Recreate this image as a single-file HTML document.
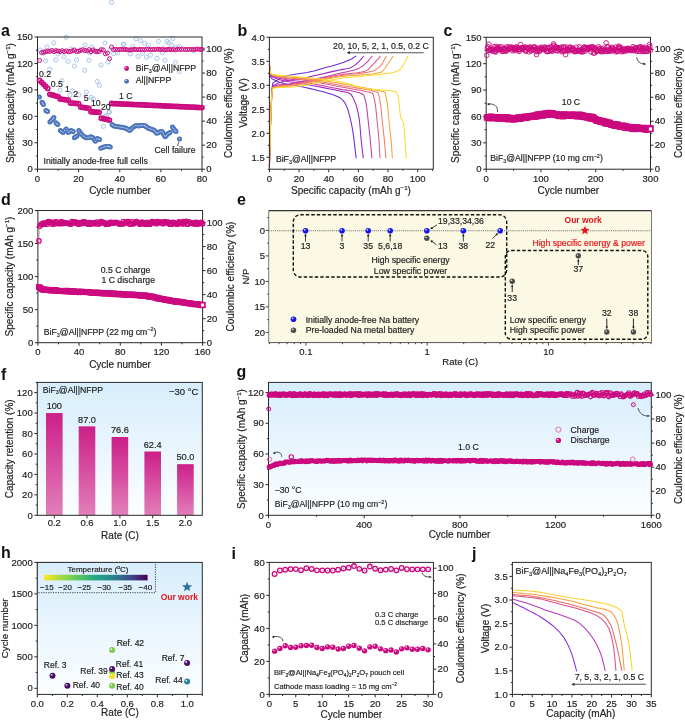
<!DOCTYPE html>
<html><head><meta charset="utf-8"><style>
html,body{margin:0;padding:0;background:#fff;}
svg{display:block;font-family:"Liberation Sans",sans-serif;will-change:transform;}
</style></head><body>
<svg width="685" height="720" viewBox="0 0 685 720">
<rect width="685" height="720" fill="#fff"/>
<defs><linearGradient id="gblue" x1="0" y1="0" x2="0" y2="1"><stop offset="0" stop-color="#d7edfc"/><stop offset="1" stop-color="#fcfeff"/></linearGradient><linearGradient id="gbar" x1="0" y1="0" x2="0" y2="1"><stop offset="0" stop-color="#cc1f88"/><stop offset="1" stop-color="#e27fba"/></linearGradient><linearGradient id="gvir" x1="0" y1="0" x2="1" y2="0"><stop offset="0" stop-color="#fde725"/><stop offset="0.25" stop-color="#7ad151"/><stop offset="0.5" stop-color="#22a884"/><stop offset="0.7" stop-color="#2a788e"/><stop offset="0.85" stop-color="#414487"/><stop offset="1" stop-color="#440154"/></linearGradient></defs>
<text x="1" y="36.4" font-size="16" text-anchor="start" fill="#111" font-weight="bold" >a</text>
<circle cx="111.6" cy="2.4" r="2.1" fill="none" stroke="#8fb0e0" stroke-width="0.7"/>
<circle cx="111.6" cy="2.4" r="0.45" fill="#8fb0e0"/>
<circle cx="66.1" cy="37.2" r="2.1" fill="none" stroke="#8fb0e0" stroke-width="0.7"/>
<circle cx="66.1" cy="37.2" r="0.45" fill="#8fb0e0"/>
<circle cx="53.8" cy="42.7" r="2.1" fill="none" stroke="#8fb0e0" stroke-width="0.7"/>
<circle cx="53.8" cy="42.7" r="0.45" fill="#8fb0e0"/>
<circle cx="58" cy="53.9" r="2.1" fill="none" stroke="#8fb0e0" stroke-width="0.7"/>
<circle cx="58" cy="53.9" r="0.45" fill="#8fb0e0"/>
<circle cx="63.9" cy="56.8" r="2.1" fill="none" stroke="#8fb0e0" stroke-width="0.7"/>
<circle cx="63.9" cy="56.8" r="0.45" fill="#8fb0e0"/>
<circle cx="43.5" cy="53.2" r="2.1" fill="none" stroke="#8fb0e0" stroke-width="0.7"/>
<circle cx="43.5" cy="53.2" r="0.45" fill="#8fb0e0"/>
<circle cx="45.5" cy="60.7" r="2.1" fill="none" stroke="#8fb0e0" stroke-width="0.7"/>
<circle cx="45.5" cy="60.7" r="0.45" fill="#8fb0e0"/>
<circle cx="55.8" cy="59.8" r="2.1" fill="none" stroke="#8fb0e0" stroke-width="0.7"/>
<circle cx="55.8" cy="59.8" r="0.45" fill="#8fb0e0"/>
<circle cx="68.2" cy="61.4" r="2.1" fill="none" stroke="#8fb0e0" stroke-width="0.7"/>
<circle cx="68.2" cy="61.4" r="0.45" fill="#8fb0e0"/>
<circle cx="76.5" cy="59.8" r="2.1" fill="none" stroke="#8fb0e0" stroke-width="0.7"/>
<circle cx="76.5" cy="59.8" r="0.45" fill="#8fb0e0"/>
<circle cx="74.4" cy="66.1" r="2.1" fill="none" stroke="#8fb0e0" stroke-width="0.7"/>
<circle cx="74.4" cy="66.1" r="0.45" fill="#8fb0e0"/>
<circle cx="88.9" cy="60.4" r="2.1" fill="none" stroke="#8fb0e0" stroke-width="0.7"/>
<circle cx="88.9" cy="60.4" r="0.45" fill="#8fb0e0"/>
<circle cx="84.7" cy="70.3" r="2.1" fill="none" stroke="#8fb0e0" stroke-width="0.7"/>
<circle cx="84.7" cy="70.3" r="0.45" fill="#8fb0e0"/>
<circle cx="49.7" cy="69.2" r="2.1" fill="none" stroke="#8fb0e0" stroke-width="0.7"/>
<circle cx="49.7" cy="69.2" r="0.45" fill="#8fb0e0"/>
<circle cx="113.6" cy="53.6" r="2.1" fill="none" stroke="#8fb0e0" stroke-width="0.7"/>
<circle cx="113.6" cy="53.6" r="0.45" fill="#8fb0e0"/>
<circle cx="123.3" cy="44.4" r="2.1" fill="none" stroke="#8fb0e0" stroke-width="0.7"/>
<circle cx="123.3" cy="44.4" r="0.45" fill="#8fb0e0"/>
<circle cx="61.9" cy="80.8" r="2.1" fill="none" stroke="#8fb0e0" stroke-width="0.7"/>
<circle cx="61.9" cy="80.8" r="0.45" fill="#8fb0e0"/>
<circle cx="97.1" cy="81.5" r="2.1" fill="none" stroke="#8fb0e0" stroke-width="0.7"/>
<circle cx="97.1" cy="81.5" r="0.45" fill="#8fb0e0"/>
<circle cx="99.4" cy="85.4" r="2.1" fill="none" stroke="#8fb0e0" stroke-width="0.7"/>
<circle cx="99.4" cy="85.4" r="0.45" fill="#8fb0e0"/>
<circle cx="136" cy="38.8" r="2.1" fill="none" stroke="#8fb0e0" stroke-width="0.7"/>
<circle cx="136" cy="38.8" r="0.45" fill="#8fb0e0"/>
<circle cx="140.6" cy="40.7" r="2.1" fill="none" stroke="#8fb0e0" stroke-width="0.7"/>
<circle cx="140.6" cy="40.7" r="0.45" fill="#8fb0e0"/>
<circle cx="144.6" cy="43.4" r="2.1" fill="none" stroke="#8fb0e0" stroke-width="0.7"/>
<circle cx="144.6" cy="43.4" r="0.45" fill="#8fb0e0"/>
<circle cx="123.9" cy="44.4" r="2.1" fill="none" stroke="#8fb0e0" stroke-width="0.7"/>
<circle cx="123.9" cy="44.4" r="0.45" fill="#8fb0e0"/>
<circle cx="132.7" cy="46.6" r="2.1" fill="none" stroke="#8fb0e0" stroke-width="0.7"/>
<circle cx="132.7" cy="46.6" r="0.45" fill="#8fb0e0"/>
<circle cx="148.5" cy="45.3" r="2.1" fill="none" stroke="#8fb0e0" stroke-width="0.7"/>
<circle cx="148.5" cy="45.3" r="0.45" fill="#8fb0e0"/>
<circle cx="158.4" cy="41.4" r="2.1" fill="none" stroke="#8fb0e0" stroke-width="0.7"/>
<circle cx="158.4" cy="41.4" r="0.45" fill="#8fb0e0"/>
<circle cx="166.9" cy="41.4" r="2.1" fill="none" stroke="#8fb0e0" stroke-width="0.7"/>
<circle cx="166.9" cy="41.4" r="0.45" fill="#8fb0e0"/>
<circle cx="168.9" cy="42.7" r="2.1" fill="none" stroke="#8fb0e0" stroke-width="0.7"/>
<circle cx="168.9" cy="42.7" r="0.45" fill="#8fb0e0"/>
<circle cx="172.8" cy="38.4" r="2.1" fill="none" stroke="#8fb0e0" stroke-width="0.7"/>
<circle cx="172.8" cy="38.4" r="0.45" fill="#8fb0e0"/>
<circle cx="171.5" cy="45.3" r="2.1" fill="none" stroke="#8fb0e0" stroke-width="0.7"/>
<circle cx="171.5" cy="45.3" r="0.45" fill="#8fb0e0"/>
<circle cx="176.1" cy="47.3" r="2.1" fill="none" stroke="#8fb0e0" stroke-width="0.7"/>
<circle cx="176.1" cy="47.3" r="0.45" fill="#8fb0e0"/>
<circle cx="179.4" cy="46.6" r="2.1" fill="none" stroke="#8fb0e0" stroke-width="0.7"/>
<circle cx="179.4" cy="46.6" r="0.45" fill="#8fb0e0"/>
<circle cx="117.6" cy="52.6" r="2.1" fill="none" stroke="#8fb0e0" stroke-width="0.7"/>
<circle cx="117.6" cy="52.6" r="0.45" fill="#8fb0e0"/>
<circle cx="130.1" cy="53.9" r="2.1" fill="none" stroke="#8fb0e0" stroke-width="0.7"/>
<circle cx="130.1" cy="53.9" r="0.45" fill="#8fb0e0"/>
<circle cx="138" cy="56.5" r="2.1" fill="none" stroke="#8fb0e0" stroke-width="0.7"/>
<circle cx="138" cy="56.5" r="0.45" fill="#8fb0e0"/>
<circle cx="146.5" cy="57.2" r="2.1" fill="none" stroke="#8fb0e0" stroke-width="0.7"/>
<circle cx="146.5" cy="57.2" r="0.45" fill="#8fb0e0"/>
<circle cx="150.5" cy="55.2" r="2.1" fill="none" stroke="#8fb0e0" stroke-width="0.7"/>
<circle cx="150.5" cy="55.2" r="0.45" fill="#8fb0e0"/>
<circle cx="142.6" cy="53.2" r="2.1" fill="none" stroke="#8fb0e0" stroke-width="0.7"/>
<circle cx="142.6" cy="53.2" r="0.45" fill="#8fb0e0"/>
<circle cx="157" cy="58.5" r="2.1" fill="none" stroke="#8fb0e0" stroke-width="0.7"/>
<circle cx="157" cy="58.5" r="0.45" fill="#8fb0e0"/>
<circle cx="164.9" cy="60.4" r="2.1" fill="none" stroke="#8fb0e0" stroke-width="0.7"/>
<circle cx="164.9" cy="60.4" r="0.45" fill="#8fb0e0"/>
<circle cx="162.3" cy="52.6" r="2.1" fill="none" stroke="#8fb0e0" stroke-width="0.7"/>
<circle cx="162.3" cy="52.6" r="0.45" fill="#8fb0e0"/>
<circle cx="175.4" cy="62.4" r="2.1" fill="none" stroke="#8fb0e0" stroke-width="0.7"/>
<circle cx="175.4" cy="62.4" r="0.45" fill="#8fb0e0"/>
<circle cx="179.4" cy="71.6" r="2.1" fill="none" stroke="#8fb0e0" stroke-width="0.7"/>
<circle cx="179.4" cy="71.6" r="0.45" fill="#8fb0e0"/>
<circle cx="193.8" cy="50.6" r="2.1" fill="none" stroke="#8fb0e0" stroke-width="0.7"/>
<circle cx="193.8" cy="50.6" r="0.45" fill="#8fb0e0"/>
<circle cx="40" cy="50" r="2.1" fill="none" stroke="#8fb0e0" stroke-width="0.7"/>
<circle cx="40" cy="50" r="0.45" fill="#8fb0e0"/>
<circle cx="47" cy="47" r="2.1" fill="none" stroke="#8fb0e0" stroke-width="0.7"/>
<circle cx="47" cy="47" r="0.45" fill="#8fb0e0"/>
<circle cx="71" cy="49" r="2.1" fill="none" stroke="#8fb0e0" stroke-width="0.7"/>
<circle cx="71" cy="49" r="0.45" fill="#8fb0e0"/>
<circle cx="80" cy="50" r="2.1" fill="none" stroke="#8fb0e0" stroke-width="0.7"/>
<circle cx="80" cy="50" r="0.45" fill="#8fb0e0"/>
<circle cx="92" cy="47" r="2.1" fill="none" stroke="#8fb0e0" stroke-width="0.7"/>
<circle cx="92" cy="47" r="0.45" fill="#8fb0e0"/>
<circle cx="96" cy="52" r="2.1" fill="none" stroke="#8fb0e0" stroke-width="0.7"/>
<circle cx="96" cy="52" r="0.45" fill="#8fb0e0"/>
<circle cx="105" cy="43" r="2.1" fill="none" stroke="#8fb0e0" stroke-width="0.7"/>
<circle cx="105" cy="43" r="0.45" fill="#8fb0e0"/>
<circle cx="108" cy="62" r="2.1" fill="none" stroke="#8fb0e0" stroke-width="0.7"/>
<circle cx="108" cy="62" r="0.45" fill="#8fb0e0"/>
<circle cx="101" cy="65" r="2.1" fill="none" stroke="#8fb0e0" stroke-width="0.7"/>
<circle cx="101" cy="65" r="0.45" fill="#8fb0e0"/>
<circle cx="110" cy="50" r="2.1" fill="none" stroke="#8fb0e0" stroke-width="0.7"/>
<circle cx="110" cy="50" r="0.45" fill="#8fb0e0"/>
<circle cx="90" cy="53" r="2.1" fill="none" stroke="#8fb0e0" stroke-width="0.7"/>
<circle cx="90" cy="53" r="0.45" fill="#8fb0e0"/>
<circle cx="85" cy="45" r="2.1" fill="none" stroke="#8fb0e0" stroke-width="0.7"/>
<circle cx="85" cy="45" r="0.45" fill="#8fb0e0"/>
<circle cx="60.1" cy="90.2" r="2.1" fill="none" stroke="#8fb0e0" stroke-width="0.7"/>
<circle cx="60.1" cy="90.2" r="0.45" fill="#8fb0e0"/>
<circle cx="72.4" cy="90.8" r="2.1" fill="none" stroke="#8fb0e0" stroke-width="0.7"/>
<circle cx="72.4" cy="90.8" r="0.45" fill="#8fb0e0"/>
<circle cx="70" cy="94.9" r="2.1" fill="none" stroke="#8fb0e0" stroke-width="0.7"/>
<circle cx="70" cy="94.9" r="0.45" fill="#8fb0e0"/>
<circle cx="78.8" cy="94.9" r="2.1" fill="none" stroke="#8fb0e0" stroke-width="0.7"/>
<circle cx="78.8" cy="94.9" r="0.45" fill="#8fb0e0"/>
<circle cx="86.4" cy="91.9" r="2.1" fill="none" stroke="#8fb0e0" stroke-width="0.7"/>
<circle cx="86.4" cy="91.9" r="0.45" fill="#8fb0e0"/>
<circle cx="91.1" cy="97.2" r="2.1" fill="none" stroke="#8fb0e0" stroke-width="0.7"/>
<circle cx="91.1" cy="97.2" r="0.45" fill="#8fb0e0"/>
<circle cx="93.4" cy="99" r="2.1" fill="none" stroke="#8fb0e0" stroke-width="0.7"/>
<circle cx="93.4" cy="99" r="0.45" fill="#8fb0e0"/>
<circle cx="109.2" cy="111.8" r="2.1" fill="none" stroke="#8fb0e0" stroke-width="0.7"/>
<circle cx="109.2" cy="111.8" r="0.45" fill="#8fb0e0"/>
<circle cx="105.1" cy="115.9" r="2.1" fill="none" stroke="#8fb0e0" stroke-width="0.7"/>
<circle cx="105.1" cy="115.9" r="0.45" fill="#8fb0e0"/>
<circle cx="103.3" cy="126.4" r="2.1" fill="none" stroke="#8fb0e0" stroke-width="0.7"/>
<circle cx="103.3" cy="126.4" r="0.45" fill="#8fb0e0"/>
<circle cx="106.6" cy="115.9" r="2.1" fill="none" stroke="#8fb0e0" stroke-width="0.7"/>
<circle cx="106.6" cy="115.9" r="0.45" fill="#8fb0e0"/>
<circle cx="109.2" cy="112" r="2.1" fill="none" stroke="#8fb0e0" stroke-width="0.7"/>
<circle cx="109.2" cy="112" r="0.45" fill="#8fb0e0"/>
<rect x="37.5" y="37" width="164.5" height="132.2" fill="none" stroke="#2a2a2a" stroke-width="1"/>
<line x1="37.5" y1="169.2" x2="37.5" y2="172.2" stroke="#2a2a2a" stroke-width="1" />
<text x="37.5" y="181.5" font-size="9.5" text-anchor="middle" fill="#222" stroke="#222" stroke-width="0.18" >0</text>
<line x1="78.62" y1="169.2" x2="78.62" y2="172.2" stroke="#2a2a2a" stroke-width="1" />
<text x="78.62" y="181.5" font-size="9.5" text-anchor="middle" fill="#222" stroke="#222" stroke-width="0.18" >20</text>
<line x1="119.75" y1="169.2" x2="119.75" y2="172.2" stroke="#2a2a2a" stroke-width="1" />
<text x="119.75" y="181.5" font-size="9.5" text-anchor="middle" fill="#222" stroke="#222" stroke-width="0.18" >40</text>
<line x1="160.88" y1="169.2" x2="160.88" y2="172.2" stroke="#2a2a2a" stroke-width="1" />
<text x="160.88" y="181.5" font-size="9.5" text-anchor="middle" fill="#222" stroke="#222" stroke-width="0.18" >60</text>
<line x1="202" y1="169.2" x2="202" y2="172.2" stroke="#2a2a2a" stroke-width="1" />
<text x="202" y="181.5" font-size="9.5" text-anchor="middle" fill="#222" stroke="#222" stroke-width="0.18" >80</text>
<line x1="58.06" y1="169.2" x2="58.06" y2="170.8" stroke="#2a2a2a" stroke-width="1" />
<line x1="99.19" y1="169.2" x2="99.19" y2="170.8" stroke="#2a2a2a" stroke-width="1" />
<line x1="140.31" y1="169.2" x2="140.31" y2="170.8" stroke="#2a2a2a" stroke-width="1" />
<line x1="181.44" y1="169.2" x2="181.44" y2="170.8" stroke="#2a2a2a" stroke-width="1" />
<line x1="34.5" y1="169.2" x2="37.5" y2="169.2" stroke="#2a2a2a" stroke-width="1" />
<text x="32.9" y="172.4" font-size="9.5" text-anchor="end" fill="#222" stroke="#222" stroke-width="0.18" >0</text>
<line x1="34.5" y1="142.76" x2="37.5" y2="142.76" stroke="#2a2a2a" stroke-width="1" />
<text x="32.9" y="145.96" font-size="9.5" text-anchor="end" fill="#222" stroke="#222" stroke-width="0.18" >30</text>
<line x1="34.5" y1="116.32" x2="37.5" y2="116.32" stroke="#2a2a2a" stroke-width="1" />
<text x="32.9" y="119.52" font-size="9.5" text-anchor="end" fill="#222" stroke="#222" stroke-width="0.18" >60</text>
<line x1="34.5" y1="89.88" x2="37.5" y2="89.88" stroke="#2a2a2a" stroke-width="1" />
<text x="32.9" y="93.08" font-size="9.5" text-anchor="end" fill="#222" stroke="#222" stroke-width="0.18" >90</text>
<line x1="34.5" y1="63.44" x2="37.5" y2="63.44" stroke="#2a2a2a" stroke-width="1" />
<text x="32.9" y="66.64" font-size="9.5" text-anchor="end" fill="#222" stroke="#222" stroke-width="0.18" >120</text>
<line x1="34.5" y1="37" x2="37.5" y2="37" stroke="#2a2a2a" stroke-width="1" />
<text x="32.9" y="40.2" font-size="9.5" text-anchor="end" fill="#222" stroke="#222" stroke-width="0.18" >150</text>
<line x1="35.9" y1="155.98" x2="37.5" y2="155.98" stroke="#2a2a2a" stroke-width="1" />
<line x1="35.9" y1="129.54" x2="37.5" y2="129.54" stroke="#2a2a2a" stroke-width="1" />
<line x1="35.9" y1="103.1" x2="37.5" y2="103.1" stroke="#2a2a2a" stroke-width="1" />
<line x1="35.9" y1="76.66" x2="37.5" y2="76.66" stroke="#2a2a2a" stroke-width="1" />
<line x1="35.9" y1="50.22" x2="37.5" y2="50.22" stroke="#2a2a2a" stroke-width="1" />
<line x1="202" y1="169.2" x2="205" y2="169.2" stroke="#2a2a2a" stroke-width="1" />
<text x="206.2" y="172.4" font-size="9.5" text-anchor="start" fill="#222" stroke="#222" stroke-width="0.18" >0</text>
<line x1="202" y1="145.16" x2="205" y2="145.16" stroke="#2a2a2a" stroke-width="1" />
<text x="206.2" y="148.36" font-size="9.5" text-anchor="start" fill="#222" stroke="#222" stroke-width="0.18" >20</text>
<line x1="202" y1="121.13" x2="205" y2="121.13" stroke="#2a2a2a" stroke-width="1" />
<text x="206.2" y="124.33" font-size="9.5" text-anchor="start" fill="#222" stroke="#222" stroke-width="0.18" >40</text>
<line x1="202" y1="97.09" x2="205" y2="97.09" stroke="#2a2a2a" stroke-width="1" />
<text x="206.2" y="100.29" font-size="9.5" text-anchor="start" fill="#222" stroke="#222" stroke-width="0.18" >60</text>
<line x1="202" y1="73.05" x2="205" y2="73.05" stroke="#2a2a2a" stroke-width="1" />
<text x="206.2" y="76.25" font-size="9.5" text-anchor="start" fill="#222" stroke="#222" stroke-width="0.18" >80</text>
<line x1="202" y1="49.02" x2="205" y2="49.02" stroke="#2a2a2a" stroke-width="1" />
<text x="206.2" y="52.22" font-size="9.5" text-anchor="start" fill="#222" stroke="#222" stroke-width="0.18" >100</text>
<line x1="202" y1="157.18" x2="203.6" y2="157.18" stroke="#2a2a2a" stroke-width="1" />
<line x1="202" y1="133.15" x2="203.6" y2="133.15" stroke="#2a2a2a" stroke-width="1" />
<line x1="202" y1="109.11" x2="203.6" y2="109.11" stroke="#2a2a2a" stroke-width="1" />
<line x1="202" y1="85.07" x2="203.6" y2="85.07" stroke="#2a2a2a" stroke-width="1" />
<line x1="202" y1="61.04" x2="203.6" y2="61.04" stroke="#2a2a2a" stroke-width="1" />
<text x="14" y="103" font-size="10" text-anchor="middle" fill="#222" stroke="#222" stroke-width="0.18" transform="rotate(-90 14 103)" >Specific capacity (mAh g<tspan font-size="6.20" dy="-3.80">−1</tspan><tspan dy="3.80">)</tspan></text>
<text x="232" y="103" font-size="10" text-anchor="middle" fill="#222" stroke="#222" stroke-width="0.18" transform="rotate(-90 232 103)" >Coulombic efficiency (%)</text>
<text x="120" y="193.5" font-size="10" text-anchor="middle" fill="#222" stroke="#222" stroke-width="0.18" >Cycle number</text>
<circle cx="39.56" cy="60.44" r="2.0" fill="none" stroke="#cc0a7f" stroke-width="1.0"/>
<circle cx="39.56" cy="60.44" r="0.45" fill="#cc0a7f"/>
<circle cx="41.61" cy="52.62" r="2.0" fill="none" stroke="#cc0a7f" stroke-width="1.0"/>
<circle cx="41.61" cy="52.62" r="0.45" fill="#cc0a7f"/>
<circle cx="43.67" cy="52.02" r="2.0" fill="none" stroke="#cc0a7f" stroke-width="1.0"/>
<circle cx="43.67" cy="52.02" r="0.45" fill="#cc0a7f"/>
<circle cx="45.73" cy="51.66" r="2.0" fill="none" stroke="#cc0a7f" stroke-width="1.0"/>
<circle cx="45.73" cy="51.66" r="0.45" fill="#cc0a7f"/>
<circle cx="47.78" cy="51.08" r="2.0" fill="none" stroke="#cc0a7f" stroke-width="1.0"/>
<circle cx="47.78" cy="51.08" r="0.45" fill="#cc0a7f"/>
<circle cx="49.84" cy="51.46" r="2.0" fill="none" stroke="#cc0a7f" stroke-width="1.0"/>
<circle cx="49.84" cy="51.46" r="0.45" fill="#cc0a7f"/>
<circle cx="51.89" cy="50.37" r="2.0" fill="none" stroke="#cc0a7f" stroke-width="1.0"/>
<circle cx="51.89" cy="50.37" r="0.45" fill="#cc0a7f"/>
<circle cx="53.95" cy="51.63" r="2.0" fill="none" stroke="#cc0a7f" stroke-width="1.0"/>
<circle cx="53.95" cy="51.63" r="0.45" fill="#cc0a7f"/>
<circle cx="56.01" cy="50.62" r="2.0" fill="none" stroke="#cc0a7f" stroke-width="1.0"/>
<circle cx="56.01" cy="50.62" r="0.45" fill="#cc0a7f"/>
<circle cx="58.06" cy="50.99" r="2.0" fill="none" stroke="#cc0a7f" stroke-width="1.0"/>
<circle cx="58.06" cy="50.99" r="0.45" fill="#cc0a7f"/>
<circle cx="60.12" cy="51.66" r="2.0" fill="none" stroke="#cc0a7f" stroke-width="1.0"/>
<circle cx="60.12" cy="51.66" r="0.45" fill="#cc0a7f"/>
<circle cx="62.17" cy="50.68" r="2.0" fill="none" stroke="#cc0a7f" stroke-width="1.0"/>
<circle cx="62.17" cy="50.68" r="0.45" fill="#cc0a7f"/>
<circle cx="64.23" cy="51.7" r="2.0" fill="none" stroke="#cc0a7f" stroke-width="1.0"/>
<circle cx="64.23" cy="51.7" r="0.45" fill="#cc0a7f"/>
<circle cx="66.29" cy="50.84" r="2.0" fill="none" stroke="#cc0a7f" stroke-width="1.0"/>
<circle cx="66.29" cy="50.84" r="0.45" fill="#cc0a7f"/>
<circle cx="68.34" cy="51.63" r="2.0" fill="none" stroke="#cc0a7f" stroke-width="1.0"/>
<circle cx="68.34" cy="51.63" r="0.45" fill="#cc0a7f"/>
<circle cx="70.4" cy="51.59" r="2.0" fill="none" stroke="#cc0a7f" stroke-width="1.0"/>
<circle cx="70.4" cy="51.59" r="0.45" fill="#cc0a7f"/>
<circle cx="72.46" cy="50.86" r="2.0" fill="none" stroke="#cc0a7f" stroke-width="1.0"/>
<circle cx="72.46" cy="50.86" r="0.45" fill="#cc0a7f"/>
<circle cx="74.51" cy="49.99" r="2.0" fill="none" stroke="#cc0a7f" stroke-width="1.0"/>
<circle cx="74.51" cy="49.99" r="0.45" fill="#cc0a7f"/>
<circle cx="76.57" cy="51.51" r="2.0" fill="none" stroke="#cc0a7f" stroke-width="1.0"/>
<circle cx="76.57" cy="51.51" r="0.45" fill="#cc0a7f"/>
<circle cx="78.62" cy="51.3" r="2.0" fill="none" stroke="#cc0a7f" stroke-width="1.0"/>
<circle cx="78.62" cy="51.3" r="0.45" fill="#cc0a7f"/>
<circle cx="80.68" cy="50.43" r="2.0" fill="none" stroke="#cc0a7f" stroke-width="1.0"/>
<circle cx="80.68" cy="50.43" r="0.45" fill="#cc0a7f"/>
<circle cx="82.74" cy="49.73" r="2.0" fill="none" stroke="#cc0a7f" stroke-width="1.0"/>
<circle cx="82.74" cy="49.73" r="0.45" fill="#cc0a7f"/>
<circle cx="84.79" cy="50.53" r="2.0" fill="none" stroke="#cc0a7f" stroke-width="1.0"/>
<circle cx="84.79" cy="50.53" r="0.45" fill="#cc0a7f"/>
<circle cx="86.85" cy="50.92" r="2.0" fill="none" stroke="#cc0a7f" stroke-width="1.0"/>
<circle cx="86.85" cy="50.92" r="0.45" fill="#cc0a7f"/>
<circle cx="88.91" cy="49.67" r="2.0" fill="none" stroke="#cc0a7f" stroke-width="1.0"/>
<circle cx="88.91" cy="49.67" r="0.45" fill="#cc0a7f"/>
<circle cx="90.96" cy="51.68" r="2.0" fill="none" stroke="#cc0a7f" stroke-width="1.0"/>
<circle cx="90.96" cy="51.68" r="0.45" fill="#cc0a7f"/>
<circle cx="93.02" cy="49.93" r="2.0" fill="none" stroke="#cc0a7f" stroke-width="1.0"/>
<circle cx="93.02" cy="49.93" r="0.45" fill="#cc0a7f"/>
<circle cx="95.07" cy="51.16" r="2.0" fill="none" stroke="#cc0a7f" stroke-width="1.0"/>
<circle cx="95.07" cy="51.16" r="0.45" fill="#cc0a7f"/>
<circle cx="97.13" cy="51.47" r="2.0" fill="none" stroke="#cc0a7f" stroke-width="1.0"/>
<circle cx="97.13" cy="51.47" r="0.45" fill="#cc0a7f"/>
<circle cx="99.19" cy="51.53" r="2.0" fill="none" stroke="#cc0a7f" stroke-width="1.0"/>
<circle cx="99.19" cy="51.53" r="0.45" fill="#cc0a7f"/>
<circle cx="101.24" cy="49.62" r="2.0" fill="none" stroke="#cc0a7f" stroke-width="1.0"/>
<circle cx="101.24" cy="49.62" r="0.45" fill="#cc0a7f"/>
<circle cx="103.3" cy="49.86" r="2.0" fill="none" stroke="#cc0a7f" stroke-width="1.0"/>
<circle cx="103.3" cy="49.86" r="0.45" fill="#cc0a7f"/>
<circle cx="105.36" cy="53.83" r="2.0" fill="none" stroke="#cc0a7f" stroke-width="1.0"/>
<circle cx="105.36" cy="53.83" r="0.45" fill="#cc0a7f"/>
<circle cx="107.41" cy="53.1" r="2.0" fill="none" stroke="#cc0a7f" stroke-width="1.0"/>
<circle cx="107.41" cy="53.1" r="0.45" fill="#cc0a7f"/>
<circle cx="109.47" cy="58.63" r="2.0" fill="none" stroke="#cc0a7f" stroke-width="1.0"/>
<circle cx="109.47" cy="58.63" r="0.45" fill="#cc0a7f"/>
<circle cx="111.53" cy="47.1" r="2.0" fill="none" stroke="#cc0a7f" stroke-width="1.0"/>
<circle cx="111.53" cy="47.1" r="0.45" fill="#cc0a7f"/>
<circle cx="113.58" cy="49.68" r="2.0" fill="none" stroke="#cc0a7f" stroke-width="1.0"/>
<circle cx="113.58" cy="49.68" r="0.45" fill="#cc0a7f"/>
<circle cx="115.64" cy="49.19" r="2.0" fill="none" stroke="#cc0a7f" stroke-width="1.0"/>
<circle cx="115.64" cy="49.19" r="0.45" fill="#cc0a7f"/>
<circle cx="117.69" cy="49.81" r="2.0" fill="none" stroke="#cc0a7f" stroke-width="1.0"/>
<circle cx="117.69" cy="49.81" r="0.45" fill="#cc0a7f"/>
<circle cx="119.75" cy="49.42" r="2.0" fill="none" stroke="#cc0a7f" stroke-width="1.0"/>
<circle cx="119.75" cy="49.42" r="0.45" fill="#cc0a7f"/>
<circle cx="121.81" cy="49.37" r="2.0" fill="none" stroke="#cc0a7f" stroke-width="1.0"/>
<circle cx="121.81" cy="49.37" r="0.45" fill="#cc0a7f"/>
<circle cx="123.86" cy="49.62" r="2.0" fill="none" stroke="#cc0a7f" stroke-width="1.0"/>
<circle cx="123.86" cy="49.62" r="0.45" fill="#cc0a7f"/>
<circle cx="125.92" cy="49.45" r="2.0" fill="none" stroke="#cc0a7f" stroke-width="1.0"/>
<circle cx="125.92" cy="49.45" r="0.45" fill="#cc0a7f"/>
<circle cx="127.98" cy="49.92" r="2.0" fill="none" stroke="#cc0a7f" stroke-width="1.0"/>
<circle cx="127.98" cy="49.92" r="0.45" fill="#cc0a7f"/>
<circle cx="130.03" cy="49.92" r="2.0" fill="none" stroke="#cc0a7f" stroke-width="1.0"/>
<circle cx="130.03" cy="49.92" r="0.45" fill="#cc0a7f"/>
<circle cx="132.09" cy="49.78" r="2.0" fill="none" stroke="#cc0a7f" stroke-width="1.0"/>
<circle cx="132.09" cy="49.78" r="0.45" fill="#cc0a7f"/>
<circle cx="134.14" cy="49.33" r="2.0" fill="none" stroke="#cc0a7f" stroke-width="1.0"/>
<circle cx="134.14" cy="49.33" r="0.45" fill="#cc0a7f"/>
<circle cx="136.2" cy="49.57" r="2.0" fill="none" stroke="#cc0a7f" stroke-width="1.0"/>
<circle cx="136.2" cy="49.57" r="0.45" fill="#cc0a7f"/>
<circle cx="138.26" cy="49.68" r="2.0" fill="none" stroke="#cc0a7f" stroke-width="1.0"/>
<circle cx="138.26" cy="49.68" r="0.45" fill="#cc0a7f"/>
<circle cx="140.31" cy="49.42" r="2.0" fill="none" stroke="#cc0a7f" stroke-width="1.0"/>
<circle cx="140.31" cy="49.42" r="0.45" fill="#cc0a7f"/>
<circle cx="142.37" cy="49.54" r="2.0" fill="none" stroke="#cc0a7f" stroke-width="1.0"/>
<circle cx="142.37" cy="49.54" r="0.45" fill="#cc0a7f"/>
<circle cx="144.43" cy="49.69" r="2.0" fill="none" stroke="#cc0a7f" stroke-width="1.0"/>
<circle cx="144.43" cy="49.69" r="0.45" fill="#cc0a7f"/>
<circle cx="146.48" cy="49.22" r="2.0" fill="none" stroke="#cc0a7f" stroke-width="1.0"/>
<circle cx="146.48" cy="49.22" r="0.45" fill="#cc0a7f"/>
<circle cx="148.54" cy="49.31" r="2.0" fill="none" stroke="#cc0a7f" stroke-width="1.0"/>
<circle cx="148.54" cy="49.31" r="0.45" fill="#cc0a7f"/>
<circle cx="150.59" cy="49.74" r="2.0" fill="none" stroke="#cc0a7f" stroke-width="1.0"/>
<circle cx="150.59" cy="49.74" r="0.45" fill="#cc0a7f"/>
<circle cx="152.65" cy="49.43" r="2.0" fill="none" stroke="#cc0a7f" stroke-width="1.0"/>
<circle cx="152.65" cy="49.43" r="0.45" fill="#cc0a7f"/>
<circle cx="154.71" cy="49.47" r="2.0" fill="none" stroke="#cc0a7f" stroke-width="1.0"/>
<circle cx="154.71" cy="49.47" r="0.45" fill="#cc0a7f"/>
<circle cx="156.76" cy="49.14" r="2.0" fill="none" stroke="#cc0a7f" stroke-width="1.0"/>
<circle cx="156.76" cy="49.14" r="0.45" fill="#cc0a7f"/>
<circle cx="158.82" cy="49.28" r="2.0" fill="none" stroke="#cc0a7f" stroke-width="1.0"/>
<circle cx="158.82" cy="49.28" r="0.45" fill="#cc0a7f"/>
<circle cx="160.88" cy="49.7" r="2.0" fill="none" stroke="#cc0a7f" stroke-width="1.0"/>
<circle cx="160.88" cy="49.7" r="0.45" fill="#cc0a7f"/>
<circle cx="162.93" cy="49.04" r="2.0" fill="none" stroke="#cc0a7f" stroke-width="1.0"/>
<circle cx="162.93" cy="49.04" r="0.45" fill="#cc0a7f"/>
<circle cx="164.99" cy="49.87" r="2.0" fill="none" stroke="#cc0a7f" stroke-width="1.0"/>
<circle cx="164.99" cy="49.87" r="0.45" fill="#cc0a7f"/>
<circle cx="167.04" cy="49.58" r="2.0" fill="none" stroke="#cc0a7f" stroke-width="1.0"/>
<circle cx="167.04" cy="49.58" r="0.45" fill="#cc0a7f"/>
<circle cx="169.1" cy="49.25" r="2.0" fill="none" stroke="#cc0a7f" stroke-width="1.0"/>
<circle cx="169.1" cy="49.25" r="0.45" fill="#cc0a7f"/>
<circle cx="171.16" cy="49.83" r="2.0" fill="none" stroke="#cc0a7f" stroke-width="1.0"/>
<circle cx="171.16" cy="49.83" r="0.45" fill="#cc0a7f"/>
<circle cx="173.21" cy="49.51" r="2.0" fill="none" stroke="#cc0a7f" stroke-width="1.0"/>
<circle cx="173.21" cy="49.51" r="0.45" fill="#cc0a7f"/>
<circle cx="175.27" cy="49.94" r="2.0" fill="none" stroke="#cc0a7f" stroke-width="1.0"/>
<circle cx="175.27" cy="49.94" r="0.45" fill="#cc0a7f"/>
<circle cx="177.32" cy="49.34" r="2.0" fill="none" stroke="#cc0a7f" stroke-width="1.0"/>
<circle cx="177.32" cy="49.34" r="0.45" fill="#cc0a7f"/>
<circle cx="179.38" cy="49.24" r="2.0" fill="none" stroke="#cc0a7f" stroke-width="1.0"/>
<circle cx="179.38" cy="49.24" r="0.45" fill="#cc0a7f"/>
<circle cx="181.44" cy="49.43" r="2.0" fill="none" stroke="#cc0a7f" stroke-width="1.0"/>
<circle cx="181.44" cy="49.43" r="0.45" fill="#cc0a7f"/>
<circle cx="183.49" cy="49.14" r="2.0" fill="none" stroke="#cc0a7f" stroke-width="1.0"/>
<circle cx="183.49" cy="49.14" r="0.45" fill="#cc0a7f"/>
<circle cx="185.55" cy="49.68" r="2.0" fill="none" stroke="#cc0a7f" stroke-width="1.0"/>
<circle cx="185.55" cy="49.68" r="0.45" fill="#cc0a7f"/>
<circle cx="187.61" cy="49.31" r="2.0" fill="none" stroke="#cc0a7f" stroke-width="1.0"/>
<circle cx="187.61" cy="49.31" r="0.45" fill="#cc0a7f"/>
<circle cx="189.66" cy="49.41" r="2.0" fill="none" stroke="#cc0a7f" stroke-width="1.0"/>
<circle cx="189.66" cy="49.41" r="0.45" fill="#cc0a7f"/>
<circle cx="191.72" cy="49.42" r="2.0" fill="none" stroke="#cc0a7f" stroke-width="1.0"/>
<circle cx="191.72" cy="49.42" r="0.45" fill="#cc0a7f"/>
<circle cx="193.78" cy="49.54" r="2.0" fill="none" stroke="#cc0a7f" stroke-width="1.0"/>
<circle cx="193.78" cy="49.54" r="0.45" fill="#cc0a7f"/>
<circle cx="195.83" cy="49.17" r="2.0" fill="none" stroke="#cc0a7f" stroke-width="1.0"/>
<circle cx="195.83" cy="49.17" r="0.45" fill="#cc0a7f"/>
<circle cx="197.89" cy="49.07" r="2.0" fill="none" stroke="#cc0a7f" stroke-width="1.0"/>
<circle cx="197.89" cy="49.07" r="0.45" fill="#cc0a7f"/>
<circle cx="199.94" cy="49.52" r="2.0" fill="none" stroke="#cc0a7f" stroke-width="1.0"/>
<circle cx="199.94" cy="49.52" r="0.45" fill="#cc0a7f"/>
<circle cx="202" cy="49.34" r="2.0" fill="none" stroke="#cc0a7f" stroke-width="1.0"/>
<circle cx="202" cy="49.34" r="0.45" fill="#cc0a7f"/>
<circle cx="39.56" cy="80.36" r="2.0" fill="none" stroke="#cc0a7f" stroke-width="1.7"/>
<circle cx="41.61" cy="82.37" r="2.0" fill="none" stroke="#cc0a7f" stroke-width="1.7"/>
<circle cx="43.67" cy="84.37" r="2.0" fill="none" stroke="#cc0a7f" stroke-width="1.7"/>
<circle cx="45.73" cy="86.38" r="2.0" fill="none" stroke="#cc0a7f" stroke-width="1.7"/>
<circle cx="47.78" cy="88.38" r="2.0" fill="none" stroke="#cc0a7f" stroke-width="1.7"/>
<circle cx="49.84" cy="94.29" r="2.0" fill="none" stroke="#cc0a7f" stroke-width="1.7"/>
<circle cx="51.89" cy="94.86" r="2.0" fill="none" stroke="#cc0a7f" stroke-width="1.7"/>
<circle cx="53.95" cy="95.43" r="2.0" fill="none" stroke="#cc0a7f" stroke-width="1.7"/>
<circle cx="56.01" cy="96.01" r="2.0" fill="none" stroke="#cc0a7f" stroke-width="1.7"/>
<circle cx="58.06" cy="96.58" r="2.0" fill="none" stroke="#cc0a7f" stroke-width="1.7"/>
<circle cx="60.12" cy="98.96" r="2.0" fill="none" stroke="#cc0a7f" stroke-width="1.7"/>
<circle cx="62.17" cy="99.24" r="2.0" fill="none" stroke="#cc0a7f" stroke-width="1.7"/>
<circle cx="64.23" cy="99.53" r="2.0" fill="none" stroke="#cc0a7f" stroke-width="1.7"/>
<circle cx="66.29" cy="99.82" r="2.0" fill="none" stroke="#cc0a7f" stroke-width="1.7"/>
<circle cx="68.34" cy="100.1" r="2.0" fill="none" stroke="#cc0a7f" stroke-width="1.7"/>
<circle cx="70.4" cy="103.01" r="2.0" fill="none" stroke="#cc0a7f" stroke-width="1.7"/>
<circle cx="72.46" cy="103.17" r="2.0" fill="none" stroke="#cc0a7f" stroke-width="1.7"/>
<circle cx="74.51" cy="103.32" r="2.0" fill="none" stroke="#cc0a7f" stroke-width="1.7"/>
<circle cx="76.57" cy="103.47" r="2.0" fill="none" stroke="#cc0a7f" stroke-width="1.7"/>
<circle cx="78.62" cy="103.63" r="2.0" fill="none" stroke="#cc0a7f" stroke-width="1.7"/>
<circle cx="80.68" cy="107.07" r="2.0" fill="none" stroke="#cc0a7f" stroke-width="1.7"/>
<circle cx="82.74" cy="107.37" r="2.0" fill="none" stroke="#cc0a7f" stroke-width="1.7"/>
<circle cx="84.79" cy="107.68" r="2.0" fill="none" stroke="#cc0a7f" stroke-width="1.7"/>
<circle cx="86.85" cy="107.99" r="2.0" fill="none" stroke="#cc0a7f" stroke-width="1.7"/>
<circle cx="88.91" cy="108.3" r="2.0" fill="none" stroke="#cc0a7f" stroke-width="1.7"/>
<circle cx="90.96" cy="111.74" r="2.0" fill="none" stroke="#cc0a7f" stroke-width="1.7"/>
<circle cx="93.02" cy="111.89" r="2.0" fill="none" stroke="#cc0a7f" stroke-width="1.7"/>
<circle cx="95.07" cy="112.05" r="2.0" fill="none" stroke="#cc0a7f" stroke-width="1.7"/>
<circle cx="97.13" cy="112.2" r="2.0" fill="none" stroke="#cc0a7f" stroke-width="1.7"/>
<circle cx="99.19" cy="112.35" r="2.0" fill="none" stroke="#cc0a7f" stroke-width="1.7"/>
<circle cx="101.24" cy="118.17" r="2.0" fill="none" stroke="#cc0a7f" stroke-width="1.7"/>
<circle cx="103.3" cy="118.63" r="2.0" fill="none" stroke="#cc0a7f" stroke-width="1.7"/>
<circle cx="105.36" cy="119.1" r="2.0" fill="none" stroke="#cc0a7f" stroke-width="1.7"/>
<circle cx="107.41" cy="119.56" r="2.0" fill="none" stroke="#cc0a7f" stroke-width="1.7"/>
<circle cx="109.47" cy="120.02" r="2.0" fill="none" stroke="#cc0a7f" stroke-width="1.7"/>
<circle cx="111.53" cy="103.45" r="2.0" fill="none" stroke="#cc0a7f" stroke-width="1.7"/>
<circle cx="113.58" cy="103.55" r="2.0" fill="none" stroke="#cc0a7f" stroke-width="1.7"/>
<circle cx="115.64" cy="103.64" r="2.0" fill="none" stroke="#cc0a7f" stroke-width="1.7"/>
<circle cx="117.69" cy="103.73" r="2.0" fill="none" stroke="#cc0a7f" stroke-width="1.7"/>
<circle cx="119.75" cy="103.83" r="2.0" fill="none" stroke="#cc0a7f" stroke-width="1.7"/>
<circle cx="121.81" cy="103.92" r="2.0" fill="none" stroke="#cc0a7f" stroke-width="1.7"/>
<circle cx="123.86" cy="104.02" r="2.0" fill="none" stroke="#cc0a7f" stroke-width="1.7"/>
<circle cx="125.92" cy="104.11" r="2.0" fill="none" stroke="#cc0a7f" stroke-width="1.7"/>
<circle cx="127.98" cy="104.21" r="2.0" fill="none" stroke="#cc0a7f" stroke-width="1.7"/>
<circle cx="130.03" cy="104.3" r="2.0" fill="none" stroke="#cc0a7f" stroke-width="1.7"/>
<circle cx="132.09" cy="104.39" r="2.0" fill="none" stroke="#cc0a7f" stroke-width="1.7"/>
<circle cx="134.14" cy="104.49" r="2.0" fill="none" stroke="#cc0a7f" stroke-width="1.7"/>
<circle cx="136.2" cy="104.58" r="2.0" fill="none" stroke="#cc0a7f" stroke-width="1.7"/>
<circle cx="138.26" cy="104.68" r="2.0" fill="none" stroke="#cc0a7f" stroke-width="1.7"/>
<circle cx="140.31" cy="104.77" r="2.0" fill="none" stroke="#cc0a7f" stroke-width="1.7"/>
<circle cx="142.37" cy="104.86" r="2.0" fill="none" stroke="#cc0a7f" stroke-width="1.7"/>
<circle cx="144.43" cy="104.96" r="2.0" fill="none" stroke="#cc0a7f" stroke-width="1.7"/>
<circle cx="146.48" cy="105.05" r="2.0" fill="none" stroke="#cc0a7f" stroke-width="1.7"/>
<circle cx="148.54" cy="105.15" r="2.0" fill="none" stroke="#cc0a7f" stroke-width="1.7"/>
<circle cx="150.59" cy="105.24" r="2.0" fill="none" stroke="#cc0a7f" stroke-width="1.7"/>
<circle cx="152.65" cy="105.34" r="2.0" fill="none" stroke="#cc0a7f" stroke-width="1.7"/>
<circle cx="154.71" cy="105.43" r="2.0" fill="none" stroke="#cc0a7f" stroke-width="1.7"/>
<circle cx="156.76" cy="105.52" r="2.0" fill="none" stroke="#cc0a7f" stroke-width="1.7"/>
<circle cx="158.82" cy="105.62" r="2.0" fill="none" stroke="#cc0a7f" stroke-width="1.7"/>
<circle cx="160.88" cy="105.71" r="2.0" fill="none" stroke="#cc0a7f" stroke-width="1.7"/>
<circle cx="162.93" cy="105.81" r="2.0" fill="none" stroke="#cc0a7f" stroke-width="1.7"/>
<circle cx="164.99" cy="105.9" r="2.0" fill="none" stroke="#cc0a7f" stroke-width="1.7"/>
<circle cx="167.04" cy="105.99" r="2.0" fill="none" stroke="#cc0a7f" stroke-width="1.7"/>
<circle cx="169.1" cy="106.09" r="2.0" fill="none" stroke="#cc0a7f" stroke-width="1.7"/>
<circle cx="171.16" cy="106.18" r="2.0" fill="none" stroke="#cc0a7f" stroke-width="1.7"/>
<circle cx="173.21" cy="106.28" r="2.0" fill="none" stroke="#cc0a7f" stroke-width="1.7"/>
<circle cx="175.27" cy="106.37" r="2.0" fill="none" stroke="#cc0a7f" stroke-width="1.7"/>
<circle cx="177.32" cy="106.47" r="2.0" fill="none" stroke="#cc0a7f" stroke-width="1.7"/>
<circle cx="179.38" cy="106.56" r="2.0" fill="none" stroke="#cc0a7f" stroke-width="1.7"/>
<circle cx="181.44" cy="106.65" r="2.0" fill="none" stroke="#cc0a7f" stroke-width="1.7"/>
<circle cx="183.49" cy="106.75" r="2.0" fill="none" stroke="#cc0a7f" stroke-width="1.7"/>
<circle cx="185.55" cy="106.84" r="2.0" fill="none" stroke="#cc0a7f" stroke-width="1.7"/>
<circle cx="187.61" cy="106.94" r="2.0" fill="none" stroke="#cc0a7f" stroke-width="1.7"/>
<circle cx="189.66" cy="107.03" r="2.0" fill="none" stroke="#cc0a7f" stroke-width="1.7"/>
<circle cx="191.72" cy="107.12" r="2.0" fill="none" stroke="#cc0a7f" stroke-width="1.7"/>
<circle cx="193.78" cy="107.22" r="2.0" fill="none" stroke="#cc0a7f" stroke-width="1.7"/>
<circle cx="195.83" cy="107.31" r="2.0" fill="none" stroke="#cc0a7f" stroke-width="1.7"/>
<circle cx="197.89" cy="107.41" r="2.0" fill="none" stroke="#cc0a7f" stroke-width="1.7"/>
<circle cx="199.94" cy="107.5" r="2.0" fill="none" stroke="#cc0a7f" stroke-width="1.7"/>
<circle cx="202" cy="107.59" r="2.0" fill="none" stroke="#cc0a7f" stroke-width="1.7"/>
<circle cx="39.4" cy="97" r="2.5" fill="#4a74bb"/>
<circle cx="42" cy="102.3" r="2.5" fill="#4a74bb"/>
<circle cx="42.7" cy="103.35" r="2.5" fill="#4a74bb"/>
<circle cx="43.4" cy="104.4" r="2.5" fill="#4a74bb"/>
<circle cx="45.9" cy="110.5" r="2.5" fill="#4a74bb"/>
<circle cx="46.75" cy="110.95" r="2.5" fill="#4a74bb"/>
<circle cx="47.6" cy="111.4" r="2.5" fill="#4a74bb"/>
<circle cx="49.9" cy="121.9" r="2.5" fill="#4a74bb"/>
<circle cx="51.2" cy="120.6" r="2.5" fill="#4a74bb"/>
<circle cx="52.5" cy="119.3" r="2.5" fill="#4a74bb"/>
<circle cx="53.2" cy="118.4" r="2.5" fill="#4a74bb"/>
<circle cx="53.9" cy="117.5" r="2.5" fill="#4a74bb"/>
<circle cx="56" cy="122.8" r="2.5" fill="#4a74bb"/>
<circle cx="56.9" cy="123.65" r="2.5" fill="#4a74bb"/>
<circle cx="57.8" cy="124.5" r="2.5" fill="#4a74bb"/>
<circle cx="60.4" cy="130.6" r="2.5" fill="#4a74bb"/>
<circle cx="61.7" cy="131.5" r="2.5" fill="#4a74bb"/>
<circle cx="63" cy="132.4" r="2.5" fill="#4a74bb"/>
<circle cx="64.6" cy="130.65" r="2.5" fill="#4a74bb"/>
<circle cx="66.2" cy="128.9" r="2.5" fill="#4a74bb"/>
<circle cx="67.25" cy="130.65" r="2.5" fill="#4a74bb"/>
<circle cx="68.3" cy="132.4" r="2.5" fill="#4a74bb"/>
<circle cx="69.6" cy="131.5" r="2.5" fill="#4a74bb"/>
<circle cx="70.9" cy="130.6" r="2.5" fill="#4a74bb"/>
<circle cx="72.05" cy="131.05" r="2.5" fill="#4a74bb"/>
<circle cx="73.2" cy="131.5" r="2.5" fill="#4a74bb"/>
<circle cx="74.4" cy="137.7" r="2.5" fill="#4a74bb"/>
<circle cx="75.7" cy="136.8" r="2.5" fill="#4a74bb"/>
<circle cx="77" cy="135.9" r="2.5" fill="#4a74bb"/>
<circle cx="78.8" cy="130.6" r="2.5" fill="#4a74bb"/>
<circle cx="79.7" cy="131.95" r="2.5" fill="#4a74bb"/>
<circle cx="80.6" cy="133.3" r="2.5" fill="#4a74bb"/>
<circle cx="81.9" cy="134.6" r="2.5" fill="#4a74bb"/>
<circle cx="83.2" cy="135.9" r="2.5" fill="#4a74bb"/>
<circle cx="84.5" cy="136.8" r="2.5" fill="#4a74bb"/>
<circle cx="85.8" cy="137.7" r="2.5" fill="#4a74bb"/>
<circle cx="87.1" cy="137.7" r="2.5" fill="#4a74bb"/>
<circle cx="88.4" cy="137.7" r="2.5" fill="#4a74bb"/>
<circle cx="89.7" cy="137.25" r="2.5" fill="#4a74bb"/>
<circle cx="91" cy="136.8" r="2.5" fill="#4a74bb"/>
<circle cx="91.9" cy="137.25" r="2.5" fill="#4a74bb"/>
<circle cx="92.8" cy="137.7" r="2.5" fill="#4a74bb"/>
<circle cx="94.1" cy="139.45" r="2.5" fill="#4a74bb"/>
<circle cx="95.4" cy="141.2" r="2.5" fill="#4a74bb"/>
<circle cx="96.3" cy="139.85" r="2.5" fill="#4a74bb"/>
<circle cx="97.2" cy="138.5" r="2.5" fill="#4a74bb"/>
<circle cx="98.35" cy="138.95" r="2.5" fill="#4a74bb"/>
<circle cx="99.5" cy="139.4" r="2.5" fill="#4a74bb"/>
<circle cx="100.7" cy="148.2" r="2.5" fill="#4a74bb"/>
<circle cx="102" cy="147.75" r="2.5" fill="#4a74bb"/>
<circle cx="103.3" cy="147.3" r="2.5" fill="#4a74bb"/>
<circle cx="104.65" cy="146.85" r="2.5" fill="#4a74bb"/>
<circle cx="106" cy="146.4" r="2.5" fill="#4a74bb"/>
<circle cx="107.3" cy="146.4" r="2.5" fill="#4a74bb"/>
<circle cx="108.6" cy="146.4" r="2.5" fill="#4a74bb"/>
<circle cx="109.45" cy="146.7" r="2.5" fill="#4a74bb"/>
<circle cx="110.3" cy="147" r="2.5" fill="#4a74bb"/>
<circle cx="112" cy="124.4" r="2.5" fill="#4a74bb"/>
<circle cx="113" cy="125.2" r="2.5" fill="#4a74bb"/>
<circle cx="114" cy="126" r="2.5" fill="#4a74bb"/>
<circle cx="115.25" cy="126.25" r="2.5" fill="#4a74bb"/>
<circle cx="116.5" cy="126.5" r="2.5" fill="#4a74bb"/>
<circle cx="118.25" cy="126.8" r="2.5" fill="#4a74bb"/>
<circle cx="120" cy="127.1" r="2.5" fill="#4a74bb"/>
<circle cx="121.25" cy="127.3" r="2.5" fill="#4a74bb"/>
<circle cx="122.5" cy="127.5" r="2.5" fill="#4a74bb"/>
<circle cx="123.9" cy="127.75" r="2.5" fill="#4a74bb"/>
<circle cx="125.3" cy="128" r="2.5" fill="#4a74bb"/>
<circle cx="126.4" cy="128.5" r="2.5" fill="#4a74bb"/>
<circle cx="127.5" cy="129" r="2.5" fill="#4a74bb"/>
<circle cx="128.55" cy="129.8" r="2.5" fill="#4a74bb"/>
<circle cx="129.6" cy="130.6" r="2.5" fill="#4a74bb"/>
<circle cx="130.8" cy="129.3" r="2.5" fill="#4a74bb"/>
<circle cx="132" cy="128" r="2.5" fill="#4a74bb"/>
<circle cx="133.9" cy="126.7" r="2.5" fill="#4a74bb"/>
<circle cx="135.8" cy="125.4" r="2.5" fill="#4a74bb"/>
<circle cx="137.15" cy="125.7" r="2.5" fill="#4a74bb"/>
<circle cx="138.5" cy="126" r="2.5" fill="#4a74bb"/>
<circle cx="139.75" cy="125.7" r="2.5" fill="#4a74bb"/>
<circle cx="141" cy="125.4" r="2.5" fill="#4a74bb"/>
<circle cx="142.75" cy="125.4" r="2.5" fill="#4a74bb"/>
<circle cx="144.5" cy="125.4" r="2.5" fill="#4a74bb"/>
<circle cx="145.25" cy="125.95" r="2.5" fill="#4a74bb"/>
<circle cx="146" cy="126.5" r="2.5" fill="#4a74bb"/>
<circle cx="147" cy="127.25" r="2.5" fill="#4a74bb"/>
<circle cx="148" cy="128" r="2.5" fill="#4a74bb"/>
<circle cx="149.25" cy="128.5" r="2.5" fill="#4a74bb"/>
<circle cx="150.5" cy="129" r="2.5" fill="#4a74bb"/>
<circle cx="151.9" cy="129.4" r="2.5" fill="#4a74bb"/>
<circle cx="153.3" cy="129.8" r="2.5" fill="#4a74bb"/>
<circle cx="154.15" cy="130.4" r="2.5" fill="#4a74bb"/>
<circle cx="155" cy="131" r="2.5" fill="#4a74bb"/>
<circle cx="155.9" cy="132.15" r="2.5" fill="#4a74bb"/>
<circle cx="156.8" cy="133.3" r="2.5" fill="#4a74bb"/>
<circle cx="157.9" cy="132.65" r="2.5" fill="#4a74bb"/>
<circle cx="159" cy="132" r="2.5" fill="#4a74bb"/>
<circle cx="160.5" cy="131.75" r="2.5" fill="#4a74bb"/>
<circle cx="162" cy="131.5" r="2.5" fill="#4a74bb"/>
<circle cx="162.75" cy="132.75" r="2.5" fill="#4a74bb"/>
<circle cx="163.5" cy="134" r="2.5" fill="#4a74bb"/>
<circle cx="164.35" cy="135.4" r="2.5" fill="#4a74bb"/>
<circle cx="165.2" cy="136.8" r="2.5" fill="#4a74bb"/>
<circle cx="166.35" cy="135.4" r="2.5" fill="#4a74bb"/>
<circle cx="167.5" cy="134" r="2.5" fill="#4a74bb"/>
<circle cx="168.75" cy="133.2" r="2.5" fill="#4a74bb"/>
<circle cx="170" cy="132.4" r="2.5" fill="#4a74bb"/>
<circle cx="172.5" cy="127.1" r="2.5" fill="#4a74bb"/>
<circle cx="173.5" cy="128.55" r="2.5" fill="#4a74bb"/>
<circle cx="174.5" cy="130" r="2.5" fill="#4a74bb"/>
<circle cx="175.25" cy="130.75" r="2.5" fill="#4a74bb"/>
<circle cx="176" cy="131.5" r="2.5" fill="#4a74bb"/>
<circle cx="179.5" cy="138.9" r="2.5" fill="#4a74bb"/>
<circle cx="39.4" cy="97" r="0.55" fill="#fff" fill-opacity="0.75"/>
<circle cx="42" cy="102.3" r="0.55" fill="#fff" fill-opacity="0.75"/>
<circle cx="42.7" cy="103.35" r="0.55" fill="#fff" fill-opacity="0.75"/>
<circle cx="43.4" cy="104.4" r="0.55" fill="#fff" fill-opacity="0.75"/>
<circle cx="45.9" cy="110.5" r="0.55" fill="#fff" fill-opacity="0.75"/>
<circle cx="46.75" cy="110.95" r="0.55" fill="#fff" fill-opacity="0.75"/>
<circle cx="47.6" cy="111.4" r="0.55" fill="#fff" fill-opacity="0.75"/>
<circle cx="49.9" cy="121.9" r="0.55" fill="#fff" fill-opacity="0.75"/>
<circle cx="51.2" cy="120.6" r="0.55" fill="#fff" fill-opacity="0.75"/>
<circle cx="52.5" cy="119.3" r="0.55" fill="#fff" fill-opacity="0.75"/>
<circle cx="53.2" cy="118.4" r="0.55" fill="#fff" fill-opacity="0.75"/>
<circle cx="53.9" cy="117.5" r="0.55" fill="#fff" fill-opacity="0.75"/>
<circle cx="56" cy="122.8" r="0.55" fill="#fff" fill-opacity="0.75"/>
<circle cx="56.9" cy="123.65" r="0.55" fill="#fff" fill-opacity="0.75"/>
<circle cx="57.8" cy="124.5" r="0.55" fill="#fff" fill-opacity="0.75"/>
<circle cx="60.4" cy="130.6" r="0.55" fill="#fff" fill-opacity="0.75"/>
<circle cx="61.7" cy="131.5" r="0.55" fill="#fff" fill-opacity="0.75"/>
<circle cx="63" cy="132.4" r="0.55" fill="#fff" fill-opacity="0.75"/>
<circle cx="64.6" cy="130.65" r="0.55" fill="#fff" fill-opacity="0.75"/>
<circle cx="66.2" cy="128.9" r="0.55" fill="#fff" fill-opacity="0.75"/>
<circle cx="67.25" cy="130.65" r="0.55" fill="#fff" fill-opacity="0.75"/>
<circle cx="68.3" cy="132.4" r="0.55" fill="#fff" fill-opacity="0.75"/>
<circle cx="69.6" cy="131.5" r="0.55" fill="#fff" fill-opacity="0.75"/>
<circle cx="70.9" cy="130.6" r="0.55" fill="#fff" fill-opacity="0.75"/>
<circle cx="72.05" cy="131.05" r="0.55" fill="#fff" fill-opacity="0.75"/>
<circle cx="73.2" cy="131.5" r="0.55" fill="#fff" fill-opacity="0.75"/>
<circle cx="74.4" cy="137.7" r="0.55" fill="#fff" fill-opacity="0.75"/>
<circle cx="75.7" cy="136.8" r="0.55" fill="#fff" fill-opacity="0.75"/>
<circle cx="77" cy="135.9" r="0.55" fill="#fff" fill-opacity="0.75"/>
<circle cx="78.8" cy="130.6" r="0.55" fill="#fff" fill-opacity="0.75"/>
<circle cx="79.7" cy="131.95" r="0.55" fill="#fff" fill-opacity="0.75"/>
<circle cx="80.6" cy="133.3" r="0.55" fill="#fff" fill-opacity="0.75"/>
<circle cx="81.9" cy="134.6" r="0.55" fill="#fff" fill-opacity="0.75"/>
<circle cx="83.2" cy="135.9" r="0.55" fill="#fff" fill-opacity="0.75"/>
<circle cx="84.5" cy="136.8" r="0.55" fill="#fff" fill-opacity="0.75"/>
<circle cx="85.8" cy="137.7" r="0.55" fill="#fff" fill-opacity="0.75"/>
<circle cx="87.1" cy="137.7" r="0.55" fill="#fff" fill-opacity="0.75"/>
<circle cx="88.4" cy="137.7" r="0.55" fill="#fff" fill-opacity="0.75"/>
<circle cx="89.7" cy="137.25" r="0.55" fill="#fff" fill-opacity="0.75"/>
<circle cx="91" cy="136.8" r="0.55" fill="#fff" fill-opacity="0.75"/>
<circle cx="91.9" cy="137.25" r="0.55" fill="#fff" fill-opacity="0.75"/>
<circle cx="92.8" cy="137.7" r="0.55" fill="#fff" fill-opacity="0.75"/>
<circle cx="94.1" cy="139.45" r="0.55" fill="#fff" fill-opacity="0.75"/>
<circle cx="95.4" cy="141.2" r="0.55" fill="#fff" fill-opacity="0.75"/>
<circle cx="96.3" cy="139.85" r="0.55" fill="#fff" fill-opacity="0.75"/>
<circle cx="97.2" cy="138.5" r="0.55" fill="#fff" fill-opacity="0.75"/>
<circle cx="98.35" cy="138.95" r="0.55" fill="#fff" fill-opacity="0.75"/>
<circle cx="99.5" cy="139.4" r="0.55" fill="#fff" fill-opacity="0.75"/>
<circle cx="100.7" cy="148.2" r="0.55" fill="#fff" fill-opacity="0.75"/>
<circle cx="102" cy="147.75" r="0.55" fill="#fff" fill-opacity="0.75"/>
<circle cx="103.3" cy="147.3" r="0.55" fill="#fff" fill-opacity="0.75"/>
<circle cx="104.65" cy="146.85" r="0.55" fill="#fff" fill-opacity="0.75"/>
<circle cx="106" cy="146.4" r="0.55" fill="#fff" fill-opacity="0.75"/>
<circle cx="107.3" cy="146.4" r="0.55" fill="#fff" fill-opacity="0.75"/>
<circle cx="108.6" cy="146.4" r="0.55" fill="#fff" fill-opacity="0.75"/>
<circle cx="109.45" cy="146.7" r="0.55" fill="#fff" fill-opacity="0.75"/>
<circle cx="110.3" cy="147" r="0.55" fill="#fff" fill-opacity="0.75"/>
<circle cx="112" cy="124.4" r="0.55" fill="#fff" fill-opacity="0.75"/>
<circle cx="113" cy="125.2" r="0.55" fill="#fff" fill-opacity="0.75"/>
<circle cx="114" cy="126" r="0.55" fill="#fff" fill-opacity="0.75"/>
<circle cx="115.25" cy="126.25" r="0.55" fill="#fff" fill-opacity="0.75"/>
<circle cx="116.5" cy="126.5" r="0.55" fill="#fff" fill-opacity="0.75"/>
<circle cx="118.25" cy="126.8" r="0.55" fill="#fff" fill-opacity="0.75"/>
<circle cx="120" cy="127.1" r="0.55" fill="#fff" fill-opacity="0.75"/>
<circle cx="121.25" cy="127.3" r="0.55" fill="#fff" fill-opacity="0.75"/>
<circle cx="122.5" cy="127.5" r="0.55" fill="#fff" fill-opacity="0.75"/>
<circle cx="123.9" cy="127.75" r="0.55" fill="#fff" fill-opacity="0.75"/>
<circle cx="125.3" cy="128" r="0.55" fill="#fff" fill-opacity="0.75"/>
<circle cx="126.4" cy="128.5" r="0.55" fill="#fff" fill-opacity="0.75"/>
<circle cx="127.5" cy="129" r="0.55" fill="#fff" fill-opacity="0.75"/>
<circle cx="128.55" cy="129.8" r="0.55" fill="#fff" fill-opacity="0.75"/>
<circle cx="129.6" cy="130.6" r="0.55" fill="#fff" fill-opacity="0.75"/>
<circle cx="130.8" cy="129.3" r="0.55" fill="#fff" fill-opacity="0.75"/>
<circle cx="132" cy="128" r="0.55" fill="#fff" fill-opacity="0.75"/>
<circle cx="133.9" cy="126.7" r="0.55" fill="#fff" fill-opacity="0.75"/>
<circle cx="135.8" cy="125.4" r="0.55" fill="#fff" fill-opacity="0.75"/>
<circle cx="137.15" cy="125.7" r="0.55" fill="#fff" fill-opacity="0.75"/>
<circle cx="138.5" cy="126" r="0.55" fill="#fff" fill-opacity="0.75"/>
<circle cx="139.75" cy="125.7" r="0.55" fill="#fff" fill-opacity="0.75"/>
<circle cx="141" cy="125.4" r="0.55" fill="#fff" fill-opacity="0.75"/>
<circle cx="142.75" cy="125.4" r="0.55" fill="#fff" fill-opacity="0.75"/>
<circle cx="144.5" cy="125.4" r="0.55" fill="#fff" fill-opacity="0.75"/>
<circle cx="145.25" cy="125.95" r="0.55" fill="#fff" fill-opacity="0.75"/>
<circle cx="146" cy="126.5" r="0.55" fill="#fff" fill-opacity="0.75"/>
<circle cx="147" cy="127.25" r="0.55" fill="#fff" fill-opacity="0.75"/>
<circle cx="148" cy="128" r="0.55" fill="#fff" fill-opacity="0.75"/>
<circle cx="149.25" cy="128.5" r="0.55" fill="#fff" fill-opacity="0.75"/>
<circle cx="150.5" cy="129" r="0.55" fill="#fff" fill-opacity="0.75"/>
<circle cx="151.9" cy="129.4" r="0.55" fill="#fff" fill-opacity="0.75"/>
<circle cx="153.3" cy="129.8" r="0.55" fill="#fff" fill-opacity="0.75"/>
<circle cx="154.15" cy="130.4" r="0.55" fill="#fff" fill-opacity="0.75"/>
<circle cx="155" cy="131" r="0.55" fill="#fff" fill-opacity="0.75"/>
<circle cx="155.9" cy="132.15" r="0.55" fill="#fff" fill-opacity="0.75"/>
<circle cx="156.8" cy="133.3" r="0.55" fill="#fff" fill-opacity="0.75"/>
<circle cx="157.9" cy="132.65" r="0.55" fill="#fff" fill-opacity="0.75"/>
<circle cx="159" cy="132" r="0.55" fill="#fff" fill-opacity="0.75"/>
<circle cx="160.5" cy="131.75" r="0.55" fill="#fff" fill-opacity="0.75"/>
<circle cx="162" cy="131.5" r="0.55" fill="#fff" fill-opacity="0.75"/>
<circle cx="162.75" cy="132.75" r="0.55" fill="#fff" fill-opacity="0.75"/>
<circle cx="163.5" cy="134" r="0.55" fill="#fff" fill-opacity="0.75"/>
<circle cx="164.35" cy="135.4" r="0.55" fill="#fff" fill-opacity="0.75"/>
<circle cx="165.2" cy="136.8" r="0.55" fill="#fff" fill-opacity="0.75"/>
<circle cx="166.35" cy="135.4" r="0.55" fill="#fff" fill-opacity="0.75"/>
<circle cx="167.5" cy="134" r="0.55" fill="#fff" fill-opacity="0.75"/>
<circle cx="168.75" cy="133.2" r="0.55" fill="#fff" fill-opacity="0.75"/>
<circle cx="170" cy="132.4" r="0.55" fill="#fff" fill-opacity="0.75"/>
<circle cx="172.5" cy="127.1" r="0.55" fill="#fff" fill-opacity="0.75"/>
<circle cx="173.5" cy="128.55" r="0.55" fill="#fff" fill-opacity="0.75"/>
<circle cx="174.5" cy="130" r="0.55" fill="#fff" fill-opacity="0.75"/>
<circle cx="175.25" cy="130.75" r="0.55" fill="#fff" fill-opacity="0.75"/>
<circle cx="176" cy="131.5" r="0.55" fill="#fff" fill-opacity="0.75"/>
<circle cx="179.5" cy="138.9" r="0.55" fill="#fff" fill-opacity="0.75"/>
<text x="38.9" y="77" font-size="8.7" text-anchor="start" fill="#222" stroke="#222" stroke-width="0.18" >0.2</text>
<text x="50.8" y="87" font-size="8.7" text-anchor="start" fill="#222" stroke="#222" stroke-width="0.18" >0.5</text>
<text x="65.1" y="91.8" font-size="8.7" text-anchor="start" fill="#222" stroke="#222" stroke-width="0.18" >1</text>
<text x="73.2" y="97" font-size="8.7" text-anchor="start" fill="#222" stroke="#222" stroke-width="0.18" >2</text>
<text x="83.7" y="100.6" font-size="8.7" text-anchor="start" fill="#222" stroke="#222" stroke-width="0.18" >5</text>
<text x="91" y="105.8" font-size="8.7" text-anchor="start" fill="#222" stroke="#222" stroke-width="0.18" >10</text>
<text x="101" y="109.7" font-size="8.7" text-anchor="start" fill="#222" stroke="#222" stroke-width="0.18" >20</text>
<text x="119" y="98.5" font-size="8.7" text-anchor="start" fill="#222" stroke="#222" stroke-width="0.18" >1 C</text>
<circle cx="126.6" cy="68.5" r="2.4" fill="#cc0a7f"/>
<circle cx="125.88" cy="67.78" r="0.77" fill="#fff" fill-opacity="0.75"/>
<text x="135.8" y="71.1" font-size="8.7" text-anchor="start" fill="#222" stroke="#222" stroke-width="0.18" >BiF<tspan font-size="5.39" dy="1.91">3</tspan><tspan dy="-1.91">@Al||NFPP</tspan></text>
<circle cx="126.6" cy="81.3" r="2.4" fill="#4a74bb"/>
<circle cx="125.88" cy="80.58" r="0.77" fill="#fff" fill-opacity="0.75"/>
<text x="135.8" y="83.4" font-size="8.7" text-anchor="start" fill="#222" stroke="#222" stroke-width="0.18" >Al||NFPP</text>
<text x="43.5" y="163.8" font-size="8.7" text-anchor="start" fill="#222" stroke="#222" stroke-width="0.18" >Initially anode-free full cells</text>
<text x="154.5" y="153.4" font-size="8.7" text-anchor="start" fill="#222" stroke="#222" stroke-width="0.18" >Cell failure</text>
<line x1="179" y1="141.5" x2="177.5" y2="146" stroke="#333" stroke-width="0.8" />
<text x="237.5" y="35.9" font-size="16" text-anchor="start" fill="#111" font-weight="bold" >b</text>
<path d="M269.4,166.9 L269.65,157.73 L269.89,148.12 L270.14,138.51 L270.39,129.34 L270.64,121.05 L270.88,114.1 L271.13,107.98 L271.38,102.08 L271.62,96.65 L271.87,91.96 L272.12,88.25 L272.37,85.78 L272.47,85.09 L272.56,84.44 L272.66,83.87 L272.76,83.4 L272.86,83.07 L272.96,82.9 L279.78,78.62 L286.61,76 L293.43,74.47 L300.25,73.48 L307.07,72.48 L313.9,70.9 L319.88,69.2 L325.86,67.61 L331.85,66.01 L337.83,64.26 L343.81,62.26 L349.79,59.86 L350.86,59.34 L351.92,58.73 L352.98,58.07 L354.04,57.38 L355.11,56.68 L356.17,56.02" fill="none" stroke="#6a2ad8" stroke-width="1.05" />
<path d="M269.4,63.7 L269.55,65.91 L269.7,68.38 L269.84,70.84 L269.99,73.05 L270.14,74.76 L270.29,75.7 L270.64,76.7 L270.98,77.48 L271.33,78.07 L271.67,78.51 L272.02,78.83 L272.37,79.06 L278.05,81.7 L283.74,83.47 L289.42,84.67 L295.11,85.57 L300.8,86.49 L306.48,87.7 L310.19,88.62 L313.9,89.51 L317.61,90.41 L321.31,91.34 L325.02,92.35 L328.73,93.46 L330.58,94.04 L332.44,94.62 L334.29,95.25 L336.15,95.96 L338,96.79 L339.85,97.78 L340.47,98.17 L341.09,98.64 L341.71,99.17 L342.33,99.76 L342.94,100.42 L343.56,101.14 L344.11,101.84 L344.65,102.64 L345.19,103.55 L345.74,104.55 L346.28,105.67 L346.83,106.9 L347.79,109.46 L348.75,112.56 L349.72,116.18 L350.68,120.3 L351.65,124.9 L352.61,129.94 L353.2,133.63 L353.8,138.06 L354.39,142.98 L354.98,148.16 L355.58,153.33 L356.17,158.26" fill="none" stroke="#6a2ad8" stroke-width="1.05" />
<path d="M269.4,166.9 L269.65,157.69 L269.89,147.99 L270.14,138.3 L270.39,129.09 L270.64,120.86 L270.88,114.1 L271.13,108.24 L271.38,102.59 L271.62,97.42 L271.87,93.03 L272.12,89.69 L272.37,87.7 L272.47,87.22 L272.56,86.79 L272.66,86.42 L272.76,86.11 L272.86,85.9 L272.96,85.78 L278.55,82.93 L284.13,81.14 L289.72,80.07 L295.31,79.35 L300.89,78.66 L306.48,77.62 L312.04,76.3 L317.61,74.97 L323.17,73.65 L328.73,72.37 L334.29,71.12 L339.85,69.94 L341.51,69.63 L343.17,69.36 L344.82,69.1 L346.48,68.81 L348.14,68.47 L349.79,68.02 L351.03,67.54 L352.26,66.89 L353.5,66.1 L354.74,65.2 L355.97,64.23 L357.21,63.22 L358.3,62.23 L359.38,61.09 L360.47,59.85 L361.56,58.56 L362.65,57.26 L363.74,56.02" fill="none" stroke="#9a22c2" stroke-width="1.05" />
<path d="M269.4,63.7 L269.55,65.75 L269.7,68.04 L269.84,70.33 L269.99,72.38 L270.14,73.93 L270.29,74.74 L270.64,75.47 L270.98,76.02 L271.33,76.44 L271.67,76.74 L272.02,76.97 L272.37,77.14 L278.05,79.28 L283.74,80.75 L289.42,81.77 L295.11,82.56 L300.8,83.35 L306.48,84.34 L312.04,85.46 L317.61,86.55 L323.17,87.63 L328.73,88.72 L334.29,89.86 L339.85,91.06 L341.51,91.39 L343.17,91.67 L344.82,91.97 L346.48,92.33 L348.14,92.81 L349.79,93.46 L350.66,94.09 L351.52,95.14 L352.39,96.53 L353.25,98.21 L354.12,100.09 L354.98,102.1 L355.68,103.87 L356.37,105.94 L357.06,108.37 L357.75,111.22 L358.44,114.55 L359.14,118.42 L359.51,121.22 L359.88,124.95 L360.25,129.24 L360.62,133.74 L360.99,138.09 L361.36,141.94 L361.68,144.86 L362,147.64 L362.33,150.32 L362.65,152.95 L362.97,155.58 L363.29,158.26" fill="none" stroke="#9a22c2" stroke-width="1.05" />
<path d="M269.4,166.9 L269.65,157.67 L269.89,147.93 L270.14,138.19 L270.39,128.96 L270.64,120.76 L270.88,114.1 L271.13,108.41 L271.38,102.96 L271.62,98.01 L271.87,93.8 L272.12,90.6 L272.37,88.66 L272.47,88.18 L272.56,87.74 L272.66,87.36 L272.76,87.06 L272.86,86.84 L272.96,86.74 L276.25,85.55 L279.54,84.82 L282.82,84.41 L286.11,84.14 L289.4,83.85 L292.69,83.38 L300.55,81.87 L308.41,80.29 L316.27,78.64 L324.13,76.92 L331.99,75.14 L339.85,73.3 L342.94,72.61 L346.03,71.96 L349.13,71.29 L352.22,70.53 L355.31,69.63 L358.4,68.5 L359.63,67.91 L360.87,67.16 L362.1,66.29 L363.34,65.32 L364.58,64.29 L365.81,63.22 L366.9,62.2 L367.99,61.05 L369.07,59.81 L370.16,58.53 L371.25,57.25 L372.34,56.02" fill="none" stroke="#c23aa6" stroke-width="1.05" />
<path d="M269.4,63.7 L269.55,65.56 L269.7,67.65 L269.84,69.74 L269.99,71.6 L270.14,73.02 L270.29,73.78 L270.64,74.5 L270.98,75.06 L271.33,75.49 L271.67,75.79 L272.02,76.02 L272.37,76.18 L278.05,78.08 L283.74,79.34 L289.42,80.2 L295.11,80.85 L300.8,81.52 L306.48,82.42 L312.04,83.51 L317.61,84.64 L323.17,85.79 L328.73,86.93 L334.29,88.06 L339.85,89.14 L342.94,89.67 L346.03,90.14 L349.13,90.59 L352.22,91.1 L355.31,91.71 L358.4,92.5 L359.24,92.74 L360.08,93 L360.92,93.31 L361.76,93.71 L362.6,94.23 L363.44,94.9 L363.88,95.52 L364.33,96.56 L364.77,97.94 L365.22,99.61 L365.66,101.49 L366.11,103.54 L366.5,105.84 L366.9,108.87 L367.3,112.39 L367.69,116.19 L368.09,120.03 L368.48,123.7 L368.83,126.75 L369.17,129.81 L369.52,132.92 L369.87,136.1 L370.21,139.42 L370.56,142.9 L370.78,145.28 L371,147.78 L371.23,150.38 L371.45,153.02 L371.67,155.66 L371.89,158.26" fill="none" stroke="#c23aa6" stroke-width="1.05" />
<path d="M269.4,166.9 L269.65,157.66 L269.89,147.9 L270.14,138.13 L270.39,128.9 L270.64,120.71 L270.88,114.1 L271.13,108.5 L271.38,103.15 L271.62,98.3 L271.87,94.19 L272.12,91.05 L272.37,89.14 L272.47,88.66 L272.56,88.22 L272.66,87.84 L272.76,87.53 L272.86,87.32 L272.96,87.22 L276.25,86.19 L279.54,85.57 L282.82,85.22 L286.11,85 L289.4,84.75 L292.69,84.34 L300.55,82.9 L308.41,81.28 L316.27,79.55 L324.13,77.83 L331.99,76.19 L339.85,74.74 L344.18,74.12 L348.51,73.66 L352.83,73.22 L357.16,72.7 L361.49,71.96 L365.81,70.9 L367.05,70.32 L368.28,69.38 L369.52,68.19 L370.76,66.85 L371.99,65.48 L373.23,64.18 L374.46,62.91 L375.7,61.58 L376.94,60.2 L378.17,58.8 L379.41,57.4 L380.64,56.02" fill="none" stroke="#e05b88" stroke-width="1.05" />
<path d="M269.4,63.7 L269.55,65.47 L269.7,67.46 L269.84,69.44 L269.99,71.21 L270.14,72.57 L270.29,73.3 L270.64,74.02 L270.98,74.59 L271.33,75.02 L271.67,75.34 L272.02,75.56 L272.37,75.7 L278.05,77.22 L283.74,78.19 L289.42,78.8 L295.11,79.27 L300.8,79.77 L306.48,80.5 L312.04,81.44 L317.61,82.45 L323.17,83.51 L328.73,84.6 L334.29,85.68 L339.85,86.74 L344.18,87.51 L348.51,88.25 L352.83,88.98 L357.16,89.75 L361.49,90.59 L365.81,91.54 L366.92,91.77 L368.04,91.97 L369.15,92.19 L370.26,92.47 L371.37,92.88 L372.49,93.46 L372.93,94.06 L373.38,95.25 L373.82,96.9 L374.27,98.91 L374.71,101.16 L375.16,103.54 L375.53,105.91 L375.9,108.92 L376.27,112.37 L376.64,116.1 L377.01,119.94 L377.38,123.7 L377.68,126.59 L377.97,129.48 L378.27,132.46 L378.57,135.63 L378.86,139.07 L379.16,142.9 L379.31,145.08 L379.46,147.54 L379.61,150.17 L379.75,152.9 L379.9,155.62 L380.05,158.26" fill="none" stroke="#e05b88" stroke-width="1.05" />
<path d="M269.4,166.9 L269.65,157.65 L269.89,147.86 L270.14,138.08 L270.39,128.83 L270.64,120.66 L270.88,114.1 L271.13,108.58 L271.38,103.34 L271.62,98.59 L271.87,94.57 L272.12,91.5 L272.37,89.62 L272.47,89.14 L272.56,88.7 L272.66,88.32 L272.76,88.01 L272.86,87.8 L272.96,87.7 L276.25,86.83 L279.54,86.32 L282.82,86.05 L286.11,85.87 L289.4,85.66 L292.69,85.3 L300.55,83.97 L308.41,82.36 L316.27,80.61 L324.13,78.84 L331.99,77.16 L339.85,75.7 L345.42,74.91 L350.98,74.32 L356.54,73.76 L362.1,73.11 L367.67,72.2 L373.23,70.9 L374.46,70.44 L375.7,69.78 L376.94,68.94 L378.17,67.95 L379.41,66.83 L380.64,65.62 L381.61,64.45 L382.57,62.97 L383.54,61.29 L384.5,59.5 L385.46,57.71 L386.43,56.02" fill="none" stroke="#f07d68" stroke-width="1.05" />
<path d="M269.4,63.7 L269.55,65.38 L269.7,67.26 L269.84,69.14 L269.99,70.82 L270.14,72.12 L270.29,72.82 L270.64,73.54 L270.98,74.11 L271.33,74.54 L271.67,74.86 L272.02,75.08 L272.37,75.22 L278.05,76.6 L283.74,77.48 L289.42,78.03 L295.11,78.44 L300.8,78.88 L306.48,79.54 L312.04,80.4 L317.61,81.33 L323.17,82.31 L328.73,83.31 L334.29,84.32 L339.85,85.3 L345.42,86.2 L350.98,87.04 L356.54,87.88 L362.1,88.79 L367.67,89.82 L373.23,91.06 L373.97,91.22 L374.71,91.38 L375.45,91.56 L376.19,91.78 L376.94,92.09 L377.68,92.5 L378.12,93.13 L378.57,94.38 L379.01,96.12 L379.46,98.23 L379.9,100.58 L380.35,103.06 L380.72,105.56 L381.09,108.73 L381.46,112.36 L381.83,116.22 L382.2,120.07 L382.57,123.7 L382.92,126.82 L383.26,129.84 L383.61,132.86 L383.96,135.97 L384.3,139.29 L384.65,142.9 L384.85,145.18 L385.04,147.67 L385.24,150.28 L385.44,152.96 L385.64,155.64 L385.84,158.26" fill="none" stroke="#f07d68" stroke-width="1.05" />
<path d="M269.4,166.9 L269.65,157.64 L269.89,147.83 L270.14,138.02 L270.39,128.76 L270.64,120.61 L270.88,114.1 L271.13,108.69 L271.38,103.59 L271.62,98.98 L271.87,95.07 L272.12,92.05 L272.37,90.1 L272.47,89.57 L272.56,89.07 L272.66,88.64 L272.76,88.29 L272.86,88.04 L272.96,87.94 L276.25,87.15 L279.54,86.69 L282.82,86.45 L286.11,86.29 L289.4,86.11 L292.69,85.78 L300.55,84.52 L308.41,82.95 L316.27,81.23 L324.13,79.5 L331.99,77.93 L339.85,76.66 L346.65,75.92 L353.45,75.44 L360.25,75.03 L367.05,74.5 L373.85,73.67 L380.64,72.34 L381.88,71.72 L383.12,70.56 L384.35,69.01 L385.59,67.25 L386.82,65.42 L388.06,63.7 L388.93,62.52 L389.79,61.27 L390.66,59.97 L391.52,58.64 L392.39,57.32 L393.25,56.02" fill="none" stroke="#f8a23c" stroke-width="1.05" />
<path d="M269.4,63.7 L269.55,65.29 L269.7,67.07 L269.84,68.84 L269.99,70.43 L270.14,71.66 L270.29,72.34 L270.64,73.06 L270.98,73.63 L271.33,74.07 L271.67,74.39 L272.02,74.61 L272.37,74.74 L278.05,75.99 L283.74,76.78 L289.42,77.28 L295.11,77.63 L300.8,78.01 L306.48,78.58 L312.04,79.3 L317.61,80.05 L323.17,80.83 L328.73,81.64 L334.29,82.49 L339.85,83.38 L346.65,84.5 L353.45,85.68 L360.25,86.91 L367.05,88.21 L373.85,89.59 L380.64,91.06 L381.29,91.18 L381.93,91.29 L382.57,91.41 L383.22,91.55 L383.86,91.75 L384.5,92.02 L384.95,92.62 L385.39,93.9 L385.84,95.72 L386.28,97.94 L386.73,100.43 L387.17,103.06 L387.52,105.55 L387.86,108.76 L388.21,112.43 L388.56,116.31 L388.9,120.15 L389.25,123.7 L389.59,126.86 L389.94,129.83 L390.29,132.75 L390.63,135.8 L390.98,139.13 L391.32,142.9 L391.5,145.08 L391.67,147.54 L391.84,150.17 L392.02,152.9 L392.19,155.62 L392.36,158.26" fill="none" stroke="#f8a23c" stroke-width="1.05" />
<path d="M269.4,166.9 L269.65,157.64 L269.89,147.83 L270.14,138.02 L270.39,128.76 L270.64,120.61 L270.88,114.1 L271.13,108.67 L271.38,103.53 L271.62,98.89 L271.87,94.96 L272.12,91.96 L272.37,90.1 L272.47,89.62 L272.56,89.18 L272.66,88.79 L272.76,88.47 L272.86,88.26 L272.96,88.18 L276.25,87.74 L279.54,87.49 L282.82,87.37 L286.11,87.29 L289.4,87.18 L292.69,86.98 L300.55,86.04 L308.41,84.68 L316.27,83.08 L324.13,81.41 L331.99,79.85 L339.85,78.58 L347.89,77.6 L355.92,76.78 L363.96,76.03 L371.99,75.26 L380.03,74.38 L388.06,73.3 L389.3,73.11 L390.53,72.92 L391.77,72.72 L393,72.48 L394.24,72.19 L395.48,71.86 L396.22,71.61 L396.96,71.3 L397.7,70.93 L398.44,70.5 L399.19,70.01 L399.93,69.46 L400.42,69.01 L400.92,68.45 L401.41,67.8 L401.9,67.1 L402.4,66.36 L402.89,65.62 L403.76,64.23 L404.62,62.69 L405.49,61.05 L406.35,59.35 L407.22,57.66 L408.08,56.02" fill="none" stroke="#f6dc2c" stroke-width="1.05" />
<path d="M269.4,63.7 L269.55,65.2 L269.7,66.87 L269.84,68.54 L269.99,70.05 L270.14,71.21 L270.29,71.86 L270.64,72.58 L270.98,73.15 L271.33,73.59 L271.67,73.92 L272.02,74.14 L272.37,74.26 L275.75,74.89 L279.14,75.28 L282.53,75.53 L285.91,75.71 L289.3,75.9 L292.69,76.18 L300.55,76.97 L308.41,77.75 L316.27,78.57 L324.13,79.47 L331.99,80.5 L339.85,81.7 L344.68,82.71 L349.5,84.05 L354.32,85.53 L359.14,86.98 L363.96,88.25 L368.78,89.14 L373.08,89.59 L377.38,89.86 L381.68,90.07 L385.98,90.34 L390.29,90.79 L394.59,91.54 L395.13,91.72 L395.67,92.04 L396.22,92.5 L396.76,93.12 L397.31,93.92 L397.85,94.9 L398.15,96.05 L398.44,98.12 L398.74,100.79 L399.04,103.75 L399.33,106.69 L399.63,109.3 L399.83,111 L400.03,112.86 L400.22,114.71 L400.42,116.38 L400.62,117.67 L400.82,118.42 L401.01,118.77 L401.21,119.03 L401.41,119.23 L401.61,119.41 L401.81,119.61 L402,119.86 L402.25,120.21 L402.5,120.56 L402.74,120.95 L402.99,121.41 L403.24,122 L403.49,122.74 L403.71,124.01 L403.93,126.15 L404.15,128.9 L404.38,131.99 L404.6,135.14 L404.82,138.1 L405.07,141.26 L405.32,144.56 L405.56,147.96 L405.81,151.41 L406.06,154.86 L406.3,158.26" fill="none" stroke="#f6dc2c" stroke-width="1.05" />
<rect x="269.4" y="37.3" width="163.9" height="131.9" fill="none" stroke="#2a2a2a" stroke-width="1"/>
<line x1="269.4" y1="169.2" x2="269.4" y2="172.2" stroke="#2a2a2a" stroke-width="1" />
<text x="269.4" y="181.5" font-size="9.5" text-anchor="middle" fill="#222" stroke="#222" stroke-width="0.18" >0</text>
<line x1="299.07" y1="169.2" x2="299.07" y2="172.2" stroke="#2a2a2a" stroke-width="1" />
<text x="299.07" y="181.5" font-size="9.5" text-anchor="middle" fill="#222" stroke="#222" stroke-width="0.18" >20</text>
<line x1="328.73" y1="169.2" x2="328.73" y2="172.2" stroke="#2a2a2a" stroke-width="1" />
<text x="328.73" y="181.5" font-size="9.5" text-anchor="middle" fill="#222" stroke="#222" stroke-width="0.18" >40</text>
<line x1="358.4" y1="169.2" x2="358.4" y2="172.2" stroke="#2a2a2a" stroke-width="1" />
<text x="358.4" y="181.5" font-size="9.5" text-anchor="middle" fill="#222" stroke="#222" stroke-width="0.18" >60</text>
<line x1="388.06" y1="169.2" x2="388.06" y2="172.2" stroke="#2a2a2a" stroke-width="1" />
<text x="388.06" y="181.5" font-size="9.5" text-anchor="middle" fill="#222" stroke="#222" stroke-width="0.18" >80</text>
<line x1="417.73" y1="169.2" x2="417.73" y2="172.2" stroke="#2a2a2a" stroke-width="1" />
<text x="417.73" y="181.5" font-size="9.5" text-anchor="middle" fill="#222" stroke="#222" stroke-width="0.18" >100</text>
<line x1="284.23" y1="169.2" x2="284.23" y2="170.8" stroke="#2a2a2a" stroke-width="1" />
<line x1="313.9" y1="169.2" x2="313.9" y2="170.8" stroke="#2a2a2a" stroke-width="1" />
<line x1="343.56" y1="169.2" x2="343.56" y2="170.8" stroke="#2a2a2a" stroke-width="1" />
<line x1="373.23" y1="169.2" x2="373.23" y2="170.8" stroke="#2a2a2a" stroke-width="1" />
<line x1="402.89" y1="169.2" x2="402.89" y2="170.8" stroke="#2a2a2a" stroke-width="1" />
<line x1="432.56" y1="169.2" x2="432.56" y2="170.8" stroke="#2a2a2a" stroke-width="1" />
<line x1="266.4" y1="157.3" x2="269.4" y2="157.3" stroke="#2a2a2a" stroke-width="1" />
<text x="264.8" y="160.5" font-size="9.5" text-anchor="end" fill="#222" stroke="#222" stroke-width="0.18" >1.5</text>
<line x1="266.4" y1="133.3" x2="269.4" y2="133.3" stroke="#2a2a2a" stroke-width="1" />
<text x="264.8" y="136.5" font-size="9.5" text-anchor="end" fill="#222" stroke="#222" stroke-width="0.18" >2.0</text>
<line x1="266.4" y1="109.3" x2="269.4" y2="109.3" stroke="#2a2a2a" stroke-width="1" />
<text x="264.8" y="112.5" font-size="9.5" text-anchor="end" fill="#222" stroke="#222" stroke-width="0.18" >2.5</text>
<line x1="266.4" y1="85.3" x2="269.4" y2="85.3" stroke="#2a2a2a" stroke-width="1" />
<text x="264.8" y="88.5" font-size="9.5" text-anchor="end" fill="#222" stroke="#222" stroke-width="0.18" >3.0</text>
<line x1="266.4" y1="61.3" x2="269.4" y2="61.3" stroke="#2a2a2a" stroke-width="1" />
<text x="264.8" y="64.5" font-size="9.5" text-anchor="end" fill="#222" stroke="#222" stroke-width="0.18" >3.5</text>
<line x1="266.4" y1="37.3" x2="269.4" y2="37.3" stroke="#2a2a2a" stroke-width="1" />
<text x="264.8" y="40.5" font-size="9.5" text-anchor="end" fill="#222" stroke="#222" stroke-width="0.18" >4.0</text>
<line x1="267.8" y1="169.3" x2="269.4" y2="169.3" stroke="#2a2a2a" stroke-width="1" />
<line x1="267.8" y1="145.3" x2="269.4" y2="145.3" stroke="#2a2a2a" stroke-width="1" />
<line x1="267.8" y1="121.3" x2="269.4" y2="121.3" stroke="#2a2a2a" stroke-width="1" />
<line x1="267.8" y1="97.3" x2="269.4" y2="97.3" stroke="#2a2a2a" stroke-width="1" />
<line x1="267.8" y1="73.3" x2="269.4" y2="73.3" stroke="#2a2a2a" stroke-width="1" />
<line x1="267.8" y1="49.3" x2="269.4" y2="49.3" stroke="#2a2a2a" stroke-width="1" />
<text x="246.5" y="103" font-size="10" text-anchor="middle" fill="#222" stroke="#222" stroke-width="0.18" transform="rotate(-90 246.5 103)" >Voltage (V)</text>
<text x="351" y="193.5" font-size="10" text-anchor="middle" fill="#222" stroke="#222" stroke-width="0.18" >Specific capacity (mAh g<tspan font-size="6.20" dy="-3.80">−1</tspan><tspan dy="3.80">)</tspan></text>
<text x="275.9" y="162.2" font-size="8.7" text-anchor="start" fill="#222" stroke="#222" stroke-width="0.18" >BiF<tspan font-size="5.39" dy="1.91">3</tspan><tspan dy="-1.91">@Al||NFPP</tspan></text>
<text x="428.7" y="48.5" font-size="8.7" text-anchor="end" fill="#222" stroke="#222" stroke-width="0.18" >20, 10, 5, 2, 1, 0.5, 0.2 C</text>
<line x1="423.7" y1="52.7" x2="350" y2="52.7" stroke="#555" stroke-width="1.1" />
<path d="M346.5,52.7 L350,51.12 L350,54.28 Z" fill="#333"/>
<text x="443.6" y="36.1" font-size="16" text-anchor="start" fill="#111" font-weight="bold" >c</text>
<rect x="486.2" y="37.3" width="164.3" height="131.9" fill="none" stroke="#2a2a2a" stroke-width="1"/>
<line x1="486.2" y1="169.2" x2="486.2" y2="172.2" stroke="#2a2a2a" stroke-width="1" />
<text x="486.2" y="181.5" font-size="9.5" text-anchor="middle" fill="#222" stroke="#222" stroke-width="0.18" >0</text>
<line x1="540.97" y1="169.2" x2="540.97" y2="172.2" stroke="#2a2a2a" stroke-width="1" />
<text x="540.97" y="181.5" font-size="9.5" text-anchor="middle" fill="#222" stroke="#222" stroke-width="0.18" >100</text>
<line x1="595.73" y1="169.2" x2="595.73" y2="172.2" stroke="#2a2a2a" stroke-width="1" />
<text x="595.73" y="181.5" font-size="9.5" text-anchor="middle" fill="#222" stroke="#222" stroke-width="0.18" >200</text>
<line x1="650.5" y1="169.2" x2="650.5" y2="172.2" stroke="#2a2a2a" stroke-width="1" />
<text x="650.5" y="181.5" font-size="9.5" text-anchor="middle" fill="#222" stroke="#222" stroke-width="0.18" >300</text>
<line x1="513.58" y1="169.2" x2="513.58" y2="170.8" stroke="#2a2a2a" stroke-width="1" />
<line x1="568.35" y1="169.2" x2="568.35" y2="170.8" stroke="#2a2a2a" stroke-width="1" />
<line x1="623.12" y1="169.2" x2="623.12" y2="170.8" stroke="#2a2a2a" stroke-width="1" />
<line x1="483.2" y1="169.2" x2="486.2" y2="169.2" stroke="#2a2a2a" stroke-width="1" />
<text x="481.6" y="172.4" font-size="9.5" text-anchor="end" fill="#222" stroke="#222" stroke-width="0.18" >0</text>
<line x1="483.2" y1="142.82" x2="486.2" y2="142.82" stroke="#2a2a2a" stroke-width="1" />
<text x="481.6" y="146.02" font-size="9.5" text-anchor="end" fill="#222" stroke="#222" stroke-width="0.18" >30</text>
<line x1="483.2" y1="116.44" x2="486.2" y2="116.44" stroke="#2a2a2a" stroke-width="1" />
<text x="481.6" y="119.64" font-size="9.5" text-anchor="end" fill="#222" stroke="#222" stroke-width="0.18" >60</text>
<line x1="483.2" y1="90.06" x2="486.2" y2="90.06" stroke="#2a2a2a" stroke-width="1" />
<text x="481.6" y="93.26" font-size="9.5" text-anchor="end" fill="#222" stroke="#222" stroke-width="0.18" >90</text>
<line x1="483.2" y1="63.68" x2="486.2" y2="63.68" stroke="#2a2a2a" stroke-width="1" />
<text x="481.6" y="66.88" font-size="9.5" text-anchor="end" fill="#222" stroke="#222" stroke-width="0.18" >120</text>
<line x1="483.2" y1="37.3" x2="486.2" y2="37.3" stroke="#2a2a2a" stroke-width="1" />
<text x="481.6" y="40.5" font-size="9.5" text-anchor="end" fill="#222" stroke="#222" stroke-width="0.18" >150</text>
<line x1="484.6" y1="156.01" x2="486.2" y2="156.01" stroke="#2a2a2a" stroke-width="1" />
<line x1="484.6" y1="129.63" x2="486.2" y2="129.63" stroke="#2a2a2a" stroke-width="1" />
<line x1="484.6" y1="103.25" x2="486.2" y2="103.25" stroke="#2a2a2a" stroke-width="1" />
<line x1="484.6" y1="76.87" x2="486.2" y2="76.87" stroke="#2a2a2a" stroke-width="1" />
<line x1="484.6" y1="50.49" x2="486.2" y2="50.49" stroke="#2a2a2a" stroke-width="1" />
<line x1="650.5" y1="169.2" x2="653.5" y2="169.2" stroke="#2a2a2a" stroke-width="1" />
<text x="654.7" y="172.4" font-size="9.5" text-anchor="start" fill="#222" stroke="#222" stroke-width="0.18" >0</text>
<line x1="650.5" y1="145.22" x2="653.5" y2="145.22" stroke="#2a2a2a" stroke-width="1" />
<text x="654.7" y="148.42" font-size="9.5" text-anchor="start" fill="#222" stroke="#222" stroke-width="0.18" >20</text>
<line x1="650.5" y1="121.24" x2="653.5" y2="121.24" stroke="#2a2a2a" stroke-width="1" />
<text x="654.7" y="124.44" font-size="9.5" text-anchor="start" fill="#222" stroke="#222" stroke-width="0.18" >40</text>
<line x1="650.5" y1="97.25" x2="653.5" y2="97.25" stroke="#2a2a2a" stroke-width="1" />
<text x="654.7" y="100.45" font-size="9.5" text-anchor="start" fill="#222" stroke="#222" stroke-width="0.18" >60</text>
<line x1="650.5" y1="73.27" x2="653.5" y2="73.27" stroke="#2a2a2a" stroke-width="1" />
<text x="654.7" y="76.47" font-size="9.5" text-anchor="start" fill="#222" stroke="#222" stroke-width="0.18" >80</text>
<line x1="650.5" y1="49.29" x2="653.5" y2="49.29" stroke="#2a2a2a" stroke-width="1" />
<text x="654.7" y="52.49" font-size="9.5" text-anchor="start" fill="#222" stroke="#222" stroke-width="0.18" >100</text>
<line x1="650.5" y1="157.21" x2="652.1" y2="157.21" stroke="#2a2a2a" stroke-width="1" />
<line x1="650.5" y1="133.23" x2="652.1" y2="133.23" stroke="#2a2a2a" stroke-width="1" />
<line x1="650.5" y1="109.25" x2="652.1" y2="109.25" stroke="#2a2a2a" stroke-width="1" />
<line x1="650.5" y1="85.26" x2="652.1" y2="85.26" stroke="#2a2a2a" stroke-width="1" />
<line x1="650.5" y1="61.28" x2="652.1" y2="61.28" stroke="#2a2a2a" stroke-width="1" />
<text x="459.3" y="103" font-size="10" text-anchor="middle" fill="#222" stroke="#222" stroke-width="0.18" transform="rotate(-90 459.3 103)" >Specific capacity (mAh g<tspan font-size="6.20" dy="-3.80">−1</tspan><tspan dy="3.80">)</tspan></text>
<text x="682" y="103" font-size="10" text-anchor="middle" fill="#222" stroke="#222" stroke-width="0.18" transform="rotate(-90 682 103)" >Coulombic efficiency (%)</text>
<text x="568.3" y="193.5" font-size="10" text-anchor="middle" fill="#222" stroke="#222" stroke-width="0.18" >Cycle number</text>
<circle cx="486.75" cy="55.29" r="2.3" fill="none" stroke="#cc0a7f" stroke-width="0.9"/>
<circle cx="487.3" cy="48.23" r="2.3" fill="none" stroke="#cc0a7f" stroke-width="0.9"/>
<circle cx="487.84" cy="46.69" r="2.3" fill="none" stroke="#cc0a7f" stroke-width="0.9"/>
<circle cx="488.39" cy="50.43" r="2.3" fill="none" stroke="#cc0a7f" stroke-width="0.9"/>
<circle cx="488.94" cy="44.2" r="2.3" fill="none" stroke="#cc0a7f" stroke-width="0.9"/>
<circle cx="489.49" cy="50.05" r="2.3" fill="none" stroke="#cc0a7f" stroke-width="0.9"/>
<circle cx="490.03" cy="49.32" r="2.3" fill="none" stroke="#cc0a7f" stroke-width="0.9"/>
<circle cx="490.58" cy="50.41" r="2.3" fill="none" stroke="#cc0a7f" stroke-width="0.9"/>
<circle cx="491.13" cy="49.83" r="2.3" fill="none" stroke="#cc0a7f" stroke-width="0.9"/>
<circle cx="491.68" cy="49.31" r="2.3" fill="none" stroke="#cc0a7f" stroke-width="0.9"/>
<circle cx="492.22" cy="49.81" r="2.3" fill="none" stroke="#cc0a7f" stroke-width="0.9"/>
<circle cx="492.77" cy="51.21" r="2.3" fill="none" stroke="#cc0a7f" stroke-width="0.9"/>
<circle cx="493.32" cy="49.03" r="2.3" fill="none" stroke="#cc0a7f" stroke-width="0.9"/>
<circle cx="493.87" cy="46.72" r="2.3" fill="none" stroke="#cc0a7f" stroke-width="0.9"/>
<circle cx="494.41" cy="49.92" r="2.3" fill="none" stroke="#cc0a7f" stroke-width="0.9"/>
<circle cx="494.96" cy="51.49" r="2.3" fill="none" stroke="#cc0a7f" stroke-width="0.9"/>
<circle cx="495.51" cy="52.05" r="2.3" fill="none" stroke="#cc0a7f" stroke-width="0.9"/>
<circle cx="496.06" cy="46.35" r="2.3" fill="none" stroke="#cc0a7f" stroke-width="0.9"/>
<circle cx="496.61" cy="49.11" r="2.3" fill="none" stroke="#cc0a7f" stroke-width="0.9"/>
<circle cx="497.15" cy="50.25" r="2.3" fill="none" stroke="#cc0a7f" stroke-width="0.9"/>
<circle cx="497.7" cy="47.4" r="2.3" fill="none" stroke="#cc0a7f" stroke-width="0.9"/>
<circle cx="498.25" cy="48.47" r="2.3" fill="none" stroke="#cc0a7f" stroke-width="0.9"/>
<circle cx="498.8" cy="49.52" r="2.3" fill="none" stroke="#cc0a7f" stroke-width="0.9"/>
<circle cx="499.34" cy="46.91" r="2.3" fill="none" stroke="#cc0a7f" stroke-width="0.9"/>
<circle cx="499.89" cy="48.98" r="2.3" fill="none" stroke="#cc0a7f" stroke-width="0.9"/>
<circle cx="500.44" cy="49.85" r="2.3" fill="none" stroke="#cc0a7f" stroke-width="0.9"/>
<circle cx="500.99" cy="49.82" r="2.3" fill="none" stroke="#cc0a7f" stroke-width="0.9"/>
<circle cx="501.53" cy="46.73" r="2.3" fill="none" stroke="#cc0a7f" stroke-width="0.9"/>
<circle cx="502.08" cy="51.35" r="2.3" fill="none" stroke="#cc0a7f" stroke-width="0.9"/>
<circle cx="502.63" cy="51.39" r="2.3" fill="none" stroke="#cc0a7f" stroke-width="0.9"/>
<circle cx="503.18" cy="49.1" r="2.3" fill="none" stroke="#cc0a7f" stroke-width="0.9"/>
<circle cx="503.73" cy="48.69" r="2.3" fill="none" stroke="#cc0a7f" stroke-width="0.9"/>
<circle cx="504.27" cy="50.83" r="2.3" fill="none" stroke="#cc0a7f" stroke-width="0.9"/>
<circle cx="504.82" cy="48.58" r="2.3" fill="none" stroke="#cc0a7f" stroke-width="0.9"/>
<circle cx="505.37" cy="48.75" r="2.3" fill="none" stroke="#cc0a7f" stroke-width="0.9"/>
<circle cx="505.92" cy="51.32" r="2.3" fill="none" stroke="#cc0a7f" stroke-width="0.9"/>
<circle cx="506.46" cy="46.77" r="2.3" fill="none" stroke="#cc0a7f" stroke-width="0.9"/>
<circle cx="507.01" cy="50.28" r="2.3" fill="none" stroke="#cc0a7f" stroke-width="0.9"/>
<circle cx="507.56" cy="47.97" r="2.3" fill="none" stroke="#cc0a7f" stroke-width="0.9"/>
<circle cx="508.11" cy="49.4" r="2.3" fill="none" stroke="#cc0a7f" stroke-width="0.9"/>
<circle cx="508.65" cy="49.2" r="2.3" fill="none" stroke="#cc0a7f" stroke-width="0.9"/>
<circle cx="509.2" cy="46.91" r="2.3" fill="none" stroke="#cc0a7f" stroke-width="0.9"/>
<circle cx="509.75" cy="48.29" r="2.3" fill="none" stroke="#cc0a7f" stroke-width="0.9"/>
<circle cx="510.3" cy="47.93" r="2.3" fill="none" stroke="#cc0a7f" stroke-width="0.9"/>
<circle cx="510.84" cy="48.54" r="2.3" fill="none" stroke="#cc0a7f" stroke-width="0.9"/>
<circle cx="511.39" cy="47.47" r="2.3" fill="none" stroke="#cc0a7f" stroke-width="0.9"/>
<circle cx="511.94" cy="47.14" r="2.3" fill="none" stroke="#cc0a7f" stroke-width="0.9"/>
<circle cx="512.49" cy="50.75" r="2.3" fill="none" stroke="#cc0a7f" stroke-width="0.9"/>
<circle cx="513.04" cy="49.28" r="2.3" fill="none" stroke="#cc0a7f" stroke-width="0.9"/>
<circle cx="513.58" cy="48.69" r="2.3" fill="none" stroke="#cc0a7f" stroke-width="0.9"/>
<circle cx="514.13" cy="47.93" r="2.3" fill="none" stroke="#cc0a7f" stroke-width="0.9"/>
<circle cx="514.68" cy="50.67" r="2.3" fill="none" stroke="#cc0a7f" stroke-width="0.9"/>
<circle cx="515.23" cy="47.69" r="2.3" fill="none" stroke="#cc0a7f" stroke-width="0.9"/>
<circle cx="515.77" cy="49.33" r="2.3" fill="none" stroke="#cc0a7f" stroke-width="0.9"/>
<circle cx="516.32" cy="46.71" r="2.3" fill="none" stroke="#cc0a7f" stroke-width="0.9"/>
<circle cx="516.87" cy="49.44" r="2.3" fill="none" stroke="#cc0a7f" stroke-width="0.9"/>
<circle cx="517.42" cy="48.74" r="2.3" fill="none" stroke="#cc0a7f" stroke-width="0.9"/>
<circle cx="517.96" cy="47.66" r="2.3" fill="none" stroke="#cc0a7f" stroke-width="0.9"/>
<circle cx="518.51" cy="50.08" r="2.3" fill="none" stroke="#cc0a7f" stroke-width="0.9"/>
<circle cx="519.06" cy="51.5" r="2.3" fill="none" stroke="#cc0a7f" stroke-width="0.9"/>
<circle cx="519.61" cy="49.45" r="2.3" fill="none" stroke="#cc0a7f" stroke-width="0.9"/>
<circle cx="520.16" cy="49.38" r="2.3" fill="none" stroke="#cc0a7f" stroke-width="0.9"/>
<circle cx="520.7" cy="44.51" r="2.3" fill="none" stroke="#cc0a7f" stroke-width="0.9"/>
<circle cx="521.25" cy="47.71" r="2.3" fill="none" stroke="#cc0a7f" stroke-width="0.9"/>
<circle cx="521.8" cy="48.44" r="2.3" fill="none" stroke="#cc0a7f" stroke-width="0.9"/>
<circle cx="522.35" cy="47.8" r="2.3" fill="none" stroke="#cc0a7f" stroke-width="0.9"/>
<circle cx="522.89" cy="49.41" r="2.3" fill="none" stroke="#cc0a7f" stroke-width="0.9"/>
<circle cx="523.44" cy="47.77" r="2.3" fill="none" stroke="#cc0a7f" stroke-width="0.9"/>
<circle cx="523.99" cy="47.7" r="2.3" fill="none" stroke="#cc0a7f" stroke-width="0.9"/>
<circle cx="524.54" cy="49.84" r="2.3" fill="none" stroke="#cc0a7f" stroke-width="0.9"/>
<circle cx="525.08" cy="46.93" r="2.3" fill="none" stroke="#cc0a7f" stroke-width="0.9"/>
<circle cx="525.63" cy="51.03" r="2.3" fill="none" stroke="#cc0a7f" stroke-width="0.9"/>
<circle cx="526.18" cy="51.13" r="2.3" fill="none" stroke="#cc0a7f" stroke-width="0.9"/>
<circle cx="526.73" cy="47.67" r="2.3" fill="none" stroke="#cc0a7f" stroke-width="0.9"/>
<circle cx="527.27" cy="47.57" r="2.3" fill="none" stroke="#cc0a7f" stroke-width="0.9"/>
<circle cx="527.82" cy="48.46" r="2.3" fill="none" stroke="#cc0a7f" stroke-width="0.9"/>
<circle cx="528.37" cy="49.03" r="2.3" fill="none" stroke="#cc0a7f" stroke-width="0.9"/>
<circle cx="528.92" cy="51.85" r="2.3" fill="none" stroke="#cc0a7f" stroke-width="0.9"/>
<circle cx="529.47" cy="48.5" r="2.3" fill="none" stroke="#cc0a7f" stroke-width="0.9"/>
<circle cx="530.01" cy="47" r="2.3" fill="none" stroke="#cc0a7f" stroke-width="0.9"/>
<circle cx="530.56" cy="47.33" r="2.3" fill="none" stroke="#cc0a7f" stroke-width="0.9"/>
<circle cx="531.11" cy="50.82" r="2.3" fill="none" stroke="#cc0a7f" stroke-width="0.9"/>
<circle cx="531.66" cy="50.38" r="2.3" fill="none" stroke="#cc0a7f" stroke-width="0.9"/>
<circle cx="532.2" cy="48.83" r="2.3" fill="none" stroke="#cc0a7f" stroke-width="0.9"/>
<circle cx="532.75" cy="49.72" r="2.3" fill="none" stroke="#cc0a7f" stroke-width="0.9"/>
<circle cx="533.3" cy="47.13" r="2.3" fill="none" stroke="#cc0a7f" stroke-width="0.9"/>
<circle cx="533.85" cy="49.51" r="2.3" fill="none" stroke="#cc0a7f" stroke-width="0.9"/>
<circle cx="534.39" cy="47.16" r="2.3" fill="none" stroke="#cc0a7f" stroke-width="0.9"/>
<circle cx="534.94" cy="47.09" r="2.3" fill="none" stroke="#cc0a7f" stroke-width="0.9"/>
<circle cx="535.49" cy="49.12" r="2.3" fill="none" stroke="#cc0a7f" stroke-width="0.9"/>
<circle cx="536.04" cy="51.83" r="2.3" fill="none" stroke="#cc0a7f" stroke-width="0.9"/>
<circle cx="536.59" cy="54.56" r="2.3" fill="none" stroke="#cc0a7f" stroke-width="0.9"/>
<circle cx="537.13" cy="51.02" r="2.3" fill="none" stroke="#cc0a7f" stroke-width="0.9"/>
<circle cx="537.68" cy="48.1" r="2.3" fill="none" stroke="#cc0a7f" stroke-width="0.9"/>
<circle cx="538.23" cy="50.21" r="2.3" fill="none" stroke="#cc0a7f" stroke-width="0.9"/>
<circle cx="538.78" cy="49" r="2.3" fill="none" stroke="#cc0a7f" stroke-width="0.9"/>
<circle cx="539.32" cy="51.37" r="2.3" fill="none" stroke="#cc0a7f" stroke-width="0.9"/>
<circle cx="539.87" cy="50.62" r="2.3" fill="none" stroke="#cc0a7f" stroke-width="0.9"/>
<circle cx="540.42" cy="47.85" r="2.3" fill="none" stroke="#cc0a7f" stroke-width="0.9"/>
<circle cx="540.97" cy="48.97" r="2.3" fill="none" stroke="#cc0a7f" stroke-width="0.9"/>
<circle cx="541.51" cy="47.11" r="2.3" fill="none" stroke="#cc0a7f" stroke-width="0.9"/>
<circle cx="542.06" cy="48.7" r="2.3" fill="none" stroke="#cc0a7f" stroke-width="0.9"/>
<circle cx="542.61" cy="49.23" r="2.3" fill="none" stroke="#cc0a7f" stroke-width="0.9"/>
<circle cx="543.16" cy="49.54" r="2.3" fill="none" stroke="#cc0a7f" stroke-width="0.9"/>
<circle cx="543.71" cy="49.41" r="2.3" fill="none" stroke="#cc0a7f" stroke-width="0.9"/>
<circle cx="544.25" cy="48.24" r="2.3" fill="none" stroke="#cc0a7f" stroke-width="0.9"/>
<circle cx="544.8" cy="46.96" r="2.3" fill="none" stroke="#cc0a7f" stroke-width="0.9"/>
<circle cx="545.35" cy="48.98" r="2.3" fill="none" stroke="#cc0a7f" stroke-width="0.9"/>
<circle cx="545.9" cy="47.5" r="2.3" fill="none" stroke="#cc0a7f" stroke-width="0.9"/>
<circle cx="546.44" cy="51.29" r="2.3" fill="none" stroke="#cc0a7f" stroke-width="0.9"/>
<circle cx="546.99" cy="51.55" r="2.3" fill="none" stroke="#cc0a7f" stroke-width="0.9"/>
<circle cx="547.54" cy="51.54" r="2.3" fill="none" stroke="#cc0a7f" stroke-width="0.9"/>
<circle cx="548.09" cy="47.79" r="2.3" fill="none" stroke="#cc0a7f" stroke-width="0.9"/>
<circle cx="548.63" cy="51.11" r="2.3" fill="none" stroke="#cc0a7f" stroke-width="0.9"/>
<circle cx="549.18" cy="48.45" r="2.3" fill="none" stroke="#cc0a7f" stroke-width="0.9"/>
<circle cx="549.73" cy="47.27" r="2.3" fill="none" stroke="#cc0a7f" stroke-width="0.9"/>
<circle cx="550.28" cy="50.77" r="2.3" fill="none" stroke="#cc0a7f" stroke-width="0.9"/>
<circle cx="550.82" cy="49.83" r="2.3" fill="none" stroke="#cc0a7f" stroke-width="0.9"/>
<circle cx="551.37" cy="46.71" r="2.3" fill="none" stroke="#cc0a7f" stroke-width="0.9"/>
<circle cx="551.92" cy="51.08" r="2.3" fill="none" stroke="#cc0a7f" stroke-width="0.9"/>
<circle cx="552.47" cy="49.21" r="2.3" fill="none" stroke="#cc0a7f" stroke-width="0.9"/>
<circle cx="553.02" cy="50.9" r="2.3" fill="none" stroke="#cc0a7f" stroke-width="0.9"/>
<circle cx="553.56" cy="43.92" r="2.3" fill="none" stroke="#cc0a7f" stroke-width="0.9"/>
<circle cx="554.11" cy="45.41" r="2.3" fill="none" stroke="#cc0a7f" stroke-width="0.9"/>
<circle cx="554.66" cy="49.2" r="2.3" fill="none" stroke="#cc0a7f" stroke-width="0.9"/>
<circle cx="555.21" cy="46.86" r="2.3" fill="none" stroke="#cc0a7f" stroke-width="0.9"/>
<circle cx="555.75" cy="47.08" r="2.3" fill="none" stroke="#cc0a7f" stroke-width="0.9"/>
<circle cx="556.3" cy="47.31" r="2.3" fill="none" stroke="#cc0a7f" stroke-width="0.9"/>
<circle cx="556.85" cy="50.49" r="2.3" fill="none" stroke="#cc0a7f" stroke-width="0.9"/>
<circle cx="557.4" cy="50.97" r="2.3" fill="none" stroke="#cc0a7f" stroke-width="0.9"/>
<circle cx="557.94" cy="47.6" r="2.3" fill="none" stroke="#cc0a7f" stroke-width="0.9"/>
<circle cx="558.49" cy="48.36" r="2.3" fill="none" stroke="#cc0a7f" stroke-width="0.9"/>
<circle cx="559.04" cy="49.79" r="2.3" fill="none" stroke="#cc0a7f" stroke-width="0.9"/>
<circle cx="559.59" cy="49.21" r="2.3" fill="none" stroke="#cc0a7f" stroke-width="0.9"/>
<circle cx="560.13" cy="50.2" r="2.3" fill="none" stroke="#cc0a7f" stroke-width="0.9"/>
<circle cx="560.68" cy="47.71" r="2.3" fill="none" stroke="#cc0a7f" stroke-width="0.9"/>
<circle cx="561.23" cy="47.21" r="2.3" fill="none" stroke="#cc0a7f" stroke-width="0.9"/>
<circle cx="561.78" cy="51.84" r="2.3" fill="none" stroke="#cc0a7f" stroke-width="0.9"/>
<circle cx="562.33" cy="50.55" r="2.3" fill="none" stroke="#cc0a7f" stroke-width="0.9"/>
<circle cx="562.87" cy="50.76" r="2.3" fill="none" stroke="#cc0a7f" stroke-width="0.9"/>
<circle cx="563.42" cy="47.09" r="2.3" fill="none" stroke="#cc0a7f" stroke-width="0.9"/>
<circle cx="563.97" cy="47.04" r="2.3" fill="none" stroke="#cc0a7f" stroke-width="0.9"/>
<circle cx="564.52" cy="51.25" r="2.3" fill="none" stroke="#cc0a7f" stroke-width="0.9"/>
<circle cx="565.06" cy="50.67" r="2.3" fill="none" stroke="#cc0a7f" stroke-width="0.9"/>
<circle cx="565.61" cy="54.67" r="2.3" fill="none" stroke="#cc0a7f" stroke-width="0.9"/>
<circle cx="566.16" cy="47.01" r="2.3" fill="none" stroke="#cc0a7f" stroke-width="0.9"/>
<circle cx="566.71" cy="49.13" r="2.3" fill="none" stroke="#cc0a7f" stroke-width="0.9"/>
<circle cx="567.25" cy="49.58" r="2.3" fill="none" stroke="#cc0a7f" stroke-width="0.9"/>
<circle cx="567.8" cy="50.5" r="2.3" fill="none" stroke="#cc0a7f" stroke-width="0.9"/>
<circle cx="568.35" cy="50.28" r="2.3" fill="none" stroke="#cc0a7f" stroke-width="0.9"/>
<circle cx="568.9" cy="48.06" r="2.3" fill="none" stroke="#cc0a7f" stroke-width="0.9"/>
<circle cx="569.45" cy="50.93" r="2.3" fill="none" stroke="#cc0a7f" stroke-width="0.9"/>
<circle cx="569.99" cy="47" r="2.3" fill="none" stroke="#cc0a7f" stroke-width="0.9"/>
<circle cx="570.54" cy="47.61" r="2.3" fill="none" stroke="#cc0a7f" stroke-width="0.9"/>
<circle cx="571.09" cy="49.32" r="2.3" fill="none" stroke="#cc0a7f" stroke-width="0.9"/>
<circle cx="571.64" cy="49.85" r="2.3" fill="none" stroke="#cc0a7f" stroke-width="0.9"/>
<circle cx="572.18" cy="48.3" r="2.3" fill="none" stroke="#cc0a7f" stroke-width="0.9"/>
<circle cx="572.73" cy="50.12" r="2.3" fill="none" stroke="#cc0a7f" stroke-width="0.9"/>
<circle cx="573.28" cy="48.2" r="2.3" fill="none" stroke="#cc0a7f" stroke-width="0.9"/>
<circle cx="573.83" cy="49.79" r="2.3" fill="none" stroke="#cc0a7f" stroke-width="0.9"/>
<circle cx="574.37" cy="51.64" r="2.3" fill="none" stroke="#cc0a7f" stroke-width="0.9"/>
<circle cx="574.92" cy="51.56" r="2.3" fill="none" stroke="#cc0a7f" stroke-width="0.9"/>
<circle cx="575.47" cy="50.58" r="2.3" fill="none" stroke="#cc0a7f" stroke-width="0.9"/>
<circle cx="576.02" cy="51.48" r="2.3" fill="none" stroke="#cc0a7f" stroke-width="0.9"/>
<circle cx="576.57" cy="47.34" r="2.3" fill="none" stroke="#cc0a7f" stroke-width="0.9"/>
<circle cx="577.11" cy="50.44" r="2.3" fill="none" stroke="#cc0a7f" stroke-width="0.9"/>
<circle cx="577.66" cy="50.38" r="2.3" fill="none" stroke="#cc0a7f" stroke-width="0.9"/>
<circle cx="578.21" cy="51.1" r="2.3" fill="none" stroke="#cc0a7f" stroke-width="0.9"/>
<circle cx="578.76" cy="50.54" r="2.3" fill="none" stroke="#cc0a7f" stroke-width="0.9"/>
<circle cx="579.3" cy="46.8" r="2.3" fill="none" stroke="#cc0a7f" stroke-width="0.9"/>
<circle cx="579.85" cy="50.64" r="2.3" fill="none" stroke="#cc0a7f" stroke-width="0.9"/>
<circle cx="580.4" cy="50.3" r="2.3" fill="none" stroke="#cc0a7f" stroke-width="0.9"/>
<circle cx="580.95" cy="51.92" r="2.3" fill="none" stroke="#cc0a7f" stroke-width="0.9"/>
<circle cx="581.49" cy="49.42" r="2.3" fill="none" stroke="#cc0a7f" stroke-width="0.9"/>
<circle cx="582.04" cy="50.87" r="2.3" fill="none" stroke="#cc0a7f" stroke-width="0.9"/>
<circle cx="582.59" cy="51.9" r="2.3" fill="none" stroke="#cc0a7f" stroke-width="0.9"/>
<circle cx="583.14" cy="51.46" r="2.3" fill="none" stroke="#cc0a7f" stroke-width="0.9"/>
<circle cx="583.68" cy="47.51" r="2.3" fill="none" stroke="#cc0a7f" stroke-width="0.9"/>
<circle cx="584.23" cy="48.61" r="2.3" fill="none" stroke="#cc0a7f" stroke-width="0.9"/>
<circle cx="584.78" cy="46.88" r="2.3" fill="none" stroke="#cc0a7f" stroke-width="0.9"/>
<circle cx="585.33" cy="51.11" r="2.3" fill="none" stroke="#cc0a7f" stroke-width="0.9"/>
<circle cx="585.88" cy="47.79" r="2.3" fill="none" stroke="#cc0a7f" stroke-width="0.9"/>
<circle cx="586.42" cy="47.9" r="2.3" fill="none" stroke="#cc0a7f" stroke-width="0.9"/>
<circle cx="586.97" cy="49.32" r="2.3" fill="none" stroke="#cc0a7f" stroke-width="0.9"/>
<circle cx="587.52" cy="48.66" r="2.3" fill="none" stroke="#cc0a7f" stroke-width="0.9"/>
<circle cx="588.07" cy="47.58" r="2.3" fill="none" stroke="#cc0a7f" stroke-width="0.9"/>
<circle cx="588.61" cy="49.22" r="2.3" fill="none" stroke="#cc0a7f" stroke-width="0.9"/>
<circle cx="589.16" cy="48.23" r="2.3" fill="none" stroke="#cc0a7f" stroke-width="0.9"/>
<circle cx="589.71" cy="47.13" r="2.3" fill="none" stroke="#cc0a7f" stroke-width="0.9"/>
<circle cx="590.26" cy="48.93" r="2.3" fill="none" stroke="#cc0a7f" stroke-width="0.9"/>
<circle cx="590.8" cy="51.84" r="2.3" fill="none" stroke="#cc0a7f" stroke-width="0.9"/>
<circle cx="591.35" cy="47.72" r="2.3" fill="none" stroke="#cc0a7f" stroke-width="0.9"/>
<circle cx="591.9" cy="46.88" r="2.3" fill="none" stroke="#cc0a7f" stroke-width="0.9"/>
<circle cx="592.45" cy="47.28" r="2.3" fill="none" stroke="#cc0a7f" stroke-width="0.9"/>
<circle cx="593" cy="46.87" r="2.3" fill="none" stroke="#cc0a7f" stroke-width="0.9"/>
<circle cx="593.54" cy="53.14" r="2.3" fill="none" stroke="#cc0a7f" stroke-width="0.9"/>
<circle cx="594.09" cy="48.62" r="2.3" fill="none" stroke="#cc0a7f" stroke-width="0.9"/>
<circle cx="594.64" cy="52.94" r="2.3" fill="none" stroke="#cc0a7f" stroke-width="0.9"/>
<circle cx="595.19" cy="47.98" r="2.3" fill="none" stroke="#cc0a7f" stroke-width="0.9"/>
<circle cx="595.73" cy="49.11" r="2.3" fill="none" stroke="#cc0a7f" stroke-width="0.9"/>
<circle cx="596.28" cy="51.58" r="2.3" fill="none" stroke="#cc0a7f" stroke-width="0.9"/>
<circle cx="596.83" cy="50.6" r="2.3" fill="none" stroke="#cc0a7f" stroke-width="0.9"/>
<circle cx="597.38" cy="50.53" r="2.3" fill="none" stroke="#cc0a7f" stroke-width="0.9"/>
<circle cx="597.92" cy="50.85" r="2.3" fill="none" stroke="#cc0a7f" stroke-width="0.9"/>
<circle cx="598.47" cy="46.78" r="2.3" fill="none" stroke="#cc0a7f" stroke-width="0.9"/>
<circle cx="599.02" cy="49.91" r="2.3" fill="none" stroke="#cc0a7f" stroke-width="0.9"/>
<circle cx="599.57" cy="48.32" r="2.3" fill="none" stroke="#cc0a7f" stroke-width="0.9"/>
<circle cx="600.11" cy="48.67" r="2.3" fill="none" stroke="#cc0a7f" stroke-width="0.9"/>
<circle cx="600.66" cy="51.52" r="2.3" fill="none" stroke="#cc0a7f" stroke-width="0.9"/>
<circle cx="601.21" cy="50.59" r="2.3" fill="none" stroke="#cc0a7f" stroke-width="0.9"/>
<circle cx="601.76" cy="50.32" r="2.3" fill="none" stroke="#cc0a7f" stroke-width="0.9"/>
<circle cx="602.31" cy="51.86" r="2.3" fill="none" stroke="#cc0a7f" stroke-width="0.9"/>
<circle cx="602.85" cy="50.51" r="2.3" fill="none" stroke="#cc0a7f" stroke-width="0.9"/>
<circle cx="603.4" cy="48.28" r="2.3" fill="none" stroke="#cc0a7f" stroke-width="0.9"/>
<circle cx="603.95" cy="50.39" r="2.3" fill="none" stroke="#cc0a7f" stroke-width="0.9"/>
<circle cx="604.5" cy="49.48" r="2.3" fill="none" stroke="#cc0a7f" stroke-width="0.9"/>
<circle cx="605.04" cy="51.3" r="2.3" fill="none" stroke="#cc0a7f" stroke-width="0.9"/>
<circle cx="605.59" cy="50.88" r="2.3" fill="none" stroke="#cc0a7f" stroke-width="0.9"/>
<circle cx="606.14" cy="42.79" r="2.3" fill="none" stroke="#cc0a7f" stroke-width="0.9"/>
<circle cx="606.69" cy="51.53" r="2.3" fill="none" stroke="#cc0a7f" stroke-width="0.9"/>
<circle cx="607.23" cy="46.68" r="2.3" fill="none" stroke="#cc0a7f" stroke-width="0.9"/>
<circle cx="607.78" cy="49.89" r="2.3" fill="none" stroke="#cc0a7f" stroke-width="0.9"/>
<circle cx="608.33" cy="47.02" r="2.3" fill="none" stroke="#cc0a7f" stroke-width="0.9"/>
<circle cx="608.88" cy="51.45" r="2.3" fill="none" stroke="#cc0a7f" stroke-width="0.9"/>
<circle cx="609.42" cy="50.55" r="2.3" fill="none" stroke="#cc0a7f" stroke-width="0.9"/>
<circle cx="609.97" cy="48.75" r="2.3" fill="none" stroke="#cc0a7f" stroke-width="0.9"/>
<circle cx="610.52" cy="50.45" r="2.3" fill="none" stroke="#cc0a7f" stroke-width="0.9"/>
<circle cx="611.07" cy="50" r="2.3" fill="none" stroke="#cc0a7f" stroke-width="0.9"/>
<circle cx="611.62" cy="47.31" r="2.3" fill="none" stroke="#cc0a7f" stroke-width="0.9"/>
<circle cx="612.16" cy="51.09" r="2.3" fill="none" stroke="#cc0a7f" stroke-width="0.9"/>
<circle cx="612.71" cy="48.33" r="2.3" fill="none" stroke="#cc0a7f" stroke-width="0.9"/>
<circle cx="613.26" cy="48.09" r="2.3" fill="none" stroke="#cc0a7f" stroke-width="0.9"/>
<circle cx="613.81" cy="49.94" r="2.3" fill="none" stroke="#cc0a7f" stroke-width="0.9"/>
<circle cx="614.35" cy="50.18" r="2.3" fill="none" stroke="#cc0a7f" stroke-width="0.9"/>
<circle cx="614.9" cy="50.14" r="2.3" fill="none" stroke="#cc0a7f" stroke-width="0.9"/>
<circle cx="615.45" cy="46.97" r="2.3" fill="none" stroke="#cc0a7f" stroke-width="0.9"/>
<circle cx="616" cy="51.87" r="2.3" fill="none" stroke="#cc0a7f" stroke-width="0.9"/>
<circle cx="616.54" cy="50.59" r="2.3" fill="none" stroke="#cc0a7f" stroke-width="0.9"/>
<circle cx="617.09" cy="49.87" r="2.3" fill="none" stroke="#cc0a7f" stroke-width="0.9"/>
<circle cx="617.64" cy="51.53" r="2.3" fill="none" stroke="#cc0a7f" stroke-width="0.9"/>
<circle cx="618.19" cy="47.94" r="2.3" fill="none" stroke="#cc0a7f" stroke-width="0.9"/>
<circle cx="618.74" cy="46.25" r="2.3" fill="none" stroke="#cc0a7f" stroke-width="0.9"/>
<circle cx="619.28" cy="48.58" r="2.3" fill="none" stroke="#cc0a7f" stroke-width="0.9"/>
<circle cx="619.83" cy="46.81" r="2.3" fill="none" stroke="#cc0a7f" stroke-width="0.9"/>
<circle cx="620.38" cy="50.26" r="2.3" fill="none" stroke="#cc0a7f" stroke-width="0.9"/>
<circle cx="620.93" cy="47.79" r="2.3" fill="none" stroke="#cc0a7f" stroke-width="0.9"/>
<circle cx="621.47" cy="51.78" r="2.3" fill="none" stroke="#cc0a7f" stroke-width="0.9"/>
<circle cx="622.02" cy="49.82" r="2.3" fill="none" stroke="#cc0a7f" stroke-width="0.9"/>
<circle cx="622.57" cy="49.01" r="2.3" fill="none" stroke="#cc0a7f" stroke-width="0.9"/>
<circle cx="623.12" cy="51.5" r="2.3" fill="none" stroke="#cc0a7f" stroke-width="0.9"/>
<circle cx="623.66" cy="49.76" r="2.3" fill="none" stroke="#cc0a7f" stroke-width="0.9"/>
<circle cx="624.21" cy="51.2" r="2.3" fill="none" stroke="#cc0a7f" stroke-width="0.9"/>
<circle cx="624.76" cy="49.37" r="2.3" fill="none" stroke="#cc0a7f" stroke-width="0.9"/>
<circle cx="625.31" cy="49.03" r="2.3" fill="none" stroke="#cc0a7f" stroke-width="0.9"/>
<circle cx="625.86" cy="49.74" r="2.3" fill="none" stroke="#cc0a7f" stroke-width="0.9"/>
<circle cx="626.4" cy="50.58" r="2.3" fill="none" stroke="#cc0a7f" stroke-width="0.9"/>
<circle cx="626.95" cy="48.48" r="2.3" fill="none" stroke="#cc0a7f" stroke-width="0.9"/>
<circle cx="627.5" cy="50.67" r="2.3" fill="none" stroke="#cc0a7f" stroke-width="0.9"/>
<circle cx="628.05" cy="48.4" r="2.3" fill="none" stroke="#cc0a7f" stroke-width="0.9"/>
<circle cx="628.59" cy="48.54" r="2.3" fill="none" stroke="#cc0a7f" stroke-width="0.9"/>
<circle cx="629.14" cy="49.29" r="2.3" fill="none" stroke="#cc0a7f" stroke-width="0.9"/>
<circle cx="629.69" cy="49.03" r="2.3" fill="none" stroke="#cc0a7f" stroke-width="0.9"/>
<circle cx="630.24" cy="50.17" r="2.3" fill="none" stroke="#cc0a7f" stroke-width="0.9"/>
<circle cx="630.78" cy="49.67" r="2.3" fill="none" stroke="#cc0a7f" stroke-width="0.9"/>
<circle cx="631.33" cy="50.64" r="2.3" fill="none" stroke="#cc0a7f" stroke-width="0.9"/>
<circle cx="631.88" cy="49" r="2.3" fill="none" stroke="#cc0a7f" stroke-width="0.9"/>
<circle cx="632.43" cy="49.99" r="2.3" fill="none" stroke="#cc0a7f" stroke-width="0.9"/>
<circle cx="632.97" cy="46.67" r="2.3" fill="none" stroke="#cc0a7f" stroke-width="0.9"/>
<circle cx="633.52" cy="49.91" r="2.3" fill="none" stroke="#cc0a7f" stroke-width="0.9"/>
<circle cx="634.07" cy="50.82" r="2.3" fill="none" stroke="#cc0a7f" stroke-width="0.9"/>
<circle cx="634.62" cy="47.96" r="2.3" fill="none" stroke="#cc0a7f" stroke-width="0.9"/>
<circle cx="635.17" cy="48.9" r="2.3" fill="none" stroke="#cc0a7f" stroke-width="0.9"/>
<circle cx="635.71" cy="48.31" r="2.3" fill="none" stroke="#cc0a7f" stroke-width="0.9"/>
<circle cx="636.26" cy="47.76" r="2.3" fill="none" stroke="#cc0a7f" stroke-width="0.9"/>
<circle cx="636.81" cy="51.44" r="2.3" fill="none" stroke="#cc0a7f" stroke-width="0.9"/>
<circle cx="637.36" cy="49.9" r="2.3" fill="none" stroke="#cc0a7f" stroke-width="0.9"/>
<circle cx="637.9" cy="49.65" r="2.3" fill="none" stroke="#cc0a7f" stroke-width="0.9"/>
<circle cx="638.45" cy="47.63" r="2.3" fill="none" stroke="#cc0a7f" stroke-width="0.9"/>
<circle cx="639" cy="51.26" r="2.3" fill="none" stroke="#cc0a7f" stroke-width="0.9"/>
<circle cx="639.55" cy="47.9" r="2.3" fill="none" stroke="#cc0a7f" stroke-width="0.9"/>
<circle cx="640.09" cy="46.82" r="2.3" fill="none" stroke="#cc0a7f" stroke-width="0.9"/>
<circle cx="640.64" cy="51.54" r="2.3" fill="none" stroke="#cc0a7f" stroke-width="0.9"/>
<circle cx="641.19" cy="47.03" r="2.3" fill="none" stroke="#cc0a7f" stroke-width="0.9"/>
<circle cx="641.74" cy="49.46" r="2.3" fill="none" stroke="#cc0a7f" stroke-width="0.9"/>
<circle cx="642.28" cy="47.8" r="2.3" fill="none" stroke="#cc0a7f" stroke-width="0.9"/>
<circle cx="642.83" cy="51.13" r="2.3" fill="none" stroke="#cc0a7f" stroke-width="0.9"/>
<circle cx="643.38" cy="51.35" r="2.3" fill="none" stroke="#cc0a7f" stroke-width="0.9"/>
<circle cx="643.93" cy="48.23" r="2.3" fill="none" stroke="#cc0a7f" stroke-width="0.9"/>
<circle cx="644.48" cy="47.21" r="2.3" fill="none" stroke="#cc0a7f" stroke-width="0.9"/>
<circle cx="645.02" cy="51.43" r="2.3" fill="none" stroke="#cc0a7f" stroke-width="0.9"/>
<circle cx="645.57" cy="50.7" r="2.3" fill="none" stroke="#cc0a7f" stroke-width="0.9"/>
<circle cx="646.12" cy="48.52" r="2.3" fill="none" stroke="#cc0a7f" stroke-width="0.9"/>
<circle cx="646.67" cy="51.25" r="2.3" fill="none" stroke="#cc0a7f" stroke-width="0.9"/>
<circle cx="647.21" cy="48.57" r="2.3" fill="none" stroke="#cc0a7f" stroke-width="0.9"/>
<circle cx="647.76" cy="51.34" r="2.3" fill="none" stroke="#cc0a7f" stroke-width="0.9"/>
<circle cx="648.31" cy="49.16" r="2.3" fill="none" stroke="#cc0a7f" stroke-width="0.9"/>
<circle cx="648.86" cy="49.88" r="2.3" fill="none" stroke="#cc0a7f" stroke-width="0.9"/>
<circle cx="649.4" cy="44.56" r="2.3" fill="none" stroke="#cc0a7f" stroke-width="0.9"/>
<circle cx="649.95" cy="46.67" r="2.3" fill="none" stroke="#cc0a7f" stroke-width="0.9"/>
<circle cx="650.5" cy="50.26" r="2.3" fill="none" stroke="#cc0a7f" stroke-width="0.9"/>
<rect x="484.35" y="115.23" width="4.8" height="4.8" fill="none" stroke="#cc0a7f" stroke-width="1.3"/>
<rect x="484.9" y="114.66" width="4.8" height="4.8" fill="none" stroke="#cc0a7f" stroke-width="1.3"/>
<rect x="485.44" y="114.64" width="4.8" height="4.8" fill="none" stroke="#cc0a7f" stroke-width="1.3"/>
<rect x="485.99" y="115.76" width="4.8" height="4.8" fill="none" stroke="#cc0a7f" stroke-width="1.3"/>
<rect x="486.54" y="114.99" width="4.8" height="4.8" fill="none" stroke="#cc0a7f" stroke-width="1.3"/>
<rect x="487.09" y="114.51" width="4.8" height="4.8" fill="none" stroke="#cc0a7f" stroke-width="1.3"/>
<rect x="487.63" y="115.8" width="4.8" height="4.8" fill="none" stroke="#cc0a7f" stroke-width="1.3"/>
<rect x="488.18" y="115.53" width="4.8" height="4.8" fill="none" stroke="#cc0a7f" stroke-width="1.3"/>
<rect x="488.73" y="114.1" width="4.8" height="4.8" fill="none" stroke="#cc0a7f" stroke-width="1.3"/>
<rect x="489.28" y="114.63" width="4.8" height="4.8" fill="none" stroke="#cc0a7f" stroke-width="1.3"/>
<rect x="489.82" y="115.86" width="4.8" height="4.8" fill="none" stroke="#cc0a7f" stroke-width="1.3"/>
<rect x="490.37" y="115.58" width="4.8" height="4.8" fill="none" stroke="#cc0a7f" stroke-width="1.3"/>
<rect x="490.92" y="115.19" width="4.8" height="4.8" fill="none" stroke="#cc0a7f" stroke-width="1.3"/>
<rect x="491.47" y="115.33" width="4.8" height="4.8" fill="none" stroke="#cc0a7f" stroke-width="1.3"/>
<rect x="492.01" y="115.1" width="4.8" height="4.8" fill="none" stroke="#cc0a7f" stroke-width="1.3"/>
<rect x="492.56" y="114.7" width="4.8" height="4.8" fill="none" stroke="#cc0a7f" stroke-width="1.3"/>
<rect x="493.11" y="114.68" width="4.8" height="4.8" fill="none" stroke="#cc0a7f" stroke-width="1.3"/>
<rect x="493.66" y="115.46" width="4.8" height="4.8" fill="none" stroke="#cc0a7f" stroke-width="1.3"/>
<rect x="494.21" y="115.42" width="4.8" height="4.8" fill="none" stroke="#cc0a7f" stroke-width="1.3"/>
<rect x="494.75" y="116.27" width="4.8" height="4.8" fill="none" stroke="#cc0a7f" stroke-width="1.3"/>
<rect x="495.3" y="115.7" width="4.8" height="4.8" fill="none" stroke="#cc0a7f" stroke-width="1.3"/>
<rect x="495.85" y="114.56" width="4.8" height="4.8" fill="none" stroke="#cc0a7f" stroke-width="1.3"/>
<rect x="496.4" y="116.23" width="4.8" height="4.8" fill="none" stroke="#cc0a7f" stroke-width="1.3"/>
<rect x="496.94" y="115.36" width="4.8" height="4.8" fill="none" stroke="#cc0a7f" stroke-width="1.3"/>
<rect x="497.49" y="116.01" width="4.8" height="4.8" fill="none" stroke="#cc0a7f" stroke-width="1.3"/>
<rect x="498.04" y="114.84" width="4.8" height="4.8" fill="none" stroke="#cc0a7f" stroke-width="1.3"/>
<rect x="498.59" y="116.08" width="4.8" height="4.8" fill="none" stroke="#cc0a7f" stroke-width="1.3"/>
<rect x="499.13" y="115.53" width="4.8" height="4.8" fill="none" stroke="#cc0a7f" stroke-width="1.3"/>
<rect x="499.68" y="115.99" width="4.8" height="4.8" fill="none" stroke="#cc0a7f" stroke-width="1.3"/>
<rect x="500.23" y="114.7" width="4.8" height="4.8" fill="none" stroke="#cc0a7f" stroke-width="1.3"/>
<rect x="500.78" y="116.37" width="4.8" height="4.8" fill="none" stroke="#cc0a7f" stroke-width="1.3"/>
<rect x="501.33" y="115.32" width="4.8" height="4.8" fill="none" stroke="#cc0a7f" stroke-width="1.3"/>
<rect x="501.87" y="115.37" width="4.8" height="4.8" fill="none" stroke="#cc0a7f" stroke-width="1.3"/>
<rect x="502.42" y="114.8" width="4.8" height="4.8" fill="none" stroke="#cc0a7f" stroke-width="1.3"/>
<rect x="502.97" y="115.69" width="4.8" height="4.8" fill="none" stroke="#cc0a7f" stroke-width="1.3"/>
<rect x="503.52" y="114.83" width="4.8" height="4.8" fill="none" stroke="#cc0a7f" stroke-width="1.3"/>
<rect x="504.06" y="116.66" width="4.8" height="4.8" fill="none" stroke="#cc0a7f" stroke-width="1.3"/>
<rect x="504.61" y="115.55" width="4.8" height="4.8" fill="none" stroke="#cc0a7f" stroke-width="1.3"/>
<rect x="505.16" y="114.89" width="4.8" height="4.8" fill="none" stroke="#cc0a7f" stroke-width="1.3"/>
<rect x="505.71" y="116.75" width="4.8" height="4.8" fill="none" stroke="#cc0a7f" stroke-width="1.3"/>
<rect x="506.25" y="116.84" width="4.8" height="4.8" fill="none" stroke="#cc0a7f" stroke-width="1.3"/>
<rect x="506.8" y="115.66" width="4.8" height="4.8" fill="none" stroke="#cc0a7f" stroke-width="1.3"/>
<rect x="507.35" y="116.07" width="4.8" height="4.8" fill="none" stroke="#cc0a7f" stroke-width="1.3"/>
<rect x="507.9" y="115.48" width="4.8" height="4.8" fill="none" stroke="#cc0a7f" stroke-width="1.3"/>
<rect x="508.44" y="116.62" width="4.8" height="4.8" fill="none" stroke="#cc0a7f" stroke-width="1.3"/>
<rect x="508.99" y="116.09" width="4.8" height="4.8" fill="none" stroke="#cc0a7f" stroke-width="1.3"/>
<rect x="509.54" y="115.56" width="4.8" height="4.8" fill="none" stroke="#cc0a7f" stroke-width="1.3"/>
<rect x="510.09" y="116.43" width="4.8" height="4.8" fill="none" stroke="#cc0a7f" stroke-width="1.3"/>
<rect x="510.64" y="116.88" width="4.8" height="4.8" fill="none" stroke="#cc0a7f" stroke-width="1.3"/>
<rect x="511.18" y="116.98" width="4.8" height="4.8" fill="none" stroke="#cc0a7f" stroke-width="1.3"/>
<rect x="511.73" y="116.83" width="4.8" height="4.8" fill="none" stroke="#cc0a7f" stroke-width="1.3"/>
<rect x="512.28" y="116.8" width="4.8" height="4.8" fill="none" stroke="#cc0a7f" stroke-width="1.3"/>
<rect x="512.83" y="115.86" width="4.8" height="4.8" fill="none" stroke="#cc0a7f" stroke-width="1.3"/>
<rect x="513.37" y="116.16" width="4.8" height="4.8" fill="none" stroke="#cc0a7f" stroke-width="1.3"/>
<rect x="513.92" y="116.31" width="4.8" height="4.8" fill="none" stroke="#cc0a7f" stroke-width="1.3"/>
<rect x="514.47" y="116.55" width="4.8" height="4.8" fill="none" stroke="#cc0a7f" stroke-width="1.3"/>
<rect x="515.02" y="115.6" width="4.8" height="4.8" fill="none" stroke="#cc0a7f" stroke-width="1.3"/>
<rect x="515.56" y="115.28" width="4.8" height="4.8" fill="none" stroke="#cc0a7f" stroke-width="1.3"/>
<rect x="516.11" y="114.89" width="4.8" height="4.8" fill="none" stroke="#cc0a7f" stroke-width="1.3"/>
<rect x="516.66" y="115.95" width="4.8" height="4.8" fill="none" stroke="#cc0a7f" stroke-width="1.3"/>
<rect x="517.21" y="116.57" width="4.8" height="4.8" fill="none" stroke="#cc0a7f" stroke-width="1.3"/>
<rect x="517.76" y="116.55" width="4.8" height="4.8" fill="none" stroke="#cc0a7f" stroke-width="1.3"/>
<rect x="518.3" y="116.47" width="4.8" height="4.8" fill="none" stroke="#cc0a7f" stroke-width="1.3"/>
<rect x="518.85" y="115.67" width="4.8" height="4.8" fill="none" stroke="#cc0a7f" stroke-width="1.3"/>
<rect x="519.4" y="114.6" width="4.8" height="4.8" fill="none" stroke="#cc0a7f" stroke-width="1.3"/>
<rect x="519.95" y="115.2" width="4.8" height="4.8" fill="none" stroke="#cc0a7f" stroke-width="1.3"/>
<rect x="520.49" y="114.71" width="4.8" height="4.8" fill="none" stroke="#cc0a7f" stroke-width="1.3"/>
<rect x="521.04" y="115.42" width="4.8" height="4.8" fill="none" stroke="#cc0a7f" stroke-width="1.3"/>
<rect x="521.59" y="114.52" width="4.8" height="4.8" fill="none" stroke="#cc0a7f" stroke-width="1.3"/>
<rect x="522.14" y="115.41" width="4.8" height="4.8" fill="none" stroke="#cc0a7f" stroke-width="1.3"/>
<rect x="522.68" y="114.28" width="4.8" height="4.8" fill="none" stroke="#cc0a7f" stroke-width="1.3"/>
<rect x="523.23" y="115.71" width="4.8" height="4.8" fill="none" stroke="#cc0a7f" stroke-width="1.3"/>
<rect x="523.78" y="114.32" width="4.8" height="4.8" fill="none" stroke="#cc0a7f" stroke-width="1.3"/>
<rect x="524.33" y="115.32" width="4.8" height="4.8" fill="none" stroke="#cc0a7f" stroke-width="1.3"/>
<rect x="524.88" y="114.51" width="4.8" height="4.8" fill="none" stroke="#cc0a7f" stroke-width="1.3"/>
<rect x="525.42" y="114.62" width="4.8" height="4.8" fill="none" stroke="#cc0a7f" stroke-width="1.3"/>
<rect x="525.97" y="114.8" width="4.8" height="4.8" fill="none" stroke="#cc0a7f" stroke-width="1.3"/>
<rect x="526.52" y="113.85" width="4.8" height="4.8" fill="none" stroke="#cc0a7f" stroke-width="1.3"/>
<rect x="527.07" y="114.32" width="4.8" height="4.8" fill="none" stroke="#cc0a7f" stroke-width="1.3"/>
<rect x="527.61" y="113.9" width="4.8" height="4.8" fill="none" stroke="#cc0a7f" stroke-width="1.3"/>
<rect x="528.16" y="114.63" width="4.8" height="4.8" fill="none" stroke="#cc0a7f" stroke-width="1.3"/>
<rect x="528.71" y="113.75" width="4.8" height="4.8" fill="none" stroke="#cc0a7f" stroke-width="1.3"/>
<rect x="529.26" y="114.14" width="4.8" height="4.8" fill="none" stroke="#cc0a7f" stroke-width="1.3"/>
<rect x="529.8" y="114.12" width="4.8" height="4.8" fill="none" stroke="#cc0a7f" stroke-width="1.3"/>
<rect x="530.35" y="113.85" width="4.8" height="4.8" fill="none" stroke="#cc0a7f" stroke-width="1.3"/>
<rect x="530.9" y="113.05" width="4.8" height="4.8" fill="none" stroke="#cc0a7f" stroke-width="1.3"/>
<rect x="531.45" y="114.53" width="4.8" height="4.8" fill="none" stroke="#cc0a7f" stroke-width="1.3"/>
<rect x="531.99" y="114.17" width="4.8" height="4.8" fill="none" stroke="#cc0a7f" stroke-width="1.3"/>
<rect x="532.54" y="114.36" width="4.8" height="4.8" fill="none" stroke="#cc0a7f" stroke-width="1.3"/>
<rect x="533.09" y="113.14" width="4.8" height="4.8" fill="none" stroke="#cc0a7f" stroke-width="1.3"/>
<rect x="533.64" y="113.57" width="4.8" height="4.8" fill="none" stroke="#cc0a7f" stroke-width="1.3"/>
<rect x="534.19" y="113.54" width="4.8" height="4.8" fill="none" stroke="#cc0a7f" stroke-width="1.3"/>
<rect x="534.73" y="112.15" width="4.8" height="4.8" fill="none" stroke="#cc0a7f" stroke-width="1.3"/>
<rect x="535.28" y="113.99" width="4.8" height="4.8" fill="none" stroke="#cc0a7f" stroke-width="1.3"/>
<rect x="535.83" y="112.43" width="4.8" height="4.8" fill="none" stroke="#cc0a7f" stroke-width="1.3"/>
<rect x="536.38" y="112.47" width="4.8" height="4.8" fill="none" stroke="#cc0a7f" stroke-width="1.3"/>
<rect x="536.92" y="111.89" width="4.8" height="4.8" fill="none" stroke="#cc0a7f" stroke-width="1.3"/>
<rect x="537.47" y="113.13" width="4.8" height="4.8" fill="none" stroke="#cc0a7f" stroke-width="1.3"/>
<rect x="538.02" y="112.15" width="4.8" height="4.8" fill="none" stroke="#cc0a7f" stroke-width="1.3"/>
<rect x="538.57" y="112.33" width="4.8" height="4.8" fill="none" stroke="#cc0a7f" stroke-width="1.3"/>
<rect x="539.11" y="111.81" width="4.8" height="4.8" fill="none" stroke="#cc0a7f" stroke-width="1.3"/>
<rect x="539.66" y="111.43" width="4.8" height="4.8" fill="none" stroke="#cc0a7f" stroke-width="1.3"/>
<rect x="540.21" y="113.21" width="4.8" height="4.8" fill="none" stroke="#cc0a7f" stroke-width="1.3"/>
<rect x="540.76" y="111.52" width="4.8" height="4.8" fill="none" stroke="#cc0a7f" stroke-width="1.3"/>
<rect x="541.31" y="112.95" width="4.8" height="4.8" fill="none" stroke="#cc0a7f" stroke-width="1.3"/>
<rect x="541.85" y="111.59" width="4.8" height="4.8" fill="none" stroke="#cc0a7f" stroke-width="1.3"/>
<rect x="542.4" y="112.03" width="4.8" height="4.8" fill="none" stroke="#cc0a7f" stroke-width="1.3"/>
<rect x="542.95" y="111.3" width="4.8" height="4.8" fill="none" stroke="#cc0a7f" stroke-width="1.3"/>
<rect x="543.5" y="111.18" width="4.8" height="4.8" fill="none" stroke="#cc0a7f" stroke-width="1.3"/>
<rect x="544.04" y="110.84" width="4.8" height="4.8" fill="none" stroke="#cc0a7f" stroke-width="1.3"/>
<rect x="544.59" y="110.97" width="4.8" height="4.8" fill="none" stroke="#cc0a7f" stroke-width="1.3"/>
<rect x="545.14" y="112.32" width="4.8" height="4.8" fill="none" stroke="#cc0a7f" stroke-width="1.3"/>
<rect x="545.69" y="111.47" width="4.8" height="4.8" fill="none" stroke="#cc0a7f" stroke-width="1.3"/>
<rect x="546.23" y="112.42" width="4.8" height="4.8" fill="none" stroke="#cc0a7f" stroke-width="1.3"/>
<rect x="546.78" y="110.39" width="4.8" height="4.8" fill="none" stroke="#cc0a7f" stroke-width="1.3"/>
<rect x="547.33" y="111.64" width="4.8" height="4.8" fill="none" stroke="#cc0a7f" stroke-width="1.3"/>
<rect x="547.88" y="110.73" width="4.8" height="4.8" fill="none" stroke="#cc0a7f" stroke-width="1.3"/>
<rect x="548.42" y="111.97" width="4.8" height="4.8" fill="none" stroke="#cc0a7f" stroke-width="1.3"/>
<rect x="548.97" y="111.89" width="4.8" height="4.8" fill="none" stroke="#cc0a7f" stroke-width="1.3"/>
<rect x="549.52" y="110.66" width="4.8" height="4.8" fill="none" stroke="#cc0a7f" stroke-width="1.3"/>
<rect x="550.07" y="111.61" width="4.8" height="4.8" fill="none" stroke="#cc0a7f" stroke-width="1.3"/>
<rect x="550.62" y="111.02" width="4.8" height="4.8" fill="none" stroke="#cc0a7f" stroke-width="1.3"/>
<rect x="551.16" y="111.51" width="4.8" height="4.8" fill="none" stroke="#cc0a7f" stroke-width="1.3"/>
<rect x="551.71" y="111.79" width="4.8" height="4.8" fill="none" stroke="#cc0a7f" stroke-width="1.3"/>
<rect x="552.26" y="112.14" width="4.8" height="4.8" fill="none" stroke="#cc0a7f" stroke-width="1.3"/>
<rect x="552.81" y="112.72" width="4.8" height="4.8" fill="none" stroke="#cc0a7f" stroke-width="1.3"/>
<rect x="553.35" y="112.3" width="4.8" height="4.8" fill="none" stroke="#cc0a7f" stroke-width="1.3"/>
<rect x="553.9" y="111.88" width="4.8" height="4.8" fill="none" stroke="#cc0a7f" stroke-width="1.3"/>
<rect x="554.45" y="112.33" width="4.8" height="4.8" fill="none" stroke="#cc0a7f" stroke-width="1.3"/>
<rect x="555" y="112.3" width="4.8" height="4.8" fill="none" stroke="#cc0a7f" stroke-width="1.3"/>
<rect x="555.54" y="113.2" width="4.8" height="4.8" fill="none" stroke="#cc0a7f" stroke-width="1.3"/>
<rect x="556.09" y="112.74" width="4.8" height="4.8" fill="none" stroke="#cc0a7f" stroke-width="1.3"/>
<rect x="556.64" y="113.51" width="4.8" height="4.8" fill="none" stroke="#cc0a7f" stroke-width="1.3"/>
<rect x="557.19" y="113.68" width="4.8" height="4.8" fill="none" stroke="#cc0a7f" stroke-width="1.3"/>
<rect x="557.74" y="112.61" width="4.8" height="4.8" fill="none" stroke="#cc0a7f" stroke-width="1.3"/>
<rect x="558.28" y="113.58" width="4.8" height="4.8" fill="none" stroke="#cc0a7f" stroke-width="1.3"/>
<rect x="558.83" y="113.23" width="4.8" height="4.8" fill="none" stroke="#cc0a7f" stroke-width="1.3"/>
<rect x="559.38" y="112.13" width="4.8" height="4.8" fill="none" stroke="#cc0a7f" stroke-width="1.3"/>
<rect x="559.93" y="112.13" width="4.8" height="4.8" fill="none" stroke="#cc0a7f" stroke-width="1.3"/>
<rect x="560.47" y="113.78" width="4.8" height="4.8" fill="none" stroke="#cc0a7f" stroke-width="1.3"/>
<rect x="561.02" y="113.83" width="4.8" height="4.8" fill="none" stroke="#cc0a7f" stroke-width="1.3"/>
<rect x="561.57" y="113.1" width="4.8" height="4.8" fill="none" stroke="#cc0a7f" stroke-width="1.3"/>
<rect x="562.12" y="112.16" width="4.8" height="4.8" fill="none" stroke="#cc0a7f" stroke-width="1.3"/>
<rect x="562.66" y="113.51" width="4.8" height="4.8" fill="none" stroke="#cc0a7f" stroke-width="1.3"/>
<rect x="563.21" y="112.83" width="4.8" height="4.8" fill="none" stroke="#cc0a7f" stroke-width="1.3"/>
<rect x="563.76" y="112.3" width="4.8" height="4.8" fill="none" stroke="#cc0a7f" stroke-width="1.3"/>
<rect x="564.31" y="112.3" width="4.8" height="4.8" fill="none" stroke="#cc0a7f" stroke-width="1.3"/>
<rect x="564.85" y="112.22" width="4.8" height="4.8" fill="none" stroke="#cc0a7f" stroke-width="1.3"/>
<rect x="565.4" y="113.21" width="4.8" height="4.8" fill="none" stroke="#cc0a7f" stroke-width="1.3"/>
<rect x="565.95" y="113.2" width="4.8" height="4.8" fill="none" stroke="#cc0a7f" stroke-width="1.3"/>
<rect x="566.5" y="113.19" width="4.8" height="4.8" fill="none" stroke="#cc0a7f" stroke-width="1.3"/>
<rect x="567.05" y="113.19" width="4.8" height="4.8" fill="none" stroke="#cc0a7f" stroke-width="1.3"/>
<rect x="567.59" y="113.14" width="4.8" height="4.8" fill="none" stroke="#cc0a7f" stroke-width="1.3"/>
<rect x="568.14" y="112.78" width="4.8" height="4.8" fill="none" stroke="#cc0a7f" stroke-width="1.3"/>
<rect x="568.69" y="113.34" width="4.8" height="4.8" fill="none" stroke="#cc0a7f" stroke-width="1.3"/>
<rect x="569.24" y="113.25" width="4.8" height="4.8" fill="none" stroke="#cc0a7f" stroke-width="1.3"/>
<rect x="569.78" y="113.17" width="4.8" height="4.8" fill="none" stroke="#cc0a7f" stroke-width="1.3"/>
<rect x="570.33" y="111.87" width="4.8" height="4.8" fill="none" stroke="#cc0a7f" stroke-width="1.3"/>
<rect x="570.88" y="113.41" width="4.8" height="4.8" fill="none" stroke="#cc0a7f" stroke-width="1.3"/>
<rect x="571.43" y="113.69" width="4.8" height="4.8" fill="none" stroke="#cc0a7f" stroke-width="1.3"/>
<rect x="571.97" y="113.31" width="4.8" height="4.8" fill="none" stroke="#cc0a7f" stroke-width="1.3"/>
<rect x="572.52" y="113.35" width="4.8" height="4.8" fill="none" stroke="#cc0a7f" stroke-width="1.3"/>
<rect x="573.07" y="112.77" width="4.8" height="4.8" fill="none" stroke="#cc0a7f" stroke-width="1.3"/>
<rect x="573.62" y="112.53" width="4.8" height="4.8" fill="none" stroke="#cc0a7f" stroke-width="1.3"/>
<rect x="574.17" y="113.71" width="4.8" height="4.8" fill="none" stroke="#cc0a7f" stroke-width="1.3"/>
<rect x="574.71" y="112.96" width="4.8" height="4.8" fill="none" stroke="#cc0a7f" stroke-width="1.3"/>
<rect x="575.26" y="113.88" width="4.8" height="4.8" fill="none" stroke="#cc0a7f" stroke-width="1.3"/>
<rect x="575.81" y="113.97" width="4.8" height="4.8" fill="none" stroke="#cc0a7f" stroke-width="1.3"/>
<rect x="576.36" y="112.14" width="4.8" height="4.8" fill="none" stroke="#cc0a7f" stroke-width="1.3"/>
<rect x="576.9" y="113.53" width="4.8" height="4.8" fill="none" stroke="#cc0a7f" stroke-width="1.3"/>
<rect x="577.45" y="113.09" width="4.8" height="4.8" fill="none" stroke="#cc0a7f" stroke-width="1.3"/>
<rect x="578" y="113.36" width="4.8" height="4.8" fill="none" stroke="#cc0a7f" stroke-width="1.3"/>
<rect x="578.55" y="112.4" width="4.8" height="4.8" fill="none" stroke="#cc0a7f" stroke-width="1.3"/>
<rect x="579.09" y="113.86" width="4.8" height="4.8" fill="none" stroke="#cc0a7f" stroke-width="1.3"/>
<rect x="579.64" y="114.35" width="4.8" height="4.8" fill="none" stroke="#cc0a7f" stroke-width="1.3"/>
<rect x="580.19" y="113.3" width="4.8" height="4.8" fill="none" stroke="#cc0a7f" stroke-width="1.3"/>
<rect x="580.74" y="112.92" width="4.8" height="4.8" fill="none" stroke="#cc0a7f" stroke-width="1.3"/>
<rect x="581.28" y="114.36" width="4.8" height="4.8" fill="none" stroke="#cc0a7f" stroke-width="1.3"/>
<rect x="581.83" y="114.72" width="4.8" height="4.8" fill="none" stroke="#cc0a7f" stroke-width="1.3"/>
<rect x="582.38" y="113.9" width="4.8" height="4.8" fill="none" stroke="#cc0a7f" stroke-width="1.3"/>
<rect x="582.93" y="114.71" width="4.8" height="4.8" fill="none" stroke="#cc0a7f" stroke-width="1.3"/>
<rect x="583.48" y="113.92" width="4.8" height="4.8" fill="none" stroke="#cc0a7f" stroke-width="1.3"/>
<rect x="584.02" y="113.66" width="4.8" height="4.8" fill="none" stroke="#cc0a7f" stroke-width="1.3"/>
<rect x="584.57" y="114" width="4.8" height="4.8" fill="none" stroke="#cc0a7f" stroke-width="1.3"/>
<rect x="585.12" y="115.49" width="4.8" height="4.8" fill="none" stroke="#cc0a7f" stroke-width="1.3"/>
<rect x="585.67" y="114.26" width="4.8" height="4.8" fill="none" stroke="#cc0a7f" stroke-width="1.3"/>
<rect x="586.21" y="114.22" width="4.8" height="4.8" fill="none" stroke="#cc0a7f" stroke-width="1.3"/>
<rect x="586.76" y="115.08" width="4.8" height="4.8" fill="none" stroke="#cc0a7f" stroke-width="1.3"/>
<rect x="587.31" y="115.85" width="4.8" height="4.8" fill="none" stroke="#cc0a7f" stroke-width="1.3"/>
<rect x="587.86" y="115.31" width="4.8" height="4.8" fill="none" stroke="#cc0a7f" stroke-width="1.3"/>
<rect x="588.4" y="116.04" width="4.8" height="4.8" fill="none" stroke="#cc0a7f" stroke-width="1.3"/>
<rect x="588.95" y="114.13" width="4.8" height="4.8" fill="none" stroke="#cc0a7f" stroke-width="1.3"/>
<rect x="589.5" y="116.38" width="4.8" height="4.8" fill="none" stroke="#cc0a7f" stroke-width="1.3"/>
<rect x="590.05" y="115.13" width="4.8" height="4.8" fill="none" stroke="#cc0a7f" stroke-width="1.3"/>
<rect x="590.6" y="114.97" width="4.8" height="4.8" fill="none" stroke="#cc0a7f" stroke-width="1.3"/>
<rect x="591.14" y="115.4" width="4.8" height="4.8" fill="none" stroke="#cc0a7f" stroke-width="1.3"/>
<rect x="591.69" y="115.61" width="4.8" height="4.8" fill="none" stroke="#cc0a7f" stroke-width="1.3"/>
<rect x="592.24" y="116.69" width="4.8" height="4.8" fill="none" stroke="#cc0a7f" stroke-width="1.3"/>
<rect x="592.79" y="116.99" width="4.8" height="4.8" fill="none" stroke="#cc0a7f" stroke-width="1.3"/>
<rect x="593.33" y="116.69" width="4.8" height="4.8" fill="none" stroke="#cc0a7f" stroke-width="1.3"/>
<rect x="593.88" y="118.05" width="4.8" height="4.8" fill="none" stroke="#cc0a7f" stroke-width="1.3"/>
<rect x="594.43" y="118.37" width="4.8" height="4.8" fill="none" stroke="#cc0a7f" stroke-width="1.3"/>
<rect x="594.98" y="117.61" width="4.8" height="4.8" fill="none" stroke="#cc0a7f" stroke-width="1.3"/>
<rect x="595.52" y="117.86" width="4.8" height="4.8" fill="none" stroke="#cc0a7f" stroke-width="1.3"/>
<rect x="596.07" y="118.23" width="4.8" height="4.8" fill="none" stroke="#cc0a7f" stroke-width="1.3"/>
<rect x="596.62" y="117.64" width="4.8" height="4.8" fill="none" stroke="#cc0a7f" stroke-width="1.3"/>
<rect x="597.17" y="118.13" width="4.8" height="4.8" fill="none" stroke="#cc0a7f" stroke-width="1.3"/>
<rect x="597.71" y="119.43" width="4.8" height="4.8" fill="none" stroke="#cc0a7f" stroke-width="1.3"/>
<rect x="598.26" y="118.77" width="4.8" height="4.8" fill="none" stroke="#cc0a7f" stroke-width="1.3"/>
<rect x="598.81" y="118.66" width="4.8" height="4.8" fill="none" stroke="#cc0a7f" stroke-width="1.3"/>
<rect x="599.36" y="119.34" width="4.8" height="4.8" fill="none" stroke="#cc0a7f" stroke-width="1.3"/>
<rect x="599.91" y="119.75" width="4.8" height="4.8" fill="none" stroke="#cc0a7f" stroke-width="1.3"/>
<rect x="600.45" y="118.37" width="4.8" height="4.8" fill="none" stroke="#cc0a7f" stroke-width="1.3"/>
<rect x="601" y="119.19" width="4.8" height="4.8" fill="none" stroke="#cc0a7f" stroke-width="1.3"/>
<rect x="601.55" y="119.86" width="4.8" height="4.8" fill="none" stroke="#cc0a7f" stroke-width="1.3"/>
<rect x="602.1" y="120.77" width="4.8" height="4.8" fill="none" stroke="#cc0a7f" stroke-width="1.3"/>
<rect x="602.64" y="119.45" width="4.8" height="4.8" fill="none" stroke="#cc0a7f" stroke-width="1.3"/>
<rect x="603.19" y="119.3" width="4.8" height="4.8" fill="none" stroke="#cc0a7f" stroke-width="1.3"/>
<rect x="603.74" y="120.43" width="4.8" height="4.8" fill="none" stroke="#cc0a7f" stroke-width="1.3"/>
<rect x="604.29" y="121.41" width="4.8" height="4.8" fill="none" stroke="#cc0a7f" stroke-width="1.3"/>
<rect x="604.83" y="119.97" width="4.8" height="4.8" fill="none" stroke="#cc0a7f" stroke-width="1.3"/>
<rect x="605.38" y="120.03" width="4.8" height="4.8" fill="none" stroke="#cc0a7f" stroke-width="1.3"/>
<rect x="605.93" y="120.51" width="4.8" height="4.8" fill="none" stroke="#cc0a7f" stroke-width="1.3"/>
<rect x="606.48" y="121.18" width="4.8" height="4.8" fill="none" stroke="#cc0a7f" stroke-width="1.3"/>
<rect x="607.02" y="121.29" width="4.8" height="4.8" fill="none" stroke="#cc0a7f" stroke-width="1.3"/>
<rect x="607.57" y="120.3" width="4.8" height="4.8" fill="none" stroke="#cc0a7f" stroke-width="1.3"/>
<rect x="608.12" y="121.51" width="4.8" height="4.8" fill="none" stroke="#cc0a7f" stroke-width="1.3"/>
<rect x="608.67" y="122.24" width="4.8" height="4.8" fill="none" stroke="#cc0a7f" stroke-width="1.3"/>
<rect x="609.22" y="122.47" width="4.8" height="4.8" fill="none" stroke="#cc0a7f" stroke-width="1.3"/>
<rect x="609.76" y="122.66" width="4.8" height="4.8" fill="none" stroke="#cc0a7f" stroke-width="1.3"/>
<rect x="610.31" y="121.77" width="4.8" height="4.8" fill="none" stroke="#cc0a7f" stroke-width="1.3"/>
<rect x="610.86" y="122.36" width="4.8" height="4.8" fill="none" stroke="#cc0a7f" stroke-width="1.3"/>
<rect x="611.41" y="121.64" width="4.8" height="4.8" fill="none" stroke="#cc0a7f" stroke-width="1.3"/>
<rect x="611.95" y="123.11" width="4.8" height="4.8" fill="none" stroke="#cc0a7f" stroke-width="1.3"/>
<rect x="612.5" y="123.38" width="4.8" height="4.8" fill="none" stroke="#cc0a7f" stroke-width="1.3"/>
<rect x="613.05" y="123.29" width="4.8" height="4.8" fill="none" stroke="#cc0a7f" stroke-width="1.3"/>
<rect x="613.6" y="122" width="4.8" height="4.8" fill="none" stroke="#cc0a7f" stroke-width="1.3"/>
<rect x="614.14" y="122.97" width="4.8" height="4.8" fill="none" stroke="#cc0a7f" stroke-width="1.3"/>
<rect x="614.69" y="122.71" width="4.8" height="4.8" fill="none" stroke="#cc0a7f" stroke-width="1.3"/>
<rect x="615.24" y="122.07" width="4.8" height="4.8" fill="none" stroke="#cc0a7f" stroke-width="1.3"/>
<rect x="615.79" y="122.57" width="4.8" height="4.8" fill="none" stroke="#cc0a7f" stroke-width="1.3"/>
<rect x="616.34" y="123.88" width="4.8" height="4.8" fill="none" stroke="#cc0a7f" stroke-width="1.3"/>
<rect x="616.88" y="123.61" width="4.8" height="4.8" fill="none" stroke="#cc0a7f" stroke-width="1.3"/>
<rect x="617.43" y="124.11" width="4.8" height="4.8" fill="none" stroke="#cc0a7f" stroke-width="1.3"/>
<rect x="617.98" y="124.2" width="4.8" height="4.8" fill="none" stroke="#cc0a7f" stroke-width="1.3"/>
<rect x="618.53" y="124.52" width="4.8" height="4.8" fill="none" stroke="#cc0a7f" stroke-width="1.3"/>
<rect x="619.07" y="123.96" width="4.8" height="4.8" fill="none" stroke="#cc0a7f" stroke-width="1.3"/>
<rect x="619.62" y="123.29" width="4.8" height="4.8" fill="none" stroke="#cc0a7f" stroke-width="1.3"/>
<rect x="620.17" y="123.32" width="4.8" height="4.8" fill="none" stroke="#cc0a7f" stroke-width="1.3"/>
<rect x="620.72" y="123.4" width="4.8" height="4.8" fill="none" stroke="#cc0a7f" stroke-width="1.3"/>
<rect x="621.26" y="124.57" width="4.8" height="4.8" fill="none" stroke="#cc0a7f" stroke-width="1.3"/>
<rect x="621.81" y="123.54" width="4.8" height="4.8" fill="none" stroke="#cc0a7f" stroke-width="1.3"/>
<rect x="622.36" y="125.32" width="4.8" height="4.8" fill="none" stroke="#cc0a7f" stroke-width="1.3"/>
<rect x="622.91" y="123.6" width="4.8" height="4.8" fill="none" stroke="#cc0a7f" stroke-width="1.3"/>
<rect x="623.46" y="124.97" width="4.8" height="4.8" fill="none" stroke="#cc0a7f" stroke-width="1.3"/>
<rect x="624" y="124.46" width="4.8" height="4.8" fill="none" stroke="#cc0a7f" stroke-width="1.3"/>
<rect x="624.55" y="124.5" width="4.8" height="4.8" fill="none" stroke="#cc0a7f" stroke-width="1.3"/>
<rect x="625.1" y="125.77" width="4.8" height="4.8" fill="none" stroke="#cc0a7f" stroke-width="1.3"/>
<rect x="625.65" y="124.56" width="4.8" height="4.8" fill="none" stroke="#cc0a7f" stroke-width="1.3"/>
<rect x="626.19" y="124.71" width="4.8" height="4.8" fill="none" stroke="#cc0a7f" stroke-width="1.3"/>
<rect x="626.74" y="124.39" width="4.8" height="4.8" fill="none" stroke="#cc0a7f" stroke-width="1.3"/>
<rect x="627.29" y="125.03" width="4.8" height="4.8" fill="none" stroke="#cc0a7f" stroke-width="1.3"/>
<rect x="627.84" y="124.68" width="4.8" height="4.8" fill="none" stroke="#cc0a7f" stroke-width="1.3"/>
<rect x="628.38" y="125.28" width="4.8" height="4.8" fill="none" stroke="#cc0a7f" stroke-width="1.3"/>
<rect x="628.93" y="125.41" width="4.8" height="4.8" fill="none" stroke="#cc0a7f" stroke-width="1.3"/>
<rect x="629.48" y="126.32" width="4.8" height="4.8" fill="none" stroke="#cc0a7f" stroke-width="1.3"/>
<rect x="630.03" y="125.76" width="4.8" height="4.8" fill="none" stroke="#cc0a7f" stroke-width="1.3"/>
<rect x="630.57" y="125.59" width="4.8" height="4.8" fill="none" stroke="#cc0a7f" stroke-width="1.3"/>
<rect x="631.12" y="126.72" width="4.8" height="4.8" fill="none" stroke="#cc0a7f" stroke-width="1.3"/>
<rect x="631.67" y="124.86" width="4.8" height="4.8" fill="none" stroke="#cc0a7f" stroke-width="1.3"/>
<rect x="632.22" y="126.54" width="4.8" height="4.8" fill="none" stroke="#cc0a7f" stroke-width="1.3"/>
<rect x="632.77" y="126.14" width="4.8" height="4.8" fill="none" stroke="#cc0a7f" stroke-width="1.3"/>
<rect x="633.31" y="126.61" width="4.8" height="4.8" fill="none" stroke="#cc0a7f" stroke-width="1.3"/>
<rect x="633.86" y="124.9" width="4.8" height="4.8" fill="none" stroke="#cc0a7f" stroke-width="1.3"/>
<rect x="634.41" y="125.26" width="4.8" height="4.8" fill="none" stroke="#cc0a7f" stroke-width="1.3"/>
<rect x="634.96" y="126.6" width="4.8" height="4.8" fill="none" stroke="#cc0a7f" stroke-width="1.3"/>
<rect x="635.5" y="125.17" width="4.8" height="4.8" fill="none" stroke="#cc0a7f" stroke-width="1.3"/>
<rect x="636.05" y="125.28" width="4.8" height="4.8" fill="none" stroke="#cc0a7f" stroke-width="1.3"/>
<rect x="636.6" y="125.67" width="4.8" height="4.8" fill="none" stroke="#cc0a7f" stroke-width="1.3"/>
<rect x="637.15" y="125.71" width="4.8" height="4.8" fill="none" stroke="#cc0a7f" stroke-width="1.3"/>
<rect x="637.69" y="126.46" width="4.8" height="4.8" fill="none" stroke="#cc0a7f" stroke-width="1.3"/>
<rect x="638.24" y="126.35" width="4.8" height="4.8" fill="none" stroke="#cc0a7f" stroke-width="1.3"/>
<rect x="638.79" y="126.24" width="4.8" height="4.8" fill="none" stroke="#cc0a7f" stroke-width="1.3"/>
<rect x="639.34" y="125.44" width="4.8" height="4.8" fill="none" stroke="#cc0a7f" stroke-width="1.3"/>
<rect x="639.88" y="125.61" width="4.8" height="4.8" fill="none" stroke="#cc0a7f" stroke-width="1.3"/>
<rect x="640.43" y="125.91" width="4.8" height="4.8" fill="none" stroke="#cc0a7f" stroke-width="1.3"/>
<rect x="640.98" y="126.66" width="4.8" height="4.8" fill="none" stroke="#cc0a7f" stroke-width="1.3"/>
<rect x="641.53" y="126.81" width="4.8" height="4.8" fill="none" stroke="#cc0a7f" stroke-width="1.3"/>
<rect x="642.08" y="126.54" width="4.8" height="4.8" fill="none" stroke="#cc0a7f" stroke-width="1.3"/>
<rect x="642.62" y="126.62" width="4.8" height="4.8" fill="none" stroke="#cc0a7f" stroke-width="1.3"/>
<rect x="643.17" y="126.36" width="4.8" height="4.8" fill="none" stroke="#cc0a7f" stroke-width="1.3"/>
<rect x="643.72" y="127.07" width="4.8" height="4.8" fill="none" stroke="#cc0a7f" stroke-width="1.3"/>
<rect x="644.27" y="127.47" width="4.8" height="4.8" fill="none" stroke="#cc0a7f" stroke-width="1.3"/>
<rect x="644.81" y="125.42" width="4.8" height="4.8" fill="none" stroke="#cc0a7f" stroke-width="1.3"/>
<rect x="645.36" y="126.55" width="4.8" height="4.8" fill="none" stroke="#cc0a7f" stroke-width="1.3"/>
<rect x="645.91" y="126.62" width="4.8" height="4.8" fill="none" stroke="#cc0a7f" stroke-width="1.3"/>
<rect x="646.46" y="126.28" width="4.8" height="4.8" fill="none" stroke="#cc0a7f" stroke-width="1.3"/>
<rect x="647" y="125.89" width="4.8" height="4.8" fill="none" stroke="#cc0a7f" stroke-width="1.3"/>
<rect x="647.55" y="125.88" width="4.8" height="4.8" fill="none" stroke="#cc0a7f" stroke-width="1.3"/>
<rect x="648.1" y="125.96" width="4.8" height="4.8" fill="none" stroke="#cc0a7f" stroke-width="1.3"/>
<rect x="647.9" y="126.41" width="5.2" height="5.2" fill="none" stroke="#cc0a7f" stroke-width="1.0"/>
<rect x="648.9" y="127.41" width="3.2" height="3.2" fill="#fff"/>
<text x="561.8" y="105.3" font-size="8.7" text-anchor="start" fill="#222" stroke="#222" stroke-width="0.18" >10 C</text>
<text x="490.2" y="161" font-size="8.7" text-anchor="start" fill="#222" stroke="#222" stroke-width="0.18" >BiF<tspan font-size="5.39" dy="1.91">3</tspan><tspan dy="-1.91">@Al||NFPP (10 mg cm<tspan font-size="5.39" dy="-3.31">−2</tspan><tspan dy="3.31">)</tspan></tspan></text>
<path d="M497.5,112 C498,106 494,103.5 488.5,104" fill="none" stroke="#222" stroke-width="0.8" />
<path d="M486.8,104.1 L489.64,102.94 L489.55,105.46 Z" fill="#222"/>
<path d="M636.6,57.3 C637.5,61.5 640,63.8 644,63.9" fill="none" stroke="#222" stroke-width="0.8" />
<path d="M646.2,64.2 L643.25,65.06 L643.6,62.56 Z" fill="#222"/>
<text x="1" y="204.9" font-size="16" text-anchor="start" fill="#111" font-weight="bold" >d</text>
<rect x="37.9" y="210.5" width="164.7" height="132.2" fill="none" stroke="#2a2a2a" stroke-width="1"/>
<line x1="37.9" y1="342.7" x2="37.9" y2="345.7" stroke="#2a2a2a" stroke-width="1" />
<text x="37.9" y="355" font-size="9.5" text-anchor="middle" fill="#222" stroke="#222" stroke-width="0.18" >0</text>
<line x1="79.07" y1="342.7" x2="79.07" y2="345.7" stroke="#2a2a2a" stroke-width="1" />
<text x="79.07" y="355" font-size="9.5" text-anchor="middle" fill="#222" stroke="#222" stroke-width="0.18" >40</text>
<line x1="120.25" y1="342.7" x2="120.25" y2="345.7" stroke="#2a2a2a" stroke-width="1" />
<text x="120.25" y="355" font-size="9.5" text-anchor="middle" fill="#222" stroke="#222" stroke-width="0.18" >80</text>
<line x1="161.42" y1="342.7" x2="161.42" y2="345.7" stroke="#2a2a2a" stroke-width="1" />
<text x="161.42" y="355" font-size="9.5" text-anchor="middle" fill="#222" stroke="#222" stroke-width="0.18" >120</text>
<line x1="202.6" y1="342.7" x2="202.6" y2="345.7" stroke="#2a2a2a" stroke-width="1" />
<text x="202.6" y="355" font-size="9.5" text-anchor="middle" fill="#222" stroke="#222" stroke-width="0.18" >160</text>
<line x1="58.49" y1="342.7" x2="58.49" y2="344.3" stroke="#2a2a2a" stroke-width="1" />
<line x1="99.66" y1="342.7" x2="99.66" y2="344.3" stroke="#2a2a2a" stroke-width="1" />
<line x1="140.84" y1="342.7" x2="140.84" y2="344.3" stroke="#2a2a2a" stroke-width="1" />
<line x1="182.01" y1="342.7" x2="182.01" y2="344.3" stroke="#2a2a2a" stroke-width="1" />
<line x1="34.9" y1="342.7" x2="37.9" y2="342.7" stroke="#2a2a2a" stroke-width="1" />
<text x="33.3" y="345.9" font-size="9.5" text-anchor="end" fill="#222" stroke="#222" stroke-width="0.18" >0</text>
<line x1="34.9" y1="309.65" x2="37.9" y2="309.65" stroke="#2a2a2a" stroke-width="1" />
<text x="33.3" y="312.85" font-size="9.5" text-anchor="end" fill="#222" stroke="#222" stroke-width="0.18" >50</text>
<line x1="34.9" y1="276.6" x2="37.9" y2="276.6" stroke="#2a2a2a" stroke-width="1" />
<text x="33.3" y="279.8" font-size="9.5" text-anchor="end" fill="#222" stroke="#222" stroke-width="0.18" >100</text>
<line x1="34.9" y1="243.55" x2="37.9" y2="243.55" stroke="#2a2a2a" stroke-width="1" />
<text x="33.3" y="246.75" font-size="9.5" text-anchor="end" fill="#222" stroke="#222" stroke-width="0.18" >150</text>
<line x1="34.9" y1="210.5" x2="37.9" y2="210.5" stroke="#2a2a2a" stroke-width="1" />
<text x="33.3" y="213.7" font-size="9.5" text-anchor="end" fill="#222" stroke="#222" stroke-width="0.18" >200</text>
<line x1="36.3" y1="326.18" x2="37.9" y2="326.18" stroke="#2a2a2a" stroke-width="1" />
<line x1="36.3" y1="293.12" x2="37.9" y2="293.12" stroke="#2a2a2a" stroke-width="1" />
<line x1="36.3" y1="260.07" x2="37.9" y2="260.07" stroke="#2a2a2a" stroke-width="1" />
<line x1="36.3" y1="227.03" x2="37.9" y2="227.03" stroke="#2a2a2a" stroke-width="1" />
<line x1="202.6" y1="342.7" x2="205.6" y2="342.7" stroke="#2a2a2a" stroke-width="1" />
<text x="206.8" y="345.9" font-size="9.5" text-anchor="start" fill="#222" stroke="#222" stroke-width="0.18" >0</text>
<line x1="202.6" y1="318.66" x2="205.6" y2="318.66" stroke="#2a2a2a" stroke-width="1" />
<text x="206.8" y="321.86" font-size="9.5" text-anchor="start" fill="#222" stroke="#222" stroke-width="0.18" >20</text>
<line x1="202.6" y1="294.63" x2="205.6" y2="294.63" stroke="#2a2a2a" stroke-width="1" />
<text x="206.8" y="297.83" font-size="9.5" text-anchor="start" fill="#222" stroke="#222" stroke-width="0.18" >40</text>
<line x1="202.6" y1="270.59" x2="205.6" y2="270.59" stroke="#2a2a2a" stroke-width="1" />
<text x="206.8" y="273.79" font-size="9.5" text-anchor="start" fill="#222" stroke="#222" stroke-width="0.18" >60</text>
<line x1="202.6" y1="246.55" x2="205.6" y2="246.55" stroke="#2a2a2a" stroke-width="1" />
<text x="206.8" y="249.75" font-size="9.5" text-anchor="start" fill="#222" stroke="#222" stroke-width="0.18" >80</text>
<line x1="202.6" y1="222.52" x2="205.6" y2="222.52" stroke="#2a2a2a" stroke-width="1" />
<text x="206.8" y="225.72" font-size="9.5" text-anchor="start" fill="#222" stroke="#222" stroke-width="0.18" >100</text>
<line x1="202.6" y1="330.68" x2="204.2" y2="330.68" stroke="#2a2a2a" stroke-width="1" />
<line x1="202.6" y1="306.65" x2="204.2" y2="306.65" stroke="#2a2a2a" stroke-width="1" />
<line x1="202.6" y1="282.61" x2="204.2" y2="282.61" stroke="#2a2a2a" stroke-width="1" />
<line x1="202.6" y1="258.57" x2="204.2" y2="258.57" stroke="#2a2a2a" stroke-width="1" />
<line x1="202.6" y1="234.54" x2="204.2" y2="234.54" stroke="#2a2a2a" stroke-width="1" />
<text x="13.2" y="276.5" font-size="10" text-anchor="middle" fill="#222" stroke="#222" stroke-width="0.18" transform="rotate(-90 13.2 276.5)" >Specific capacity (mAh g<tspan font-size="6.20" dy="-3.80">−1</tspan><tspan dy="3.80">)</tspan></text>
<text x="233.5" y="276.5" font-size="10" text-anchor="middle" fill="#222" stroke="#222" stroke-width="0.18" transform="rotate(-90 233.5 276.5)" >Coulombic efficiency (%)</text>
<text x="120" y="368.4" font-size="10" text-anchor="middle" fill="#222" stroke="#222" stroke-width="0.18" >Cycle number</text>
<line x1="38.93" y1="240.91" x2="39.96" y2="226.12" stroke="#f3a0b8" stroke-width="0.8"/>
<circle cx="38.93" cy="240.91" r="2.2" fill="none" stroke="#cc0a7f" stroke-width="1.3"/>
<circle cx="38.93" cy="240.91" r="0.45" fill="#cc0a7f"/>
<circle cx="39.96" cy="226.12" r="2.2" fill="none" stroke="#cc0a7f" stroke-width="1.3"/>
<circle cx="39.96" cy="226.12" r="0.45" fill="#cc0a7f"/>
<circle cx="40.99" cy="224.32" r="2.2" fill="none" stroke="#cc0a7f" stroke-width="1.3"/>
<circle cx="40.99" cy="224.32" r="0.45" fill="#cc0a7f"/>
<circle cx="42.02" cy="224.32" r="2.2" fill="none" stroke="#cc0a7f" stroke-width="1.3"/>
<circle cx="42.02" cy="224.32" r="0.45" fill="#cc0a7f"/>
<circle cx="43.05" cy="223.17" r="2.2" fill="none" stroke="#cc0a7f" stroke-width="1.3"/>
<circle cx="43.05" cy="223.17" r="0.45" fill="#cc0a7f"/>
<circle cx="44.08" cy="224.13" r="2.2" fill="none" stroke="#cc0a7f" stroke-width="1.3"/>
<circle cx="45.11" cy="223.27" r="2.2" fill="none" stroke="#cc0a7f" stroke-width="1.3"/>
<circle cx="46.13" cy="222.87" r="2.2" fill="none" stroke="#cc0a7f" stroke-width="1.3"/>
<circle cx="47.16" cy="224.2" r="2.2" fill="none" stroke="#cc0a7f" stroke-width="1.3"/>
<circle cx="47.16" cy="224.2" r="0.45" fill="#cc0a7f"/>
<circle cx="48.19" cy="221.66" r="2.2" fill="none" stroke="#cc0a7f" stroke-width="1.3"/>
<circle cx="49.22" cy="222.24" r="2.2" fill="none" stroke="#cc0a7f" stroke-width="1.3"/>
<circle cx="49.22" cy="222.24" r="0.45" fill="#cc0a7f"/>
<circle cx="50.25" cy="222.15" r="2.2" fill="none" stroke="#cc0a7f" stroke-width="1.3"/>
<circle cx="51.28" cy="222.44" r="2.2" fill="none" stroke="#cc0a7f" stroke-width="1.3"/>
<circle cx="52.31" cy="224.25" r="2.2" fill="none" stroke="#cc0a7f" stroke-width="1.3"/>
<circle cx="52.31" cy="224.25" r="0.45" fill="#cc0a7f"/>
<circle cx="53.34" cy="222.55" r="2.2" fill="none" stroke="#cc0a7f" stroke-width="1.3"/>
<circle cx="54.37" cy="224" r="2.2" fill="none" stroke="#cc0a7f" stroke-width="1.3"/>
<circle cx="54.37" cy="224" r="0.45" fill="#cc0a7f"/>
<circle cx="55.4" cy="221.77" r="2.2" fill="none" stroke="#cc0a7f" stroke-width="1.3"/>
<circle cx="55.4" cy="221.77" r="0.45" fill="#cc0a7f"/>
<circle cx="56.43" cy="221.98" r="2.2" fill="none" stroke="#cc0a7f" stroke-width="1.3"/>
<circle cx="57.46" cy="222.34" r="2.2" fill="none" stroke="#cc0a7f" stroke-width="1.3"/>
<circle cx="58.49" cy="223.68" r="2.2" fill="none" stroke="#cc0a7f" stroke-width="1.3"/>
<circle cx="59.52" cy="222.56" r="2.2" fill="none" stroke="#cc0a7f" stroke-width="1.3"/>
<circle cx="59.52" cy="222.56" r="0.45" fill="#cc0a7f"/>
<circle cx="60.55" cy="223.39" r="2.2" fill="none" stroke="#cc0a7f" stroke-width="1.3"/>
<circle cx="61.58" cy="221.71" r="2.2" fill="none" stroke="#cc0a7f" stroke-width="1.3"/>
<circle cx="62.6" cy="223.59" r="2.2" fill="none" stroke="#cc0a7f" stroke-width="1.3"/>
<circle cx="63.63" cy="222.94" r="2.2" fill="none" stroke="#cc0a7f" stroke-width="1.3"/>
<circle cx="64.66" cy="222.54" r="2.2" fill="none" stroke="#cc0a7f" stroke-width="1.3"/>
<circle cx="64.66" cy="222.54" r="0.45" fill="#cc0a7f"/>
<circle cx="65.69" cy="223.25" r="2.2" fill="none" stroke="#cc0a7f" stroke-width="1.3"/>
<circle cx="65.69" cy="223.25" r="0.45" fill="#cc0a7f"/>
<circle cx="66.72" cy="223.16" r="2.2" fill="none" stroke="#cc0a7f" stroke-width="1.3"/>
<circle cx="67.75" cy="223.52" r="2.2" fill="none" stroke="#cc0a7f" stroke-width="1.3"/>
<circle cx="68.78" cy="223.23" r="2.2" fill="none" stroke="#cc0a7f" stroke-width="1.3"/>
<circle cx="69.81" cy="223.56" r="2.2" fill="none" stroke="#cc0a7f" stroke-width="1.3"/>
<circle cx="70.84" cy="224.18" r="2.2" fill="none" stroke="#cc0a7f" stroke-width="1.3"/>
<circle cx="71.87" cy="221.53" r="2.2" fill="none" stroke="#cc0a7f" stroke-width="1.3"/>
<circle cx="72.9" cy="222.82" r="2.2" fill="none" stroke="#cc0a7f" stroke-width="1.3"/>
<circle cx="73.93" cy="221.74" r="2.2" fill="none" stroke="#cc0a7f" stroke-width="1.3"/>
<circle cx="73.93" cy="221.74" r="0.45" fill="#cc0a7f"/>
<circle cx="74.96" cy="222.78" r="2.2" fill="none" stroke="#cc0a7f" stroke-width="1.3"/>
<circle cx="75.99" cy="222.19" r="2.2" fill="none" stroke="#cc0a7f" stroke-width="1.3"/>
<circle cx="77.02" cy="223.24" r="2.2" fill="none" stroke="#cc0a7f" stroke-width="1.3"/>
<circle cx="78.05" cy="223.9" r="2.2" fill="none" stroke="#cc0a7f" stroke-width="1.3"/>
<circle cx="79.07" cy="224.09" r="2.2" fill="none" stroke="#cc0a7f" stroke-width="1.3"/>
<circle cx="79.07" cy="224.09" r="0.45" fill="#cc0a7f"/>
<circle cx="80.1" cy="222.55" r="2.2" fill="none" stroke="#cc0a7f" stroke-width="1.3"/>
<circle cx="81.13" cy="223.47" r="2.2" fill="none" stroke="#cc0a7f" stroke-width="1.3"/>
<circle cx="82.16" cy="223.43" r="2.2" fill="none" stroke="#cc0a7f" stroke-width="1.3"/>
<circle cx="83.19" cy="221.81" r="2.2" fill="none" stroke="#cc0a7f" stroke-width="1.3"/>
<circle cx="84.22" cy="221.74" r="2.2" fill="none" stroke="#cc0a7f" stroke-width="1.3"/>
<circle cx="85.25" cy="222.17" r="2.2" fill="none" stroke="#cc0a7f" stroke-width="1.3"/>
<circle cx="85.25" cy="222.17" r="0.45" fill="#cc0a7f"/>
<circle cx="86.28" cy="223.48" r="2.2" fill="none" stroke="#cc0a7f" stroke-width="1.3"/>
<circle cx="87.31" cy="223.12" r="2.2" fill="none" stroke="#cc0a7f" stroke-width="1.3"/>
<circle cx="88.34" cy="224.18" r="2.2" fill="none" stroke="#cc0a7f" stroke-width="1.3"/>
<circle cx="89.37" cy="222.55" r="2.2" fill="none" stroke="#cc0a7f" stroke-width="1.3"/>
<circle cx="89.37" cy="222.55" r="0.45" fill="#cc0a7f"/>
<circle cx="90.4" cy="224.16" r="2.2" fill="none" stroke="#cc0a7f" stroke-width="1.3"/>
<circle cx="91.43" cy="223.44" r="2.2" fill="none" stroke="#cc0a7f" stroke-width="1.3"/>
<circle cx="92.46" cy="222.78" r="2.2" fill="none" stroke="#cc0a7f" stroke-width="1.3"/>
<circle cx="93.49" cy="223.45" r="2.2" fill="none" stroke="#cc0a7f" stroke-width="1.3"/>
<circle cx="93.49" cy="223.45" r="0.45" fill="#cc0a7f"/>
<circle cx="94.52" cy="223.26" r="2.2" fill="none" stroke="#cc0a7f" stroke-width="1.3"/>
<circle cx="95.54" cy="223.86" r="2.2" fill="none" stroke="#cc0a7f" stroke-width="1.3"/>
<circle cx="95.54" cy="223.86" r="0.45" fill="#cc0a7f"/>
<circle cx="96.57" cy="222.01" r="2.2" fill="none" stroke="#cc0a7f" stroke-width="1.3"/>
<circle cx="97.6" cy="223.02" r="2.2" fill="none" stroke="#cc0a7f" stroke-width="1.3"/>
<circle cx="97.6" cy="223.02" r="0.45" fill="#cc0a7f"/>
<circle cx="98.63" cy="223.9" r="2.2" fill="none" stroke="#cc0a7f" stroke-width="1.3"/>
<circle cx="99.66" cy="223.54" r="2.2" fill="none" stroke="#cc0a7f" stroke-width="1.3"/>
<circle cx="100.69" cy="221.53" r="2.2" fill="none" stroke="#cc0a7f" stroke-width="1.3"/>
<circle cx="100.69" cy="221.53" r="0.45" fill="#cc0a7f"/>
<circle cx="101.72" cy="221.95" r="2.2" fill="none" stroke="#cc0a7f" stroke-width="1.3"/>
<circle cx="102.75" cy="222.61" r="2.2" fill="none" stroke="#cc0a7f" stroke-width="1.3"/>
<circle cx="103.78" cy="222.58" r="2.2" fill="none" stroke="#cc0a7f" stroke-width="1.3"/>
<circle cx="104.81" cy="222.9" r="2.2" fill="none" stroke="#cc0a7f" stroke-width="1.3"/>
<circle cx="104.81" cy="222.9" r="0.45" fill="#cc0a7f"/>
<circle cx="105.84" cy="224.32" r="2.2" fill="none" stroke="#cc0a7f" stroke-width="1.3"/>
<circle cx="105.84" cy="224.32" r="0.45" fill="#cc0a7f"/>
<circle cx="106.87" cy="224.25" r="2.2" fill="none" stroke="#cc0a7f" stroke-width="1.3"/>
<circle cx="106.87" cy="224.25" r="0.45" fill="#cc0a7f"/>
<circle cx="107.9" cy="223.86" r="2.2" fill="none" stroke="#cc0a7f" stroke-width="1.3"/>
<circle cx="108.93" cy="224.02" r="2.2" fill="none" stroke="#cc0a7f" stroke-width="1.3"/>
<circle cx="109.96" cy="222.43" r="2.2" fill="none" stroke="#cc0a7f" stroke-width="1.3"/>
<circle cx="109.96" cy="222.43" r="0.45" fill="#cc0a7f"/>
<circle cx="110.99" cy="223.13" r="2.2" fill="none" stroke="#cc0a7f" stroke-width="1.3"/>
<circle cx="112.01" cy="222.47" r="2.2" fill="none" stroke="#cc0a7f" stroke-width="1.3"/>
<circle cx="113.04" cy="223.12" r="2.2" fill="none" stroke="#cc0a7f" stroke-width="1.3"/>
<circle cx="114.07" cy="222.85" r="2.2" fill="none" stroke="#cc0a7f" stroke-width="1.3"/>
<circle cx="114.07" cy="222.85" r="0.45" fill="#cc0a7f"/>
<circle cx="115.1" cy="222.52" r="2.2" fill="none" stroke="#cc0a7f" stroke-width="1.3"/>
<circle cx="116.13" cy="222.23" r="2.2" fill="none" stroke="#cc0a7f" stroke-width="1.3"/>
<circle cx="117.16" cy="222.77" r="2.2" fill="none" stroke="#cc0a7f" stroke-width="1.3"/>
<circle cx="118.19" cy="223.06" r="2.2" fill="none" stroke="#cc0a7f" stroke-width="1.3"/>
<circle cx="119.22" cy="224.09" r="2.2" fill="none" stroke="#cc0a7f" stroke-width="1.3"/>
<circle cx="120.25" cy="223.82" r="2.2" fill="none" stroke="#cc0a7f" stroke-width="1.3"/>
<circle cx="121.28" cy="223.57" r="2.2" fill="none" stroke="#cc0a7f" stroke-width="1.3"/>
<circle cx="122.31" cy="223.97" r="2.2" fill="none" stroke="#cc0a7f" stroke-width="1.3"/>
<circle cx="123.34" cy="221.65" r="2.2" fill="none" stroke="#cc0a7f" stroke-width="1.3"/>
<circle cx="124.37" cy="223.56" r="2.2" fill="none" stroke="#cc0a7f" stroke-width="1.3"/>
<circle cx="124.37" cy="223.56" r="0.45" fill="#cc0a7f"/>
<circle cx="125.4" cy="222.49" r="2.2" fill="none" stroke="#cc0a7f" stroke-width="1.3"/>
<circle cx="126.43" cy="222.34" r="2.2" fill="none" stroke="#cc0a7f" stroke-width="1.3"/>
<circle cx="127.46" cy="221.52" r="2.2" fill="none" stroke="#cc0a7f" stroke-width="1.3"/>
<circle cx="127.46" cy="221.52" r="0.45" fill="#cc0a7f"/>
<circle cx="128.49" cy="221.64" r="2.2" fill="none" stroke="#cc0a7f" stroke-width="1.3"/>
<circle cx="129.51" cy="224.07" r="2.2" fill="none" stroke="#cc0a7f" stroke-width="1.3"/>
<circle cx="130.54" cy="223.83" r="2.2" fill="none" stroke="#cc0a7f" stroke-width="1.3"/>
<circle cx="131.57" cy="221.89" r="2.2" fill="none" stroke="#cc0a7f" stroke-width="1.3"/>
<circle cx="131.57" cy="221.89" r="0.45" fill="#cc0a7f"/>
<circle cx="132.6" cy="223.86" r="2.2" fill="none" stroke="#cc0a7f" stroke-width="1.3"/>
<circle cx="133.63" cy="223.77" r="2.2" fill="none" stroke="#cc0a7f" stroke-width="1.3"/>
<circle cx="134.66" cy="222.59" r="2.2" fill="none" stroke="#cc0a7f" stroke-width="1.3"/>
<circle cx="135.69" cy="221.86" r="2.2" fill="none" stroke="#cc0a7f" stroke-width="1.3"/>
<circle cx="136.72" cy="221.49" r="2.2" fill="none" stroke="#cc0a7f" stroke-width="1.3"/>
<circle cx="137.75" cy="222.77" r="2.2" fill="none" stroke="#cc0a7f" stroke-width="1.3"/>
<circle cx="138.78" cy="222.79" r="2.2" fill="none" stroke="#cc0a7f" stroke-width="1.3"/>
<circle cx="138.78" cy="222.79" r="0.45" fill="#cc0a7f"/>
<circle cx="139.81" cy="224.24" r="2.2" fill="none" stroke="#cc0a7f" stroke-width="1.3"/>
<circle cx="140.84" cy="223.65" r="2.2" fill="none" stroke="#cc0a7f" stroke-width="1.3"/>
<circle cx="141.87" cy="222.04" r="2.2" fill="none" stroke="#cc0a7f" stroke-width="1.3"/>
<circle cx="142.9" cy="222.63" r="2.2" fill="none" stroke="#cc0a7f" stroke-width="1.3"/>
<circle cx="143.93" cy="223.83" r="2.2" fill="none" stroke="#cc0a7f" stroke-width="1.3"/>
<circle cx="143.93" cy="223.83" r="0.45" fill="#cc0a7f"/>
<circle cx="144.95" cy="224" r="2.2" fill="none" stroke="#cc0a7f" stroke-width="1.3"/>
<circle cx="145.98" cy="223.85" r="2.2" fill="none" stroke="#cc0a7f" stroke-width="1.3"/>
<circle cx="147.01" cy="222.3" r="2.2" fill="none" stroke="#cc0a7f" stroke-width="1.3"/>
<circle cx="147.01" cy="222.3" r="0.45" fill="#cc0a7f"/>
<circle cx="148.04" cy="223.92" r="2.2" fill="none" stroke="#cc0a7f" stroke-width="1.3"/>
<circle cx="149.07" cy="224.2" r="2.2" fill="none" stroke="#cc0a7f" stroke-width="1.3"/>
<circle cx="149.07" cy="224.2" r="0.45" fill="#cc0a7f"/>
<circle cx="150.1" cy="224.19" r="2.2" fill="none" stroke="#cc0a7f" stroke-width="1.3"/>
<circle cx="151.13" cy="222.12" r="2.2" fill="none" stroke="#cc0a7f" stroke-width="1.3"/>
<circle cx="151.13" cy="222.12" r="0.45" fill="#cc0a7f"/>
<circle cx="152.16" cy="221.57" r="2.2" fill="none" stroke="#cc0a7f" stroke-width="1.3"/>
<circle cx="153.19" cy="222.41" r="2.2" fill="none" stroke="#cc0a7f" stroke-width="1.3"/>
<circle cx="154.22" cy="222.14" r="2.2" fill="none" stroke="#cc0a7f" stroke-width="1.3"/>
<circle cx="155.25" cy="223.21" r="2.2" fill="none" stroke="#cc0a7f" stroke-width="1.3"/>
<circle cx="155.25" cy="223.21" r="0.45" fill="#cc0a7f"/>
<circle cx="156.28" cy="223.73" r="2.2" fill="none" stroke="#cc0a7f" stroke-width="1.3"/>
<circle cx="156.28" cy="223.73" r="0.45" fill="#cc0a7f"/>
<circle cx="157.31" cy="221.58" r="2.2" fill="none" stroke="#cc0a7f" stroke-width="1.3"/>
<circle cx="158.34" cy="222.15" r="2.2" fill="none" stroke="#cc0a7f" stroke-width="1.3"/>
<circle cx="158.34" cy="222.15" r="0.45" fill="#cc0a7f"/>
<circle cx="159.37" cy="222.15" r="2.2" fill="none" stroke="#cc0a7f" stroke-width="1.3"/>
<circle cx="160.4" cy="222.94" r="2.2" fill="none" stroke="#cc0a7f" stroke-width="1.3"/>
<circle cx="160.4" cy="222.94" r="0.45" fill="#cc0a7f"/>
<circle cx="161.42" cy="222.04" r="2.2" fill="none" stroke="#cc0a7f" stroke-width="1.3"/>
<circle cx="162.45" cy="223.47" r="2.2" fill="none" stroke="#cc0a7f" stroke-width="1.3"/>
<circle cx="163.48" cy="223.57" r="2.2" fill="none" stroke="#cc0a7f" stroke-width="1.3"/>
<circle cx="164.51" cy="221.64" r="2.2" fill="none" stroke="#cc0a7f" stroke-width="1.3"/>
<circle cx="164.51" cy="221.64" r="0.45" fill="#cc0a7f"/>
<circle cx="165.54" cy="222.13" r="2.2" fill="none" stroke="#cc0a7f" stroke-width="1.3"/>
<circle cx="166.57" cy="222.1" r="2.2" fill="none" stroke="#cc0a7f" stroke-width="1.3"/>
<circle cx="167.6" cy="222.95" r="2.2" fill="none" stroke="#cc0a7f" stroke-width="1.3"/>
<circle cx="167.6" cy="222.95" r="0.45" fill="#cc0a7f"/>
<circle cx="168.63" cy="222.17" r="2.2" fill="none" stroke="#cc0a7f" stroke-width="1.3"/>
<circle cx="169.66" cy="224.23" r="2.2" fill="none" stroke="#cc0a7f" stroke-width="1.3"/>
<circle cx="170.69" cy="224.04" r="2.2" fill="none" stroke="#cc0a7f" stroke-width="1.3"/>
<circle cx="171.72" cy="224.18" r="2.2" fill="none" stroke="#cc0a7f" stroke-width="1.3"/>
<circle cx="172.75" cy="222.26" r="2.2" fill="none" stroke="#cc0a7f" stroke-width="1.3"/>
<circle cx="173.78" cy="222.66" r="2.2" fill="none" stroke="#cc0a7f" stroke-width="1.3"/>
<circle cx="173.78" cy="222.66" r="0.45" fill="#cc0a7f"/>
<circle cx="174.81" cy="223.06" r="2.2" fill="none" stroke="#cc0a7f" stroke-width="1.3"/>
<circle cx="175.84" cy="223.49" r="2.2" fill="none" stroke="#cc0a7f" stroke-width="1.3"/>
<circle cx="176.87" cy="224.17" r="2.2" fill="none" stroke="#cc0a7f" stroke-width="1.3"/>
<circle cx="177.89" cy="224.04" r="2.2" fill="none" stroke="#cc0a7f" stroke-width="1.3"/>
<circle cx="178.92" cy="221.94" r="2.2" fill="none" stroke="#cc0a7f" stroke-width="1.3"/>
<circle cx="179.95" cy="222.61" r="2.2" fill="none" stroke="#cc0a7f" stroke-width="1.3"/>
<circle cx="180.98" cy="222.84" r="2.2" fill="none" stroke="#cc0a7f" stroke-width="1.3"/>
<circle cx="182.01" cy="223.86" r="2.2" fill="none" stroke="#cc0a7f" stroke-width="1.3"/>
<circle cx="183.04" cy="221.61" r="2.2" fill="none" stroke="#cc0a7f" stroke-width="1.3"/>
<circle cx="183.04" cy="221.61" r="0.45" fill="#cc0a7f"/>
<circle cx="184.07" cy="223.84" r="2.2" fill="none" stroke="#cc0a7f" stroke-width="1.3"/>
<circle cx="185.1" cy="222.11" r="2.2" fill="none" stroke="#cc0a7f" stroke-width="1.3"/>
<circle cx="186.13" cy="221.46" r="2.2" fill="none" stroke="#cc0a7f" stroke-width="1.3"/>
<circle cx="187.16" cy="224.02" r="2.2" fill="none" stroke="#cc0a7f" stroke-width="1.3"/>
<circle cx="188.19" cy="224.05" r="2.2" fill="none" stroke="#cc0a7f" stroke-width="1.3"/>
<circle cx="189.22" cy="221.75" r="2.2" fill="none" stroke="#cc0a7f" stroke-width="1.3"/>
<circle cx="190.25" cy="223.1" r="2.2" fill="none" stroke="#cc0a7f" stroke-width="1.3"/>
<circle cx="191.28" cy="223.25" r="2.2" fill="none" stroke="#cc0a7f" stroke-width="1.3"/>
<circle cx="192.31" cy="223.09" r="2.2" fill="none" stroke="#cc0a7f" stroke-width="1.3"/>
<circle cx="193.34" cy="223.83" r="2.2" fill="none" stroke="#cc0a7f" stroke-width="1.3"/>
<circle cx="194.36" cy="222.5" r="2.2" fill="none" stroke="#cc0a7f" stroke-width="1.3"/>
<circle cx="195.39" cy="223.95" r="2.2" fill="none" stroke="#cc0a7f" stroke-width="1.3"/>
<circle cx="196.42" cy="222.33" r="2.2" fill="none" stroke="#cc0a7f" stroke-width="1.3"/>
<circle cx="197.45" cy="224.22" r="2.2" fill="none" stroke="#cc0a7f" stroke-width="1.3"/>
<circle cx="198.48" cy="222.82" r="2.2" fill="none" stroke="#cc0a7f" stroke-width="1.3"/>
<circle cx="199.51" cy="223.02" r="2.2" fill="none" stroke="#cc0a7f" stroke-width="1.3"/>
<circle cx="200.54" cy="223.39" r="2.2" fill="none" stroke="#cc0a7f" stroke-width="1.3"/>
<circle cx="201.57" cy="222.33" r="2.2" fill="none" stroke="#cc0a7f" stroke-width="1.3"/>
<circle cx="201.57" cy="222.33" r="0.45" fill="#cc0a7f"/>
<circle cx="202.6" cy="223.65" r="2.2" fill="none" stroke="#cc0a7f" stroke-width="1.3"/>
<rect x="36.63" y="284.76" width="4.6" height="4.6" fill="none" stroke="#cc0a7f" stroke-width="1.3"/>
<rect x="37.66" y="285.38" width="4.6" height="4.6" fill="none" stroke="#cc0a7f" stroke-width="1.3"/>
<rect x="38.69" y="286.19" width="4.6" height="4.6" fill="none" stroke="#cc0a7f" stroke-width="1.3"/>
<rect x="39.72" y="287.04" width="4.6" height="4.6" fill="none" stroke="#cc0a7f" stroke-width="1.3"/>
<rect x="40.75" y="287.32" width="4.6" height="4.6" fill="none" stroke="#cc0a7f" stroke-width="1.3"/>
<rect x="41.78" y="287.32" width="4.6" height="4.6" fill="none" stroke="#cc0a7f" stroke-width="1.3"/>
<rect x="42.81" y="287.54" width="4.6" height="4.6" fill="none" stroke="#cc0a7f" stroke-width="1.3"/>
<rect x="43.84" y="287.51" width="4.6" height="4.6" fill="none" stroke="#cc0a7f" stroke-width="1.3"/>
<rect x="44.86" y="287.37" width="4.6" height="4.6" fill="none" stroke="#cc0a7f" stroke-width="1.3"/>
<rect x="45.89" y="287.63" width="4.6" height="4.6" fill="none" stroke="#cc0a7f" stroke-width="1.3"/>
<rect x="46.92" y="287.78" width="4.6" height="4.6" fill="none" stroke="#cc0a7f" stroke-width="1.3"/>
<rect x="47.95" y="288.04" width="4.6" height="4.6" fill="none" stroke="#cc0a7f" stroke-width="1.3"/>
<rect x="48.98" y="288.18" width="4.6" height="4.6" fill="none" stroke="#cc0a7f" stroke-width="1.3"/>
<rect x="50.01" y="287.67" width="4.6" height="4.6" fill="none" stroke="#cc0a7f" stroke-width="1.3"/>
<rect x="51.04" y="288.28" width="4.6" height="4.6" fill="none" stroke="#cc0a7f" stroke-width="1.3"/>
<rect x="52.07" y="287.78" width="4.6" height="4.6" fill="none" stroke="#cc0a7f" stroke-width="1.3"/>
<rect x="53.1" y="287.81" width="4.6" height="4.6" fill="none" stroke="#cc0a7f" stroke-width="1.3"/>
<rect x="54.13" y="288.52" width="4.6" height="4.6" fill="none" stroke="#cc0a7f" stroke-width="1.3"/>
<rect x="55.16" y="288.19" width="4.6" height="4.6" fill="none" stroke="#cc0a7f" stroke-width="1.3"/>
<rect x="56.19" y="288.61" width="4.6" height="4.6" fill="none" stroke="#cc0a7f" stroke-width="1.3"/>
<rect x="57.22" y="288.7" width="4.6" height="4.6" fill="none" stroke="#cc0a7f" stroke-width="1.3"/>
<rect x="58.25" y="288.76" width="4.6" height="4.6" fill="none" stroke="#cc0a7f" stroke-width="1.3"/>
<rect x="59.28" y="288.7" width="4.6" height="4.6" fill="none" stroke="#cc0a7f" stroke-width="1.3"/>
<rect x="60.3" y="288.76" width="4.6" height="4.6" fill="none" stroke="#cc0a7f" stroke-width="1.3"/>
<rect x="61.33" y="288.83" width="4.6" height="4.6" fill="none" stroke="#cc0a7f" stroke-width="1.3"/>
<rect x="62.36" y="289.02" width="4.6" height="4.6" fill="none" stroke="#cc0a7f" stroke-width="1.3"/>
<rect x="63.39" y="288.44" width="4.6" height="4.6" fill="none" stroke="#cc0a7f" stroke-width="1.3"/>
<rect x="64.42" y="289" width="4.6" height="4.6" fill="none" stroke="#cc0a7f" stroke-width="1.3"/>
<rect x="65.45" y="288.57" width="4.6" height="4.6" fill="none" stroke="#cc0a7f" stroke-width="1.3"/>
<rect x="66.48" y="288.97" width="4.6" height="4.6" fill="none" stroke="#cc0a7f" stroke-width="1.3"/>
<rect x="67.51" y="289.38" width="4.6" height="4.6" fill="none" stroke="#cc0a7f" stroke-width="1.3"/>
<rect x="68.54" y="288.77" width="4.6" height="4.6" fill="none" stroke="#cc0a7f" stroke-width="1.3"/>
<rect x="69.57" y="289.16" width="4.6" height="4.6" fill="none" stroke="#cc0a7f" stroke-width="1.3"/>
<rect x="70.6" y="289.38" width="4.6" height="4.6" fill="none" stroke="#cc0a7f" stroke-width="1.3"/>
<rect x="71.63" y="288.84" width="4.6" height="4.6" fill="none" stroke="#cc0a7f" stroke-width="1.3"/>
<rect x="72.66" y="289.44" width="4.6" height="4.6" fill="none" stroke="#cc0a7f" stroke-width="1.3"/>
<rect x="73.69" y="289.71" width="4.6" height="4.6" fill="none" stroke="#cc0a7f" stroke-width="1.3"/>
<rect x="74.72" y="289.58" width="4.6" height="4.6" fill="none" stroke="#cc0a7f" stroke-width="1.3"/>
<rect x="75.75" y="289.26" width="4.6" height="4.6" fill="none" stroke="#cc0a7f" stroke-width="1.3"/>
<rect x="76.77" y="289.9" width="4.6" height="4.6" fill="none" stroke="#cc0a7f" stroke-width="1.3"/>
<rect x="77.8" y="289.77" width="4.6" height="4.6" fill="none" stroke="#cc0a7f" stroke-width="1.3"/>
<rect x="78.83" y="289.34" width="4.6" height="4.6" fill="none" stroke="#cc0a7f" stroke-width="1.3"/>
<rect x="79.86" y="289.52" width="4.6" height="4.6" fill="none" stroke="#cc0a7f" stroke-width="1.3"/>
<rect x="80.89" y="289.67" width="4.6" height="4.6" fill="none" stroke="#cc0a7f" stroke-width="1.3"/>
<rect x="81.92" y="289.68" width="4.6" height="4.6" fill="none" stroke="#cc0a7f" stroke-width="1.3"/>
<rect x="82.95" y="289.58" width="4.6" height="4.6" fill="none" stroke="#cc0a7f" stroke-width="1.3"/>
<rect x="83.98" y="289.78" width="4.6" height="4.6" fill="none" stroke="#cc0a7f" stroke-width="1.3"/>
<rect x="85.01" y="289.85" width="4.6" height="4.6" fill="none" stroke="#cc0a7f" stroke-width="1.3"/>
<rect x="86.04" y="289.73" width="4.6" height="4.6" fill="none" stroke="#cc0a7f" stroke-width="1.3"/>
<rect x="87.07" y="289.98" width="4.6" height="4.6" fill="none" stroke="#cc0a7f" stroke-width="1.3"/>
<rect x="88.1" y="290.08" width="4.6" height="4.6" fill="none" stroke="#cc0a7f" stroke-width="1.3"/>
<rect x="89.13" y="290.42" width="4.6" height="4.6" fill="none" stroke="#cc0a7f" stroke-width="1.3"/>
<rect x="90.16" y="290.52" width="4.6" height="4.6" fill="none" stroke="#cc0a7f" stroke-width="1.3"/>
<rect x="91.19" y="290.62" width="4.6" height="4.6" fill="none" stroke="#cc0a7f" stroke-width="1.3"/>
<rect x="92.22" y="290.44" width="4.6" height="4.6" fill="none" stroke="#cc0a7f" stroke-width="1.3"/>
<rect x="93.24" y="290.63" width="4.6" height="4.6" fill="none" stroke="#cc0a7f" stroke-width="1.3"/>
<rect x="94.27" y="290.34" width="4.6" height="4.6" fill="none" stroke="#cc0a7f" stroke-width="1.3"/>
<rect x="95.3" y="290.25" width="4.6" height="4.6" fill="none" stroke="#cc0a7f" stroke-width="1.3"/>
<rect x="96.33" y="290.82" width="4.6" height="4.6" fill="none" stroke="#cc0a7f" stroke-width="1.3"/>
<rect x="97.36" y="290.76" width="4.6" height="4.6" fill="none" stroke="#cc0a7f" stroke-width="1.3"/>
<rect x="98.39" y="290.57" width="4.6" height="4.6" fill="none" stroke="#cc0a7f" stroke-width="1.3"/>
<rect x="99.42" y="291.07" width="4.6" height="4.6" fill="none" stroke="#cc0a7f" stroke-width="1.3"/>
<rect x="100.45" y="290.58" width="4.6" height="4.6" fill="none" stroke="#cc0a7f" stroke-width="1.3"/>
<rect x="101.48" y="290.93" width="4.6" height="4.6" fill="none" stroke="#cc0a7f" stroke-width="1.3"/>
<rect x="102.51" y="291.35" width="4.6" height="4.6" fill="none" stroke="#cc0a7f" stroke-width="1.3"/>
<rect x="103.54" y="290.75" width="4.6" height="4.6" fill="none" stroke="#cc0a7f" stroke-width="1.3"/>
<rect x="104.57" y="291.07" width="4.6" height="4.6" fill="none" stroke="#cc0a7f" stroke-width="1.3"/>
<rect x="105.6" y="291.02" width="4.6" height="4.6" fill="none" stroke="#cc0a7f" stroke-width="1.3"/>
<rect x="106.63" y="290.91" width="4.6" height="4.6" fill="none" stroke="#cc0a7f" stroke-width="1.3"/>
<rect x="107.66" y="290.95" width="4.6" height="4.6" fill="none" stroke="#cc0a7f" stroke-width="1.3"/>
<rect x="108.69" y="291.46" width="4.6" height="4.6" fill="none" stroke="#cc0a7f" stroke-width="1.3"/>
<rect x="109.71" y="291.77" width="4.6" height="4.6" fill="none" stroke="#cc0a7f" stroke-width="1.3"/>
<rect x="110.74" y="291.18" width="4.6" height="4.6" fill="none" stroke="#cc0a7f" stroke-width="1.3"/>
<rect x="111.77" y="291.18" width="4.6" height="4.6" fill="none" stroke="#cc0a7f" stroke-width="1.3"/>
<rect x="112.8" y="291.87" width="4.6" height="4.6" fill="none" stroke="#cc0a7f" stroke-width="1.3"/>
<rect x="113.83" y="291.82" width="4.6" height="4.6" fill="none" stroke="#cc0a7f" stroke-width="1.3"/>
<rect x="114.86" y="291.9" width="4.6" height="4.6" fill="none" stroke="#cc0a7f" stroke-width="1.3"/>
<rect x="115.89" y="291.56" width="4.6" height="4.6" fill="none" stroke="#cc0a7f" stroke-width="1.3"/>
<rect x="116.92" y="291.44" width="4.6" height="4.6" fill="none" stroke="#cc0a7f" stroke-width="1.3"/>
<rect x="117.95" y="292.09" width="4.6" height="4.6" fill="none" stroke="#cc0a7f" stroke-width="1.3"/>
<rect x="118.98" y="292.03" width="4.6" height="4.6" fill="none" stroke="#cc0a7f" stroke-width="1.3"/>
<rect x="120.01" y="291.7" width="4.6" height="4.6" fill="none" stroke="#cc0a7f" stroke-width="1.3"/>
<rect x="121.04" y="292.06" width="4.6" height="4.6" fill="none" stroke="#cc0a7f" stroke-width="1.3"/>
<rect x="122.07" y="292.32" width="4.6" height="4.6" fill="none" stroke="#cc0a7f" stroke-width="1.3"/>
<rect x="123.1" y="292.17" width="4.6" height="4.6" fill="none" stroke="#cc0a7f" stroke-width="1.3"/>
<rect x="124.13" y="292.6" width="4.6" height="4.6" fill="none" stroke="#cc0a7f" stroke-width="1.3"/>
<rect x="125.16" y="292.05" width="4.6" height="4.6" fill="none" stroke="#cc0a7f" stroke-width="1.3"/>
<rect x="126.19" y="292.45" width="4.6" height="4.6" fill="none" stroke="#cc0a7f" stroke-width="1.3"/>
<rect x="127.21" y="292.54" width="4.6" height="4.6" fill="none" stroke="#cc0a7f" stroke-width="1.3"/>
<rect x="128.24" y="292.29" width="4.6" height="4.6" fill="none" stroke="#cc0a7f" stroke-width="1.3"/>
<rect x="129.27" y="292.58" width="4.6" height="4.6" fill="none" stroke="#cc0a7f" stroke-width="1.3"/>
<rect x="130.3" y="292.22" width="4.6" height="4.6" fill="none" stroke="#cc0a7f" stroke-width="1.3"/>
<rect x="131.33" y="292.93" width="4.6" height="4.6" fill="none" stroke="#cc0a7f" stroke-width="1.3"/>
<rect x="132.36" y="292.73" width="4.6" height="4.6" fill="none" stroke="#cc0a7f" stroke-width="1.3"/>
<rect x="133.39" y="292.46" width="4.6" height="4.6" fill="none" stroke="#cc0a7f" stroke-width="1.3"/>
<rect x="134.42" y="292.69" width="4.6" height="4.6" fill="none" stroke="#cc0a7f" stroke-width="1.3"/>
<rect x="135.45" y="292.85" width="4.6" height="4.6" fill="none" stroke="#cc0a7f" stroke-width="1.3"/>
<rect x="136.48" y="292.9" width="4.6" height="4.6" fill="none" stroke="#cc0a7f" stroke-width="1.3"/>
<rect x="137.51" y="293.27" width="4.6" height="4.6" fill="none" stroke="#cc0a7f" stroke-width="1.3"/>
<rect x="138.54" y="293.23" width="4.6" height="4.6" fill="none" stroke="#cc0a7f" stroke-width="1.3"/>
<rect x="139.57" y="293.55" width="4.6" height="4.6" fill="none" stroke="#cc0a7f" stroke-width="1.3"/>
<rect x="140.6" y="293.61" width="4.6" height="4.6" fill="none" stroke="#cc0a7f" stroke-width="1.3"/>
<rect x="141.63" y="293.01" width="4.6" height="4.6" fill="none" stroke="#cc0a7f" stroke-width="1.3"/>
<rect x="142.65" y="293.3" width="4.6" height="4.6" fill="none" stroke="#cc0a7f" stroke-width="1.3"/>
<rect x="143.68" y="293.33" width="4.6" height="4.6" fill="none" stroke="#cc0a7f" stroke-width="1.3"/>
<rect x="144.71" y="293.62" width="4.6" height="4.6" fill="none" stroke="#cc0a7f" stroke-width="1.3"/>
<rect x="145.74" y="294.2" width="4.6" height="4.6" fill="none" stroke="#cc0a7f" stroke-width="1.3"/>
<rect x="146.77" y="294.26" width="4.6" height="4.6" fill="none" stroke="#cc0a7f" stroke-width="1.3"/>
<rect x="147.8" y="294.39" width="4.6" height="4.6" fill="none" stroke="#cc0a7f" stroke-width="1.3"/>
<rect x="148.83" y="294.17" width="4.6" height="4.6" fill="none" stroke="#cc0a7f" stroke-width="1.3"/>
<rect x="149.86" y="294.36" width="4.6" height="4.6" fill="none" stroke="#cc0a7f" stroke-width="1.3"/>
<rect x="150.89" y="294.56" width="4.6" height="4.6" fill="none" stroke="#cc0a7f" stroke-width="1.3"/>
<rect x="151.92" y="294.8" width="4.6" height="4.6" fill="none" stroke="#cc0a7f" stroke-width="1.3"/>
<rect x="152.95" y="295.4" width="4.6" height="4.6" fill="none" stroke="#cc0a7f" stroke-width="1.3"/>
<rect x="153.98" y="295.85" width="4.6" height="4.6" fill="none" stroke="#cc0a7f" stroke-width="1.3"/>
<rect x="155.01" y="295.46" width="4.6" height="4.6" fill="none" stroke="#cc0a7f" stroke-width="1.3"/>
<rect x="156.04" y="296.35" width="4.6" height="4.6" fill="none" stroke="#cc0a7f" stroke-width="1.3"/>
<rect x="157.07" y="295.98" width="4.6" height="4.6" fill="none" stroke="#cc0a7f" stroke-width="1.3"/>
<rect x="158.1" y="296.67" width="4.6" height="4.6" fill="none" stroke="#cc0a7f" stroke-width="1.3"/>
<rect x="159.12" y="296.53" width="4.6" height="4.6" fill="none" stroke="#cc0a7f" stroke-width="1.3"/>
<rect x="160.15" y="296.68" width="4.6" height="4.6" fill="none" stroke="#cc0a7f" stroke-width="1.3"/>
<rect x="161.18" y="296.82" width="4.6" height="4.6" fill="none" stroke="#cc0a7f" stroke-width="1.3"/>
<rect x="162.21" y="297.56" width="4.6" height="4.6" fill="none" stroke="#cc0a7f" stroke-width="1.3"/>
<rect x="163.24" y="297.36" width="4.6" height="4.6" fill="none" stroke="#cc0a7f" stroke-width="1.3"/>
<rect x="164.27" y="297.44" width="4.6" height="4.6" fill="none" stroke="#cc0a7f" stroke-width="1.3"/>
<rect x="165.3" y="297.68" width="4.6" height="4.6" fill="none" stroke="#cc0a7f" stroke-width="1.3"/>
<rect x="166.33" y="298.19" width="4.6" height="4.6" fill="none" stroke="#cc0a7f" stroke-width="1.3"/>
<rect x="167.36" y="297.94" width="4.6" height="4.6" fill="none" stroke="#cc0a7f" stroke-width="1.3"/>
<rect x="168.39" y="298.34" width="4.6" height="4.6" fill="none" stroke="#cc0a7f" stroke-width="1.3"/>
<rect x="169.42" y="298.64" width="4.6" height="4.6" fill="none" stroke="#cc0a7f" stroke-width="1.3"/>
<rect x="170.45" y="298.67" width="4.6" height="4.6" fill="none" stroke="#cc0a7f" stroke-width="1.3"/>
<rect x="171.48" y="299.05" width="4.6" height="4.6" fill="none" stroke="#cc0a7f" stroke-width="1.3"/>
<rect x="172.51" y="298.93" width="4.6" height="4.6" fill="none" stroke="#cc0a7f" stroke-width="1.3"/>
<rect x="173.54" y="299.5" width="4.6" height="4.6" fill="none" stroke="#cc0a7f" stroke-width="1.3"/>
<rect x="174.57" y="299.26" width="4.6" height="4.6" fill="none" stroke="#cc0a7f" stroke-width="1.3"/>
<rect x="175.59" y="299.4" width="4.6" height="4.6" fill="none" stroke="#cc0a7f" stroke-width="1.3"/>
<rect x="176.62" y="299.3" width="4.6" height="4.6" fill="none" stroke="#cc0a7f" stroke-width="1.3"/>
<rect x="177.65" y="299.67" width="4.6" height="4.6" fill="none" stroke="#cc0a7f" stroke-width="1.3"/>
<rect x="178.68" y="299.96" width="4.6" height="4.6" fill="none" stroke="#cc0a7f" stroke-width="1.3"/>
<rect x="179.71" y="299.84" width="4.6" height="4.6" fill="none" stroke="#cc0a7f" stroke-width="1.3"/>
<rect x="180.74" y="299.97" width="4.6" height="4.6" fill="none" stroke="#cc0a7f" stroke-width="1.3"/>
<rect x="181.77" y="300.46" width="4.6" height="4.6" fill="none" stroke="#cc0a7f" stroke-width="1.3"/>
<rect x="182.8" y="300.35" width="4.6" height="4.6" fill="none" stroke="#cc0a7f" stroke-width="1.3"/>
<rect x="183.83" y="300.75" width="4.6" height="4.6" fill="none" stroke="#cc0a7f" stroke-width="1.3"/>
<rect x="184.86" y="300.75" width="4.6" height="4.6" fill="none" stroke="#cc0a7f" stroke-width="1.3"/>
<rect x="185.89" y="300.77" width="4.6" height="4.6" fill="none" stroke="#cc0a7f" stroke-width="1.3"/>
<rect x="186.92" y="301.33" width="4.6" height="4.6" fill="none" stroke="#cc0a7f" stroke-width="1.3"/>
<rect x="187.95" y="300.82" width="4.6" height="4.6" fill="none" stroke="#cc0a7f" stroke-width="1.3"/>
<rect x="188.98" y="301.54" width="4.6" height="4.6" fill="none" stroke="#cc0a7f" stroke-width="1.3"/>
<rect x="190.01" y="301.56" width="4.6" height="4.6" fill="none" stroke="#cc0a7f" stroke-width="1.3"/>
<rect x="191.04" y="301.62" width="4.6" height="4.6" fill="none" stroke="#cc0a7f" stroke-width="1.3"/>
<rect x="192.06" y="301.99" width="4.6" height="4.6" fill="none" stroke="#cc0a7f" stroke-width="1.3"/>
<rect x="193.09" y="301.75" width="4.6" height="4.6" fill="none" stroke="#cc0a7f" stroke-width="1.3"/>
<rect x="194.12" y="302.07" width="4.6" height="4.6" fill="none" stroke="#cc0a7f" stroke-width="1.3"/>
<rect x="195.15" y="301.71" width="4.6" height="4.6" fill="none" stroke="#cc0a7f" stroke-width="1.3"/>
<rect x="196.18" y="302.17" width="4.6" height="4.6" fill="none" stroke="#cc0a7f" stroke-width="1.3"/>
<rect x="197.21" y="302.45" width="4.6" height="4.6" fill="none" stroke="#cc0a7f" stroke-width="1.3"/>
<rect x="198.24" y="302.39" width="4.6" height="4.6" fill="none" stroke="#cc0a7f" stroke-width="1.3"/>
<rect x="199.27" y="302.47" width="4.6" height="4.6" fill="none" stroke="#cc0a7f" stroke-width="1.3"/>
<rect x="200.3" y="302.95" width="4.6" height="4.6" fill="none" stroke="#cc0a7f" stroke-width="1.3"/>
<rect x="200.1" y="302.52" width="5" height="5" fill="none" stroke="#cc0a7f" stroke-width="1.0"/>
<rect x="201.1" y="303.52" width="3" height="3" fill="#fff"/>
<text x="100.7" y="272.7" font-size="8.7" text-anchor="start" fill="#222" stroke="#222" stroke-width="0.18" >0.5 C charge</text>
<text x="101.4" y="283.2" font-size="8.7" text-anchor="start" fill="#222" stroke="#222" stroke-width="0.18" >1 C discharge</text>
<text x="43.8" y="334.7" font-size="8.7" text-anchor="start" fill="#222" stroke="#222" stroke-width="0.18" >BiF<tspan font-size="5.39" dy="1.91">3</tspan><tspan dy="-1.91">@Al||NFPP (22 mg cm<tspan font-size="5.39" dy="-3.31">−2</tspan><tspan dy="3.31">)</tspan></tspan></text>
<text x="237" y="205.4" font-size="16" text-anchor="start" fill="#111" font-weight="bold" >e</text>
<rect x="268.7" y="210.6" width="382.8" height="132" fill="#fbf8e3"/>
<line x1="268.7" y1="230.7" x2="651.5" y2="230.7" stroke="#707070" stroke-width="1.1" stroke-dasharray="1.1 1"/>
<line x1="268.7" y1="210.6" x2="651.5" y2="210.6" stroke="#333" stroke-width="1.1" />
<line x1="268.7" y1="210.6" x2="268.7" y2="342.6" stroke="#7a7a7a" stroke-width="1" />
<line x1="651.5" y1="210.6" x2="651.5" y2="342.6" stroke="#7a7a7a" stroke-width="1" />
<line x1="268.7" y1="342.6" x2="651.5" y2="342.6" stroke="#555" stroke-width="1" />
<line x1="265.7" y1="230.4" x2="268.7" y2="230.4" stroke="#444" stroke-width="1" />
<text x="265.1" y="233.7" font-size="9.5" text-anchor="end" fill="#222" stroke="#222" stroke-width="0.18" >0</text>
<line x1="265.7" y1="255.9" x2="268.7" y2="255.9" stroke="#444" stroke-width="1" />
<text x="265.1" y="259.2" font-size="9.5" text-anchor="end" fill="#222" stroke="#222" stroke-width="0.18" >5</text>
<line x1="265.7" y1="281.4" x2="268.7" y2="281.4" stroke="#444" stroke-width="1" />
<text x="265.1" y="284.7" font-size="9.5" text-anchor="end" fill="#222" stroke="#222" stroke-width="0.18" >10</text>
<line x1="265.7" y1="306.9" x2="268.7" y2="306.9" stroke="#444" stroke-width="1" />
<text x="265.1" y="310.2" font-size="9.5" text-anchor="end" fill="#222" stroke="#222" stroke-width="0.18" >15</text>
<line x1="265.7" y1="332.4" x2="268.7" y2="332.4" stroke="#444" stroke-width="1" />
<text x="265.1" y="335.7" font-size="9.5" text-anchor="end" fill="#222" stroke="#222" stroke-width="0.18" >20</text>
<line x1="267.1" y1="243.15" x2="268.7" y2="243.15" stroke="#444" stroke-width="1" />
<line x1="267.1" y1="268.65" x2="268.7" y2="268.65" stroke="#444" stroke-width="1" />
<line x1="267.1" y1="294.15" x2="268.7" y2="294.15" stroke="#444" stroke-width="1" />
<line x1="267.1" y1="319.65" x2="268.7" y2="319.65" stroke="#444" stroke-width="1" />
<line x1="267.1" y1="217.65" x2="268.7" y2="217.65" stroke="#444" stroke-width="1" />
<line x1="305.94" y1="342.6" x2="305.94" y2="345.6" stroke="#444" stroke-width="1" />
<text x="305.94" y="354.5" font-size="9.5" text-anchor="middle" fill="#222" stroke="#222" stroke-width="0.18" >0.1</text>
<line x1="427.19" y1="342.6" x2="427.19" y2="345.6" stroke="#444" stroke-width="1" />
<text x="427.19" y="354.5" font-size="9.5" text-anchor="middle" fill="#222" stroke="#222" stroke-width="0.18" >1</text>
<line x1="548.44" y1="342.6" x2="548.44" y2="345.6" stroke="#444" stroke-width="1" />
<text x="548.44" y="354.5" font-size="9.5" text-anchor="middle" fill="#222" stroke="#222" stroke-width="0.18" >10</text>
<line x1="269.44" y1="342.6" x2="269.44" y2="344.2" stroke="#444" stroke-width="1" />
<line x1="279.04" y1="342.6" x2="279.04" y2="344.2" stroke="#444" stroke-width="1" />
<line x1="287.16" y1="342.6" x2="287.16" y2="344.2" stroke="#444" stroke-width="1" />
<line x1="294.19" y1="342.6" x2="294.19" y2="344.2" stroke="#444" stroke-width="1" />
<line x1="300.39" y1="342.6" x2="300.39" y2="344.2" stroke="#444" stroke-width="1" />
<line x1="342.44" y1="342.6" x2="342.44" y2="344.2" stroke="#444" stroke-width="1" />
<line x1="363.79" y1="342.6" x2="363.79" y2="344.2" stroke="#444" stroke-width="1" />
<line x1="378.94" y1="342.6" x2="378.94" y2="344.2" stroke="#444" stroke-width="1" />
<line x1="390.69" y1="342.6" x2="390.69" y2="344.2" stroke="#444" stroke-width="1" />
<line x1="400.29" y1="342.6" x2="400.29" y2="344.2" stroke="#444" stroke-width="1" />
<line x1="408.41" y1="342.6" x2="408.41" y2="344.2" stroke="#444" stroke-width="1" />
<line x1="415.44" y1="342.6" x2="415.44" y2="344.2" stroke="#444" stroke-width="1" />
<line x1="421.64" y1="342.6" x2="421.64" y2="344.2" stroke="#444" stroke-width="1" />
<line x1="463.69" y1="342.6" x2="463.69" y2="344.2" stroke="#444" stroke-width="1" />
<line x1="485.04" y1="342.6" x2="485.04" y2="344.2" stroke="#444" stroke-width="1" />
<line x1="500.19" y1="342.6" x2="500.19" y2="344.2" stroke="#444" stroke-width="1" />
<line x1="511.94" y1="342.6" x2="511.94" y2="344.2" stroke="#444" stroke-width="1" />
<line x1="521.54" y1="342.6" x2="521.54" y2="344.2" stroke="#444" stroke-width="1" />
<line x1="529.65" y1="342.6" x2="529.65" y2="344.2" stroke="#444" stroke-width="1" />
<line x1="536.69" y1="342.6" x2="536.69" y2="344.2" stroke="#444" stroke-width="1" />
<line x1="542.89" y1="342.6" x2="542.89" y2="344.2" stroke="#444" stroke-width="1" />
<line x1="584.93" y1="342.6" x2="584.93" y2="344.2" stroke="#444" stroke-width="1" />
<line x1="606.29" y1="342.6" x2="606.29" y2="344.2" stroke="#444" stroke-width="1" />
<line x1="621.43" y1="342.6" x2="621.43" y2="344.2" stroke="#444" stroke-width="1" />
<line x1="633.18" y1="342.6" x2="633.18" y2="344.2" stroke="#444" stroke-width="1" />
<line x1="642.78" y1="342.6" x2="642.78" y2="344.2" stroke="#444" stroke-width="1" />
<line x1="650.9" y1="342.6" x2="650.9" y2="344.2" stroke="#444" stroke-width="1" />
<text x="249" y="276.6" font-size="9.5" text-anchor="middle" fill="#222" stroke="#222" stroke-width="0.18" transform="rotate(-90 249 276.6)" >N/P</text>
<text x="460.3" y="365" font-size="9.5" text-anchor="middle" fill="#222" stroke="#222" stroke-width="0.18" >Rate (C)</text>
<rect x="293.3" y="214.8" width="213.4" height="62.2" rx="7" ry="7" fill="none" stroke="#111" stroke-width="1.4" stroke-dasharray="3.4 2.1"/>
<rect x="505.3" y="250.5" width="142.5" height="88.7" rx="6" ry="6" fill="none" stroke="#111" stroke-width="1.4" stroke-dasharray="3.4 2.1"/>
<line x1="305.5" y1="241.5" x2="305.5" y2="235.5" stroke="#111" stroke-width="0.8" />
<path d="M305.5,233.6 L306.67,236.2 L304.33,236.2 Z" fill="#111"/>
<text x="305.5" y="249.2" font-size="8.7" text-anchor="middle" fill="#222" stroke="#222" stroke-width="0.18" >13</text>
<line x1="342" y1="241.5" x2="342" y2="235.5" stroke="#111" stroke-width="0.8" />
<path d="M342,233.6 L343.17,236.2 L340.83,236.2 Z" fill="#111"/>
<text x="342" y="249.2" font-size="8.7" text-anchor="middle" fill="#222" stroke="#222" stroke-width="0.18" >3</text>
<line x1="368.2" y1="241.5" x2="368.2" y2="235.5" stroke="#111" stroke-width="0.8" />
<path d="M368.2,233.6 L369.37,236.2 L367.03,236.2 Z" fill="#111"/>
<text x="368.2" y="249.2" font-size="8.7" text-anchor="middle" fill="#222" stroke="#222" stroke-width="0.18" >35</text>
<line x1="390.2" y1="241.5" x2="390.2" y2="235.5" stroke="#111" stroke-width="0.8" />
<path d="M390.2,233.6 L391.37,236.2 L389.03,236.2 Z" fill="#111"/>
<text x="390.2" y="249.2" font-size="8.7" text-anchor="middle" fill="#222" stroke="#222" stroke-width="0.18" >5,6,18</text>
<line x1="463.3" y1="241.5" x2="463.3" y2="235.5" stroke="#111" stroke-width="0.8" />
<path d="M463.3,233.6 L464.47,236.2 L462.13,236.2 Z" fill="#111"/>
<text x="463.3" y="249.2" font-size="8.7" text-anchor="middle" fill="#222" stroke="#222" stroke-width="0.18" >38</text>
<circle cx="305.5" cy="230.7" r="2.8" fill="#1414f0"/>
<circle cx="304.72" cy="229.86" r="0.84" fill="#fff" fill-opacity="0.85"/>
<circle cx="342" cy="230.7" r="2.8" fill="#1414f0"/>
<circle cx="341.22" cy="229.86" r="0.84" fill="#fff" fill-opacity="0.85"/>
<circle cx="368.2" cy="230.7" r="2.8" fill="#1414f0"/>
<circle cx="367.42" cy="229.86" r="0.84" fill="#fff" fill-opacity="0.85"/>
<circle cx="390.2" cy="230.7" r="2.8" fill="#1414f0"/>
<circle cx="389.42" cy="229.86" r="0.84" fill="#fff" fill-opacity="0.85"/>
<circle cx="426.8" cy="230.7" r="2.8" fill="#1414f0"/>
<circle cx="426.02" cy="229.86" r="0.84" fill="#fff" fill-opacity="0.85"/>
<circle cx="463.3" cy="230.7" r="2.8" fill="#1414f0"/>
<circle cx="462.52" cy="229.86" r="0.84" fill="#fff" fill-opacity="0.85"/>
<circle cx="500.2" cy="230.7" r="2.8" fill="#1414f0"/>
<circle cx="499.42" cy="229.86" r="0.84" fill="#fff" fill-opacity="0.85"/>
<text x="438" y="223.8" font-size="8.7" text-anchor="start" fill="#222" stroke="#222" stroke-width="0.18" >19,33,34,36</text>
<line x1="437" y1="224.8" x2="431.73" y2="228.21" stroke="#111" stroke-width="0.8" />
<path d="M430.2,229.2 L431.75,226.81 L433.02,228.77 Z" fill="#111"/>
<circle cx="426.8" cy="238.3" r="2.7" fill="#4a4a4a"/>
<circle cx="426.04" cy="237.49" r="0.81" fill="#fff" fill-opacity="0.85"/>
<text x="438" y="249.2" font-size="8.7" text-anchor="start" fill="#222" stroke="#222" stroke-width="0.18" >13</text>
<line x1="436.5" y1="244.8" x2="431.76" y2="241.28" stroke="#111" stroke-width="0.8" />
<path d="M430.3,240.2 L433.09,240.81 L431.69,242.69 Z" fill="#111"/>
<text x="490.3" y="248" font-size="8.7" text-anchor="middle" fill="#222" stroke="#222" stroke-width="0.18" >22</text>
<line x1="492.5" y1="238.5" x2="496.89" y2="234.26" stroke="#111" stroke-width="0.8" />
<path d="M498.2,233 L497.14,235.65 L495.52,233.96 Z" fill="#111"/>
<circle cx="578.3" cy="255.8" r="2.7" fill="#4a4a4a"/>
<circle cx="577.54" cy="254.99" r="0.81" fill="#fff" fill-opacity="0.85"/>
<line x1="578.3" y1="265" x2="578.3" y2="261" stroke="#2a2a2a" stroke-width="1" />
<path d="M578.3,258.8 L579.47,261.4 L577.13,261.4 Z" fill="#111"/>
<text x="578.3" y="272.2" font-size="8.7" text-anchor="middle" fill="#222" stroke="#222" stroke-width="0.18" >37</text>
<circle cx="512.2" cy="281.2" r="2.7" fill="#4a4a4a"/>
<circle cx="511.44" cy="280.39" r="0.81" fill="#fff" fill-opacity="0.85"/>
<line x1="512.2" y1="292" x2="512.2" y2="286.2" stroke="#2a2a2a" stroke-width="1" />
<path d="M512.2,284.2 L513.37,286.8 L511.03,286.8 Z" fill="#111"/>
<text x="512.2" y="301.3" font-size="8.7" text-anchor="middle" fill="#222" stroke="#222" stroke-width="0.18" >33</text>
<circle cx="606.8" cy="332" r="2.7" fill="#4a4a4a"/>
<circle cx="606.04" cy="331.19" r="0.81" fill="#fff" fill-opacity="0.85"/>
<line x1="606.8" y1="318.5" x2="606.8" y2="327" stroke="#2a2a2a" stroke-width="1" />
<path d="M606.8,329.2 L605.63,326.6 L607.97,326.6 Z" fill="#111"/>
<text x="606.8" y="315.9" font-size="8.7" text-anchor="middle" fill="#222" stroke="#222" stroke-width="0.18" >32</text>
<circle cx="633.4" cy="332" r="2.7" fill="#4a4a4a"/>
<circle cx="632.64" cy="331.19" r="0.81" fill="#fff" fill-opacity="0.85"/>
<line x1="633.4" y1="318.5" x2="633.4" y2="327" stroke="#2a2a2a" stroke-width="1" />
<path d="M633.4,329.2 L632.23,326.6 L634.57,326.6 Z" fill="#111"/>
<text x="633.4" y="315.9" font-size="8.7" text-anchor="middle" fill="#222" stroke="#222" stroke-width="0.18" >38</text>
<polygon points="585,225.7 586.18,228.87 589.57,229.02 586.92,231.12 587.82,234.38 585,232.52 582.18,234.38 583.08,231.12 580.43,229.02 583.82,228.87" fill="#e8141c"/>
<text x="583.2" y="223" font-size="8.5" text-anchor="middle" fill="#e8141c" font-weight="bold" >Our work</text>
<text x="532.4" y="245.8" font-size="8.7" text-anchor="start" fill="#e8141c" stroke="#e8141c" stroke-width="0.18" >High specific energy &amp; power</text>
<text x="410.57" y="263.2" font-size="8.7" text-anchor="middle" fill="#222" stroke="#222" stroke-width="0.18" >High specific energy</text>
<text x="410.57" y="273.9" font-size="8.7" text-anchor="middle" fill="#222" stroke="#222" stroke-width="0.18" >Low specific power</text>
<text x="509.7" y="322.6" font-size="8.7" text-anchor="start" fill="#222" stroke="#222" stroke-width="0.18" >Low specific energy</text>
<text x="509.7" y="333.2" font-size="8.7" text-anchor="start" fill="#222" stroke="#222" stroke-width="0.18" >High specific power</text>
<circle cx="293.5" cy="319.2" r="2.8" fill="#1414f0"/>
<circle cx="292.72" cy="318.36" r="0.84" fill="#fff" fill-opacity="0.85"/>
<text x="305.7" y="322.6" font-size="8.7" text-anchor="start" fill="#222" stroke="#222" stroke-width="0.18" >Initially anode-free Na battery</text>
<circle cx="293.5" cy="330.2" r="2.7" fill="#4a4a4a"/>
<circle cx="292.74" cy="329.39" r="0.81" fill="#fff" fill-opacity="0.85"/>
<text x="305.7" y="333.3" font-size="8.7" text-anchor="start" fill="#222" stroke="#222" stroke-width="0.18" >Pre-loaded Na metal battery</text>
<text x="1" y="379.6" font-size="16" text-anchor="start" fill="#111" font-weight="bold" >f</text>
<rect x="37.3" y="382.4" width="165" height="132.9" fill="url(#gblue)"/>
<rect x="46" y="413.07" width="16.6" height="102.23" fill="url(#gbar)"/>
<text x="54.3" y="409.37" font-size="9.2" text-anchor="middle" fill="#222" stroke="#222" stroke-width="0.18" >100</text>
<rect x="78.7" y="426.36" width="16.6" height="88.94" fill="url(#gbar)"/>
<text x="87" y="422.66" font-size="9.2" text-anchor="middle" fill="#222" stroke="#222" stroke-width="0.18" >87.0</text>
<rect x="111.6" y="436.99" width="16.6" height="78.31" fill="url(#gbar)"/>
<text x="119.9" y="433.29" font-size="9.2" text-anchor="middle" fill="#222" stroke="#222" stroke-width="0.18" >76.6</text>
<rect x="144.4" y="451.51" width="16.6" height="63.79" fill="url(#gbar)"/>
<text x="152.7" y="447.81" font-size="9.2" text-anchor="middle" fill="#222" stroke="#222" stroke-width="0.18" >62.4</text>
<rect x="177.1" y="464.18" width="16.6" height="51.12" fill="url(#gbar)"/>
<text x="185.4" y="460.48" font-size="9.2" text-anchor="middle" fill="#222" stroke="#222" stroke-width="0.18" >50.0</text>
<rect x="37.3" y="382.4" width="165" height="132.9" fill="none" stroke="#2a2a2a" stroke-width="1"/>
<line x1="54.3" y1="515.3" x2="54.3" y2="518.3" stroke="#2a2a2a" stroke-width="1" />
<text x="54.3" y="526.3" font-size="9.5" text-anchor="middle" fill="#222" stroke="#222" stroke-width="0.18" >0.2</text>
<line x1="87" y1="515.3" x2="87" y2="518.3" stroke="#2a2a2a" stroke-width="1" />
<text x="87" y="526.3" font-size="9.5" text-anchor="middle" fill="#222" stroke="#222" stroke-width="0.18" >0.6</text>
<line x1="119.9" y1="515.3" x2="119.9" y2="518.3" stroke="#2a2a2a" stroke-width="1" />
<text x="119.9" y="526.3" font-size="9.5" text-anchor="middle" fill="#222" stroke="#222" stroke-width="0.18" >1.0</text>
<line x1="152.7" y1="515.3" x2="152.7" y2="518.3" stroke="#2a2a2a" stroke-width="1" />
<text x="152.7" y="526.3" font-size="9.5" text-anchor="middle" fill="#222" stroke="#222" stroke-width="0.18" >1.5</text>
<line x1="185.4" y1="515.3" x2="185.4" y2="518.3" stroke="#2a2a2a" stroke-width="1" />
<text x="185.4" y="526.3" font-size="9.5" text-anchor="middle" fill="#222" stroke="#222" stroke-width="0.18" >2.0</text>
<line x1="34.3" y1="515.3" x2="37.3" y2="515.3" stroke="#2a2a2a" stroke-width="1" />
<text x="32.7" y="518.5" font-size="9.5" text-anchor="end" fill="#222" stroke="#222" stroke-width="0.18" >0</text>
<line x1="34.3" y1="494.85" x2="37.3" y2="494.85" stroke="#2a2a2a" stroke-width="1" />
<text x="32.7" y="498.05" font-size="9.5" text-anchor="end" fill="#222" stroke="#222" stroke-width="0.18" >20</text>
<line x1="34.3" y1="474.41" x2="37.3" y2="474.41" stroke="#2a2a2a" stroke-width="1" />
<text x="32.7" y="477.61" font-size="9.5" text-anchor="end" fill="#222" stroke="#222" stroke-width="0.18" >40</text>
<line x1="34.3" y1="453.96" x2="37.3" y2="453.96" stroke="#2a2a2a" stroke-width="1" />
<text x="32.7" y="457.16" font-size="9.5" text-anchor="end" fill="#222" stroke="#222" stroke-width="0.18" >60</text>
<line x1="34.3" y1="433.52" x2="37.3" y2="433.52" stroke="#2a2a2a" stroke-width="1" />
<text x="32.7" y="436.72" font-size="9.5" text-anchor="end" fill="#222" stroke="#222" stroke-width="0.18" >80</text>
<line x1="34.3" y1="413.07" x2="37.3" y2="413.07" stroke="#2a2a2a" stroke-width="1" />
<text x="32.7" y="416.27" font-size="9.5" text-anchor="end" fill="#222" stroke="#222" stroke-width="0.18" >100</text>
<line x1="34.3" y1="392.62" x2="37.3" y2="392.62" stroke="#2a2a2a" stroke-width="1" />
<text x="32.7" y="395.82" font-size="9.5" text-anchor="end" fill="#222" stroke="#222" stroke-width="0.18" >120</text>
<line x1="35.7" y1="505.08" x2="37.3" y2="505.08" stroke="#2a2a2a" stroke-width="1" />
<line x1="35.7" y1="484.63" x2="37.3" y2="484.63" stroke="#2a2a2a" stroke-width="1" />
<line x1="35.7" y1="464.18" x2="37.3" y2="464.18" stroke="#2a2a2a" stroke-width="1" />
<line x1="35.7" y1="443.74" x2="37.3" y2="443.74" stroke="#2a2a2a" stroke-width="1" />
<line x1="35.7" y1="423.29" x2="37.3" y2="423.29" stroke="#2a2a2a" stroke-width="1" />
<line x1="35.7" y1="402.85" x2="37.3" y2="402.85" stroke="#2a2a2a" stroke-width="1" />
<line x1="35.7" y1="382.4" x2="37.3" y2="382.4" stroke="#2a2a2a" stroke-width="1" />
<text x="13.2" y="448.8" font-size="10" text-anchor="middle" fill="#222" stroke="#222" stroke-width="0.18" transform="rotate(-90 13.2 448.8)" >Capacity retention (%)</text>
<text x="120" y="538.5" font-size="10" text-anchor="middle" fill="#222" stroke="#222" stroke-width="0.18" >Rate (C)</text>
<text x="42.8" y="392.5" font-size="8.7" text-anchor="start" fill="#222" stroke="#222" stroke-width="0.18" >BiF<tspan font-size="5.39" dy="1.91">3</tspan><tspan dy="-1.91">@Al||NFPP</tspan></text>
<text x="198.4" y="394.7" font-size="9.5" text-anchor="end" fill="#222" stroke="#222" stroke-width="0.18" >−30 °C</text>
<text x="236.6" y="377.3" font-size="16" text-anchor="start" fill="#111" font-weight="bold" >g</text>
<rect x="268.5" y="382.4" width="382.8" height="132.9" fill="url(#gblue)"/>
<rect x="268.5" y="382.4" width="382.8" height="132.9" fill="none" stroke="#2a2a2a" stroke-width="1"/>
<line x1="268.5" y1="515.3" x2="268.5" y2="518.3" stroke="#2a2a2a" stroke-width="1" />
<text x="268.5" y="527.6" font-size="9.5" text-anchor="middle" fill="#222" stroke="#222" stroke-width="0.18" >0</text>
<line x1="364.2" y1="515.3" x2="364.2" y2="518.3" stroke="#2a2a2a" stroke-width="1" />
<text x="364.2" y="527.6" font-size="9.5" text-anchor="middle" fill="#222" stroke="#222" stroke-width="0.18" >400</text>
<line x1="459.9" y1="515.3" x2="459.9" y2="518.3" stroke="#2a2a2a" stroke-width="1" />
<text x="459.9" y="527.6" font-size="9.5" text-anchor="middle" fill="#222" stroke="#222" stroke-width="0.18" >800</text>
<line x1="555.6" y1="515.3" x2="555.6" y2="518.3" stroke="#2a2a2a" stroke-width="1" />
<text x="555.6" y="527.6" font-size="9.5" text-anchor="middle" fill="#222" stroke="#222" stroke-width="0.18" >1200</text>
<line x1="651.3" y1="515.3" x2="651.3" y2="518.3" stroke="#2a2a2a" stroke-width="1" />
<text x="651.3" y="527.6" font-size="9.5" text-anchor="middle" fill="#222" stroke="#222" stroke-width="0.18" >1600</text>
<line x1="316.35" y1="515.3" x2="316.35" y2="516.9" stroke="#2a2a2a" stroke-width="1" />
<line x1="412.05" y1="515.3" x2="412.05" y2="516.9" stroke="#2a2a2a" stroke-width="1" />
<line x1="507.75" y1="515.3" x2="507.75" y2="516.9" stroke="#2a2a2a" stroke-width="1" />
<line x1="603.45" y1="515.3" x2="603.45" y2="516.9" stroke="#2a2a2a" stroke-width="1" />
<line x1="265.5" y1="515.3" x2="268.5" y2="515.3" stroke="#2a2a2a" stroke-width="1" />
<text x="263.9" y="518.5" font-size="9.5" text-anchor="end" fill="#222" stroke="#222" stroke-width="0.18" >0</text>
<line x1="265.5" y1="484.63" x2="268.5" y2="484.63" stroke="#2a2a2a" stroke-width="1" />
<text x="263.9" y="487.83" font-size="9.5" text-anchor="end" fill="#222" stroke="#222" stroke-width="0.18" >30</text>
<line x1="265.5" y1="453.96" x2="268.5" y2="453.96" stroke="#2a2a2a" stroke-width="1" />
<text x="263.9" y="457.16" font-size="9.5" text-anchor="end" fill="#222" stroke="#222" stroke-width="0.18" >60</text>
<line x1="265.5" y1="423.29" x2="268.5" y2="423.29" stroke="#2a2a2a" stroke-width="1" />
<text x="263.9" y="426.49" font-size="9.5" text-anchor="end" fill="#222" stroke="#222" stroke-width="0.18" >90</text>
<line x1="265.5" y1="392.62" x2="268.5" y2="392.62" stroke="#2a2a2a" stroke-width="1" />
<text x="263.9" y="395.82" font-size="9.5" text-anchor="end" fill="#222" stroke="#222" stroke-width="0.18" >120</text>
<line x1="266.9" y1="499.97" x2="268.5" y2="499.97" stroke="#2a2a2a" stroke-width="1" />
<line x1="266.9" y1="469.3" x2="268.5" y2="469.3" stroke="#2a2a2a" stroke-width="1" />
<line x1="266.9" y1="438.63" x2="268.5" y2="438.63" stroke="#2a2a2a" stroke-width="1" />
<line x1="266.9" y1="407.96" x2="268.5" y2="407.96" stroke="#2a2a2a" stroke-width="1" />
<line x1="651.3" y1="515.3" x2="654.3" y2="515.3" stroke="#2a2a2a" stroke-width="1" />
<text x="655.5" y="518.5" font-size="9.5" text-anchor="start" fill="#222" stroke="#222" stroke-width="0.18" >0</text>
<line x1="651.3" y1="491.25" x2="654.3" y2="491.25" stroke="#2a2a2a" stroke-width="1" />
<text x="655.5" y="494.45" font-size="9.5" text-anchor="start" fill="#222" stroke="#222" stroke-width="0.18" >20</text>
<line x1="651.3" y1="467.19" x2="654.3" y2="467.19" stroke="#2a2a2a" stroke-width="1" />
<text x="655.5" y="470.39" font-size="9.5" text-anchor="start" fill="#222" stroke="#222" stroke-width="0.18" >40</text>
<line x1="651.3" y1="443.14" x2="654.3" y2="443.14" stroke="#2a2a2a" stroke-width="1" />
<text x="655.5" y="446.34" font-size="9.5" text-anchor="start" fill="#222" stroke="#222" stroke-width="0.18" >60</text>
<line x1="651.3" y1="419.08" x2="654.3" y2="419.08" stroke="#2a2a2a" stroke-width="1" />
<text x="655.5" y="422.28" font-size="9.5" text-anchor="start" fill="#222" stroke="#222" stroke-width="0.18" >80</text>
<line x1="651.3" y1="395.03" x2="654.3" y2="395.03" stroke="#2a2a2a" stroke-width="1" />
<text x="655.5" y="398.23" font-size="9.5" text-anchor="start" fill="#222" stroke="#222" stroke-width="0.18" >100</text>
<line x1="651.3" y1="503.27" x2="652.9" y2="503.27" stroke="#2a2a2a" stroke-width="1" />
<line x1="651.3" y1="479.22" x2="652.9" y2="479.22" stroke="#2a2a2a" stroke-width="1" />
<line x1="651.3" y1="455.16" x2="652.9" y2="455.16" stroke="#2a2a2a" stroke-width="1" />
<line x1="651.3" y1="431.11" x2="652.9" y2="431.11" stroke="#2a2a2a" stroke-width="1" />
<line x1="651.3" y1="407.06" x2="652.9" y2="407.06" stroke="#2a2a2a" stroke-width="1" />
<text x="245" y="449" font-size="10" text-anchor="middle" fill="#222" stroke="#222" stroke-width="0.18" transform="rotate(-90 245 449)" >Specific capacity (mAh g<tspan font-size="6.20" dy="-3.80">−1</tspan><tspan dy="3.80">)</tspan></text>
<text x="682" y="449" font-size="10" text-anchor="middle" fill="#222" stroke="#222" stroke-width="0.18" transform="rotate(-90 682 449)" >Coulombic efficiency (%)</text>
<text x="459.5" y="538" font-size="10" text-anchor="middle" fill="#222" stroke="#222" stroke-width="0.18" >Cycle number</text>
<circle cx="268.98" cy="395.59" r="1.9" fill="none" stroke="#cc0a7f" stroke-width="1.15"/>
<circle cx="269.46" cy="395.12" r="1.9" fill="none" stroke="#cc0a7f" stroke-width="1.15"/>
<circle cx="269.94" cy="394.43" r="1.9" fill="none" stroke="#cc0a7f" stroke-width="1.15"/>
<circle cx="270.41" cy="394.5" r="1.9" fill="none" stroke="#cc0a7f" stroke-width="1.15"/>
<circle cx="270.89" cy="393.9" r="1.9" fill="none" stroke="#cc0a7f" stroke-width="1.15"/>
<circle cx="271.37" cy="395.35" r="1.9" fill="none" stroke="#cc0a7f" stroke-width="1.15"/>
<circle cx="271.85" cy="394.77" r="1.9" fill="none" stroke="#cc0a7f" stroke-width="1.15"/>
<circle cx="272.33" cy="394.05" r="1.9" fill="none" stroke="#cc0a7f" stroke-width="1.15"/>
<circle cx="272.81" cy="395.3" r="1.9" fill="none" stroke="#cc0a7f" stroke-width="1.15"/>
<circle cx="273.29" cy="394.88" r="1.9" fill="none" stroke="#cc0a7f" stroke-width="1.15"/>
<circle cx="273.76" cy="394.59" r="1.9" fill="none" stroke="#cc0a7f" stroke-width="1.15"/>
<circle cx="274.24" cy="394.43" r="1.9" fill="none" stroke="#cc0a7f" stroke-width="1.15"/>
<circle cx="274.72" cy="394.26" r="1.9" fill="none" stroke="#cc0a7f" stroke-width="1.15"/>
<circle cx="275.2" cy="393.63" r="1.9" fill="none" stroke="#cc0a7f" stroke-width="1.15"/>
<circle cx="275.68" cy="395.55" r="1.9" fill="none" stroke="#cc0a7f" stroke-width="1.15"/>
<circle cx="276.16" cy="393.8" r="1.9" fill="none" stroke="#cc0a7f" stroke-width="1.15"/>
<circle cx="276.63" cy="394.56" r="1.9" fill="none" stroke="#cc0a7f" stroke-width="1.15"/>
<circle cx="277.11" cy="394.37" r="1.9" fill="none" stroke="#cc0a7f" stroke-width="1.15"/>
<circle cx="277.59" cy="395.11" r="1.9" fill="none" stroke="#cc0a7f" stroke-width="1.15"/>
<circle cx="278.07" cy="394.68" r="1.9" fill="none" stroke="#cc0a7f" stroke-width="1.15"/>
<circle cx="278.55" cy="395.29" r="1.9" fill="none" stroke="#cc0a7f" stroke-width="1.15"/>
<circle cx="279.03" cy="395.58" r="1.9" fill="none" stroke="#cc0a7f" stroke-width="1.15"/>
<circle cx="279.51" cy="393.93" r="1.9" fill="none" stroke="#cc0a7f" stroke-width="1.15"/>
<circle cx="279.98" cy="394.3" r="1.9" fill="none" stroke="#cc0a7f" stroke-width="1.15"/>
<circle cx="280.46" cy="395.5" r="1.9" fill="none" stroke="#cc0a7f" stroke-width="1.15"/>
<circle cx="280.94" cy="395.49" r="1.9" fill="none" stroke="#cc0a7f" stroke-width="1.15"/>
<circle cx="281.42" cy="394.84" r="1.9" fill="none" stroke="#cc0a7f" stroke-width="1.15"/>
<circle cx="281.9" cy="393.96" r="1.9" fill="none" stroke="#cc0a7f" stroke-width="1.15"/>
<circle cx="282.38" cy="394.73" r="1.9" fill="none" stroke="#cc0a7f" stroke-width="1.15"/>
<circle cx="282.86" cy="394.54" r="1.9" fill="none" stroke="#cc0a7f" stroke-width="1.15"/>
<circle cx="283.33" cy="394.7" r="1.9" fill="none" stroke="#cc0a7f" stroke-width="1.15"/>
<circle cx="283.81" cy="393.79" r="1.9" fill="none" stroke="#cc0a7f" stroke-width="1.15"/>
<circle cx="284.29" cy="394.23" r="1.9" fill="none" stroke="#cc0a7f" stroke-width="1.15"/>
<circle cx="284.77" cy="395.22" r="1.9" fill="none" stroke="#cc0a7f" stroke-width="1.15"/>
<circle cx="285.25" cy="395.39" r="1.9" fill="none" stroke="#cc0a7f" stroke-width="1.15"/>
<circle cx="285.73" cy="394.45" r="1.9" fill="none" stroke="#cc0a7f" stroke-width="1.15"/>
<circle cx="286.2" cy="394.16" r="1.9" fill="none" stroke="#cc0a7f" stroke-width="1.15"/>
<circle cx="286.68" cy="395.4" r="1.9" fill="none" stroke="#cc0a7f" stroke-width="1.15"/>
<circle cx="287.16" cy="395.06" r="1.9" fill="none" stroke="#cc0a7f" stroke-width="1.15"/>
<circle cx="287.64" cy="394.24" r="1.9" fill="none" stroke="#cc0a7f" stroke-width="1.15"/>
<circle cx="288.12" cy="394.67" r="1.9" fill="none" stroke="#cc0a7f" stroke-width="1.15"/>
<circle cx="288.6" cy="395.11" r="1.9" fill="none" stroke="#cc0a7f" stroke-width="1.15"/>
<circle cx="289.08" cy="394.74" r="1.9" fill="none" stroke="#cc0a7f" stroke-width="1.15"/>
<circle cx="289.55" cy="394.83" r="1.9" fill="none" stroke="#cc0a7f" stroke-width="1.15"/>
<circle cx="290.03" cy="393.59" r="1.9" fill="none" stroke="#cc0a7f" stroke-width="1.15"/>
<circle cx="290.51" cy="394.29" r="1.9" fill="none" stroke="#cc0a7f" stroke-width="1.15"/>
<circle cx="290.99" cy="395.36" r="1.9" fill="none" stroke="#cc0a7f" stroke-width="1.15"/>
<circle cx="291.47" cy="394.97" r="1.9" fill="none" stroke="#cc0a7f" stroke-width="1.15"/>
<circle cx="291.95" cy="394.35" r="1.9" fill="none" stroke="#cc0a7f" stroke-width="1.15"/>
<circle cx="292.43" cy="395.71" r="1.9" fill="none" stroke="#cc0a7f" stroke-width="1.15"/>
<circle cx="292.9" cy="395.65" r="1.9" fill="none" stroke="#cc0a7f" stroke-width="1.15"/>
<circle cx="293.38" cy="394.16" r="1.9" fill="none" stroke="#cc0a7f" stroke-width="1.15"/>
<circle cx="293.86" cy="393.59" r="1.9" fill="none" stroke="#cc0a7f" stroke-width="1.15"/>
<circle cx="294.34" cy="394" r="1.9" fill="none" stroke="#cc0a7f" stroke-width="1.15"/>
<circle cx="294.82" cy="395.55" r="1.9" fill="none" stroke="#cc0a7f" stroke-width="1.15"/>
<circle cx="295.3" cy="394.7" r="1.9" fill="none" stroke="#cc0a7f" stroke-width="1.15"/>
<circle cx="295.77" cy="394.11" r="1.9" fill="none" stroke="#cc0a7f" stroke-width="1.15"/>
<circle cx="296.25" cy="395.44" r="1.9" fill="none" stroke="#cc0a7f" stroke-width="1.15"/>
<circle cx="296.73" cy="395.29" r="1.9" fill="none" stroke="#cc0a7f" stroke-width="1.15"/>
<circle cx="297.21" cy="394.85" r="1.9" fill="none" stroke="#cc0a7f" stroke-width="1.15"/>
<circle cx="297.69" cy="395.48" r="1.9" fill="none" stroke="#cc0a7f" stroke-width="1.15"/>
<circle cx="298.17" cy="395.55" r="1.9" fill="none" stroke="#cc0a7f" stroke-width="1.15"/>
<circle cx="298.65" cy="394.32" r="1.9" fill="none" stroke="#cc0a7f" stroke-width="1.15"/>
<circle cx="299.12" cy="395.01" r="1.9" fill="none" stroke="#cc0a7f" stroke-width="1.15"/>
<circle cx="299.6" cy="394.06" r="1.9" fill="none" stroke="#cc0a7f" stroke-width="1.15"/>
<circle cx="300.08" cy="394.55" r="1.9" fill="none" stroke="#cc0a7f" stroke-width="1.15"/>
<circle cx="300.56" cy="393.78" r="1.9" fill="none" stroke="#cc0a7f" stroke-width="1.15"/>
<circle cx="301.04" cy="395.13" r="1.9" fill="none" stroke="#cc0a7f" stroke-width="1.15"/>
<circle cx="301.52" cy="395.01" r="1.9" fill="none" stroke="#cc0a7f" stroke-width="1.15"/>
<circle cx="302" cy="395.21" r="1.9" fill="none" stroke="#cc0a7f" stroke-width="1.15"/>
<circle cx="302.47" cy="395.64" r="1.9" fill="none" stroke="#cc0a7f" stroke-width="1.15"/>
<circle cx="302.95" cy="395.12" r="1.9" fill="none" stroke="#cc0a7f" stroke-width="1.15"/>
<circle cx="303.43" cy="394.98" r="1.9" fill="none" stroke="#cc0a7f" stroke-width="1.15"/>
<circle cx="303.91" cy="394.68" r="1.9" fill="none" stroke="#cc0a7f" stroke-width="1.15"/>
<circle cx="304.39" cy="395.03" r="1.9" fill="none" stroke="#cc0a7f" stroke-width="1.15"/>
<circle cx="304.87" cy="393.62" r="1.9" fill="none" stroke="#cc0a7f" stroke-width="1.15"/>
<circle cx="305.34" cy="393.86" r="1.9" fill="none" stroke="#cc0a7f" stroke-width="1.15"/>
<circle cx="305.82" cy="395" r="1.9" fill="none" stroke="#cc0a7f" stroke-width="1.15"/>
<circle cx="306.3" cy="395.31" r="1.9" fill="none" stroke="#cc0a7f" stroke-width="1.15"/>
<circle cx="306.78" cy="394.68" r="1.9" fill="none" stroke="#cc0a7f" stroke-width="1.15"/>
<circle cx="307.26" cy="395.49" r="1.9" fill="none" stroke="#cc0a7f" stroke-width="1.15"/>
<circle cx="307.74" cy="395.33" r="1.9" fill="none" stroke="#cc0a7f" stroke-width="1.15"/>
<circle cx="308.22" cy="394.21" r="1.9" fill="none" stroke="#cc0a7f" stroke-width="1.15"/>
<circle cx="308.69" cy="395.47" r="1.9" fill="none" stroke="#cc0a7f" stroke-width="1.15"/>
<circle cx="309.17" cy="393.64" r="1.9" fill="none" stroke="#cc0a7f" stroke-width="1.15"/>
<circle cx="309.65" cy="395.56" r="1.9" fill="none" stroke="#cc0a7f" stroke-width="1.15"/>
<circle cx="310.13" cy="393.59" r="1.9" fill="none" stroke="#cc0a7f" stroke-width="1.15"/>
<circle cx="310.61" cy="394.89" r="1.9" fill="none" stroke="#cc0a7f" stroke-width="1.15"/>
<circle cx="311.09" cy="394.55" r="1.9" fill="none" stroke="#cc0a7f" stroke-width="1.15"/>
<circle cx="311.56" cy="394.87" r="1.9" fill="none" stroke="#cc0a7f" stroke-width="1.15"/>
<circle cx="312.04" cy="394.51" r="1.9" fill="none" stroke="#cc0a7f" stroke-width="1.15"/>
<circle cx="312.52" cy="394.89" r="1.9" fill="none" stroke="#cc0a7f" stroke-width="1.15"/>
<circle cx="313" cy="395.52" r="1.9" fill="none" stroke="#cc0a7f" stroke-width="1.15"/>
<circle cx="313.48" cy="395.65" r="1.9" fill="none" stroke="#cc0a7f" stroke-width="1.15"/>
<circle cx="313.96" cy="393.97" r="1.9" fill="none" stroke="#cc0a7f" stroke-width="1.15"/>
<circle cx="314.44" cy="394.72" r="1.9" fill="none" stroke="#cc0a7f" stroke-width="1.15"/>
<circle cx="314.91" cy="394.09" r="1.9" fill="none" stroke="#cc0a7f" stroke-width="1.15"/>
<circle cx="315.39" cy="395.62" r="1.9" fill="none" stroke="#cc0a7f" stroke-width="1.15"/>
<circle cx="315.87" cy="394.67" r="1.9" fill="none" stroke="#cc0a7f" stroke-width="1.15"/>
<circle cx="316.35" cy="394.57" r="1.9" fill="none" stroke="#cc0a7f" stroke-width="1.15"/>
<circle cx="316.83" cy="394.94" r="1.9" fill="none" stroke="#cc0a7f" stroke-width="1.15"/>
<circle cx="317.31" cy="395.43" r="1.9" fill="none" stroke="#cc0a7f" stroke-width="1.15"/>
<circle cx="317.79" cy="394.29" r="1.9" fill="none" stroke="#cc0a7f" stroke-width="1.15"/>
<circle cx="318.26" cy="394.26" r="1.9" fill="none" stroke="#cc0a7f" stroke-width="1.15"/>
<circle cx="318.74" cy="393.85" r="1.9" fill="none" stroke="#cc0a7f" stroke-width="1.15"/>
<circle cx="319.22" cy="395.57" r="1.9" fill="none" stroke="#cc0a7f" stroke-width="1.15"/>
<circle cx="319.7" cy="395.66" r="1.9" fill="none" stroke="#cc0a7f" stroke-width="1.15"/>
<circle cx="320.18" cy="394.38" r="1.9" fill="none" stroke="#cc0a7f" stroke-width="1.15"/>
<circle cx="320.66" cy="394.4" r="1.9" fill="none" stroke="#cc0a7f" stroke-width="1.15"/>
<circle cx="321.13" cy="395.37" r="1.9" fill="none" stroke="#cc0a7f" stroke-width="1.15"/>
<circle cx="321.61" cy="394.31" r="1.9" fill="none" stroke="#cc0a7f" stroke-width="1.15"/>
<circle cx="322.09" cy="393.87" r="1.9" fill="none" stroke="#cc0a7f" stroke-width="1.15"/>
<circle cx="322.57" cy="394.84" r="1.9" fill="none" stroke="#cc0a7f" stroke-width="1.15"/>
<circle cx="323.05" cy="395.53" r="1.9" fill="none" stroke="#cc0a7f" stroke-width="1.15"/>
<circle cx="323.53" cy="393.74" r="1.9" fill="none" stroke="#cc0a7f" stroke-width="1.15"/>
<circle cx="324.01" cy="395.72" r="1.9" fill="none" stroke="#cc0a7f" stroke-width="1.15"/>
<circle cx="324.48" cy="393.86" r="1.9" fill="none" stroke="#cc0a7f" stroke-width="1.15"/>
<circle cx="324.96" cy="395.45" r="1.9" fill="none" stroke="#cc0a7f" stroke-width="1.15"/>
<circle cx="325.44" cy="395.08" r="1.9" fill="none" stroke="#cc0a7f" stroke-width="1.15"/>
<circle cx="325.92" cy="394.21" r="1.9" fill="none" stroke="#cc0a7f" stroke-width="1.15"/>
<circle cx="326.4" cy="393.88" r="1.9" fill="none" stroke="#cc0a7f" stroke-width="1.15"/>
<circle cx="326.88" cy="395.35" r="1.9" fill="none" stroke="#cc0a7f" stroke-width="1.15"/>
<circle cx="327.36" cy="395.68" r="1.9" fill="none" stroke="#cc0a7f" stroke-width="1.15"/>
<circle cx="327.83" cy="395.71" r="1.9" fill="none" stroke="#cc0a7f" stroke-width="1.15"/>
<circle cx="328.31" cy="394.52" r="1.9" fill="none" stroke="#cc0a7f" stroke-width="1.15"/>
<circle cx="328.79" cy="394.5" r="1.9" fill="none" stroke="#cc0a7f" stroke-width="1.15"/>
<circle cx="329.27" cy="393.77" r="1.9" fill="none" stroke="#cc0a7f" stroke-width="1.15"/>
<circle cx="329.75" cy="394.67" r="1.9" fill="none" stroke="#cc0a7f" stroke-width="1.15"/>
<circle cx="330.23" cy="394.62" r="1.9" fill="none" stroke="#cc0a7f" stroke-width="1.15"/>
<circle cx="330.7" cy="393.96" r="1.9" fill="none" stroke="#cc0a7f" stroke-width="1.15"/>
<circle cx="331.18" cy="394.07" r="1.9" fill="none" stroke="#cc0a7f" stroke-width="1.15"/>
<circle cx="331.66" cy="394.84" r="1.9" fill="none" stroke="#cc0a7f" stroke-width="1.15"/>
<circle cx="332.14" cy="394.24" r="1.9" fill="none" stroke="#cc0a7f" stroke-width="1.15"/>
<circle cx="332.62" cy="394.87" r="1.9" fill="none" stroke="#cc0a7f" stroke-width="1.15"/>
<circle cx="333.1" cy="395.6" r="1.9" fill="none" stroke="#cc0a7f" stroke-width="1.15"/>
<circle cx="333.58" cy="394.28" r="1.9" fill="none" stroke="#cc0a7f" stroke-width="1.15"/>
<circle cx="334.05" cy="394.46" r="1.9" fill="none" stroke="#cc0a7f" stroke-width="1.15"/>
<circle cx="334.53" cy="393.6" r="1.9" fill="none" stroke="#cc0a7f" stroke-width="1.15"/>
<circle cx="335.01" cy="394.32" r="1.9" fill="none" stroke="#cc0a7f" stroke-width="1.15"/>
<circle cx="335.49" cy="395.41" r="1.9" fill="none" stroke="#cc0a7f" stroke-width="1.15"/>
<circle cx="335.97" cy="394.08" r="1.9" fill="none" stroke="#cc0a7f" stroke-width="1.15"/>
<circle cx="336.45" cy="394.56" r="1.9" fill="none" stroke="#cc0a7f" stroke-width="1.15"/>
<circle cx="336.93" cy="395.57" r="1.9" fill="none" stroke="#cc0a7f" stroke-width="1.15"/>
<circle cx="337.4" cy="394.73" r="1.9" fill="none" stroke="#cc0a7f" stroke-width="1.15"/>
<circle cx="337.88" cy="393.81" r="1.9" fill="none" stroke="#cc0a7f" stroke-width="1.15"/>
<circle cx="338.36" cy="394.39" r="1.9" fill="none" stroke="#cc0a7f" stroke-width="1.15"/>
<circle cx="338.84" cy="394.83" r="1.9" fill="none" stroke="#cc0a7f" stroke-width="1.15"/>
<circle cx="339.32" cy="395.73" r="1.9" fill="none" stroke="#cc0a7f" stroke-width="1.15"/>
<circle cx="339.8" cy="394.3" r="1.9" fill="none" stroke="#cc0a7f" stroke-width="1.15"/>
<circle cx="340.27" cy="393.61" r="1.9" fill="none" stroke="#cc0a7f" stroke-width="1.15"/>
<circle cx="340.75" cy="393.89" r="1.9" fill="none" stroke="#cc0a7f" stroke-width="1.15"/>
<circle cx="341.23" cy="395.28" r="1.9" fill="none" stroke="#cc0a7f" stroke-width="1.15"/>
<circle cx="341.71" cy="395.49" r="1.9" fill="none" stroke="#cc0a7f" stroke-width="1.15"/>
<circle cx="342.19" cy="394.73" r="1.9" fill="none" stroke="#cc0a7f" stroke-width="1.15"/>
<circle cx="342.67" cy="395.15" r="1.9" fill="none" stroke="#cc0a7f" stroke-width="1.15"/>
<circle cx="343.15" cy="394.52" r="1.9" fill="none" stroke="#cc0a7f" stroke-width="1.15"/>
<circle cx="343.62" cy="394.77" r="1.9" fill="none" stroke="#cc0a7f" stroke-width="1.15"/>
<circle cx="344.1" cy="394.14" r="1.9" fill="none" stroke="#cc0a7f" stroke-width="1.15"/>
<circle cx="344.58" cy="393.75" r="1.9" fill="none" stroke="#cc0a7f" stroke-width="1.15"/>
<circle cx="345.06" cy="394.96" r="1.9" fill="none" stroke="#cc0a7f" stroke-width="1.15"/>
<circle cx="345.54" cy="394.13" r="1.9" fill="none" stroke="#cc0a7f" stroke-width="1.15"/>
<circle cx="346.02" cy="394.25" r="1.9" fill="none" stroke="#cc0a7f" stroke-width="1.15"/>
<circle cx="346.5" cy="395.44" r="1.9" fill="none" stroke="#cc0a7f" stroke-width="1.15"/>
<circle cx="346.97" cy="394.11" r="1.9" fill="none" stroke="#cc0a7f" stroke-width="1.15"/>
<circle cx="347.45" cy="395.12" r="1.9" fill="none" stroke="#cc0a7f" stroke-width="1.15"/>
<circle cx="347.93" cy="394.54" r="1.9" fill="none" stroke="#cc0a7f" stroke-width="1.15"/>
<circle cx="348.41" cy="394.67" r="1.9" fill="none" stroke="#cc0a7f" stroke-width="1.15"/>
<circle cx="348.89" cy="394.3" r="1.9" fill="none" stroke="#cc0a7f" stroke-width="1.15"/>
<circle cx="349.37" cy="393.82" r="1.9" fill="none" stroke="#cc0a7f" stroke-width="1.15"/>
<circle cx="349.84" cy="393.77" r="1.9" fill="none" stroke="#cc0a7f" stroke-width="1.15"/>
<circle cx="350.32" cy="395.64" r="1.9" fill="none" stroke="#cc0a7f" stroke-width="1.15"/>
<circle cx="350.8" cy="395.68" r="1.9" fill="none" stroke="#cc0a7f" stroke-width="1.15"/>
<circle cx="351.28" cy="395.62" r="1.9" fill="none" stroke="#cc0a7f" stroke-width="1.15"/>
<circle cx="351.76" cy="393.84" r="1.9" fill="none" stroke="#cc0a7f" stroke-width="1.15"/>
<circle cx="352.24" cy="394.26" r="1.9" fill="none" stroke="#cc0a7f" stroke-width="1.15"/>
<circle cx="352.72" cy="394.41" r="1.9" fill="none" stroke="#cc0a7f" stroke-width="1.15"/>
<circle cx="353.19" cy="394.91" r="1.9" fill="none" stroke="#cc0a7f" stroke-width="1.15"/>
<circle cx="353.67" cy="395.07" r="1.9" fill="none" stroke="#cc0a7f" stroke-width="1.15"/>
<circle cx="354.15" cy="394.45" r="1.9" fill="none" stroke="#cc0a7f" stroke-width="1.15"/>
<circle cx="354.63" cy="393.68" r="1.9" fill="none" stroke="#cc0a7f" stroke-width="1.15"/>
<circle cx="355.11" cy="393.94" r="1.9" fill="none" stroke="#cc0a7f" stroke-width="1.15"/>
<circle cx="355.59" cy="394.43" r="1.9" fill="none" stroke="#cc0a7f" stroke-width="1.15"/>
<circle cx="356.07" cy="395.07" r="1.9" fill="none" stroke="#cc0a7f" stroke-width="1.15"/>
<circle cx="356.54" cy="393.7" r="1.9" fill="none" stroke="#cc0a7f" stroke-width="1.15"/>
<circle cx="357.02" cy="394.17" r="1.9" fill="none" stroke="#cc0a7f" stroke-width="1.15"/>
<circle cx="357.5" cy="394.73" r="1.9" fill="none" stroke="#cc0a7f" stroke-width="1.15"/>
<circle cx="357.98" cy="395.39" r="1.9" fill="none" stroke="#cc0a7f" stroke-width="1.15"/>
<circle cx="358.46" cy="393.66" r="1.9" fill="none" stroke="#cc0a7f" stroke-width="1.15"/>
<circle cx="358.94" cy="395.5" r="1.9" fill="none" stroke="#cc0a7f" stroke-width="1.15"/>
<circle cx="359.41" cy="393.69" r="1.9" fill="none" stroke="#cc0a7f" stroke-width="1.15"/>
<circle cx="359.89" cy="395.4" r="1.9" fill="none" stroke="#cc0a7f" stroke-width="1.15"/>
<circle cx="360.37" cy="394.01" r="1.9" fill="none" stroke="#cc0a7f" stroke-width="1.15"/>
<circle cx="360.85" cy="394.72" r="1.9" fill="none" stroke="#cc0a7f" stroke-width="1.15"/>
<circle cx="361.33" cy="394.07" r="1.9" fill="none" stroke="#cc0a7f" stroke-width="1.15"/>
<circle cx="361.81" cy="394.77" r="1.9" fill="none" stroke="#cc0a7f" stroke-width="1.15"/>
<circle cx="362.29" cy="395.16" r="1.9" fill="none" stroke="#cc0a7f" stroke-width="1.15"/>
<circle cx="362.76" cy="394.12" r="1.9" fill="none" stroke="#cc0a7f" stroke-width="1.15"/>
<circle cx="363.24" cy="395.03" r="1.9" fill="none" stroke="#cc0a7f" stroke-width="1.15"/>
<circle cx="363.72" cy="395.14" r="1.9" fill="none" stroke="#cc0a7f" stroke-width="1.15"/>
<circle cx="364.2" cy="394.4" r="1.9" fill="none" stroke="#cc0a7f" stroke-width="1.15"/>
<circle cx="364.68" cy="394.34" r="1.9" fill="none" stroke="#cc0a7f" stroke-width="1.15"/>
<circle cx="365.16" cy="394.01" r="1.9" fill="none" stroke="#cc0a7f" stroke-width="1.15"/>
<circle cx="365.64" cy="394.45" r="1.9" fill="none" stroke="#cc0a7f" stroke-width="1.15"/>
<circle cx="366.11" cy="393.87" r="1.9" fill="none" stroke="#cc0a7f" stroke-width="1.15"/>
<circle cx="366.59" cy="394.18" r="1.9" fill="none" stroke="#cc0a7f" stroke-width="1.15"/>
<circle cx="367.07" cy="395.72" r="1.9" fill="none" stroke="#cc0a7f" stroke-width="1.15"/>
<circle cx="367.55" cy="395.42" r="1.9" fill="none" stroke="#cc0a7f" stroke-width="1.15"/>
<circle cx="368.03" cy="393.95" r="1.9" fill="none" stroke="#cc0a7f" stroke-width="1.15"/>
<circle cx="368.51" cy="394.48" r="1.9" fill="none" stroke="#cc0a7f" stroke-width="1.15"/>
<circle cx="368.99" cy="393.64" r="1.9" fill="none" stroke="#cc0a7f" stroke-width="1.15"/>
<circle cx="369.46" cy="395.22" r="1.9" fill="none" stroke="#cc0a7f" stroke-width="1.15"/>
<circle cx="369.94" cy="394.91" r="1.9" fill="none" stroke="#cc0a7f" stroke-width="1.15"/>
<circle cx="370.42" cy="394.94" r="1.9" fill="none" stroke="#cc0a7f" stroke-width="1.15"/>
<circle cx="370.9" cy="394.08" r="1.9" fill="none" stroke="#cc0a7f" stroke-width="1.15"/>
<circle cx="371.38" cy="395.24" r="1.9" fill="none" stroke="#cc0a7f" stroke-width="1.15"/>
<circle cx="371.86" cy="394.77" r="1.9" fill="none" stroke="#cc0a7f" stroke-width="1.15"/>
<circle cx="372.33" cy="394.26" r="1.9" fill="none" stroke="#cc0a7f" stroke-width="1.15"/>
<circle cx="372.81" cy="395.05" r="1.9" fill="none" stroke="#cc0a7f" stroke-width="1.15"/>
<circle cx="373.29" cy="395.17" r="1.9" fill="none" stroke="#cc0a7f" stroke-width="1.15"/>
<circle cx="373.77" cy="395.41" r="1.9" fill="none" stroke="#cc0a7f" stroke-width="1.15"/>
<circle cx="374.25" cy="393.76" r="1.9" fill="none" stroke="#cc0a7f" stroke-width="1.15"/>
<circle cx="374.73" cy="394.1" r="1.9" fill="none" stroke="#cc0a7f" stroke-width="1.15"/>
<circle cx="375.21" cy="394.05" r="1.9" fill="none" stroke="#cc0a7f" stroke-width="1.15"/>
<circle cx="375.68" cy="395.13" r="1.9" fill="none" stroke="#cc0a7f" stroke-width="1.15"/>
<circle cx="376.16" cy="395.45" r="1.9" fill="none" stroke="#cc0a7f" stroke-width="1.15"/>
<circle cx="376.64" cy="393.82" r="1.9" fill="none" stroke="#cc0a7f" stroke-width="1.15"/>
<circle cx="377.12" cy="393.6" r="1.9" fill="none" stroke="#cc0a7f" stroke-width="1.15"/>
<circle cx="377.6" cy="395.43" r="1.9" fill="none" stroke="#cc0a7f" stroke-width="1.15"/>
<circle cx="378.08" cy="393.64" r="1.9" fill="none" stroke="#cc0a7f" stroke-width="1.15"/>
<circle cx="378.55" cy="394.02" r="1.9" fill="none" stroke="#cc0a7f" stroke-width="1.15"/>
<circle cx="379.03" cy="394.56" r="1.9" fill="none" stroke="#cc0a7f" stroke-width="1.15"/>
<circle cx="379.51" cy="394.07" r="1.9" fill="none" stroke="#cc0a7f" stroke-width="1.15"/>
<circle cx="379.99" cy="394.67" r="1.9" fill="none" stroke="#cc0a7f" stroke-width="1.15"/>
<circle cx="380.47" cy="394.59" r="1.9" fill="none" stroke="#cc0a7f" stroke-width="1.15"/>
<circle cx="380.95" cy="394.58" r="1.9" fill="none" stroke="#cc0a7f" stroke-width="1.15"/>
<circle cx="381.43" cy="394.7" r="1.9" fill="none" stroke="#cc0a7f" stroke-width="1.15"/>
<circle cx="381.9" cy="394.92" r="1.9" fill="none" stroke="#cc0a7f" stroke-width="1.15"/>
<circle cx="382.38" cy="394.04" r="1.9" fill="none" stroke="#cc0a7f" stroke-width="1.15"/>
<circle cx="382.86" cy="394.19" r="1.9" fill="none" stroke="#cc0a7f" stroke-width="1.15"/>
<circle cx="383.34" cy="393.62" r="1.9" fill="none" stroke="#cc0a7f" stroke-width="1.15"/>
<circle cx="383.82" cy="395.08" r="1.9" fill="none" stroke="#cc0a7f" stroke-width="1.15"/>
<circle cx="384.3" cy="395.63" r="1.9" fill="none" stroke="#cc0a7f" stroke-width="1.15"/>
<circle cx="384.78" cy="394.89" r="1.9" fill="none" stroke="#cc0a7f" stroke-width="1.15"/>
<circle cx="385.25" cy="394.22" r="1.9" fill="none" stroke="#cc0a7f" stroke-width="1.15"/>
<circle cx="385.73" cy="393.75" r="1.9" fill="none" stroke="#cc0a7f" stroke-width="1.15"/>
<circle cx="386.21" cy="394.48" r="1.9" fill="none" stroke="#cc0a7f" stroke-width="1.15"/>
<circle cx="386.69" cy="395.73" r="1.9" fill="none" stroke="#cc0a7f" stroke-width="1.15"/>
<circle cx="387.17" cy="394.92" r="1.9" fill="none" stroke="#cc0a7f" stroke-width="1.15"/>
<circle cx="387.65" cy="394.58" r="1.9" fill="none" stroke="#cc0a7f" stroke-width="1.15"/>
<circle cx="388.12" cy="394.59" r="1.9" fill="none" stroke="#cc0a7f" stroke-width="1.15"/>
<circle cx="388.6" cy="394.98" r="1.9" fill="none" stroke="#cc0a7f" stroke-width="1.15"/>
<circle cx="389.08" cy="395.61" r="1.9" fill="none" stroke="#cc0a7f" stroke-width="1.15"/>
<circle cx="389.56" cy="394.89" r="1.9" fill="none" stroke="#cc0a7f" stroke-width="1.15"/>
<circle cx="390.04" cy="394.62" r="1.9" fill="none" stroke="#cc0a7f" stroke-width="1.15"/>
<circle cx="390.52" cy="395.19" r="1.9" fill="none" stroke="#cc0a7f" stroke-width="1.15"/>
<circle cx="391" cy="393.95" r="1.9" fill="none" stroke="#cc0a7f" stroke-width="1.15"/>
<circle cx="391.47" cy="395.06" r="1.9" fill="none" stroke="#cc0a7f" stroke-width="1.15"/>
<circle cx="391.95" cy="394.65" r="1.9" fill="none" stroke="#cc0a7f" stroke-width="1.15"/>
<circle cx="392.43" cy="395.31" r="1.9" fill="none" stroke="#cc0a7f" stroke-width="1.15"/>
<circle cx="392.91" cy="395.29" r="1.9" fill="none" stroke="#cc0a7f" stroke-width="1.15"/>
<circle cx="393.39" cy="395.55" r="1.9" fill="none" stroke="#cc0a7f" stroke-width="1.15"/>
<circle cx="393.87" cy="394.01" r="1.9" fill="none" stroke="#cc0a7f" stroke-width="1.15"/>
<circle cx="394.35" cy="395.12" r="1.9" fill="none" stroke="#cc0a7f" stroke-width="1.15"/>
<circle cx="394.82" cy="394.5" r="1.9" fill="none" stroke="#cc0a7f" stroke-width="1.15"/>
<circle cx="395.3" cy="394.97" r="1.9" fill="none" stroke="#cc0a7f" stroke-width="1.15"/>
<circle cx="395.78" cy="394.06" r="1.9" fill="none" stroke="#cc0a7f" stroke-width="1.15"/>
<circle cx="396.26" cy="393.89" r="1.9" fill="none" stroke="#cc0a7f" stroke-width="1.15"/>
<circle cx="396.74" cy="395.22" r="1.9" fill="none" stroke="#cc0a7f" stroke-width="1.15"/>
<circle cx="397.22" cy="393.75" r="1.9" fill="none" stroke="#cc0a7f" stroke-width="1.15"/>
<circle cx="397.69" cy="394.68" r="1.9" fill="none" stroke="#cc0a7f" stroke-width="1.15"/>
<circle cx="398.17" cy="393.87" r="1.9" fill="none" stroke="#cc0a7f" stroke-width="1.15"/>
<circle cx="398.65" cy="394.95" r="1.9" fill="none" stroke="#cc0a7f" stroke-width="1.15"/>
<circle cx="399.13" cy="394.75" r="1.9" fill="none" stroke="#cc0a7f" stroke-width="1.15"/>
<circle cx="399.61" cy="395.57" r="1.9" fill="none" stroke="#cc0a7f" stroke-width="1.15"/>
<circle cx="400.09" cy="395.07" r="1.9" fill="none" stroke="#cc0a7f" stroke-width="1.15"/>
<circle cx="400.57" cy="395.68" r="1.9" fill="none" stroke="#cc0a7f" stroke-width="1.15"/>
<circle cx="401.04" cy="395.14" r="1.9" fill="none" stroke="#cc0a7f" stroke-width="1.15"/>
<circle cx="401.52" cy="394.44" r="1.9" fill="none" stroke="#cc0a7f" stroke-width="1.15"/>
<circle cx="402" cy="395.55" r="1.9" fill="none" stroke="#cc0a7f" stroke-width="1.15"/>
<circle cx="402.48" cy="395.31" r="1.9" fill="none" stroke="#cc0a7f" stroke-width="1.15"/>
<circle cx="402.96" cy="393.87" r="1.9" fill="none" stroke="#cc0a7f" stroke-width="1.15"/>
<circle cx="403.44" cy="394.53" r="1.9" fill="none" stroke="#cc0a7f" stroke-width="1.15"/>
<circle cx="403.92" cy="394.48" r="1.9" fill="none" stroke="#cc0a7f" stroke-width="1.15"/>
<circle cx="404.39" cy="395.29" r="1.9" fill="none" stroke="#cc0a7f" stroke-width="1.15"/>
<circle cx="404.87" cy="393.75" r="1.9" fill="none" stroke="#cc0a7f" stroke-width="1.15"/>
<circle cx="405.35" cy="395.14" r="1.9" fill="none" stroke="#cc0a7f" stroke-width="1.15"/>
<circle cx="405.83" cy="395.54" r="1.9" fill="none" stroke="#cc0a7f" stroke-width="1.15"/>
<circle cx="406.31" cy="394.78" r="1.9" fill="none" stroke="#cc0a7f" stroke-width="1.15"/>
<circle cx="406.79" cy="394.47" r="1.9" fill="none" stroke="#cc0a7f" stroke-width="1.15"/>
<circle cx="407.26" cy="394.43" r="1.9" fill="none" stroke="#cc0a7f" stroke-width="1.15"/>
<circle cx="407.74" cy="395.47" r="1.9" fill="none" stroke="#cc0a7f" stroke-width="1.15"/>
<circle cx="408.22" cy="393.92" r="1.9" fill="none" stroke="#cc0a7f" stroke-width="1.15"/>
<circle cx="408.7" cy="395.02" r="1.9" fill="none" stroke="#cc0a7f" stroke-width="1.15"/>
<circle cx="409.18" cy="393.6" r="1.9" fill="none" stroke="#cc0a7f" stroke-width="1.15"/>
<circle cx="409.66" cy="394.93" r="1.9" fill="none" stroke="#cc0a7f" stroke-width="1.15"/>
<circle cx="410.14" cy="395.69" r="1.9" fill="none" stroke="#cc0a7f" stroke-width="1.15"/>
<circle cx="410.61" cy="395.67" r="1.9" fill="none" stroke="#cc0a7f" stroke-width="1.15"/>
<circle cx="411.09" cy="394.95" r="1.9" fill="none" stroke="#cc0a7f" stroke-width="1.15"/>
<circle cx="411.57" cy="394.22" r="1.9" fill="none" stroke="#cc0a7f" stroke-width="1.15"/>
<circle cx="412.05" cy="394.7" r="1.9" fill="none" stroke="#cc0a7f" stroke-width="1.15"/>
<circle cx="412.53" cy="393.92" r="1.9" fill="none" stroke="#cc0a7f" stroke-width="1.15"/>
<circle cx="413.01" cy="393.81" r="1.9" fill="none" stroke="#cc0a7f" stroke-width="1.15"/>
<circle cx="413.49" cy="393.88" r="1.9" fill="none" stroke="#cc0a7f" stroke-width="1.15"/>
<circle cx="413.96" cy="394.36" r="1.9" fill="none" stroke="#cc0a7f" stroke-width="1.15"/>
<circle cx="414.44" cy="393.75" r="1.9" fill="none" stroke="#cc0a7f" stroke-width="1.15"/>
<circle cx="414.92" cy="394.22" r="1.9" fill="none" stroke="#cc0a7f" stroke-width="1.15"/>
<circle cx="415.4" cy="395.56" r="1.9" fill="none" stroke="#cc0a7f" stroke-width="1.15"/>
<circle cx="415.88" cy="395.06" r="1.9" fill="none" stroke="#cc0a7f" stroke-width="1.15"/>
<circle cx="416.36" cy="395.25" r="1.9" fill="none" stroke="#cc0a7f" stroke-width="1.15"/>
<circle cx="416.83" cy="395.56" r="1.9" fill="none" stroke="#cc0a7f" stroke-width="1.15"/>
<circle cx="417.31" cy="393.76" r="1.9" fill="none" stroke="#cc0a7f" stroke-width="1.15"/>
<circle cx="417.79" cy="394.65" r="1.9" fill="none" stroke="#cc0a7f" stroke-width="1.15"/>
<circle cx="418.27" cy="395.35" r="1.9" fill="none" stroke="#cc0a7f" stroke-width="1.15"/>
<circle cx="418.75" cy="393.91" r="1.9" fill="none" stroke="#cc0a7f" stroke-width="1.15"/>
<circle cx="419.23" cy="394.95" r="1.9" fill="none" stroke="#cc0a7f" stroke-width="1.15"/>
<circle cx="419.71" cy="395.24" r="1.9" fill="none" stroke="#cc0a7f" stroke-width="1.15"/>
<circle cx="420.18" cy="394.19" r="1.9" fill="none" stroke="#cc0a7f" stroke-width="1.15"/>
<circle cx="420.66" cy="395.38" r="1.9" fill="none" stroke="#cc0a7f" stroke-width="1.15"/>
<circle cx="421.14" cy="393.71" r="1.9" fill="none" stroke="#cc0a7f" stroke-width="1.15"/>
<circle cx="421.62" cy="393.71" r="1.9" fill="none" stroke="#cc0a7f" stroke-width="1.15"/>
<circle cx="422.1" cy="395.62" r="1.9" fill="none" stroke="#cc0a7f" stroke-width="1.15"/>
<circle cx="422.58" cy="394.55" r="1.9" fill="none" stroke="#cc0a7f" stroke-width="1.15"/>
<circle cx="423.06" cy="395.69" r="1.9" fill="none" stroke="#cc0a7f" stroke-width="1.15"/>
<circle cx="423.53" cy="393.76" r="1.9" fill="none" stroke="#cc0a7f" stroke-width="1.15"/>
<circle cx="424.01" cy="395.19" r="1.9" fill="none" stroke="#cc0a7f" stroke-width="1.15"/>
<circle cx="424.49" cy="394.64" r="1.9" fill="none" stroke="#cc0a7f" stroke-width="1.15"/>
<circle cx="424.97" cy="394.15" r="1.9" fill="none" stroke="#cc0a7f" stroke-width="1.15"/>
<circle cx="425.45" cy="394.1" r="1.9" fill="none" stroke="#cc0a7f" stroke-width="1.15"/>
<circle cx="425.93" cy="394.7" r="1.9" fill="none" stroke="#cc0a7f" stroke-width="1.15"/>
<circle cx="426.4" cy="395.53" r="1.9" fill="none" stroke="#cc0a7f" stroke-width="1.15"/>
<circle cx="426.88" cy="395.06" r="1.9" fill="none" stroke="#cc0a7f" stroke-width="1.15"/>
<circle cx="427.36" cy="395.74" r="1.9" fill="none" stroke="#cc0a7f" stroke-width="1.15"/>
<circle cx="427.84" cy="395.32" r="1.9" fill="none" stroke="#cc0a7f" stroke-width="1.15"/>
<circle cx="428.32" cy="394.13" r="1.9" fill="none" stroke="#cc0a7f" stroke-width="1.15"/>
<circle cx="428.8" cy="394.47" r="1.9" fill="none" stroke="#cc0a7f" stroke-width="1.15"/>
<circle cx="429.28" cy="394.79" r="1.9" fill="none" stroke="#cc0a7f" stroke-width="1.15"/>
<circle cx="429.75" cy="394.34" r="1.9" fill="none" stroke="#cc0a7f" stroke-width="1.15"/>
<circle cx="430.23" cy="394.73" r="1.9" fill="none" stroke="#cc0a7f" stroke-width="1.15"/>
<circle cx="430.71" cy="394.95" r="1.9" fill="none" stroke="#cc0a7f" stroke-width="1.15"/>
<circle cx="431.19" cy="394.91" r="1.9" fill="none" stroke="#cc0a7f" stroke-width="1.15"/>
<circle cx="431.67" cy="394.94" r="1.9" fill="none" stroke="#cc0a7f" stroke-width="1.15"/>
<circle cx="432.15" cy="394.93" r="1.9" fill="none" stroke="#cc0a7f" stroke-width="1.15"/>
<circle cx="432.63" cy="394.79" r="1.9" fill="none" stroke="#cc0a7f" stroke-width="1.15"/>
<circle cx="433.1" cy="394" r="1.9" fill="none" stroke="#cc0a7f" stroke-width="1.15"/>
<circle cx="433.58" cy="393.77" r="1.9" fill="none" stroke="#cc0a7f" stroke-width="1.15"/>
<circle cx="434.06" cy="393.82" r="1.9" fill="none" stroke="#cc0a7f" stroke-width="1.15"/>
<circle cx="434.54" cy="394.74" r="1.9" fill="none" stroke="#cc0a7f" stroke-width="1.15"/>
<circle cx="435.02" cy="393.77" r="1.9" fill="none" stroke="#cc0a7f" stroke-width="1.15"/>
<circle cx="435.5" cy="394.02" r="1.9" fill="none" stroke="#cc0a7f" stroke-width="1.15"/>
<circle cx="435.97" cy="395.41" r="1.9" fill="none" stroke="#cc0a7f" stroke-width="1.15"/>
<circle cx="436.45" cy="393.95" r="1.9" fill="none" stroke="#cc0a7f" stroke-width="1.15"/>
<circle cx="436.93" cy="395.58" r="1.9" fill="none" stroke="#cc0a7f" stroke-width="1.15"/>
<circle cx="437.41" cy="394.41" r="1.9" fill="none" stroke="#cc0a7f" stroke-width="1.15"/>
<circle cx="437.89" cy="394.94" r="1.9" fill="none" stroke="#cc0a7f" stroke-width="1.15"/>
<circle cx="438.37" cy="394.13" r="1.9" fill="none" stroke="#cc0a7f" stroke-width="1.15"/>
<circle cx="438.85" cy="394.07" r="1.9" fill="none" stroke="#cc0a7f" stroke-width="1.15"/>
<circle cx="439.32" cy="393.68" r="1.9" fill="none" stroke="#cc0a7f" stroke-width="1.15"/>
<circle cx="439.8" cy="393.75" r="1.9" fill="none" stroke="#cc0a7f" stroke-width="1.15"/>
<circle cx="440.28" cy="394.92" r="1.9" fill="none" stroke="#cc0a7f" stroke-width="1.15"/>
<circle cx="440.76" cy="395.7" r="1.9" fill="none" stroke="#cc0a7f" stroke-width="1.15"/>
<circle cx="441.24" cy="395.59" r="1.9" fill="none" stroke="#cc0a7f" stroke-width="1.15"/>
<circle cx="441.72" cy="393.65" r="1.9" fill="none" stroke="#cc0a7f" stroke-width="1.15"/>
<circle cx="442.2" cy="395.05" r="1.9" fill="none" stroke="#cc0a7f" stroke-width="1.15"/>
<circle cx="442.67" cy="395.24" r="1.9" fill="none" stroke="#cc0a7f" stroke-width="1.15"/>
<circle cx="443.15" cy="395.5" r="1.9" fill="none" stroke="#cc0a7f" stroke-width="1.15"/>
<circle cx="443.63" cy="394.96" r="1.9" fill="none" stroke="#cc0a7f" stroke-width="1.15"/>
<circle cx="444.11" cy="395.03" r="1.9" fill="none" stroke="#cc0a7f" stroke-width="1.15"/>
<circle cx="444.59" cy="394.16" r="1.9" fill="none" stroke="#cc0a7f" stroke-width="1.15"/>
<circle cx="445.07" cy="395.36" r="1.9" fill="none" stroke="#cc0a7f" stroke-width="1.15"/>
<circle cx="445.54" cy="394.77" r="1.9" fill="none" stroke="#cc0a7f" stroke-width="1.15"/>
<circle cx="446.02" cy="393.82" r="1.9" fill="none" stroke="#cc0a7f" stroke-width="1.15"/>
<circle cx="446.5" cy="394.8" r="1.9" fill="none" stroke="#cc0a7f" stroke-width="1.15"/>
<circle cx="446.98" cy="395.43" r="1.9" fill="none" stroke="#cc0a7f" stroke-width="1.15"/>
<circle cx="447.46" cy="394.84" r="1.9" fill="none" stroke="#cc0a7f" stroke-width="1.15"/>
<circle cx="447.94" cy="395.22" r="1.9" fill="none" stroke="#cc0a7f" stroke-width="1.15"/>
<circle cx="448.42" cy="395.7" r="1.9" fill="none" stroke="#cc0a7f" stroke-width="1.15"/>
<circle cx="448.89" cy="394.51" r="1.9" fill="none" stroke="#cc0a7f" stroke-width="1.15"/>
<circle cx="449.37" cy="395.11" r="1.9" fill="none" stroke="#cc0a7f" stroke-width="1.15"/>
<circle cx="449.85" cy="394.01" r="1.9" fill="none" stroke="#cc0a7f" stroke-width="1.15"/>
<circle cx="450.33" cy="395.19" r="1.9" fill="none" stroke="#cc0a7f" stroke-width="1.15"/>
<circle cx="450.81" cy="395.51" r="1.9" fill="none" stroke="#cc0a7f" stroke-width="1.15"/>
<circle cx="451.29" cy="394.76" r="1.9" fill="none" stroke="#cc0a7f" stroke-width="1.15"/>
<circle cx="451.77" cy="394.71" r="1.9" fill="none" stroke="#cc0a7f" stroke-width="1.15"/>
<circle cx="452.24" cy="395.42" r="1.9" fill="none" stroke="#cc0a7f" stroke-width="1.15"/>
<circle cx="452.72" cy="394.64" r="1.9" fill="none" stroke="#cc0a7f" stroke-width="1.15"/>
<circle cx="453.2" cy="394.38" r="1.9" fill="none" stroke="#cc0a7f" stroke-width="1.15"/>
<circle cx="453.68" cy="394.05" r="1.9" fill="none" stroke="#cc0a7f" stroke-width="1.15"/>
<circle cx="454.16" cy="393.75" r="1.9" fill="none" stroke="#cc0a7f" stroke-width="1.15"/>
<circle cx="454.64" cy="394.54" r="1.9" fill="none" stroke="#cc0a7f" stroke-width="1.15"/>
<circle cx="455.12" cy="393.94" r="1.9" fill="none" stroke="#cc0a7f" stroke-width="1.15"/>
<circle cx="455.59" cy="395.49" r="1.9" fill="none" stroke="#cc0a7f" stroke-width="1.15"/>
<circle cx="456.07" cy="394.12" r="1.9" fill="none" stroke="#cc0a7f" stroke-width="1.15"/>
<circle cx="456.55" cy="393.65" r="1.9" fill="none" stroke="#cc0a7f" stroke-width="1.15"/>
<circle cx="457.03" cy="394.81" r="1.9" fill="none" stroke="#cc0a7f" stroke-width="1.15"/>
<circle cx="457.51" cy="395.18" r="1.9" fill="none" stroke="#cc0a7f" stroke-width="1.15"/>
<circle cx="457.99" cy="395.23" r="1.9" fill="none" stroke="#cc0a7f" stroke-width="1.15"/>
<circle cx="458.46" cy="395.23" r="1.9" fill="none" stroke="#cc0a7f" stroke-width="1.15"/>
<circle cx="458.94" cy="394.91" r="1.9" fill="none" stroke="#cc0a7f" stroke-width="1.15"/>
<circle cx="459.42" cy="394.85" r="1.9" fill="none" stroke="#cc0a7f" stroke-width="1.15"/>
<circle cx="459.9" cy="395.4" r="1.9" fill="none" stroke="#cc0a7f" stroke-width="1.15"/>
<circle cx="460.38" cy="393.95" r="1.9" fill="none" stroke="#cc0a7f" stroke-width="1.15"/>
<circle cx="460.86" cy="393.63" r="1.9" fill="none" stroke="#cc0a7f" stroke-width="1.15"/>
<circle cx="461.34" cy="395.44" r="1.9" fill="none" stroke="#cc0a7f" stroke-width="1.15"/>
<circle cx="461.81" cy="394.37" r="1.9" fill="none" stroke="#cc0a7f" stroke-width="1.15"/>
<circle cx="462.29" cy="394.79" r="1.9" fill="none" stroke="#cc0a7f" stroke-width="1.15"/>
<circle cx="462.77" cy="394.65" r="1.9" fill="none" stroke="#cc0a7f" stroke-width="1.15"/>
<circle cx="463.25" cy="394.64" r="1.9" fill="none" stroke="#cc0a7f" stroke-width="1.15"/>
<circle cx="463.73" cy="394.79" r="1.9" fill="none" stroke="#cc0a7f" stroke-width="1.15"/>
<circle cx="464.21" cy="394.04" r="1.9" fill="none" stroke="#cc0a7f" stroke-width="1.15"/>
<circle cx="464.68" cy="393.71" r="1.9" fill="none" stroke="#cc0a7f" stroke-width="1.15"/>
<circle cx="465.16" cy="395.13" r="1.9" fill="none" stroke="#cc0a7f" stroke-width="1.15"/>
<circle cx="465.64" cy="394.97" r="1.9" fill="none" stroke="#cc0a7f" stroke-width="1.15"/>
<circle cx="466.12" cy="395.66" r="1.9" fill="none" stroke="#cc0a7f" stroke-width="1.15"/>
<circle cx="466.6" cy="394.86" r="1.9" fill="none" stroke="#cc0a7f" stroke-width="1.15"/>
<circle cx="467.08" cy="395.15" r="1.9" fill="none" stroke="#cc0a7f" stroke-width="1.15"/>
<circle cx="467.56" cy="395.36" r="1.9" fill="none" stroke="#cc0a7f" stroke-width="1.15"/>
<circle cx="468.03" cy="393.92" r="1.9" fill="none" stroke="#cc0a7f" stroke-width="1.15"/>
<circle cx="468.51" cy="394.62" r="1.9" fill="none" stroke="#cc0a7f" stroke-width="1.15"/>
<circle cx="468.99" cy="395.25" r="1.9" fill="none" stroke="#cc0a7f" stroke-width="1.15"/>
<circle cx="469.47" cy="395.37" r="1.9" fill="none" stroke="#cc0a7f" stroke-width="1.15"/>
<circle cx="469.95" cy="394.45" r="1.9" fill="none" stroke="#cc0a7f" stroke-width="1.15"/>
<circle cx="470.43" cy="393.96" r="1.9" fill="none" stroke="#cc0a7f" stroke-width="1.15"/>
<circle cx="470.91" cy="393.82" r="1.9" fill="none" stroke="#cc0a7f" stroke-width="1.15"/>
<circle cx="471.38" cy="394.17" r="1.9" fill="none" stroke="#cc0a7f" stroke-width="1.15"/>
<circle cx="471.86" cy="394.1" r="1.9" fill="none" stroke="#cc0a7f" stroke-width="1.15"/>
<circle cx="472.34" cy="395.37" r="1.9" fill="none" stroke="#cc0a7f" stroke-width="1.15"/>
<circle cx="472.82" cy="395.45" r="1.9" fill="none" stroke="#cc0a7f" stroke-width="1.15"/>
<circle cx="473.3" cy="394.3" r="1.9" fill="none" stroke="#cc0a7f" stroke-width="1.15"/>
<circle cx="473.78" cy="394.39" r="1.9" fill="none" stroke="#cc0a7f" stroke-width="1.15"/>
<circle cx="474.25" cy="395.33" r="1.9" fill="none" stroke="#cc0a7f" stroke-width="1.15"/>
<circle cx="474.73" cy="395.08" r="1.9" fill="none" stroke="#cc0a7f" stroke-width="1.15"/>
<circle cx="475.21" cy="395.73" r="1.9" fill="none" stroke="#cc0a7f" stroke-width="1.15"/>
<circle cx="475.69" cy="394.25" r="1.9" fill="none" stroke="#cc0a7f" stroke-width="1.15"/>
<circle cx="476.17" cy="394.63" r="1.9" fill="none" stroke="#cc0a7f" stroke-width="1.15"/>
<circle cx="476.65" cy="393.93" r="1.9" fill="none" stroke="#cc0a7f" stroke-width="1.15"/>
<circle cx="477.13" cy="393.77" r="1.9" fill="none" stroke="#cc0a7f" stroke-width="1.15"/>
<circle cx="477.6" cy="394.63" r="1.9" fill="none" stroke="#cc0a7f" stroke-width="1.15"/>
<circle cx="478.08" cy="395" r="1.9" fill="none" stroke="#cc0a7f" stroke-width="1.15"/>
<circle cx="478.56" cy="395.14" r="1.9" fill="none" stroke="#cc0a7f" stroke-width="1.15"/>
<circle cx="479.04" cy="394.37" r="1.9" fill="none" stroke="#cc0a7f" stroke-width="1.15"/>
<circle cx="479.52" cy="393.7" r="1.9" fill="none" stroke="#cc0a7f" stroke-width="1.15"/>
<circle cx="480" cy="395.55" r="1.9" fill="none" stroke="#cc0a7f" stroke-width="1.15"/>
<circle cx="480.48" cy="394.86" r="1.9" fill="none" stroke="#cc0a7f" stroke-width="1.15"/>
<circle cx="480.95" cy="394.1" r="1.9" fill="none" stroke="#cc0a7f" stroke-width="1.15"/>
<circle cx="481.43" cy="395.46" r="1.9" fill="none" stroke="#cc0a7f" stroke-width="1.15"/>
<circle cx="481.91" cy="394.31" r="1.9" fill="none" stroke="#cc0a7f" stroke-width="1.15"/>
<circle cx="482.39" cy="395.21" r="1.9" fill="none" stroke="#cc0a7f" stroke-width="1.15"/>
<circle cx="482.87" cy="394.53" r="1.9" fill="none" stroke="#cc0a7f" stroke-width="1.15"/>
<circle cx="483.35" cy="393.62" r="1.9" fill="none" stroke="#cc0a7f" stroke-width="1.15"/>
<circle cx="483.82" cy="395.67" r="1.9" fill="none" stroke="#cc0a7f" stroke-width="1.15"/>
<circle cx="484.3" cy="394.23" r="1.9" fill="none" stroke="#cc0a7f" stroke-width="1.15"/>
<circle cx="484.78" cy="394.51" r="1.9" fill="none" stroke="#cc0a7f" stroke-width="1.15"/>
<circle cx="485.26" cy="393.89" r="1.9" fill="none" stroke="#cc0a7f" stroke-width="1.15"/>
<circle cx="485.74" cy="394.98" r="1.9" fill="none" stroke="#cc0a7f" stroke-width="1.15"/>
<circle cx="486.22" cy="393.73" r="1.9" fill="none" stroke="#cc0a7f" stroke-width="1.15"/>
<circle cx="486.7" cy="393.65" r="1.9" fill="none" stroke="#cc0a7f" stroke-width="1.15"/>
<circle cx="487.17" cy="395.6" r="1.9" fill="none" stroke="#cc0a7f" stroke-width="1.15"/>
<circle cx="487.65" cy="394.98" r="1.9" fill="none" stroke="#cc0a7f" stroke-width="1.15"/>
<circle cx="488.13" cy="395.22" r="1.9" fill="none" stroke="#cc0a7f" stroke-width="1.15"/>
<circle cx="488.61" cy="393.95" r="1.9" fill="none" stroke="#cc0a7f" stroke-width="1.15"/>
<circle cx="489.09" cy="393.77" r="1.9" fill="none" stroke="#cc0a7f" stroke-width="1.15"/>
<circle cx="489.57" cy="394.06" r="1.9" fill="none" stroke="#cc0a7f" stroke-width="1.15"/>
<circle cx="490.05" cy="393.87" r="1.9" fill="none" stroke="#cc0a7f" stroke-width="1.15"/>
<circle cx="490.52" cy="394.5" r="1.9" fill="none" stroke="#cc0a7f" stroke-width="1.15"/>
<circle cx="491" cy="393.81" r="1.9" fill="none" stroke="#cc0a7f" stroke-width="1.15"/>
<circle cx="491.48" cy="395.12" r="1.9" fill="none" stroke="#cc0a7f" stroke-width="1.15"/>
<circle cx="491.96" cy="395.52" r="1.9" fill="none" stroke="#cc0a7f" stroke-width="1.15"/>
<circle cx="492.44" cy="394.17" r="1.9" fill="none" stroke="#cc0a7f" stroke-width="1.15"/>
<circle cx="492.92" cy="394.78" r="1.9" fill="none" stroke="#cc0a7f" stroke-width="1.15"/>
<circle cx="493.39" cy="395.69" r="1.9" fill="none" stroke="#cc0a7f" stroke-width="1.15"/>
<circle cx="493.87" cy="394.01" r="1.9" fill="none" stroke="#cc0a7f" stroke-width="1.15"/>
<circle cx="494.35" cy="395.46" r="1.9" fill="none" stroke="#cc0a7f" stroke-width="1.15"/>
<circle cx="494.83" cy="395.22" r="1.9" fill="none" stroke="#cc0a7f" stroke-width="1.15"/>
<circle cx="495.31" cy="395.56" r="1.9" fill="none" stroke="#cc0a7f" stroke-width="1.15"/>
<circle cx="495.79" cy="394.41" r="1.9" fill="none" stroke="#cc0a7f" stroke-width="1.15"/>
<circle cx="496.27" cy="395.39" r="1.9" fill="none" stroke="#cc0a7f" stroke-width="1.15"/>
<circle cx="496.74" cy="395.07" r="1.9" fill="none" stroke="#cc0a7f" stroke-width="1.15"/>
<circle cx="497.22" cy="394.55" r="1.9" fill="none" stroke="#cc0a7f" stroke-width="1.15"/>
<circle cx="497.7" cy="393.68" r="1.9" fill="none" stroke="#cc0a7f" stroke-width="1.15"/>
<circle cx="498.18" cy="395.71" r="1.9" fill="none" stroke="#cc0a7f" stroke-width="1.15"/>
<circle cx="498.66" cy="393.74" r="1.9" fill="none" stroke="#cc0a7f" stroke-width="1.15"/>
<circle cx="499.14" cy="394.15" r="1.9" fill="none" stroke="#cc0a7f" stroke-width="1.15"/>
<circle cx="499.62" cy="395.18" r="1.9" fill="none" stroke="#cc0a7f" stroke-width="1.15"/>
<circle cx="500.09" cy="393.94" r="1.9" fill="none" stroke="#cc0a7f" stroke-width="1.15"/>
<circle cx="500.57" cy="394.37" r="1.9" fill="none" stroke="#cc0a7f" stroke-width="1.15"/>
<circle cx="501.05" cy="394.75" r="1.9" fill="none" stroke="#cc0a7f" stroke-width="1.15"/>
<circle cx="501.53" cy="395.23" r="1.9" fill="none" stroke="#cc0a7f" stroke-width="1.15"/>
<circle cx="502.01" cy="394.79" r="1.9" fill="none" stroke="#cc0a7f" stroke-width="1.15"/>
<circle cx="502.49" cy="394.99" r="1.9" fill="none" stroke="#cc0a7f" stroke-width="1.15"/>
<circle cx="502.96" cy="395.55" r="1.9" fill="none" stroke="#cc0a7f" stroke-width="1.15"/>
<circle cx="503.44" cy="395.36" r="1.9" fill="none" stroke="#cc0a7f" stroke-width="1.15"/>
<circle cx="503.92" cy="395.16" r="1.9" fill="none" stroke="#cc0a7f" stroke-width="1.15"/>
<circle cx="504.4" cy="394.74" r="1.9" fill="none" stroke="#cc0a7f" stroke-width="1.15"/>
<circle cx="504.88" cy="394.48" r="1.9" fill="none" stroke="#cc0a7f" stroke-width="1.15"/>
<circle cx="505.36" cy="394.1" r="1.9" fill="none" stroke="#cc0a7f" stroke-width="1.15"/>
<circle cx="505.84" cy="395.51" r="1.9" fill="none" stroke="#cc0a7f" stroke-width="1.15"/>
<circle cx="506.31" cy="395.49" r="1.9" fill="none" stroke="#cc0a7f" stroke-width="1.15"/>
<circle cx="506.79" cy="393.84" r="1.9" fill="none" stroke="#cc0a7f" stroke-width="1.15"/>
<circle cx="507.27" cy="394.58" r="1.9" fill="none" stroke="#cc0a7f" stroke-width="1.15"/>
<circle cx="507.75" cy="395.26" r="1.9" fill="none" stroke="#cc0a7f" stroke-width="1.15"/>
<circle cx="508.23" cy="395.26" r="1.9" fill="none" stroke="#cc0a7f" stroke-width="1.15"/>
<circle cx="508.71" cy="394.3" r="1.9" fill="none" stroke="#cc0a7f" stroke-width="1.15"/>
<circle cx="509.19" cy="394.75" r="1.9" fill="none" stroke="#cc0a7f" stroke-width="1.15"/>
<circle cx="509.66" cy="394.89" r="1.9" fill="none" stroke="#cc0a7f" stroke-width="1.15"/>
<circle cx="510.14" cy="393.7" r="1.9" fill="none" stroke="#cc0a7f" stroke-width="1.15"/>
<circle cx="510.62" cy="395.71" r="1.9" fill="none" stroke="#cc0a7f" stroke-width="1.15"/>
<circle cx="511.1" cy="394.38" r="1.9" fill="none" stroke="#cc0a7f" stroke-width="1.15"/>
<circle cx="511.58" cy="394.25" r="1.9" fill="none" stroke="#cc0a7f" stroke-width="1.15"/>
<circle cx="512.06" cy="394.46" r="1.9" fill="none" stroke="#cc0a7f" stroke-width="1.15"/>
<circle cx="512.53" cy="394.45" r="1.9" fill="none" stroke="#cc0a7f" stroke-width="1.15"/>
<circle cx="513.01" cy="395.67" r="1.9" fill="none" stroke="#cc0a7f" stroke-width="1.15"/>
<circle cx="513.49" cy="393.65" r="1.9" fill="none" stroke="#cc0a7f" stroke-width="1.15"/>
<circle cx="513.97" cy="395.64" r="1.9" fill="none" stroke="#cc0a7f" stroke-width="1.15"/>
<circle cx="514.45" cy="394.96" r="1.9" fill="none" stroke="#cc0a7f" stroke-width="1.15"/>
<circle cx="514.93" cy="394.88" r="1.9" fill="none" stroke="#cc0a7f" stroke-width="1.15"/>
<circle cx="515.41" cy="393.93" r="1.9" fill="none" stroke="#cc0a7f" stroke-width="1.15"/>
<circle cx="515.88" cy="394.2" r="1.9" fill="none" stroke="#cc0a7f" stroke-width="1.15"/>
<circle cx="516.36" cy="393.93" r="1.9" fill="none" stroke="#cc0a7f" stroke-width="1.15"/>
<circle cx="516.84" cy="394.53" r="1.9" fill="none" stroke="#cc0a7f" stroke-width="1.15"/>
<circle cx="517.32" cy="393.62" r="1.9" fill="none" stroke="#cc0a7f" stroke-width="1.15"/>
<circle cx="517.8" cy="395.06" r="1.9" fill="none" stroke="#cc0a7f" stroke-width="1.15"/>
<circle cx="518.28" cy="394.88" r="1.9" fill="none" stroke="#cc0a7f" stroke-width="1.15"/>
<circle cx="518.76" cy="394.54" r="1.9" fill="none" stroke="#cc0a7f" stroke-width="1.15"/>
<circle cx="519.23" cy="395.05" r="1.9" fill="none" stroke="#cc0a7f" stroke-width="1.15"/>
<circle cx="519.71" cy="395.43" r="1.9" fill="none" stroke="#cc0a7f" stroke-width="1.15"/>
<circle cx="520.19" cy="394.28" r="1.9" fill="none" stroke="#cc0a7f" stroke-width="1.15"/>
<circle cx="520.67" cy="394.99" r="1.9" fill="none" stroke="#cc0a7f" stroke-width="1.15"/>
<circle cx="521.15" cy="393.87" r="1.9" fill="none" stroke="#cc0a7f" stroke-width="1.15"/>
<circle cx="521.63" cy="394.31" r="1.9" fill="none" stroke="#cc0a7f" stroke-width="1.15"/>
<circle cx="522.11" cy="395.73" r="1.9" fill="none" stroke="#cc0a7f" stroke-width="1.15"/>
<circle cx="522.58" cy="395.51" r="1.9" fill="none" stroke="#cc0a7f" stroke-width="1.15"/>
<circle cx="523.06" cy="395.34" r="1.9" fill="none" stroke="#cc0a7f" stroke-width="1.15"/>
<circle cx="523.54" cy="395.05" r="1.9" fill="none" stroke="#cc0a7f" stroke-width="1.15"/>
<circle cx="524.02" cy="395.32" r="1.9" fill="none" stroke="#cc0a7f" stroke-width="1.15"/>
<circle cx="524.5" cy="394.3" r="1.9" fill="none" stroke="#cc0a7f" stroke-width="1.15"/>
<circle cx="524.98" cy="395.26" r="1.9" fill="none" stroke="#cc0a7f" stroke-width="1.15"/>
<circle cx="525.45" cy="394.84" r="1.9" fill="none" stroke="#cc0a7f" stroke-width="1.15"/>
<circle cx="525.93" cy="394.89" r="1.9" fill="none" stroke="#cc0a7f" stroke-width="1.15"/>
<circle cx="526.41" cy="393.59" r="1.9" fill="none" stroke="#cc0a7f" stroke-width="1.15"/>
<circle cx="526.89" cy="394.77" r="1.9" fill="none" stroke="#cc0a7f" stroke-width="1.15"/>
<circle cx="527.37" cy="395.65" r="1.9" fill="none" stroke="#cc0a7f" stroke-width="1.15"/>
<circle cx="527.85" cy="393.63" r="1.9" fill="none" stroke="#cc0a7f" stroke-width="1.15"/>
<circle cx="528.33" cy="393.64" r="1.9" fill="none" stroke="#cc0a7f" stroke-width="1.15"/>
<circle cx="528.8" cy="395.66" r="1.9" fill="none" stroke="#cc0a7f" stroke-width="1.15"/>
<circle cx="529.28" cy="393.88" r="1.9" fill="none" stroke="#cc0a7f" stroke-width="1.15"/>
<circle cx="529.76" cy="394.41" r="1.9" fill="none" stroke="#cc0a7f" stroke-width="1.15"/>
<circle cx="530.24" cy="393.76" r="1.9" fill="none" stroke="#cc0a7f" stroke-width="1.15"/>
<circle cx="530.72" cy="394.4" r="1.9" fill="none" stroke="#cc0a7f" stroke-width="1.15"/>
<circle cx="531.2" cy="394.39" r="1.9" fill="none" stroke="#cc0a7f" stroke-width="1.15"/>
<circle cx="531.67" cy="394" r="1.9" fill="none" stroke="#cc0a7f" stroke-width="1.15"/>
<circle cx="532.15" cy="395.67" r="1.9" fill="none" stroke="#cc0a7f" stroke-width="1.15"/>
<circle cx="532.63" cy="395.53" r="1.9" fill="none" stroke="#cc0a7f" stroke-width="1.15"/>
<circle cx="533.11" cy="395.49" r="1.9" fill="none" stroke="#cc0a7f" stroke-width="1.15"/>
<circle cx="533.59" cy="395.72" r="1.9" fill="none" stroke="#cc0a7f" stroke-width="1.15"/>
<circle cx="534.07" cy="395.24" r="1.9" fill="none" stroke="#cc0a7f" stroke-width="1.15"/>
<circle cx="534.55" cy="395.66" r="1.9" fill="none" stroke="#cc0a7f" stroke-width="1.15"/>
<circle cx="535.02" cy="395.51" r="1.9" fill="none" stroke="#cc0a7f" stroke-width="1.15"/>
<circle cx="535.5" cy="395" r="1.9" fill="none" stroke="#cc0a7f" stroke-width="1.15"/>
<circle cx="535.98" cy="395.39" r="1.9" fill="none" stroke="#cc0a7f" stroke-width="1.15"/>
<circle cx="536.46" cy="395.62" r="1.9" fill="none" stroke="#cc0a7f" stroke-width="1.15"/>
<circle cx="536.94" cy="393.67" r="1.9" fill="none" stroke="#cc0a7f" stroke-width="1.15"/>
<circle cx="537.42" cy="393.76" r="1.9" fill="none" stroke="#cc0a7f" stroke-width="1.15"/>
<circle cx="537.9" cy="393.8" r="1.9" fill="none" stroke="#cc0a7f" stroke-width="1.15"/>
<circle cx="538.37" cy="395.57" r="1.9" fill="none" stroke="#cc0a7f" stroke-width="1.15"/>
<circle cx="538.85" cy="394.47" r="1.9" fill="none" stroke="#cc0a7f" stroke-width="1.15"/>
<circle cx="539.33" cy="393.73" r="1.9" fill="none" stroke="#cc0a7f" stroke-width="1.15"/>
<circle cx="539.81" cy="394.8" r="1.9" fill="none" stroke="#cc0a7f" stroke-width="1.15"/>
<circle cx="540.29" cy="394.64" r="1.9" fill="none" stroke="#cc0a7f" stroke-width="1.15"/>
<circle cx="540.77" cy="393.83" r="1.9" fill="none" stroke="#cc0a7f" stroke-width="1.15"/>
<circle cx="541.24" cy="393.77" r="1.9" fill="none" stroke="#cc0a7f" stroke-width="1.15"/>
<circle cx="541.72" cy="394.5" r="1.9" fill="none" stroke="#cc0a7f" stroke-width="1.15"/>
<circle cx="542.2" cy="395.16" r="1.9" fill="none" stroke="#cc0a7f" stroke-width="1.15"/>
<circle cx="542.68" cy="394.16" r="1.9" fill="none" stroke="#cc0a7f" stroke-width="1.15"/>
<circle cx="543.16" cy="394.15" r="1.9" fill="none" stroke="#cc0a7f" stroke-width="1.15"/>
<circle cx="543.64" cy="395.13" r="1.9" fill="none" stroke="#cc0a7f" stroke-width="1.15"/>
<circle cx="544.12" cy="394.77" r="1.9" fill="none" stroke="#cc0a7f" stroke-width="1.15"/>
<circle cx="544.59" cy="394.25" r="1.9" fill="none" stroke="#cc0a7f" stroke-width="1.15"/>
<circle cx="545.07" cy="395.27" r="1.9" fill="none" stroke="#cc0a7f" stroke-width="1.15"/>
<circle cx="545.55" cy="394.91" r="1.9" fill="none" stroke="#cc0a7f" stroke-width="1.15"/>
<circle cx="546.03" cy="394.56" r="1.9" fill="none" stroke="#cc0a7f" stroke-width="1.15"/>
<circle cx="546.51" cy="394.96" r="1.9" fill="none" stroke="#cc0a7f" stroke-width="1.15"/>
<circle cx="546.99" cy="393.82" r="1.9" fill="none" stroke="#cc0a7f" stroke-width="1.15"/>
<circle cx="547.47" cy="395.09" r="1.9" fill="none" stroke="#cc0a7f" stroke-width="1.15"/>
<circle cx="547.94" cy="394.72" r="1.9" fill="none" stroke="#cc0a7f" stroke-width="1.15"/>
<circle cx="548.42" cy="393.98" r="1.9" fill="none" stroke="#cc0a7f" stroke-width="1.15"/>
<circle cx="548.9" cy="395.68" r="1.9" fill="none" stroke="#cc0a7f" stroke-width="1.15"/>
<circle cx="549.38" cy="395.03" r="1.9" fill="none" stroke="#cc0a7f" stroke-width="1.15"/>
<circle cx="549.86" cy="395.34" r="1.9" fill="none" stroke="#cc0a7f" stroke-width="1.15"/>
<circle cx="550.34" cy="394.57" r="1.9" fill="none" stroke="#cc0a7f" stroke-width="1.15"/>
<circle cx="550.82" cy="393.65" r="1.9" fill="none" stroke="#cc0a7f" stroke-width="1.15"/>
<circle cx="551.29" cy="394.89" r="1.9" fill="none" stroke="#cc0a7f" stroke-width="1.15"/>
<circle cx="551.77" cy="393.75" r="1.9" fill="none" stroke="#cc0a7f" stroke-width="1.15"/>
<circle cx="552.25" cy="395.4" r="1.9" fill="none" stroke="#cc0a7f" stroke-width="1.15"/>
<circle cx="552.73" cy="393.69" r="1.9" fill="none" stroke="#cc0a7f" stroke-width="1.15"/>
<circle cx="553.21" cy="395.05" r="1.9" fill="none" stroke="#cc0a7f" stroke-width="1.15"/>
<circle cx="553.69" cy="395.05" r="1.9" fill="none" stroke="#cc0a7f" stroke-width="1.15"/>
<circle cx="554.16" cy="395.17" r="1.9" fill="none" stroke="#cc0a7f" stroke-width="1.15"/>
<circle cx="554.64" cy="393.85" r="1.9" fill="none" stroke="#cc0a7f" stroke-width="1.15"/>
<circle cx="555.12" cy="395.28" r="1.9" fill="none" stroke="#cc0a7f" stroke-width="1.15"/>
<circle cx="555.6" cy="395.63" r="1.9" fill="none" stroke="#cc0a7f" stroke-width="1.15"/>
<circle cx="556.08" cy="395.7" r="1.9" fill="none" stroke="#cc0a7f" stroke-width="1.15"/>
<circle cx="556.56" cy="394.56" r="1.9" fill="none" stroke="#cc0a7f" stroke-width="1.15"/>
<circle cx="557.04" cy="394.44" r="1.9" fill="none" stroke="#cc0a7f" stroke-width="1.15"/>
<circle cx="557.51" cy="395" r="1.9" fill="none" stroke="#cc0a7f" stroke-width="1.15"/>
<circle cx="557.99" cy="394.33" r="1.9" fill="none" stroke="#cc0a7f" stroke-width="1.15"/>
<circle cx="558.47" cy="394.63" r="1.9" fill="none" stroke="#cc0a7f" stroke-width="1.15"/>
<circle cx="558.95" cy="393.94" r="1.9" fill="none" stroke="#cc0a7f" stroke-width="1.15"/>
<circle cx="559.43" cy="394.98" r="1.9" fill="none" stroke="#cc0a7f" stroke-width="1.15"/>
<circle cx="559.91" cy="394.1" r="1.9" fill="none" stroke="#cc0a7f" stroke-width="1.15"/>
<circle cx="560.38" cy="394.62" r="1.9" fill="none" stroke="#cc0a7f" stroke-width="1.15"/>
<circle cx="560.86" cy="393.61" r="1.9" fill="none" stroke="#cc0a7f" stroke-width="1.15"/>
<circle cx="561.34" cy="394.28" r="1.9" fill="none" stroke="#cc0a7f" stroke-width="1.15"/>
<circle cx="561.82" cy="393.73" r="1.9" fill="none" stroke="#cc0a7f" stroke-width="1.15"/>
<circle cx="562.3" cy="394.85" r="1.9" fill="none" stroke="#cc0a7f" stroke-width="1.15"/>
<circle cx="562.78" cy="394.3" r="1.9" fill="none" stroke="#cc0a7f" stroke-width="1.15"/>
<circle cx="563.26" cy="395.45" r="1.9" fill="none" stroke="#cc0a7f" stroke-width="1.15"/>
<circle cx="563.73" cy="395.31" r="1.9" fill="none" stroke="#cc0a7f" stroke-width="1.15"/>
<circle cx="564.21" cy="394.43" r="1.9" fill="none" stroke="#cc0a7f" stroke-width="1.15"/>
<circle cx="564.69" cy="395.15" r="1.9" fill="none" stroke="#cc0a7f" stroke-width="1.15"/>
<circle cx="565.17" cy="393.93" r="1.9" fill="none" stroke="#cc0a7f" stroke-width="1.15"/>
<circle cx="565.65" cy="395.54" r="1.9" fill="none" stroke="#cc0a7f" stroke-width="1.15"/>
<circle cx="566.13" cy="393.9" r="1.9" fill="none" stroke="#cc0a7f" stroke-width="1.15"/>
<circle cx="566.61" cy="393.75" r="1.9" fill="none" stroke="#cc0a7f" stroke-width="1.15"/>
<circle cx="567.08" cy="393.59" r="1.9" fill="none" stroke="#cc0a7f" stroke-width="1.15"/>
<circle cx="567.56" cy="395.78" r="1.9" fill="none" stroke="#cc0a7f" stroke-width="1.15"/>
<circle cx="568.52" cy="394.04" r="1.9" fill="none" stroke="#cc0a7f" stroke-width="1.15"/>
<circle cx="569.48" cy="394.03" r="1.9" fill="none" stroke="#cc0a7f" stroke-width="1.15"/>
<circle cx="570.43" cy="393.69" r="1.9" fill="none" stroke="#cc0a7f" stroke-width="1.15"/>
<circle cx="571.39" cy="395.09" r="1.9" fill="none" stroke="#cc0a7f" stroke-width="1.15"/>
<circle cx="572.35" cy="396.58" r="1.9" fill="none" stroke="#cc0a7f" stroke-width="1.15"/>
<circle cx="573.3" cy="395.1" r="1.9" fill="none" stroke="#cc0a7f" stroke-width="1.15"/>
<circle cx="574.26" cy="394.43" r="1.9" fill="none" stroke="#cc0a7f" stroke-width="1.15"/>
<circle cx="575.22" cy="396.51" r="1.9" fill="none" stroke="#cc0a7f" stroke-width="1.15"/>
<circle cx="576.18" cy="395.16" r="1.9" fill="none" stroke="#cc0a7f" stroke-width="1.15"/>
<circle cx="577.13" cy="392.3" r="1.9" fill="none" stroke="#cc0a7f" stroke-width="1.15"/>
<circle cx="578.09" cy="396.35" r="1.9" fill="none" stroke="#cc0a7f" stroke-width="1.15"/>
<circle cx="579.05" cy="392.98" r="1.9" fill="none" stroke="#cc0a7f" stroke-width="1.15"/>
<circle cx="580" cy="395.73" r="1.9" fill="none" stroke="#cc0a7f" stroke-width="1.15"/>
<circle cx="580.96" cy="394.08" r="1.9" fill="none" stroke="#cc0a7f" stroke-width="1.15"/>
<circle cx="581.92" cy="396.54" r="1.9" fill="none" stroke="#cc0a7f" stroke-width="1.15"/>
<circle cx="582.87" cy="392.98" r="1.9" fill="none" stroke="#cc0a7f" stroke-width="1.15"/>
<circle cx="583.83" cy="393.74" r="1.9" fill="none" stroke="#cc0a7f" stroke-width="1.15"/>
<circle cx="584.79" cy="395.69" r="1.9" fill="none" stroke="#cc0a7f" stroke-width="1.15"/>
<circle cx="585.75" cy="395.38" r="1.9" fill="none" stroke="#cc0a7f" stroke-width="1.15"/>
<circle cx="586.7" cy="395.38" r="1.9" fill="none" stroke="#cc0a7f" stroke-width="1.15"/>
<circle cx="587.66" cy="394.54" r="1.9" fill="none" stroke="#cc0a7f" stroke-width="1.15"/>
<circle cx="588.62" cy="394.21" r="1.9" fill="none" stroke="#cc0a7f" stroke-width="1.15"/>
<circle cx="589.57" cy="393.95" r="1.9" fill="none" stroke="#cc0a7f" stroke-width="1.15"/>
<circle cx="590.53" cy="397.04" r="1.9" fill="none" stroke="#cc0a7f" stroke-width="1.15"/>
<circle cx="591.49" cy="393.49" r="1.9" fill="none" stroke="#cc0a7f" stroke-width="1.15"/>
<circle cx="592.44" cy="392.31" r="1.9" fill="none" stroke="#cc0a7f" stroke-width="1.15"/>
<circle cx="593.4" cy="395.24" r="1.9" fill="none" stroke="#cc0a7f" stroke-width="1.15"/>
<circle cx="594.36" cy="395.63" r="1.9" fill="none" stroke="#cc0a7f" stroke-width="1.15"/>
<circle cx="595.32" cy="394.49" r="1.9" fill="none" stroke="#cc0a7f" stroke-width="1.15"/>
<circle cx="596.27" cy="393.21" r="1.9" fill="none" stroke="#cc0a7f" stroke-width="1.15"/>
<circle cx="597.23" cy="394.98" r="1.9" fill="none" stroke="#cc0a7f" stroke-width="1.15"/>
<circle cx="598.19" cy="395.26" r="1.9" fill="none" stroke="#cc0a7f" stroke-width="1.15"/>
<circle cx="599.14" cy="395.96" r="1.9" fill="none" stroke="#cc0a7f" stroke-width="1.15"/>
<circle cx="600.1" cy="393.12" r="1.9" fill="none" stroke="#cc0a7f" stroke-width="1.15"/>
<circle cx="601.06" cy="395.49" r="1.9" fill="none" stroke="#cc0a7f" stroke-width="1.15"/>
<circle cx="602.01" cy="392.41" r="1.9" fill="none" stroke="#cc0a7f" stroke-width="1.15"/>
<circle cx="602.97" cy="394.15" r="1.9" fill="none" stroke="#cc0a7f" stroke-width="1.15"/>
<circle cx="603.93" cy="395.91" r="1.9" fill="none" stroke="#cc0a7f" stroke-width="1.15"/>
<circle cx="604.89" cy="395.51" r="1.9" fill="none" stroke="#cc0a7f" stroke-width="1.15"/>
<circle cx="605.84" cy="392.4" r="1.9" fill="none" stroke="#cc0a7f" stroke-width="1.15"/>
<circle cx="606.8" cy="392.79" r="1.9" fill="none" stroke="#cc0a7f" stroke-width="1.15"/>
<circle cx="607.76" cy="392.47" r="1.9" fill="none" stroke="#cc0a7f" stroke-width="1.15"/>
<circle cx="608.71" cy="396.95" r="1.9" fill="none" stroke="#cc0a7f" stroke-width="1.15"/>
<circle cx="609.67" cy="395.84" r="1.9" fill="none" stroke="#cc0a7f" stroke-width="1.15"/>
<circle cx="610.63" cy="392.76" r="1.9" fill="none" stroke="#cc0a7f" stroke-width="1.15"/>
<circle cx="611.58" cy="395.63" r="1.9" fill="none" stroke="#cc0a7f" stroke-width="1.15"/>
<circle cx="612.54" cy="394.49" r="1.9" fill="none" stroke="#cc0a7f" stroke-width="1.15"/>
<circle cx="613.5" cy="395.57" r="1.9" fill="none" stroke="#cc0a7f" stroke-width="1.15"/>
<circle cx="614.46" cy="394.09" r="1.9" fill="none" stroke="#cc0a7f" stroke-width="1.15"/>
<circle cx="615.41" cy="394.97" r="1.9" fill="none" stroke="#cc0a7f" stroke-width="1.15"/>
<circle cx="616.37" cy="393.1" r="1.9" fill="none" stroke="#cc0a7f" stroke-width="1.15"/>
<circle cx="617.33" cy="393.58" r="1.9" fill="none" stroke="#cc0a7f" stroke-width="1.15"/>
<circle cx="618.28" cy="395" r="1.9" fill="none" stroke="#cc0a7f" stroke-width="1.15"/>
<circle cx="619.24" cy="394.84" r="1.9" fill="none" stroke="#cc0a7f" stroke-width="1.15"/>
<circle cx="620.2" cy="396.88" r="1.9" fill="none" stroke="#cc0a7f" stroke-width="1.15"/>
<circle cx="621.15" cy="393.82" r="1.9" fill="none" stroke="#cc0a7f" stroke-width="1.15"/>
<circle cx="622.11" cy="394.89" r="1.9" fill="none" stroke="#cc0a7f" stroke-width="1.15"/>
<circle cx="623.07" cy="397.02" r="1.9" fill="none" stroke="#cc0a7f" stroke-width="1.15"/>
<circle cx="624.03" cy="396.74" r="1.9" fill="none" stroke="#cc0a7f" stroke-width="1.15"/>
<circle cx="624.98" cy="395.97" r="1.9" fill="none" stroke="#cc0a7f" stroke-width="1.15"/>
<circle cx="625.94" cy="395.1" r="1.9" fill="none" stroke="#cc0a7f" stroke-width="1.15"/>
<circle cx="626.9" cy="394.66" r="1.9" fill="none" stroke="#cc0a7f" stroke-width="1.15"/>
<circle cx="627.85" cy="393.95" r="1.9" fill="none" stroke="#cc0a7f" stroke-width="1.15"/>
<circle cx="628.81" cy="392.61" r="1.9" fill="none" stroke="#cc0a7f" stroke-width="1.15"/>
<circle cx="629.77" cy="396.33" r="1.9" fill="none" stroke="#cc0a7f" stroke-width="1.15"/>
<circle cx="630.72" cy="396.17" r="1.9" fill="none" stroke="#cc0a7f" stroke-width="1.15"/>
<circle cx="631.68" cy="395.05" r="1.9" fill="none" stroke="#cc0a7f" stroke-width="1.15"/>
<circle cx="632.64" cy="395.14" r="1.9" fill="none" stroke="#cc0a7f" stroke-width="1.15"/>
<circle cx="633.6" cy="393.38" r="1.9" fill="none" stroke="#cc0a7f" stroke-width="1.15"/>
<circle cx="634.55" cy="392.75" r="1.9" fill="none" stroke="#cc0a7f" stroke-width="1.15"/>
<circle cx="635.51" cy="394.25" r="1.9" fill="none" stroke="#cc0a7f" stroke-width="1.15"/>
<circle cx="636.47" cy="393.75" r="1.9" fill="none" stroke="#cc0a7f" stroke-width="1.15"/>
<circle cx="637.42" cy="393.48" r="1.9" fill="none" stroke="#cc0a7f" stroke-width="1.15"/>
<circle cx="638.38" cy="396.63" r="1.9" fill="none" stroke="#cc0a7f" stroke-width="1.15"/>
<circle cx="639.34" cy="395.33" r="1.9" fill="none" stroke="#cc0a7f" stroke-width="1.15"/>
<circle cx="640.29" cy="395.31" r="1.9" fill="none" stroke="#cc0a7f" stroke-width="1.15"/>
<circle cx="641.25" cy="396.71" r="1.9" fill="none" stroke="#cc0a7f" stroke-width="1.15"/>
<circle cx="642.21" cy="395.58" r="1.9" fill="none" stroke="#cc0a7f" stroke-width="1.15"/>
<circle cx="643.17" cy="396.23" r="1.9" fill="none" stroke="#cc0a7f" stroke-width="1.15"/>
<circle cx="644.12" cy="393.92" r="1.9" fill="none" stroke="#cc0a7f" stroke-width="1.15"/>
<circle cx="645.08" cy="395.65" r="1.9" fill="none" stroke="#cc0a7f" stroke-width="1.15"/>
<circle cx="646.04" cy="395.42" r="1.9" fill="none" stroke="#cc0a7f" stroke-width="1.15"/>
<circle cx="646.99" cy="392.57" r="1.9" fill="none" stroke="#cc0a7f" stroke-width="1.15"/>
<circle cx="647.95" cy="394.62" r="1.9" fill="none" stroke="#cc0a7f" stroke-width="1.15"/>
<circle cx="648.91" cy="392.4" r="1.9" fill="none" stroke="#cc0a7f" stroke-width="1.15"/>
<circle cx="649.86" cy="394.04" r="1.9" fill="none" stroke="#cc0a7f" stroke-width="1.15"/>
<circle cx="650.82" cy="394.55" r="1.9" fill="none" stroke="#cc0a7f" stroke-width="1.15"/>
<circle cx="268.74" cy="408.98" r="2.0" fill="none" stroke="#cc0a7f" stroke-width="1.0"/>
<circle cx="268.74" cy="408.98" r="0.45" fill="#cc0a7f"/>
<circle cx="633.36" cy="404.65" r="2.0" fill="none" stroke="#cc0a7f" stroke-width="1.0"/>
<circle cx="633.36" cy="404.65" r="0.45" fill="#cc0a7f"/>
<circle cx="268.74" cy="466.61" r="2.1" fill="#cc0a7f"/>
<circle cx="269.22" cy="467.64" r="2.1" fill="#cc0a7f"/>
<circle cx="269.7" cy="466.02" r="2.1" fill="#cc0a7f"/>
<circle cx="270.17" cy="466.8" r="2.1" fill="#cc0a7f"/>
<circle cx="270.65" cy="467.3" r="2.1" fill="#cc0a7f"/>
<circle cx="271.13" cy="466.06" r="2.1" fill="#cc0a7f"/>
<circle cx="271.61" cy="466.79" r="2.1" fill="#cc0a7f"/>
<circle cx="272.09" cy="465.63" r="2.1" fill="#cc0a7f"/>
<circle cx="272.57" cy="465.29" r="2.1" fill="#cc0a7f"/>
<circle cx="273.05" cy="464.89" r="2.1" fill="#cc0a7f"/>
<circle cx="273.52" cy="464.74" r="2.1" fill="#cc0a7f"/>
<circle cx="274" cy="465.93" r="2.1" fill="#cc0a7f"/>
<circle cx="274.48" cy="465.73" r="2.1" fill="#cc0a7f"/>
<circle cx="274.96" cy="464.07" r="2.1" fill="#cc0a7f"/>
<circle cx="275.44" cy="464.18" r="2.1" fill="#cc0a7f"/>
<circle cx="275.92" cy="463.29" r="2.1" fill="#cc0a7f"/>
<circle cx="276.4" cy="464.27" r="2.1" fill="#cc0a7f"/>
<circle cx="276.87" cy="464.8" r="2.1" fill="#cc0a7f"/>
<circle cx="277.35" cy="464.89" r="2.1" fill="#cc0a7f"/>
<circle cx="277.83" cy="464.78" r="2.1" fill="#cc0a7f"/>
<circle cx="278.31" cy="464.4" r="2.1" fill="#cc0a7f"/>
<circle cx="278.79" cy="463.1" r="2.1" fill="#cc0a7f"/>
<circle cx="279.27" cy="463.43" r="2.1" fill="#cc0a7f"/>
<circle cx="279.74" cy="462.73" r="2.1" fill="#cc0a7f"/>
<circle cx="280.22" cy="462.6" r="2.1" fill="#cc0a7f"/>
<circle cx="280.7" cy="463.3" r="2.1" fill="#cc0a7f"/>
<circle cx="281.18" cy="463.97" r="2.1" fill="#cc0a7f"/>
<circle cx="281.66" cy="463.78" r="2.1" fill="#cc0a7f"/>
<circle cx="282.14" cy="462.87" r="2.1" fill="#cc0a7f"/>
<circle cx="282.62" cy="463.72" r="2.1" fill="#cc0a7f"/>
<circle cx="283.09" cy="462.88" r="2.1" fill="#cc0a7f"/>
<circle cx="283.57" cy="462.82" r="2.1" fill="#cc0a7f"/>
<circle cx="284.05" cy="463.72" r="2.1" fill="#cc0a7f"/>
<circle cx="284.53" cy="463.54" r="2.1" fill="#cc0a7f"/>
<circle cx="285.01" cy="461.67" r="2.1" fill="#cc0a7f"/>
<circle cx="285.49" cy="462.53" r="2.1" fill="#cc0a7f"/>
<circle cx="285.97" cy="462.49" r="2.1" fill="#cc0a7f"/>
<circle cx="286.44" cy="462.49" r="2.1" fill="#cc0a7f"/>
<circle cx="286.92" cy="461.65" r="2.1" fill="#cc0a7f"/>
<circle cx="287.4" cy="461.87" r="2.1" fill="#cc0a7f"/>
<circle cx="287.88" cy="461.72" r="2.1" fill="#cc0a7f"/>
<circle cx="288.36" cy="461.86" r="2.1" fill="#cc0a7f"/>
<circle cx="288.84" cy="462.66" r="2.1" fill="#cc0a7f"/>
<circle cx="289.31" cy="462.39" r="2.1" fill="#cc0a7f"/>
<circle cx="289.79" cy="462.23" r="2.1" fill="#cc0a7f"/>
<circle cx="290.27" cy="462.65" r="2.1" fill="#cc0a7f"/>
<circle cx="290.75" cy="461.35" r="2.1" fill="#cc0a7f"/>
<circle cx="291.23" cy="460.79" r="2.1" fill="#cc0a7f"/>
<circle cx="291.71" cy="460.53" r="2.1" fill="#cc0a7f"/>
<circle cx="292.19" cy="462.26" r="2.1" fill="#cc0a7f"/>
<circle cx="292.66" cy="461.95" r="2.1" fill="#cc0a7f"/>
<circle cx="293.14" cy="461.06" r="2.1" fill="#cc0a7f"/>
<circle cx="293.62" cy="462.29" r="2.1" fill="#cc0a7f"/>
<circle cx="294.1" cy="461.88" r="2.1" fill="#cc0a7f"/>
<circle cx="294.58" cy="461.51" r="2.1" fill="#cc0a7f"/>
<circle cx="295.06" cy="460.75" r="2.1" fill="#cc0a7f"/>
<circle cx="295.54" cy="462.22" r="2.1" fill="#cc0a7f"/>
<circle cx="296.01" cy="462.19" r="2.1" fill="#cc0a7f"/>
<circle cx="296.49" cy="461.81" r="2.1" fill="#cc0a7f"/>
<circle cx="296.97" cy="461.84" r="2.1" fill="#cc0a7f"/>
<circle cx="297.45" cy="461.96" r="2.1" fill="#cc0a7f"/>
<circle cx="297.93" cy="461.08" r="2.1" fill="#cc0a7f"/>
<circle cx="298.41" cy="461.92" r="2.1" fill="#cc0a7f"/>
<circle cx="298.88" cy="462.26" r="2.1" fill="#cc0a7f"/>
<circle cx="299.36" cy="460.49" r="2.1" fill="#cc0a7f"/>
<circle cx="299.84" cy="461.33" r="2.1" fill="#cc0a7f"/>
<circle cx="300.32" cy="461.4" r="2.1" fill="#cc0a7f"/>
<circle cx="300.8" cy="461.73" r="2.1" fill="#cc0a7f"/>
<circle cx="301.28" cy="460.43" r="2.1" fill="#cc0a7f"/>
<circle cx="301.76" cy="460.24" r="2.1" fill="#cc0a7f"/>
<circle cx="302.23" cy="462.09" r="2.1" fill="#cc0a7f"/>
<circle cx="302.71" cy="460.84" r="2.1" fill="#cc0a7f"/>
<circle cx="303.19" cy="460.84" r="2.1" fill="#cc0a7f"/>
<circle cx="303.67" cy="461.02" r="2.1" fill="#cc0a7f"/>
<circle cx="304.15" cy="461.37" r="2.1" fill="#cc0a7f"/>
<circle cx="304.63" cy="461.39" r="2.1" fill="#cc0a7f"/>
<circle cx="305.11" cy="460.74" r="2.1" fill="#cc0a7f"/>
<circle cx="305.58" cy="462.15" r="2.1" fill="#cc0a7f"/>
<circle cx="306.06" cy="460.41" r="2.1" fill="#cc0a7f"/>
<circle cx="306.54" cy="462" r="2.1" fill="#cc0a7f"/>
<circle cx="307.02" cy="461.83" r="2.1" fill="#cc0a7f"/>
<circle cx="307.5" cy="461.4" r="2.1" fill="#cc0a7f"/>
<circle cx="307.98" cy="462.15" r="2.1" fill="#cc0a7f"/>
<circle cx="308.45" cy="460.36" r="2.1" fill="#cc0a7f"/>
<circle cx="308.93" cy="461.35" r="2.1" fill="#cc0a7f"/>
<circle cx="309.41" cy="461.41" r="2.1" fill="#cc0a7f"/>
<circle cx="309.89" cy="461.46" r="2.1" fill="#cc0a7f"/>
<circle cx="310.37" cy="460.36" r="2.1" fill="#cc0a7f"/>
<circle cx="310.85" cy="461.45" r="2.1" fill="#cc0a7f"/>
<circle cx="311.33" cy="460.8" r="2.1" fill="#cc0a7f"/>
<circle cx="311.8" cy="460.16" r="2.1" fill="#cc0a7f"/>
<circle cx="312.28" cy="461.25" r="2.1" fill="#cc0a7f"/>
<circle cx="312.76" cy="460.25" r="2.1" fill="#cc0a7f"/>
<circle cx="313.24" cy="460.97" r="2.1" fill="#cc0a7f"/>
<circle cx="313.72" cy="461.31" r="2.1" fill="#cc0a7f"/>
<circle cx="314.2" cy="461.14" r="2.1" fill="#cc0a7f"/>
<circle cx="314.68" cy="461.39" r="2.1" fill="#cc0a7f"/>
<circle cx="315.15" cy="461.19" r="2.1" fill="#cc0a7f"/>
<circle cx="315.63" cy="461.51" r="2.1" fill="#cc0a7f"/>
<circle cx="316.11" cy="462.02" r="2.1" fill="#cc0a7f"/>
<circle cx="316.59" cy="460.42" r="2.1" fill="#cc0a7f"/>
<circle cx="317.07" cy="461.57" r="2.1" fill="#cc0a7f"/>
<circle cx="317.55" cy="461.79" r="2.1" fill="#cc0a7f"/>
<circle cx="318.02" cy="461.65" r="2.1" fill="#cc0a7f"/>
<circle cx="318.5" cy="460.93" r="2.1" fill="#cc0a7f"/>
<circle cx="318.98" cy="460.43" r="2.1" fill="#cc0a7f"/>
<circle cx="319.46" cy="460.9" r="2.1" fill="#cc0a7f"/>
<circle cx="319.94" cy="461.08" r="2.1" fill="#cc0a7f"/>
<circle cx="320.42" cy="460.4" r="2.1" fill="#cc0a7f"/>
<circle cx="320.9" cy="461.53" r="2.1" fill="#cc0a7f"/>
<circle cx="321.37" cy="461.26" r="2.1" fill="#cc0a7f"/>
<circle cx="321.85" cy="461.57" r="2.1" fill="#cc0a7f"/>
<circle cx="322.33" cy="461.18" r="2.1" fill="#cc0a7f"/>
<circle cx="322.81" cy="460.71" r="2.1" fill="#cc0a7f"/>
<circle cx="323.29" cy="460.81" r="2.1" fill="#cc0a7f"/>
<circle cx="323.77" cy="461.38" r="2.1" fill="#cc0a7f"/>
<circle cx="324.25" cy="461.01" r="2.1" fill="#cc0a7f"/>
<circle cx="324.72" cy="461.56" r="2.1" fill="#cc0a7f"/>
<circle cx="325.2" cy="460.22" r="2.1" fill="#cc0a7f"/>
<circle cx="325.68" cy="460.58" r="2.1" fill="#cc0a7f"/>
<circle cx="326.16" cy="460.03" r="2.1" fill="#cc0a7f"/>
<circle cx="326.64" cy="459.91" r="2.1" fill="#cc0a7f"/>
<circle cx="327.12" cy="460.73" r="2.1" fill="#cc0a7f"/>
<circle cx="327.59" cy="461.04" r="2.1" fill="#cc0a7f"/>
<circle cx="328.07" cy="459.91" r="2.1" fill="#cc0a7f"/>
<circle cx="328.55" cy="460.84" r="2.1" fill="#cc0a7f"/>
<circle cx="329.03" cy="461.1" r="2.1" fill="#cc0a7f"/>
<circle cx="329.51" cy="460.88" r="2.1" fill="#cc0a7f"/>
<circle cx="329.99" cy="461.66" r="2.1" fill="#cc0a7f"/>
<circle cx="330.47" cy="460.38" r="2.1" fill="#cc0a7f"/>
<circle cx="330.94" cy="460.52" r="2.1" fill="#cc0a7f"/>
<circle cx="331.42" cy="461.71" r="2.1" fill="#cc0a7f"/>
<circle cx="331.9" cy="460.15" r="2.1" fill="#cc0a7f"/>
<circle cx="332.38" cy="460.38" r="2.1" fill="#cc0a7f"/>
<circle cx="332.86" cy="460.32" r="2.1" fill="#cc0a7f"/>
<circle cx="333.34" cy="461.82" r="2.1" fill="#cc0a7f"/>
<circle cx="333.82" cy="460.4" r="2.1" fill="#cc0a7f"/>
<circle cx="334.29" cy="461.57" r="2.1" fill="#cc0a7f"/>
<circle cx="334.77" cy="461.83" r="2.1" fill="#cc0a7f"/>
<circle cx="335.25" cy="460.4" r="2.1" fill="#cc0a7f"/>
<circle cx="335.73" cy="460.43" r="2.1" fill="#cc0a7f"/>
<circle cx="336.21" cy="460.26" r="2.1" fill="#cc0a7f"/>
<circle cx="336.69" cy="461.37" r="2.1" fill="#cc0a7f"/>
<circle cx="337.16" cy="461.45" r="2.1" fill="#cc0a7f"/>
<circle cx="337.64" cy="460.01" r="2.1" fill="#cc0a7f"/>
<circle cx="338.12" cy="461.68" r="2.1" fill="#cc0a7f"/>
<circle cx="338.6" cy="459.95" r="2.1" fill="#cc0a7f"/>
<circle cx="339.08" cy="460.17" r="2.1" fill="#cc0a7f"/>
<circle cx="339.56" cy="460.26" r="2.1" fill="#cc0a7f"/>
<circle cx="340.04" cy="461.41" r="2.1" fill="#cc0a7f"/>
<circle cx="340.51" cy="460.33" r="2.1" fill="#cc0a7f"/>
<circle cx="340.99" cy="461.61" r="2.1" fill="#cc0a7f"/>
<circle cx="341.47" cy="461.2" r="2.1" fill="#cc0a7f"/>
<circle cx="341.95" cy="460.11" r="2.1" fill="#cc0a7f"/>
<circle cx="342.43" cy="460.96" r="2.1" fill="#cc0a7f"/>
<circle cx="342.91" cy="461.04" r="2.1" fill="#cc0a7f"/>
<circle cx="343.39" cy="460.04" r="2.1" fill="#cc0a7f"/>
<circle cx="343.86" cy="460.81" r="2.1" fill="#cc0a7f"/>
<circle cx="344.34" cy="460.47" r="2.1" fill="#cc0a7f"/>
<circle cx="344.82" cy="460.46" r="2.1" fill="#cc0a7f"/>
<circle cx="345.3" cy="459.98" r="2.1" fill="#cc0a7f"/>
<circle cx="345.78" cy="459.82" r="2.1" fill="#cc0a7f"/>
<circle cx="346.26" cy="461.37" r="2.1" fill="#cc0a7f"/>
<circle cx="346.73" cy="460.98" r="2.1" fill="#cc0a7f"/>
<circle cx="347.21" cy="460.09" r="2.1" fill="#cc0a7f"/>
<circle cx="347.69" cy="460.3" r="2.1" fill="#cc0a7f"/>
<circle cx="348.17" cy="459.88" r="2.1" fill="#cc0a7f"/>
<circle cx="348.65" cy="461.65" r="2.1" fill="#cc0a7f"/>
<circle cx="349.13" cy="460.26" r="2.1" fill="#cc0a7f"/>
<circle cx="349.61" cy="460.75" r="2.1" fill="#cc0a7f"/>
<circle cx="350.08" cy="459.64" r="2.1" fill="#cc0a7f"/>
<circle cx="350.56" cy="460.86" r="2.1" fill="#cc0a7f"/>
<circle cx="351.04" cy="459.82" r="2.1" fill="#cc0a7f"/>
<circle cx="351.52" cy="461.47" r="2.1" fill="#cc0a7f"/>
<circle cx="352" cy="461.07" r="2.1" fill="#cc0a7f"/>
<circle cx="352.48" cy="461.11" r="2.1" fill="#cc0a7f"/>
<circle cx="352.96" cy="460.41" r="2.1" fill="#cc0a7f"/>
<circle cx="353.43" cy="461.2" r="2.1" fill="#cc0a7f"/>
<circle cx="353.91" cy="460.26" r="2.1" fill="#cc0a7f"/>
<circle cx="354.39" cy="460.81" r="2.1" fill="#cc0a7f"/>
<circle cx="354.87" cy="460.39" r="2.1" fill="#cc0a7f"/>
<circle cx="355.35" cy="460.75" r="2.1" fill="#cc0a7f"/>
<circle cx="355.83" cy="460.07" r="2.1" fill="#cc0a7f"/>
<circle cx="356.3" cy="461.3" r="2.1" fill="#cc0a7f"/>
<circle cx="356.78" cy="460.1" r="2.1" fill="#cc0a7f"/>
<circle cx="357.26" cy="460.48" r="2.1" fill="#cc0a7f"/>
<circle cx="357.74" cy="460.31" r="2.1" fill="#cc0a7f"/>
<circle cx="358.22" cy="459.67" r="2.1" fill="#cc0a7f"/>
<circle cx="358.7" cy="460.44" r="2.1" fill="#cc0a7f"/>
<circle cx="359.18" cy="461.12" r="2.1" fill="#cc0a7f"/>
<circle cx="359.65" cy="460.56" r="2.1" fill="#cc0a7f"/>
<circle cx="360.13" cy="460.51" r="2.1" fill="#cc0a7f"/>
<circle cx="360.61" cy="459.67" r="2.1" fill="#cc0a7f"/>
<circle cx="361.09" cy="460.19" r="2.1" fill="#cc0a7f"/>
<circle cx="361.57" cy="460.38" r="2.1" fill="#cc0a7f"/>
<circle cx="362.05" cy="459.64" r="2.1" fill="#cc0a7f"/>
<circle cx="362.53" cy="461.32" r="2.1" fill="#cc0a7f"/>
<circle cx="363" cy="459.98" r="2.1" fill="#cc0a7f"/>
<circle cx="363.48" cy="460.19" r="2.1" fill="#cc0a7f"/>
<circle cx="363.96" cy="459.69" r="2.1" fill="#cc0a7f"/>
<circle cx="364.44" cy="459.74" r="2.1" fill="#cc0a7f"/>
<circle cx="364.92" cy="460.33" r="2.1" fill="#cc0a7f"/>
<circle cx="365.4" cy="460.11" r="2.1" fill="#cc0a7f"/>
<circle cx="365.87" cy="459.54" r="2.1" fill="#cc0a7f"/>
<circle cx="366.35" cy="460.14" r="2.1" fill="#cc0a7f"/>
<circle cx="366.83" cy="461.46" r="2.1" fill="#cc0a7f"/>
<circle cx="367.31" cy="460.89" r="2.1" fill="#cc0a7f"/>
<circle cx="367.79" cy="459.95" r="2.1" fill="#cc0a7f"/>
<circle cx="368.27" cy="460.83" r="2.1" fill="#cc0a7f"/>
<circle cx="368.75" cy="459.67" r="2.1" fill="#cc0a7f"/>
<circle cx="369.22" cy="460.69" r="2.1" fill="#cc0a7f"/>
<circle cx="369.7" cy="460.02" r="2.1" fill="#cc0a7f"/>
<circle cx="370.18" cy="459.51" r="2.1" fill="#cc0a7f"/>
<circle cx="370.66" cy="460.29" r="2.1" fill="#cc0a7f"/>
<circle cx="371.14" cy="461.1" r="2.1" fill="#cc0a7f"/>
<circle cx="371.62" cy="460.47" r="2.1" fill="#cc0a7f"/>
<circle cx="372.1" cy="460.84" r="2.1" fill="#cc0a7f"/>
<circle cx="372.57" cy="459.61" r="2.1" fill="#cc0a7f"/>
<circle cx="373.05" cy="460.65" r="2.1" fill="#cc0a7f"/>
<circle cx="373.53" cy="460.86" r="2.1" fill="#cc0a7f"/>
<circle cx="374.01" cy="460.53" r="2.1" fill="#cc0a7f"/>
<circle cx="374.49" cy="460.15" r="2.1" fill="#cc0a7f"/>
<circle cx="374.97" cy="459.85" r="2.1" fill="#cc0a7f"/>
<circle cx="375.44" cy="460.29" r="2.1" fill="#cc0a7f"/>
<circle cx="375.92" cy="460.53" r="2.1" fill="#cc0a7f"/>
<circle cx="376.4" cy="460.18" r="2.1" fill="#cc0a7f"/>
<circle cx="376.88" cy="461.15" r="2.1" fill="#cc0a7f"/>
<circle cx="377.36" cy="460.2" r="2.1" fill="#cc0a7f"/>
<circle cx="377.84" cy="459.84" r="2.1" fill="#cc0a7f"/>
<circle cx="378.32" cy="459.98" r="2.1" fill="#cc0a7f"/>
<circle cx="378.79" cy="460.58" r="2.1" fill="#cc0a7f"/>
<circle cx="379.27" cy="461.19" r="2.1" fill="#cc0a7f"/>
<circle cx="379.75" cy="459.63" r="2.1" fill="#cc0a7f"/>
<circle cx="380.23" cy="459.89" r="2.1" fill="#cc0a7f"/>
<circle cx="380.71" cy="460.44" r="2.1" fill="#cc0a7f"/>
<circle cx="381.19" cy="461.23" r="2.1" fill="#cc0a7f"/>
<circle cx="381.67" cy="461.25" r="2.1" fill="#cc0a7f"/>
<circle cx="382.14" cy="459.99" r="2.1" fill="#cc0a7f"/>
<circle cx="382.62" cy="461.11" r="2.1" fill="#cc0a7f"/>
<circle cx="383.1" cy="461.06" r="2.1" fill="#cc0a7f"/>
<circle cx="383.58" cy="459.62" r="2.1" fill="#cc0a7f"/>
<circle cx="384.06" cy="461.25" r="2.1" fill="#cc0a7f"/>
<circle cx="384.54" cy="460.89" r="2.1" fill="#cc0a7f"/>
<circle cx="385.01" cy="461.41" r="2.1" fill="#cc0a7f"/>
<circle cx="385.49" cy="460.3" r="2.1" fill="#cc0a7f"/>
<circle cx="385.97" cy="461.32" r="2.1" fill="#cc0a7f"/>
<circle cx="386.45" cy="460.2" r="2.1" fill="#cc0a7f"/>
<circle cx="386.93" cy="460.61" r="2.1" fill="#cc0a7f"/>
<circle cx="387.41" cy="460.62" r="2.1" fill="#cc0a7f"/>
<circle cx="387.89" cy="460.16" r="2.1" fill="#cc0a7f"/>
<circle cx="388.36" cy="461.6" r="2.1" fill="#cc0a7f"/>
<circle cx="388.84" cy="460.2" r="2.1" fill="#cc0a7f"/>
<circle cx="389.32" cy="461.34" r="2.1" fill="#cc0a7f"/>
<circle cx="389.8" cy="460.3" r="2.1" fill="#cc0a7f"/>
<circle cx="390.28" cy="460.19" r="2.1" fill="#cc0a7f"/>
<circle cx="390.76" cy="461.34" r="2.1" fill="#cc0a7f"/>
<circle cx="391.24" cy="460.17" r="2.1" fill="#cc0a7f"/>
<circle cx="391.71" cy="460.42" r="2.1" fill="#cc0a7f"/>
<circle cx="392.19" cy="461.13" r="2.1" fill="#cc0a7f"/>
<circle cx="392.67" cy="460.34" r="2.1" fill="#cc0a7f"/>
<circle cx="393.15" cy="461.38" r="2.1" fill="#cc0a7f"/>
<circle cx="393.63" cy="460.76" r="2.1" fill="#cc0a7f"/>
<circle cx="394.11" cy="459.7" r="2.1" fill="#cc0a7f"/>
<circle cx="394.58" cy="460.25" r="2.1" fill="#cc0a7f"/>
<circle cx="395.06" cy="461.32" r="2.1" fill="#cc0a7f"/>
<circle cx="395.54" cy="459.63" r="2.1" fill="#cc0a7f"/>
<circle cx="396.02" cy="459.92" r="2.1" fill="#cc0a7f"/>
<circle cx="396.5" cy="460.81" r="2.1" fill="#cc0a7f"/>
<circle cx="396.98" cy="461.22" r="2.1" fill="#cc0a7f"/>
<circle cx="397.46" cy="460.23" r="2.1" fill="#cc0a7f"/>
<circle cx="397.93" cy="461.62" r="2.1" fill="#cc0a7f"/>
<circle cx="398.41" cy="460.65" r="2.1" fill="#cc0a7f"/>
<circle cx="398.89" cy="461.56" r="2.1" fill="#cc0a7f"/>
<circle cx="399.37" cy="459.82" r="2.1" fill="#cc0a7f"/>
<circle cx="399.85" cy="461.03" r="2.1" fill="#cc0a7f"/>
<circle cx="400.33" cy="461.42" r="2.1" fill="#cc0a7f"/>
<circle cx="400.81" cy="461.02" r="2.1" fill="#cc0a7f"/>
<circle cx="401.28" cy="459.68" r="2.1" fill="#cc0a7f"/>
<circle cx="401.76" cy="461.33" r="2.1" fill="#cc0a7f"/>
<circle cx="402.24" cy="460.75" r="2.1" fill="#cc0a7f"/>
<circle cx="402.72" cy="460.49" r="2.1" fill="#cc0a7f"/>
<circle cx="403.2" cy="461.07" r="2.1" fill="#cc0a7f"/>
<circle cx="403.68" cy="460.52" r="2.1" fill="#cc0a7f"/>
<circle cx="404.15" cy="461.57" r="2.1" fill="#cc0a7f"/>
<circle cx="404.63" cy="460.71" r="2.1" fill="#cc0a7f"/>
<circle cx="405.11" cy="459.66" r="2.1" fill="#cc0a7f"/>
<circle cx="405.59" cy="460.68" r="2.1" fill="#cc0a7f"/>
<circle cx="406.07" cy="460.14" r="2.1" fill="#cc0a7f"/>
<circle cx="406.55" cy="460.99" r="2.1" fill="#cc0a7f"/>
<circle cx="407.03" cy="460.16" r="2.1" fill="#cc0a7f"/>
<circle cx="407.5" cy="461.13" r="2.1" fill="#cc0a7f"/>
<circle cx="407.98" cy="460.36" r="2.1" fill="#cc0a7f"/>
<circle cx="408.46" cy="459.72" r="2.1" fill="#cc0a7f"/>
<circle cx="408.94" cy="460.68" r="2.1" fill="#cc0a7f"/>
<circle cx="409.42" cy="460.08" r="2.1" fill="#cc0a7f"/>
<circle cx="409.9" cy="461.02" r="2.1" fill="#cc0a7f"/>
<circle cx="410.38" cy="460.95" r="2.1" fill="#cc0a7f"/>
<circle cx="410.85" cy="461.5" r="2.1" fill="#cc0a7f"/>
<circle cx="411.33" cy="461.1" r="2.1" fill="#cc0a7f"/>
<circle cx="411.81" cy="460.44" r="2.1" fill="#cc0a7f"/>
<circle cx="412.29" cy="460.2" r="2.1" fill="#cc0a7f"/>
<circle cx="412.77" cy="460.26" r="2.1" fill="#cc0a7f"/>
<circle cx="413.25" cy="460.36" r="2.1" fill="#cc0a7f"/>
<circle cx="413.72" cy="461.54" r="2.1" fill="#cc0a7f"/>
<circle cx="414.2" cy="460.17" r="2.1" fill="#cc0a7f"/>
<circle cx="414.68" cy="461.65" r="2.1" fill="#cc0a7f"/>
<circle cx="415.16" cy="460.89" r="2.1" fill="#cc0a7f"/>
<circle cx="415.64" cy="461.41" r="2.1" fill="#cc0a7f"/>
<circle cx="416.12" cy="460.95" r="2.1" fill="#cc0a7f"/>
<circle cx="416.6" cy="459.74" r="2.1" fill="#cc0a7f"/>
<circle cx="417.07" cy="460.63" r="2.1" fill="#cc0a7f"/>
<circle cx="417.55" cy="459.88" r="2.1" fill="#cc0a7f"/>
<circle cx="418.03" cy="460.32" r="2.1" fill="#cc0a7f"/>
<circle cx="418.51" cy="461.5" r="2.1" fill="#cc0a7f"/>
<circle cx="418.99" cy="460.24" r="2.1" fill="#cc0a7f"/>
<circle cx="419.47" cy="461.08" r="2.1" fill="#cc0a7f"/>
<circle cx="419.95" cy="460.46" r="2.1" fill="#cc0a7f"/>
<circle cx="420.42" cy="460.94" r="2.1" fill="#cc0a7f"/>
<circle cx="420.9" cy="460.4" r="2.1" fill="#cc0a7f"/>
<circle cx="421.38" cy="460.99" r="2.1" fill="#cc0a7f"/>
<circle cx="421.86" cy="461.25" r="2.1" fill="#cc0a7f"/>
<circle cx="422.34" cy="461.45" r="2.1" fill="#cc0a7f"/>
<circle cx="422.82" cy="459.85" r="2.1" fill="#cc0a7f"/>
<circle cx="423.29" cy="460.02" r="2.1" fill="#cc0a7f"/>
<circle cx="423.77" cy="461.21" r="2.1" fill="#cc0a7f"/>
<circle cx="424.25" cy="461.61" r="2.1" fill="#cc0a7f"/>
<circle cx="424.73" cy="461.51" r="2.1" fill="#cc0a7f"/>
<circle cx="425.21" cy="460.09" r="2.1" fill="#cc0a7f"/>
<circle cx="425.69" cy="459.85" r="2.1" fill="#cc0a7f"/>
<circle cx="426.17" cy="459.69" r="2.1" fill="#cc0a7f"/>
<circle cx="426.64" cy="460.92" r="2.1" fill="#cc0a7f"/>
<circle cx="427.12" cy="461.64" r="2.1" fill="#cc0a7f"/>
<circle cx="427.6" cy="461.3" r="2.1" fill="#cc0a7f"/>
<circle cx="428.08" cy="460.88" r="2.1" fill="#cc0a7f"/>
<circle cx="428.56" cy="460.25" r="2.1" fill="#cc0a7f"/>
<circle cx="429.04" cy="459.71" r="2.1" fill="#cc0a7f"/>
<circle cx="429.52" cy="460.52" r="2.1" fill="#cc0a7f"/>
<circle cx="429.99" cy="460.47" r="2.1" fill="#cc0a7f"/>
<circle cx="430.47" cy="461.46" r="2.1" fill="#cc0a7f"/>
<circle cx="430.95" cy="461.29" r="2.1" fill="#cc0a7f"/>
<circle cx="431.43" cy="461.47" r="2.1" fill="#cc0a7f"/>
<circle cx="431.91" cy="460.46" r="2.1" fill="#cc0a7f"/>
<circle cx="432.39" cy="460.94" r="2.1" fill="#cc0a7f"/>
<circle cx="432.86" cy="459.76" r="2.1" fill="#cc0a7f"/>
<circle cx="433.34" cy="460.02" r="2.1" fill="#cc0a7f"/>
<circle cx="433.82" cy="460.78" r="2.1" fill="#cc0a7f"/>
<circle cx="434.3" cy="461.32" r="2.1" fill="#cc0a7f"/>
<circle cx="434.78" cy="461.01" r="2.1" fill="#cc0a7f"/>
<circle cx="435.26" cy="461.7" r="2.1" fill="#cc0a7f"/>
<circle cx="435.74" cy="460.52" r="2.1" fill="#cc0a7f"/>
<circle cx="436.21" cy="460.07" r="2.1" fill="#cc0a7f"/>
<circle cx="436.69" cy="460.73" r="2.1" fill="#cc0a7f"/>
<circle cx="437.17" cy="461.48" r="2.1" fill="#cc0a7f"/>
<circle cx="437.65" cy="461.63" r="2.1" fill="#cc0a7f"/>
<circle cx="438.13" cy="461.67" r="2.1" fill="#cc0a7f"/>
<circle cx="438.61" cy="460.33" r="2.1" fill="#cc0a7f"/>
<circle cx="439.09" cy="459.96" r="2.1" fill="#cc0a7f"/>
<circle cx="439.56" cy="461.66" r="2.1" fill="#cc0a7f"/>
<circle cx="440.04" cy="461.77" r="2.1" fill="#cc0a7f"/>
<circle cx="440.52" cy="459.83" r="2.1" fill="#cc0a7f"/>
<circle cx="441" cy="461.43" r="2.1" fill="#cc0a7f"/>
<circle cx="441.48" cy="460.31" r="2.1" fill="#cc0a7f"/>
<circle cx="441.96" cy="461.02" r="2.1" fill="#cc0a7f"/>
<circle cx="442.43" cy="461.79" r="2.1" fill="#cc0a7f"/>
<circle cx="442.91" cy="460.15" r="2.1" fill="#cc0a7f"/>
<circle cx="443.39" cy="460.42" r="2.1" fill="#cc0a7f"/>
<circle cx="443.87" cy="460.64" r="2.1" fill="#cc0a7f"/>
<circle cx="444.35" cy="460.84" r="2.1" fill="#cc0a7f"/>
<circle cx="444.83" cy="460.69" r="2.1" fill="#cc0a7f"/>
<circle cx="445.31" cy="460.75" r="2.1" fill="#cc0a7f"/>
<circle cx="445.78" cy="460.93" r="2.1" fill="#cc0a7f"/>
<circle cx="446.26" cy="460.71" r="2.1" fill="#cc0a7f"/>
<circle cx="446.74" cy="460.53" r="2.1" fill="#cc0a7f"/>
<circle cx="447.22" cy="461.49" r="2.1" fill="#cc0a7f"/>
<circle cx="447.7" cy="460.99" r="2.1" fill="#cc0a7f"/>
<circle cx="448.18" cy="460.57" r="2.1" fill="#cc0a7f"/>
<circle cx="448.66" cy="461.65" r="2.1" fill="#cc0a7f"/>
<circle cx="449.13" cy="460.16" r="2.1" fill="#cc0a7f"/>
<circle cx="449.61" cy="460.34" r="2.1" fill="#cc0a7f"/>
<circle cx="450.09" cy="461.14" r="2.1" fill="#cc0a7f"/>
<circle cx="450.57" cy="460.48" r="2.1" fill="#cc0a7f"/>
<circle cx="451.05" cy="460.67" r="2.1" fill="#cc0a7f"/>
<circle cx="451.53" cy="460.96" r="2.1" fill="#cc0a7f"/>
<circle cx="452" cy="461.07" r="2.1" fill="#cc0a7f"/>
<circle cx="452.48" cy="460.49" r="2.1" fill="#cc0a7f"/>
<circle cx="452.96" cy="461.55" r="2.1" fill="#cc0a7f"/>
<circle cx="453.44" cy="460.06" r="2.1" fill="#cc0a7f"/>
<circle cx="453.92" cy="460.75" r="2.1" fill="#cc0a7f"/>
<circle cx="454.4" cy="460.54" r="2.1" fill="#cc0a7f"/>
<circle cx="454.88" cy="460.1" r="2.1" fill="#cc0a7f"/>
<circle cx="455.35" cy="461.38" r="2.1" fill="#cc0a7f"/>
<circle cx="455.83" cy="460.33" r="2.1" fill="#cc0a7f"/>
<circle cx="456.31" cy="460.43" r="2.1" fill="#cc0a7f"/>
<circle cx="456.79" cy="461.54" r="2.1" fill="#cc0a7f"/>
<circle cx="457.27" cy="460.66" r="2.1" fill="#cc0a7f"/>
<circle cx="457.75" cy="460.71" r="2.1" fill="#cc0a7f"/>
<circle cx="458.23" cy="459.92" r="2.1" fill="#cc0a7f"/>
<circle cx="458.7" cy="461.11" r="2.1" fill="#cc0a7f"/>
<circle cx="459.18" cy="461.36" r="2.1" fill="#cc0a7f"/>
<circle cx="459.66" cy="460.95" r="2.1" fill="#cc0a7f"/>
<circle cx="460.14" cy="461.32" r="2.1" fill="#cc0a7f"/>
<circle cx="460.62" cy="461.39" r="2.1" fill="#cc0a7f"/>
<circle cx="461.1" cy="459.88" r="2.1" fill="#cc0a7f"/>
<circle cx="461.57" cy="461.44" r="2.1" fill="#cc0a7f"/>
<circle cx="462.05" cy="460.33" r="2.1" fill="#cc0a7f"/>
<circle cx="462.53" cy="461.41" r="2.1" fill="#cc0a7f"/>
<circle cx="463.01" cy="460.15" r="2.1" fill="#cc0a7f"/>
<circle cx="463.49" cy="460.54" r="2.1" fill="#cc0a7f"/>
<circle cx="463.97" cy="461.48" r="2.1" fill="#cc0a7f"/>
<circle cx="464.45" cy="460.5" r="2.1" fill="#cc0a7f"/>
<circle cx="464.92" cy="460.42" r="2.1" fill="#cc0a7f"/>
<circle cx="465.4" cy="461.41" r="2.1" fill="#cc0a7f"/>
<circle cx="465.88" cy="460.94" r="2.1" fill="#cc0a7f"/>
<circle cx="466.36" cy="460.77" r="2.1" fill="#cc0a7f"/>
<circle cx="466.84" cy="460.45" r="2.1" fill="#cc0a7f"/>
<circle cx="467.32" cy="460.38" r="2.1" fill="#cc0a7f"/>
<circle cx="467.8" cy="460.02" r="2.1" fill="#cc0a7f"/>
<circle cx="468.27" cy="460.72" r="2.1" fill="#cc0a7f"/>
<circle cx="468.75" cy="460.14" r="2.1" fill="#cc0a7f"/>
<circle cx="469.23" cy="460.5" r="2.1" fill="#cc0a7f"/>
<circle cx="469.71" cy="460.25" r="2.1" fill="#cc0a7f"/>
<circle cx="470.19" cy="461.61" r="2.1" fill="#cc0a7f"/>
<circle cx="470.67" cy="460.86" r="2.1" fill="#cc0a7f"/>
<circle cx="471.14" cy="460.86" r="2.1" fill="#cc0a7f"/>
<circle cx="471.62" cy="460.18" r="2.1" fill="#cc0a7f"/>
<circle cx="472.1" cy="459.96" r="2.1" fill="#cc0a7f"/>
<circle cx="472.58" cy="460.62" r="2.1" fill="#cc0a7f"/>
<circle cx="473.06" cy="459.94" r="2.1" fill="#cc0a7f"/>
<circle cx="473.54" cy="460.85" r="2.1" fill="#cc0a7f"/>
<circle cx="474.02" cy="460.96" r="2.1" fill="#cc0a7f"/>
<circle cx="474.49" cy="460.5" r="2.1" fill="#cc0a7f"/>
<circle cx="474.97" cy="460.79" r="2.1" fill="#cc0a7f"/>
<circle cx="475.45" cy="459.93" r="2.1" fill="#cc0a7f"/>
<circle cx="475.93" cy="461.52" r="2.1" fill="#cc0a7f"/>
<circle cx="476.41" cy="460.94" r="2.1" fill="#cc0a7f"/>
<circle cx="476.89" cy="461.72" r="2.1" fill="#cc0a7f"/>
<circle cx="477.37" cy="461.15" r="2.1" fill="#cc0a7f"/>
<circle cx="477.84" cy="460.65" r="2.1" fill="#cc0a7f"/>
<circle cx="478.32" cy="461.09" r="2.1" fill="#cc0a7f"/>
<circle cx="478.8" cy="461.82" r="2.1" fill="#cc0a7f"/>
<circle cx="479.28" cy="461.83" r="2.1" fill="#cc0a7f"/>
<circle cx="479.76" cy="460.49" r="2.1" fill="#cc0a7f"/>
<circle cx="480.24" cy="459.97" r="2.1" fill="#cc0a7f"/>
<circle cx="480.71" cy="460.98" r="2.1" fill="#cc0a7f"/>
<circle cx="481.19" cy="461.68" r="2.1" fill="#cc0a7f"/>
<circle cx="481.67" cy="461.65" r="2.1" fill="#cc0a7f"/>
<circle cx="482.15" cy="460.07" r="2.1" fill="#cc0a7f"/>
<circle cx="482.63" cy="461.75" r="2.1" fill="#cc0a7f"/>
<circle cx="483.11" cy="459.91" r="2.1" fill="#cc0a7f"/>
<circle cx="483.59" cy="461.52" r="2.1" fill="#cc0a7f"/>
<circle cx="484.06" cy="461.71" r="2.1" fill="#cc0a7f"/>
<circle cx="484.54" cy="460.46" r="2.1" fill="#cc0a7f"/>
<circle cx="485.02" cy="461.23" r="2.1" fill="#cc0a7f"/>
<circle cx="485.5" cy="461.21" r="2.1" fill="#cc0a7f"/>
<circle cx="485.98" cy="460.25" r="2.1" fill="#cc0a7f"/>
<circle cx="486.46" cy="460.34" r="2.1" fill="#cc0a7f"/>
<circle cx="486.94" cy="460.48" r="2.1" fill="#cc0a7f"/>
<circle cx="487.41" cy="461.97" r="2.1" fill="#cc0a7f"/>
<circle cx="487.89" cy="461.48" r="2.1" fill="#cc0a7f"/>
<circle cx="488.37" cy="461.52" r="2.1" fill="#cc0a7f"/>
<circle cx="488.85" cy="460.97" r="2.1" fill="#cc0a7f"/>
<circle cx="489.33" cy="460.96" r="2.1" fill="#cc0a7f"/>
<circle cx="489.81" cy="461.31" r="2.1" fill="#cc0a7f"/>
<circle cx="490.28" cy="461.05" r="2.1" fill="#cc0a7f"/>
<circle cx="490.76" cy="460.38" r="2.1" fill="#cc0a7f"/>
<circle cx="491.24" cy="461.34" r="2.1" fill="#cc0a7f"/>
<circle cx="491.72" cy="461.34" r="2.1" fill="#cc0a7f"/>
<circle cx="492.2" cy="461.41" r="2.1" fill="#cc0a7f"/>
<circle cx="492.68" cy="460.85" r="2.1" fill="#cc0a7f"/>
<circle cx="493.16" cy="462.03" r="2.1" fill="#cc0a7f"/>
<circle cx="493.63" cy="460.24" r="2.1" fill="#cc0a7f"/>
<circle cx="494.11" cy="461.62" r="2.1" fill="#cc0a7f"/>
<circle cx="494.59" cy="461.4" r="2.1" fill="#cc0a7f"/>
<circle cx="495.07" cy="460.71" r="2.1" fill="#cc0a7f"/>
<circle cx="495.55" cy="462.09" r="2.1" fill="#cc0a7f"/>
<circle cx="496.03" cy="460.12" r="2.1" fill="#cc0a7f"/>
<circle cx="496.51" cy="461.25" r="2.1" fill="#cc0a7f"/>
<circle cx="496.98" cy="460.54" r="2.1" fill="#cc0a7f"/>
<circle cx="497.46" cy="461.17" r="2.1" fill="#cc0a7f"/>
<circle cx="497.94" cy="462.03" r="2.1" fill="#cc0a7f"/>
<circle cx="498.42" cy="461.66" r="2.1" fill="#cc0a7f"/>
<circle cx="498.9" cy="461.89" r="2.1" fill="#cc0a7f"/>
<circle cx="499.38" cy="460.3" r="2.1" fill="#cc0a7f"/>
<circle cx="499.85" cy="460.42" r="2.1" fill="#cc0a7f"/>
<circle cx="500.33" cy="460.85" r="2.1" fill="#cc0a7f"/>
<circle cx="500.81" cy="460.52" r="2.1" fill="#cc0a7f"/>
<circle cx="501.29" cy="461.03" r="2.1" fill="#cc0a7f"/>
<circle cx="501.77" cy="461.73" r="2.1" fill="#cc0a7f"/>
<circle cx="502.25" cy="460.21" r="2.1" fill="#cc0a7f"/>
<circle cx="502.73" cy="460.7" r="2.1" fill="#cc0a7f"/>
<circle cx="503.2" cy="461.72" r="2.1" fill="#cc0a7f"/>
<circle cx="503.68" cy="461.37" r="2.1" fill="#cc0a7f"/>
<circle cx="504.16" cy="462.23" r="2.1" fill="#cc0a7f"/>
<circle cx="504.64" cy="460.26" r="2.1" fill="#cc0a7f"/>
<circle cx="505.12" cy="461.3" r="2.1" fill="#cc0a7f"/>
<circle cx="505.6" cy="461.32" r="2.1" fill="#cc0a7f"/>
<circle cx="506.08" cy="462.25" r="2.1" fill="#cc0a7f"/>
<circle cx="506.55" cy="460.61" r="2.1" fill="#cc0a7f"/>
<circle cx="507.03" cy="462.18" r="2.1" fill="#cc0a7f"/>
<circle cx="507.51" cy="461.07" r="2.1" fill="#cc0a7f"/>
<circle cx="507.99" cy="461.03" r="2.1" fill="#cc0a7f"/>
<circle cx="508.47" cy="461.13" r="2.1" fill="#cc0a7f"/>
<circle cx="508.95" cy="460.64" r="2.1" fill="#cc0a7f"/>
<circle cx="509.42" cy="460.39" r="2.1" fill="#cc0a7f"/>
<circle cx="509.9" cy="460.96" r="2.1" fill="#cc0a7f"/>
<circle cx="510.38" cy="461.47" r="2.1" fill="#cc0a7f"/>
<circle cx="510.86" cy="461.93" r="2.1" fill="#cc0a7f"/>
<circle cx="511.34" cy="460.45" r="2.1" fill="#cc0a7f"/>
<circle cx="511.82" cy="461.36" r="2.1" fill="#cc0a7f"/>
<circle cx="512.3" cy="461.68" r="2.1" fill="#cc0a7f"/>
<circle cx="512.77" cy="461.35" r="2.1" fill="#cc0a7f"/>
<circle cx="513.25" cy="461.8" r="2.1" fill="#cc0a7f"/>
<circle cx="513.73" cy="462.18" r="2.1" fill="#cc0a7f"/>
<circle cx="514.21" cy="461.18" r="2.1" fill="#cc0a7f"/>
<circle cx="514.69" cy="462.03" r="2.1" fill="#cc0a7f"/>
<circle cx="515.17" cy="460.8" r="2.1" fill="#cc0a7f"/>
<circle cx="515.65" cy="460.99" r="2.1" fill="#cc0a7f"/>
<circle cx="516.12" cy="461.81" r="2.1" fill="#cc0a7f"/>
<circle cx="516.6" cy="461.54" r="2.1" fill="#cc0a7f"/>
<circle cx="517.08" cy="460.59" r="2.1" fill="#cc0a7f"/>
<circle cx="517.56" cy="461.87" r="2.1" fill="#cc0a7f"/>
<circle cx="518.04" cy="461.83" r="2.1" fill="#cc0a7f"/>
<circle cx="518.52" cy="461.54" r="2.1" fill="#cc0a7f"/>
<circle cx="518.99" cy="462.07" r="2.1" fill="#cc0a7f"/>
<circle cx="519.47" cy="462.04" r="2.1" fill="#cc0a7f"/>
<circle cx="519.95" cy="460.76" r="2.1" fill="#cc0a7f"/>
<circle cx="520.43" cy="461.32" r="2.1" fill="#cc0a7f"/>
<circle cx="520.91" cy="461.28" r="2.1" fill="#cc0a7f"/>
<circle cx="521.39" cy="461.09" r="2.1" fill="#cc0a7f"/>
<circle cx="521.87" cy="462.29" r="2.1" fill="#cc0a7f"/>
<circle cx="522.34" cy="461.81" r="2.1" fill="#cc0a7f"/>
<circle cx="522.82" cy="462.47" r="2.1" fill="#cc0a7f"/>
<circle cx="523.3" cy="460.58" r="2.1" fill="#cc0a7f"/>
<circle cx="523.78" cy="461.89" r="2.1" fill="#cc0a7f"/>
<circle cx="524.26" cy="461.45" r="2.1" fill="#cc0a7f"/>
<circle cx="524.74" cy="461.44" r="2.1" fill="#cc0a7f"/>
<circle cx="525.22" cy="462.36" r="2.1" fill="#cc0a7f"/>
<circle cx="525.69" cy="461.22" r="2.1" fill="#cc0a7f"/>
<circle cx="526.17" cy="460.79" r="2.1" fill="#cc0a7f"/>
<circle cx="526.65" cy="460.82" r="2.1" fill="#cc0a7f"/>
<circle cx="527.13" cy="462.48" r="2.1" fill="#cc0a7f"/>
<circle cx="527.61" cy="462.28" r="2.1" fill="#cc0a7f"/>
<circle cx="528.09" cy="461.82" r="2.1" fill="#cc0a7f"/>
<circle cx="528.56" cy="461.53" r="2.1" fill="#cc0a7f"/>
<circle cx="529.04" cy="462.51" r="2.1" fill="#cc0a7f"/>
<circle cx="529.52" cy="461.1" r="2.1" fill="#cc0a7f"/>
<circle cx="530" cy="461.1" r="2.1" fill="#cc0a7f"/>
<circle cx="530.48" cy="462.25" r="2.1" fill="#cc0a7f"/>
<circle cx="530.96" cy="461.11" r="2.1" fill="#cc0a7f"/>
<circle cx="531.44" cy="462.46" r="2.1" fill="#cc0a7f"/>
<circle cx="531.91" cy="462.61" r="2.1" fill="#cc0a7f"/>
<circle cx="532.39" cy="460.8" r="2.1" fill="#cc0a7f"/>
<circle cx="532.87" cy="462.08" r="2.1" fill="#cc0a7f"/>
<circle cx="533.35" cy="462.04" r="2.1" fill="#cc0a7f"/>
<circle cx="533.83" cy="461.05" r="2.1" fill="#cc0a7f"/>
<circle cx="534.31" cy="462.3" r="2.1" fill="#cc0a7f"/>
<circle cx="534.79" cy="461.02" r="2.1" fill="#cc0a7f"/>
<circle cx="535.26" cy="461.35" r="2.1" fill="#cc0a7f"/>
<circle cx="535.74" cy="462.14" r="2.1" fill="#cc0a7f"/>
<circle cx="536.22" cy="461.39" r="2.1" fill="#cc0a7f"/>
<circle cx="536.7" cy="461.47" r="2.1" fill="#cc0a7f"/>
<circle cx="537.18" cy="461.04" r="2.1" fill="#cc0a7f"/>
<circle cx="537.66" cy="461.26" r="2.1" fill="#cc0a7f"/>
<circle cx="538.13" cy="461.83" r="2.1" fill="#cc0a7f"/>
<circle cx="538.61" cy="461.04" r="2.1" fill="#cc0a7f"/>
<circle cx="539.09" cy="461.23" r="2.1" fill="#cc0a7f"/>
<circle cx="539.57" cy="460.85" r="2.1" fill="#cc0a7f"/>
<circle cx="540.05" cy="462.59" r="2.1" fill="#cc0a7f"/>
<circle cx="540.53" cy="462.48" r="2.1" fill="#cc0a7f"/>
<circle cx="541.01" cy="461.1" r="2.1" fill="#cc0a7f"/>
<circle cx="541.48" cy="461.55" r="2.1" fill="#cc0a7f"/>
<circle cx="541.96" cy="462.1" r="2.1" fill="#cc0a7f"/>
<circle cx="542.44" cy="462.13" r="2.1" fill="#cc0a7f"/>
<circle cx="542.92" cy="461.37" r="2.1" fill="#cc0a7f"/>
<circle cx="543.4" cy="461.05" r="2.1" fill="#cc0a7f"/>
<circle cx="543.88" cy="461.76" r="2.1" fill="#cc0a7f"/>
<circle cx="544.36" cy="462.68" r="2.1" fill="#cc0a7f"/>
<circle cx="544.83" cy="461.51" r="2.1" fill="#cc0a7f"/>
<circle cx="545.31" cy="462.47" r="2.1" fill="#cc0a7f"/>
<circle cx="545.79" cy="461.83" r="2.1" fill="#cc0a7f"/>
<circle cx="546.27" cy="461.66" r="2.1" fill="#cc0a7f"/>
<circle cx="546.75" cy="461.04" r="2.1" fill="#cc0a7f"/>
<circle cx="547.23" cy="462.87" r="2.1" fill="#cc0a7f"/>
<circle cx="547.7" cy="462.64" r="2.1" fill="#cc0a7f"/>
<circle cx="548.18" cy="461.14" r="2.1" fill="#cc0a7f"/>
<circle cx="548.66" cy="461.85" r="2.1" fill="#cc0a7f"/>
<circle cx="549.14" cy="462.43" r="2.1" fill="#cc0a7f"/>
<circle cx="549.62" cy="462.34" r="2.1" fill="#cc0a7f"/>
<circle cx="550.1" cy="462.11" r="2.1" fill="#cc0a7f"/>
<circle cx="550.58" cy="461.09" r="2.1" fill="#cc0a7f"/>
<circle cx="551.05" cy="461.67" r="2.1" fill="#cc0a7f"/>
<circle cx="551.53" cy="461.62" r="2.1" fill="#cc0a7f"/>
<circle cx="552.01" cy="461.22" r="2.1" fill="#cc0a7f"/>
<circle cx="552.49" cy="461.39" r="2.1" fill="#cc0a7f"/>
<circle cx="552.97" cy="462.46" r="2.1" fill="#cc0a7f"/>
<circle cx="553.45" cy="462.77" r="2.1" fill="#cc0a7f"/>
<circle cx="553.93" cy="461.3" r="2.1" fill="#cc0a7f"/>
<circle cx="554.4" cy="462.02" r="2.1" fill="#cc0a7f"/>
<circle cx="554.88" cy="461.6" r="2.1" fill="#cc0a7f"/>
<circle cx="555.36" cy="461.88" r="2.1" fill="#cc0a7f"/>
<circle cx="555.84" cy="462.69" r="2.1" fill="#cc0a7f"/>
<circle cx="556.32" cy="463.14" r="2.1" fill="#cc0a7f"/>
<circle cx="556.8" cy="463.1" r="2.1" fill="#cc0a7f"/>
<circle cx="557.27" cy="462.3" r="2.1" fill="#cc0a7f"/>
<circle cx="557.75" cy="461.41" r="2.1" fill="#cc0a7f"/>
<circle cx="558.23" cy="462.67" r="2.1" fill="#cc0a7f"/>
<circle cx="558.71" cy="462.24" r="2.1" fill="#cc0a7f"/>
<circle cx="559.19" cy="463.07" r="2.1" fill="#cc0a7f"/>
<circle cx="559.67" cy="462.8" r="2.1" fill="#cc0a7f"/>
<circle cx="560.15" cy="463.19" r="2.1" fill="#cc0a7f"/>
<circle cx="560.62" cy="463.06" r="2.1" fill="#cc0a7f"/>
<circle cx="561.1" cy="463.24" r="2.1" fill="#cc0a7f"/>
<circle cx="561.58" cy="463.2" r="2.1" fill="#cc0a7f"/>
<circle cx="562.06" cy="461.7" r="2.1" fill="#cc0a7f"/>
<circle cx="562.54" cy="462.21" r="2.1" fill="#cc0a7f"/>
<circle cx="563.02" cy="461.93" r="2.1" fill="#cc0a7f"/>
<circle cx="563.5" cy="463.41" r="2.1" fill="#cc0a7f"/>
<circle cx="563.97" cy="462.88" r="2.1" fill="#cc0a7f"/>
<circle cx="564.45" cy="462.13" r="2.1" fill="#cc0a7f"/>
<circle cx="564.93" cy="463.43" r="2.1" fill="#cc0a7f"/>
<circle cx="565.41" cy="462.82" r="2.1" fill="#cc0a7f"/>
<circle cx="565.89" cy="463.44" r="2.1" fill="#cc0a7f"/>
<circle cx="566.37" cy="462.85" r="2.1" fill="#cc0a7f"/>
<circle cx="566.84" cy="461.75" r="2.1" fill="#cc0a7f"/>
<circle cx="567.32" cy="463.48" r="2.1" fill="#cc0a7f"/>
<circle cx="567.8" cy="462.56" r="2.1" fill="#cc0a7f"/>
<circle cx="568.28" cy="462.32" r="2.1" fill="#cc0a7f"/>
<circle cx="568.76" cy="461.95" r="2.1" fill="#cc0a7f"/>
<circle cx="569.24" cy="463.24" r="2.1" fill="#cc0a7f"/>
<circle cx="569.72" cy="461.85" r="2.1" fill="#cc0a7f"/>
<circle cx="570.19" cy="462" r="2.1" fill="#cc0a7f"/>
<circle cx="570.67" cy="463.47" r="2.1" fill="#cc0a7f"/>
<circle cx="571.15" cy="462.41" r="2.1" fill="#cc0a7f"/>
<circle cx="571.63" cy="462.09" r="2.1" fill="#cc0a7f"/>
<circle cx="572.11" cy="461.67" r="2.1" fill="#cc0a7f"/>
<circle cx="572.59" cy="462.89" r="2.1" fill="#cc0a7f"/>
<circle cx="573.07" cy="461.8" r="2.1" fill="#cc0a7f"/>
<circle cx="573.54" cy="461.95" r="2.1" fill="#cc0a7f"/>
<circle cx="574.02" cy="463.7" r="2.1" fill="#cc0a7f"/>
<circle cx="574.5" cy="463.12" r="2.1" fill="#cc0a7f"/>
<circle cx="574.98" cy="462.45" r="2.1" fill="#cc0a7f"/>
<circle cx="575.46" cy="463.16" r="2.1" fill="#cc0a7f"/>
<circle cx="575.94" cy="462.97" r="2.1" fill="#cc0a7f"/>
<circle cx="576.41" cy="462.38" r="2.1" fill="#cc0a7f"/>
<circle cx="576.89" cy="462.14" r="2.1" fill="#cc0a7f"/>
<circle cx="577.37" cy="463.54" r="2.1" fill="#cc0a7f"/>
<circle cx="577.85" cy="463.84" r="2.1" fill="#cc0a7f"/>
<circle cx="578.33" cy="463.46" r="2.1" fill="#cc0a7f"/>
<circle cx="578.81" cy="462.82" r="2.1" fill="#cc0a7f"/>
<circle cx="579.29" cy="462.2" r="2.1" fill="#cc0a7f"/>
<circle cx="579.76" cy="463.21" r="2.1" fill="#cc0a7f"/>
<circle cx="580.24" cy="463.21" r="2.1" fill="#cc0a7f"/>
<circle cx="580.72" cy="463.26" r="2.1" fill="#cc0a7f"/>
<circle cx="581.2" cy="462.59" r="2.1" fill="#cc0a7f"/>
<circle cx="581.68" cy="462.23" r="2.1" fill="#cc0a7f"/>
<circle cx="582.16" cy="463.7" r="2.1" fill="#cc0a7f"/>
<circle cx="582.64" cy="462.02" r="2.1" fill="#cc0a7f"/>
<circle cx="583.11" cy="462.87" r="2.1" fill="#cc0a7f"/>
<circle cx="583.59" cy="463.59" r="2.1" fill="#cc0a7f"/>
<circle cx="584.07" cy="462.81" r="2.1" fill="#cc0a7f"/>
<circle cx="584.55" cy="462.43" r="2.1" fill="#cc0a7f"/>
<circle cx="585.03" cy="463.13" r="2.1" fill="#cc0a7f"/>
<circle cx="585.51" cy="464.06" r="2.1" fill="#cc0a7f"/>
<circle cx="585.98" cy="462.81" r="2.1" fill="#cc0a7f"/>
<circle cx="586.46" cy="462.82" r="2.1" fill="#cc0a7f"/>
<circle cx="586.94" cy="463.04" r="2.1" fill="#cc0a7f"/>
<circle cx="587.42" cy="462.74" r="2.1" fill="#cc0a7f"/>
<circle cx="587.9" cy="463.05" r="2.1" fill="#cc0a7f"/>
<circle cx="588.38" cy="463.47" r="2.1" fill="#cc0a7f"/>
<circle cx="588.86" cy="463.15" r="2.1" fill="#cc0a7f"/>
<circle cx="589.33" cy="463.68" r="2.1" fill="#cc0a7f"/>
<circle cx="589.81" cy="463.74" r="2.1" fill="#cc0a7f"/>
<circle cx="590.29" cy="463.13" r="2.1" fill="#cc0a7f"/>
<circle cx="590.77" cy="464.09" r="2.1" fill="#cc0a7f"/>
<circle cx="591.25" cy="462.65" r="2.1" fill="#cc0a7f"/>
<circle cx="591.73" cy="462.32" r="2.1" fill="#cc0a7f"/>
<circle cx="592.21" cy="464.03" r="2.1" fill="#cc0a7f"/>
<circle cx="592.68" cy="463.06" r="2.1" fill="#cc0a7f"/>
<circle cx="593.16" cy="463.55" r="2.1" fill="#cc0a7f"/>
<circle cx="593.64" cy="462.38" r="2.1" fill="#cc0a7f"/>
<circle cx="594.12" cy="462.48" r="2.1" fill="#cc0a7f"/>
<circle cx="594.6" cy="463.13" r="2.1" fill="#cc0a7f"/>
<circle cx="595.08" cy="464.18" r="2.1" fill="#cc0a7f"/>
<circle cx="595.55" cy="463.33" r="2.1" fill="#cc0a7f"/>
<circle cx="596.03" cy="464.04" r="2.1" fill="#cc0a7f"/>
<circle cx="596.51" cy="462.88" r="2.1" fill="#cc0a7f"/>
<circle cx="596.99" cy="463.96" r="2.1" fill="#cc0a7f"/>
<circle cx="597.47" cy="463.26" r="2.1" fill="#cc0a7f"/>
<circle cx="597.95" cy="463.01" r="2.1" fill="#cc0a7f"/>
<circle cx="598.43" cy="462.69" r="2.1" fill="#cc0a7f"/>
<circle cx="598.9" cy="462.77" r="2.1" fill="#cc0a7f"/>
<circle cx="599.38" cy="462.82" r="2.1" fill="#cc0a7f"/>
<circle cx="599.86" cy="462.99" r="2.1" fill="#cc0a7f"/>
<circle cx="600.34" cy="463.52" r="2.1" fill="#cc0a7f"/>
<circle cx="600.82" cy="463.89" r="2.1" fill="#cc0a7f"/>
<circle cx="601.3" cy="463.18" r="2.1" fill="#cc0a7f"/>
<circle cx="601.78" cy="463.74" r="2.1" fill="#cc0a7f"/>
<circle cx="602.25" cy="462.9" r="2.1" fill="#cc0a7f"/>
<circle cx="602.73" cy="464.24" r="2.1" fill="#cc0a7f"/>
<circle cx="603.21" cy="462.82" r="2.1" fill="#cc0a7f"/>
<circle cx="603.69" cy="462.86" r="2.1" fill="#cc0a7f"/>
<circle cx="604.17" cy="463.91" r="2.1" fill="#cc0a7f"/>
<circle cx="604.65" cy="464.27" r="2.1" fill="#cc0a7f"/>
<circle cx="605.12" cy="463.1" r="2.1" fill="#cc0a7f"/>
<circle cx="605.6" cy="464.66" r="2.1" fill="#cc0a7f"/>
<circle cx="606.08" cy="463.37" r="2.1" fill="#cc0a7f"/>
<circle cx="606.56" cy="464.7" r="2.1" fill="#cc0a7f"/>
<circle cx="607.04" cy="463.08" r="2.1" fill="#cc0a7f"/>
<circle cx="607.52" cy="462.87" r="2.1" fill="#cc0a7f"/>
<circle cx="608" cy="463.37" r="2.1" fill="#cc0a7f"/>
<circle cx="608.47" cy="464.03" r="2.1" fill="#cc0a7f"/>
<circle cx="608.95" cy="464.29" r="2.1" fill="#cc0a7f"/>
<circle cx="609.43" cy="463.99" r="2.1" fill="#cc0a7f"/>
<circle cx="609.91" cy="462.91" r="2.1" fill="#cc0a7f"/>
<circle cx="610.39" cy="464" r="2.1" fill="#cc0a7f"/>
<circle cx="610.87" cy="463.43" r="2.1" fill="#cc0a7f"/>
<circle cx="611.35" cy="463.02" r="2.1" fill="#cc0a7f"/>
<circle cx="611.82" cy="464.72" r="2.1" fill="#cc0a7f"/>
<circle cx="612.3" cy="464.75" r="2.1" fill="#cc0a7f"/>
<circle cx="612.78" cy="463.35" r="2.1" fill="#cc0a7f"/>
<circle cx="613.26" cy="464.31" r="2.1" fill="#cc0a7f"/>
<circle cx="613.74" cy="464.08" r="2.1" fill="#cc0a7f"/>
<circle cx="614.22" cy="464.14" r="2.1" fill="#cc0a7f"/>
<circle cx="614.69" cy="463.95" r="2.1" fill="#cc0a7f"/>
<circle cx="615.17" cy="464.25" r="2.1" fill="#cc0a7f"/>
<circle cx="615.65" cy="463.03" r="2.1" fill="#cc0a7f"/>
<circle cx="616.13" cy="463.81" r="2.1" fill="#cc0a7f"/>
<circle cx="616.61" cy="462.83" r="2.1" fill="#cc0a7f"/>
<circle cx="617.09" cy="463.22" r="2.1" fill="#cc0a7f"/>
<circle cx="617.57" cy="463.87" r="2.1" fill="#cc0a7f"/>
<circle cx="618.04" cy="462.94" r="2.1" fill="#cc0a7f"/>
<circle cx="618.52" cy="463.28" r="2.1" fill="#cc0a7f"/>
<circle cx="619" cy="462.91" r="2.1" fill="#cc0a7f"/>
<circle cx="619.48" cy="464.59" r="2.1" fill="#cc0a7f"/>
<circle cx="619.96" cy="464.26" r="2.1" fill="#cc0a7f"/>
<circle cx="620.44" cy="464.7" r="2.1" fill="#cc0a7f"/>
<circle cx="620.92" cy="464.87" r="2.1" fill="#cc0a7f"/>
<circle cx="621.39" cy="463.1" r="2.1" fill="#cc0a7f"/>
<circle cx="621.87" cy="464.38" r="2.1" fill="#cc0a7f"/>
<circle cx="622.35" cy="464.24" r="2.1" fill="#cc0a7f"/>
<circle cx="622.83" cy="463.66" r="2.1" fill="#cc0a7f"/>
<circle cx="623.31" cy="462.95" r="2.1" fill="#cc0a7f"/>
<circle cx="623.79" cy="464.48" r="2.1" fill="#cc0a7f"/>
<circle cx="624.26" cy="464.81" r="2.1" fill="#cc0a7f"/>
<circle cx="624.74" cy="463.32" r="2.1" fill="#cc0a7f"/>
<circle cx="625.22" cy="463.19" r="2.1" fill="#cc0a7f"/>
<circle cx="625.7" cy="463.43" r="2.1" fill="#cc0a7f"/>
<circle cx="626.18" cy="464.84" r="2.1" fill="#cc0a7f"/>
<circle cx="626.66" cy="463.36" r="2.1" fill="#cc0a7f"/>
<circle cx="627.14" cy="464.05" r="2.1" fill="#cc0a7f"/>
<circle cx="627.61" cy="464.06" r="2.1" fill="#cc0a7f"/>
<circle cx="628.09" cy="464.67" r="2.1" fill="#cc0a7f"/>
<circle cx="628.57" cy="463.05" r="2.1" fill="#cc0a7f"/>
<circle cx="629.05" cy="463.57" r="2.1" fill="#cc0a7f"/>
<circle cx="629.53" cy="463.33" r="2.1" fill="#cc0a7f"/>
<circle cx="630.01" cy="464.67" r="2.1" fill="#cc0a7f"/>
<circle cx="630.49" cy="463.12" r="2.1" fill="#cc0a7f"/>
<circle cx="630.96" cy="464.72" r="2.1" fill="#cc0a7f"/>
<circle cx="631.44" cy="464.38" r="2.1" fill="#cc0a7f"/>
<circle cx="631.92" cy="463.97" r="2.1" fill="#cc0a7f"/>
<circle cx="632.4" cy="464.29" r="2.1" fill="#cc0a7f"/>
<circle cx="632.88" cy="463.47" r="2.1" fill="#cc0a7f"/>
<circle cx="633.36" cy="464.07" r="2.1" fill="#cc0a7f"/>
<circle cx="633.83" cy="464.21" r="2.1" fill="#cc0a7f"/>
<circle cx="634.31" cy="464.18" r="2.1" fill="#cc0a7f"/>
<circle cx="634.79" cy="463.72" r="2.1" fill="#cc0a7f"/>
<circle cx="635.27" cy="463.68" r="2.1" fill="#cc0a7f"/>
<circle cx="635.75" cy="464.23" r="2.1" fill="#cc0a7f"/>
<circle cx="636.23" cy="464.36" r="2.1" fill="#cc0a7f"/>
<circle cx="636.71" cy="463.22" r="2.1" fill="#cc0a7f"/>
<circle cx="637.18" cy="463.86" r="2.1" fill="#cc0a7f"/>
<circle cx="637.66" cy="464.65" r="2.1" fill="#cc0a7f"/>
<circle cx="638.14" cy="463.78" r="2.1" fill="#cc0a7f"/>
<circle cx="638.62" cy="465.04" r="2.1" fill="#cc0a7f"/>
<circle cx="639.1" cy="464.8" r="2.1" fill="#cc0a7f"/>
<circle cx="639.58" cy="463.86" r="2.1" fill="#cc0a7f"/>
<circle cx="640.06" cy="463.91" r="2.1" fill="#cc0a7f"/>
<circle cx="640.53" cy="463.66" r="2.1" fill="#cc0a7f"/>
<circle cx="641.01" cy="463.61" r="2.1" fill="#cc0a7f"/>
<circle cx="641.49" cy="465" r="2.1" fill="#cc0a7f"/>
<circle cx="641.97" cy="463.28" r="2.1" fill="#cc0a7f"/>
<circle cx="642.45" cy="464.98" r="2.1" fill="#cc0a7f"/>
<circle cx="642.93" cy="464.89" r="2.1" fill="#cc0a7f"/>
<circle cx="643.4" cy="463.17" r="2.1" fill="#cc0a7f"/>
<circle cx="643.88" cy="463.14" r="2.1" fill="#cc0a7f"/>
<circle cx="644.36" cy="464.06" r="2.1" fill="#cc0a7f"/>
<circle cx="644.84" cy="465.13" r="2.1" fill="#cc0a7f"/>
<circle cx="645.32" cy="464.69" r="2.1" fill="#cc0a7f"/>
<circle cx="645.8" cy="464.04" r="2.1" fill="#cc0a7f"/>
<circle cx="646.28" cy="463.86" r="2.1" fill="#cc0a7f"/>
<circle cx="646.75" cy="464.04" r="2.1" fill="#cc0a7f"/>
<circle cx="647.23" cy="463.13" r="2.1" fill="#cc0a7f"/>
<circle cx="647.71" cy="464.09" r="2.1" fill="#cc0a7f"/>
<circle cx="648.19" cy="463.46" r="2.1" fill="#cc0a7f"/>
<circle cx="648.67" cy="463.22" r="2.1" fill="#cc0a7f"/>
<circle cx="649.15" cy="465.03" r="2.1" fill="#cc0a7f"/>
<circle cx="649.63" cy="463.2" r="2.1" fill="#cc0a7f"/>
<circle cx="650.1" cy="463.45" r="2.1" fill="#cc0a7f"/>
<circle cx="650.58" cy="463.21" r="2.1" fill="#cc0a7f"/>
<circle cx="651.06" cy="464.75" r="2.1" fill="#cc0a7f"/>
<circle cx="269.5" cy="459.3" r="2.2" fill="none" stroke="#e060a8" stroke-width="0.9"/>
<circle cx="291.3" cy="457" r="2.2" fill="none" stroke="#cc0a7f" stroke-width="1.1"/>
<circle cx="632.8" cy="459.2" r="2.3" fill="none" stroke="#e060a8" stroke-width="0.9"/>
<text x="458" y="449.7" font-size="8.7" text-anchor="start" fill="#222" stroke="#222" stroke-width="0.18" >1.0 C</text>
<circle cx="558.4" cy="429.6" r="2.6" fill="none" stroke="#e060a8" stroke-width="0.9"/>
<circle cx="558.4" cy="440.4" r="2.7" fill="#cc0a7f"/>
<circle cx="557.64" cy="439.59" r="0.81" fill="#fff" fill-opacity="0.85"/>
<text x="570.6" y="432.5" font-size="8.7" text-anchor="start" fill="#222" stroke="#222" stroke-width="0.18" >Charge</text>
<text x="570.6" y="443" font-size="8.7" text-anchor="start" fill="#222" stroke="#222" stroke-width="0.18" >Discharge</text>
<text x="274.7" y="493.4" font-size="8.7" text-anchor="start" fill="#222" stroke="#222" stroke-width="0.18" >−30 °C</text>
<text x="274.7" y="507.4" font-size="8.7" text-anchor="start" fill="#222" stroke="#222" stroke-width="0.18" >BiF<tspan font-size="5.39" dy="1.91">3</tspan><tspan dy="-1.91">@Al||NFPP (10 mg cm<tspan font-size="5.39" dy="-3.31">−2</tspan><tspan dy="3.31">)</tspan></tspan></text>
<path d="M281.7,456.8 C282,453 278,451.5 274.5,452.5" fill="none" stroke="#222" stroke-width="0.8" />
<path d="M272.6,453 L275.29,452.06 L275.09,454.39 Z" fill="#222"/>
<path d="M638,408 C639,413 643,416 647.5,416" fill="none" stroke="#222" stroke-width="0.8" />
<path d="M650,416 L647.34,417.03 L647.46,414.7 Z" fill="#222"/>
<text x="1" y="558" font-size="16" text-anchor="start" fill="#111" font-weight="bold" >h</text>
<rect x="37.3" y="562.4" width="165" height="132" fill="url(#gblue)"/>
<rect x="37.3" y="562.4" width="165" height="132" fill="none" stroke="#2a2a2a" stroke-width="1"/>
<line x1="37.3" y1="694.4" x2="37.3" y2="697.4" stroke="#2a2a2a" stroke-width="1" />
<text x="37.3" y="706.7" font-size="9.5" text-anchor="middle" fill="#222" stroke="#222" stroke-width="0.18" >0.0</text>
<line x1="67.3" y1="694.4" x2="67.3" y2="697.4" stroke="#2a2a2a" stroke-width="1" />
<text x="67.3" y="706.7" font-size="9.5" text-anchor="middle" fill="#222" stroke="#222" stroke-width="0.18" >0.2</text>
<line x1="97.3" y1="694.4" x2="97.3" y2="697.4" stroke="#2a2a2a" stroke-width="1" />
<text x="97.3" y="706.7" font-size="9.5" text-anchor="middle" fill="#222" stroke="#222" stroke-width="0.18" >0.4</text>
<line x1="127.3" y1="694.4" x2="127.3" y2="697.4" stroke="#2a2a2a" stroke-width="1" />
<text x="127.3" y="706.7" font-size="9.5" text-anchor="middle" fill="#222" stroke="#222" stroke-width="0.18" >0.6</text>
<line x1="157.3" y1="694.4" x2="157.3" y2="697.4" stroke="#2a2a2a" stroke-width="1" />
<text x="157.3" y="706.7" font-size="9.5" text-anchor="middle" fill="#222" stroke="#222" stroke-width="0.18" >0.8</text>
<line x1="187.3" y1="694.4" x2="187.3" y2="697.4" stroke="#2a2a2a" stroke-width="1" />
<text x="187.3" y="706.7" font-size="9.5" text-anchor="middle" fill="#222" stroke="#222" stroke-width="0.18" >1.0</text>
<line x1="52.3" y1="694.4" x2="52.3" y2="696" stroke="#2a2a2a" stroke-width="1" />
<line x1="82.3" y1="694.4" x2="82.3" y2="696" stroke="#2a2a2a" stroke-width="1" />
<line x1="112.3" y1="694.4" x2="112.3" y2="696" stroke="#2a2a2a" stroke-width="1" />
<line x1="142.3" y1="694.4" x2="142.3" y2="696" stroke="#2a2a2a" stroke-width="1" />
<line x1="172.3" y1="694.4" x2="172.3" y2="696" stroke="#2a2a2a" stroke-width="1" />
<line x1="202.3" y1="694.4" x2="202.3" y2="696" stroke="#2a2a2a" stroke-width="1" />
<line x1="34.3" y1="688.29" x2="37.3" y2="688.29" stroke="#2a2a2a" stroke-width="1" />
<text x="32.7" y="691.49" font-size="9.5" text-anchor="end" fill="#222" stroke="#222" stroke-width="0.18" >0</text>
<line x1="34.3" y1="656.82" x2="37.3" y2="656.82" stroke="#2a2a2a" stroke-width="1" />
<text x="32.7" y="660.02" font-size="9.5" text-anchor="end" fill="#222" stroke="#222" stroke-width="0.18" >500</text>
<line x1="34.3" y1="625.35" x2="37.3" y2="625.35" stroke="#2a2a2a" stroke-width="1" />
<text x="32.7" y="628.55" font-size="9.5" text-anchor="end" fill="#222" stroke="#222" stroke-width="0.18" >1000</text>
<line x1="34.3" y1="593.87" x2="37.3" y2="593.87" stroke="#2a2a2a" stroke-width="1" />
<text x="32.7" y="597.07" font-size="9.5" text-anchor="end" fill="#222" stroke="#222" stroke-width="0.18" >1500</text>
<line x1="34.3" y1="562.4" x2="37.3" y2="562.4" stroke="#2a2a2a" stroke-width="1" />
<text x="32.7" y="565.6" font-size="9.5" text-anchor="end" fill="#222" stroke="#222" stroke-width="0.18" >2000</text>
<line x1="35.7" y1="672.56" x2="37.3" y2="672.56" stroke="#2a2a2a" stroke-width="1" />
<line x1="35.7" y1="641.08" x2="37.3" y2="641.08" stroke="#2a2a2a" stroke-width="1" />
<line x1="35.7" y1="609.61" x2="37.3" y2="609.61" stroke="#2a2a2a" stroke-width="1" />
<line x1="35.7" y1="578.14" x2="37.3" y2="578.14" stroke="#2a2a2a" stroke-width="1" />
<text x="7.8" y="628.3" font-size="9.7" text-anchor="middle" fill="#222" stroke="#222" stroke-width="0.18" transform="rotate(-90 7.8 628.3)" >Cycle number</text>
<text x="120" y="716" font-size="10" text-anchor="middle" fill="#222" stroke="#222" stroke-width="0.18" >Rate (C)</text>
<rect x="37.3" y="562.4" width="118.1" height="30.3" fill="none" stroke="#333" stroke-width="0.9" stroke-dasharray="1.2 1.2"/>
<rect x="44.1" y="574.8" width="103.5" height="5.6" fill="url(#gvir)"/>
<text x="98" y="571.7" font-size="8" text-anchor="middle" fill="#222" stroke="#222" stroke-width="0.18" >Temperature (<tspan font-size="4.96" dy="-3.04">o</tspan><tspan dy="3.04">C)</tspan></text>
<text x="46.9" y="590" font-size="8" text-anchor="middle" fill="#222" stroke="#222" stroke-width="0.18" >−15</text>
<text x="65.1" y="590" font-size="8" text-anchor="middle" fill="#222" stroke="#222" stroke-width="0.18" >−20</text>
<text x="84.3" y="590" font-size="8" text-anchor="middle" fill="#222" stroke="#222" stroke-width="0.18" >−25</text>
<text x="104.3" y="590" font-size="8" text-anchor="middle" fill="#222" stroke="#222" stroke-width="0.18" >−30</text>
<text x="125.3" y="590" font-size="8" text-anchor="middle" fill="#222" stroke="#222" stroke-width="0.18" >−35</text>
<text x="145.4" y="590" font-size="8" text-anchor="middle" fill="#222" stroke="#222" stroke-width="0.18" >−40</text>
<circle cx="52.5" cy="675.7" r="3" fill="#4b0f6b"/>
<circle cx="51.66" cy="674.8" r="0.90" fill="#fff" fill-opacity="0.85"/>
<circle cx="67.4" cy="685.7" r="3" fill="#4b0f6b"/>
<circle cx="66.56" cy="684.8" r="0.90" fill="#fff" fill-opacity="0.85"/>
<circle cx="112.1" cy="650.1" r="3" fill="#7ccc4a"/>
<circle cx="111.26" cy="649.2" r="0.90" fill="#fff" fill-opacity="0.85"/>
<circle cx="112.1" cy="671.7" r="3" fill="#7ccc4a"/>
<circle cx="111.26" cy="670.8" r="0.90" fill="#fff" fill-opacity="0.85"/>
<circle cx="112.1" cy="669" r="3" fill="#4b0f6b"/>
<circle cx="111.26" cy="668.1" r="0.90" fill="#fff" fill-opacity="0.85"/>
<circle cx="112.1" cy="675.9" r="3" fill="#f8e020"/>
<circle cx="111.26" cy="675" r="0.90" fill="#fff" fill-opacity="0.85"/>
<circle cx="112.1" cy="685.7" r="3" fill="#7ccc4a"/>
<circle cx="111.26" cy="684.8" r="0.90" fill="#fff" fill-opacity="0.85"/>
<circle cx="187.1" cy="662.9" r="3" fill="#4b0f6b"/>
<circle cx="186.26" cy="662" r="0.90" fill="#fff" fill-opacity="0.85"/>
<circle cx="187.1" cy="681.6" r="3" fill="#2e7e9c"/>
<circle cx="186.26" cy="680.7" r="0.90" fill="#fff" fill-opacity="0.85"/>
<polygon points="187.1,581.6 188.43,585.17 192.24,585.33 189.26,587.7 190.27,591.37 187.1,589.27 183.93,591.37 184.94,587.7 181.96,585.33 185.77,585.17" fill="#2a7393"/>
<text x="179.3" y="600" font-size="8.5" text-anchor="middle" fill="#e8141c" font-weight="bold" >Our work</text>
<text x="43.8" y="667.6" font-size="8.5" text-anchor="start" fill="#222" stroke="#222" stroke-width="0.18" >Ref. 3</text>
<text x="72.7" y="688.3" font-size="8.5" text-anchor="start" fill="#222" stroke="#222" stroke-width="0.18" >Ref. 40</text>
<text x="107.7" y="674.3" font-size="8.5" text-anchor="end" fill="#222" stroke="#222" stroke-width="0.18" >Ref. 39</text>
<text x="116.7" y="646.3" font-size="8.5" text-anchor="start" fill="#222" stroke="#222" stroke-width="0.18" >Ref. 42</text>
<text x="115.8" y="666.9" font-size="8.5" text-anchor="start" fill="#222" stroke="#222" stroke-width="0.18" >Ref. 41</text>
<text x="116.3" y="678.3" font-size="8.5" text-anchor="start" fill="#222" stroke="#222" stroke-width="0.18" >Ref. 43</text>
<text x="116.3" y="689.7" font-size="8.5" text-anchor="start" fill="#222" stroke="#222" stroke-width="0.18" >Ref. 40</text>
<text x="184.4" y="661.2" font-size="8.5" text-anchor="end" fill="#222" stroke="#222" stroke-width="0.18" >Ref. 7</text>
<text x="182.7" y="682.7" font-size="8.5" text-anchor="end" fill="#222" stroke="#222" stroke-width="0.18" >Ref. 44</text>
<text x="231.5" y="558.9" font-size="16" text-anchor="start" fill="#111" font-weight="bold" >i</text>
<rect x="269.3" y="562.4" width="164.1" height="132" fill="none" stroke="#2a2a2a" stroke-width="1"/>
<line x1="269.3" y1="694.4" x2="269.3" y2="697.4" stroke="#2a2a2a" stroke-width="1" />
<text x="269.3" y="706.7" font-size="9.5" text-anchor="middle" fill="#222" stroke="#222" stroke-width="0.18" >0</text>
<line x1="295.77" y1="694.4" x2="295.77" y2="697.4" stroke="#2a2a2a" stroke-width="1" />
<text x="295.77" y="706.7" font-size="9.5" text-anchor="middle" fill="#222" stroke="#222" stroke-width="0.18" >5</text>
<line x1="322.24" y1="694.4" x2="322.24" y2="697.4" stroke="#2a2a2a" stroke-width="1" />
<text x="322.24" y="706.7" font-size="9.5" text-anchor="middle" fill="#222" stroke="#222" stroke-width="0.18" >10</text>
<line x1="348.7" y1="694.4" x2="348.7" y2="697.4" stroke="#2a2a2a" stroke-width="1" />
<text x="348.7" y="706.7" font-size="9.5" text-anchor="middle" fill="#222" stroke="#222" stroke-width="0.18" >15</text>
<line x1="375.17" y1="694.4" x2="375.17" y2="697.4" stroke="#2a2a2a" stroke-width="1" />
<text x="375.17" y="706.7" font-size="9.5" text-anchor="middle" fill="#222" stroke="#222" stroke-width="0.18" >20</text>
<line x1="401.64" y1="694.4" x2="401.64" y2="697.4" stroke="#2a2a2a" stroke-width="1" />
<text x="401.64" y="706.7" font-size="9.5" text-anchor="middle" fill="#222" stroke="#222" stroke-width="0.18" >25</text>
<line x1="428.11" y1="694.4" x2="428.11" y2="697.4" stroke="#2a2a2a" stroke-width="1" />
<text x="428.11" y="706.7" font-size="9.5" text-anchor="middle" fill="#222" stroke="#222" stroke-width="0.18" >30</text>
<line x1="282.53" y1="694.4" x2="282.53" y2="696" stroke="#2a2a2a" stroke-width="1" />
<line x1="309" y1="694.4" x2="309" y2="696" stroke="#2a2a2a" stroke-width="1" />
<line x1="335.47" y1="694.4" x2="335.47" y2="696" stroke="#2a2a2a" stroke-width="1" />
<line x1="361.94" y1="694.4" x2="361.94" y2="696" stroke="#2a2a2a" stroke-width="1" />
<line x1="388.4" y1="694.4" x2="388.4" y2="696" stroke="#2a2a2a" stroke-width="1" />
<line x1="414.87" y1="694.4" x2="414.87" y2="696" stroke="#2a2a2a" stroke-width="1" />
<line x1="266.3" y1="694.4" x2="269.3" y2="694.4" stroke="#2a2a2a" stroke-width="1" />
<text x="264.7" y="697.6" font-size="9.5" text-anchor="end" fill="#222" stroke="#222" stroke-width="0.18" >0</text>
<line x1="266.3" y1="661.4" x2="269.3" y2="661.4" stroke="#2a2a2a" stroke-width="1" />
<text x="264.7" y="664.6" font-size="9.5" text-anchor="end" fill="#222" stroke="#222" stroke-width="0.18" >20</text>
<line x1="266.3" y1="628.4" x2="269.3" y2="628.4" stroke="#2a2a2a" stroke-width="1" />
<text x="264.7" y="631.6" font-size="9.5" text-anchor="end" fill="#222" stroke="#222" stroke-width="0.18" >40</text>
<line x1="266.3" y1="595.4" x2="269.3" y2="595.4" stroke="#2a2a2a" stroke-width="1" />
<text x="264.7" y="598.6" font-size="9.5" text-anchor="end" fill="#222" stroke="#222" stroke-width="0.18" >60</text>
<line x1="266.3" y1="562.4" x2="269.3" y2="562.4" stroke="#2a2a2a" stroke-width="1" />
<text x="264.7" y="565.6" font-size="9.5" text-anchor="end" fill="#222" stroke="#222" stroke-width="0.18" >80</text>
<line x1="267.7" y1="677.9" x2="269.3" y2="677.9" stroke="#2a2a2a" stroke-width="1" />
<line x1="267.7" y1="644.9" x2="269.3" y2="644.9" stroke="#2a2a2a" stroke-width="1" />
<line x1="267.7" y1="611.9" x2="269.3" y2="611.9" stroke="#2a2a2a" stroke-width="1" />
<line x1="267.7" y1="578.9" x2="269.3" y2="578.9" stroke="#2a2a2a" stroke-width="1" />
<line x1="433.4" y1="694.4" x2="436.4" y2="694.4" stroke="#2a2a2a" stroke-width="1" />
<text x="437.6" y="697.6" font-size="9.5" text-anchor="start" fill="#222" stroke="#222" stroke-width="0.18" >0</text>
<line x1="433.4" y1="669.16" x2="436.4" y2="669.16" stroke="#2a2a2a" stroke-width="1" />
<text x="437.6" y="672.36" font-size="9.5" text-anchor="start" fill="#222" stroke="#222" stroke-width="0.18" >20</text>
<line x1="433.4" y1="643.92" x2="436.4" y2="643.92" stroke="#2a2a2a" stroke-width="1" />
<text x="437.6" y="647.12" font-size="9.5" text-anchor="start" fill="#222" stroke="#222" stroke-width="0.18" >40</text>
<line x1="433.4" y1="618.68" x2="436.4" y2="618.68" stroke="#2a2a2a" stroke-width="1" />
<text x="437.6" y="621.88" font-size="9.5" text-anchor="start" fill="#222" stroke="#222" stroke-width="0.18" >60</text>
<line x1="433.4" y1="593.44" x2="436.4" y2="593.44" stroke="#2a2a2a" stroke-width="1" />
<text x="437.6" y="596.64" font-size="9.5" text-anchor="start" fill="#222" stroke="#222" stroke-width="0.18" >80</text>
<line x1="433.4" y1="568.2" x2="436.4" y2="568.2" stroke="#2a2a2a" stroke-width="1" />
<text x="437.6" y="571.4" font-size="9.5" text-anchor="start" fill="#222" stroke="#222" stroke-width="0.18" >100</text>
<line x1="433.4" y1="681.78" x2="435" y2="681.78" stroke="#2a2a2a" stroke-width="1" />
<line x1="433.4" y1="656.54" x2="435" y2="656.54" stroke="#2a2a2a" stroke-width="1" />
<line x1="433.4" y1="631.3" x2="435" y2="631.3" stroke="#2a2a2a" stroke-width="1" />
<line x1="433.4" y1="606.06" x2="435" y2="606.06" stroke="#2a2a2a" stroke-width="1" />
<line x1="433.4" y1="580.82" x2="435" y2="580.82" stroke="#2a2a2a" stroke-width="1" />
<text x="248.3" y="628.4" font-size="10" text-anchor="middle" fill="#222" stroke="#222" stroke-width="0.18" transform="rotate(-90 248.3 628.4)" >Capacity (mAh)</text>
<text x="464" y="628.4" font-size="10" text-anchor="middle" fill="#222" stroke="#222" stroke-width="0.18" transform="rotate(-90 464 628.4)" >Coulombic efficiency (%)</text>
<text x="351.3" y="717.5" font-size="10" text-anchor="middle" fill="#222" stroke="#222" stroke-width="0.18" >Cycle number</text>
<circle cx="274.59" cy="574.01" r="2.3" fill="none" stroke="#cc0a7f" stroke-width="1.3"/>
<circle cx="274.59" cy="574.01" r="0.45" fill="#cc0a7f"/>
<circle cx="279.89" cy="570.48" r="2.3" fill="none" stroke="#cc0a7f" stroke-width="1.3"/>
<circle cx="279.89" cy="570.48" r="0.45" fill="#cc0a7f"/>
<circle cx="285.18" cy="569.72" r="2.3" fill="none" stroke="#cc0a7f" stroke-width="1.3"/>
<circle cx="285.18" cy="569.72" r="0.45" fill="#cc0a7f"/>
<circle cx="290.47" cy="569.09" r="2.3" fill="none" stroke="#cc0a7f" stroke-width="1.3"/>
<circle cx="290.47" cy="569.09" r="0.45" fill="#cc0a7f"/>
<circle cx="295.77" cy="569.09" r="2.3" fill="none" stroke="#cc0a7f" stroke-width="1.3"/>
<circle cx="295.77" cy="569.09" r="0.45" fill="#cc0a7f"/>
<circle cx="301.06" cy="570.22" r="2.3" fill="none" stroke="#cc0a7f" stroke-width="1.3"/>
<circle cx="301.06" cy="570.22" r="0.45" fill="#cc0a7f"/>
<circle cx="306.35" cy="568.2" r="2.3" fill="none" stroke="#cc0a7f" stroke-width="1.3"/>
<circle cx="306.35" cy="568.2" r="0.45" fill="#cc0a7f"/>
<circle cx="311.65" cy="568.96" r="2.3" fill="none" stroke="#cc0a7f" stroke-width="1.3"/>
<circle cx="311.65" cy="568.96" r="0.45" fill="#cc0a7f"/>
<circle cx="316.94" cy="570.35" r="2.3" fill="none" stroke="#cc0a7f" stroke-width="1.3"/>
<circle cx="316.94" cy="570.35" r="0.45" fill="#cc0a7f"/>
<circle cx="322.24" cy="570.35" r="2.3" fill="none" stroke="#cc0a7f" stroke-width="1.3"/>
<circle cx="322.24" cy="570.35" r="0.45" fill="#cc0a7f"/>
<circle cx="327.53" cy="570.48" r="2.3" fill="none" stroke="#cc0a7f" stroke-width="1.3"/>
<circle cx="327.53" cy="570.48" r="0.45" fill="#cc0a7f"/>
<circle cx="332.82" cy="570.48" r="2.3" fill="none" stroke="#cc0a7f" stroke-width="1.3"/>
<circle cx="332.82" cy="570.48" r="0.45" fill="#cc0a7f"/>
<circle cx="338.12" cy="569.72" r="2.3" fill="none" stroke="#cc0a7f" stroke-width="1.3"/>
<circle cx="338.12" cy="569.72" r="0.45" fill="#cc0a7f"/>
<circle cx="343.41" cy="568.46" r="2.3" fill="none" stroke="#cc0a7f" stroke-width="1.3"/>
<circle cx="343.41" cy="568.46" r="0.45" fill="#cc0a7f"/>
<circle cx="348.7" cy="567.7" r="2.3" fill="none" stroke="#cc0a7f" stroke-width="1.3"/>
<circle cx="348.7" cy="567.7" r="0.45" fill="#cc0a7f"/>
<circle cx="354" cy="566.06" r="2.3" fill="none" stroke="#cc0a7f" stroke-width="1.3"/>
<circle cx="354" cy="566.06" r="0.45" fill="#cc0a7f"/>
<circle cx="359.29" cy="568.84" r="2.3" fill="none" stroke="#cc0a7f" stroke-width="1.3"/>
<circle cx="359.29" cy="568.84" r="0.45" fill="#cc0a7f"/>
<circle cx="364.58" cy="570.48" r="2.3" fill="none" stroke="#cc0a7f" stroke-width="1.3"/>
<circle cx="364.58" cy="570.48" r="0.45" fill="#cc0a7f"/>
<circle cx="369.88" cy="566.56" r="2.3" fill="none" stroke="#cc0a7f" stroke-width="1.3"/>
<circle cx="369.88" cy="566.56" r="0.45" fill="#cc0a7f"/>
<circle cx="375.17" cy="568.71" r="2.3" fill="none" stroke="#cc0a7f" stroke-width="1.3"/>
<circle cx="375.17" cy="568.71" r="0.45" fill="#cc0a7f"/>
<circle cx="380.46" cy="570.22" r="2.3" fill="none" stroke="#cc0a7f" stroke-width="1.3"/>
<circle cx="380.46" cy="570.22" r="0.45" fill="#cc0a7f"/>
<circle cx="385.76" cy="569.59" r="2.3" fill="none" stroke="#cc0a7f" stroke-width="1.3"/>
<circle cx="385.76" cy="569.59" r="0.45" fill="#cc0a7f"/>
<circle cx="391.05" cy="568.96" r="2.3" fill="none" stroke="#cc0a7f" stroke-width="1.3"/>
<circle cx="391.05" cy="568.96" r="0.45" fill="#cc0a7f"/>
<circle cx="396.35" cy="570.35" r="2.3" fill="none" stroke="#cc0a7f" stroke-width="1.3"/>
<circle cx="396.35" cy="570.35" r="0.45" fill="#cc0a7f"/>
<circle cx="401.64" cy="567.95" r="2.3" fill="none" stroke="#cc0a7f" stroke-width="1.3"/>
<circle cx="401.64" cy="567.95" r="0.45" fill="#cc0a7f"/>
<circle cx="406.93" cy="569.21" r="2.3" fill="none" stroke="#cc0a7f" stroke-width="1.3"/>
<circle cx="406.93" cy="569.21" r="0.45" fill="#cc0a7f"/>
<circle cx="412.23" cy="569.34" r="2.3" fill="none" stroke="#cc0a7f" stroke-width="1.3"/>
<circle cx="412.23" cy="569.34" r="0.45" fill="#cc0a7f"/>
<circle cx="417.52" cy="569.34" r="2.3" fill="none" stroke="#cc0a7f" stroke-width="1.3"/>
<circle cx="417.52" cy="569.34" r="0.45" fill="#cc0a7f"/>
<circle cx="422.81" cy="569.34" r="2.3" fill="none" stroke="#cc0a7f" stroke-width="1.3"/>
<circle cx="422.81" cy="569.34" r="0.45" fill="#cc0a7f"/>
<circle cx="428.11" cy="569.34" r="2.3" fill="none" stroke="#cc0a7f" stroke-width="1.3"/>
<circle cx="428.11" cy="569.34" r="0.45" fill="#cc0a7f"/>
<circle cx="274.59" cy="651.17" r="2.7" fill="#cc0a7f"/>
<circle cx="273.84" cy="650.36" r="0.81" fill="#fff" fill-opacity="0.85"/>
<circle cx="279.89" cy="648.53" r="2.7" fill="#cc0a7f"/>
<circle cx="279.13" cy="647.72" r="0.81" fill="#fff" fill-opacity="0.85"/>
<circle cx="285.18" cy="645.73" r="2.7" fill="#cc0a7f"/>
<circle cx="284.42" cy="644.92" r="0.81" fill="#fff" fill-opacity="0.85"/>
<circle cx="290.47" cy="647.54" r="2.7" fill="#cc0a7f"/>
<circle cx="289.72" cy="646.73" r="0.81" fill="#fff" fill-opacity="0.85"/>
<circle cx="295.77" cy="647.21" r="2.7" fill="#cc0a7f"/>
<circle cx="295.01" cy="646.4" r="0.81" fill="#fff" fill-opacity="0.85"/>
<circle cx="301.06" cy="645.73" r="2.7" fill="#cc0a7f"/>
<circle cx="300.31" cy="644.92" r="0.81" fill="#fff" fill-opacity="0.85"/>
<circle cx="306.35" cy="645.56" r="2.7" fill="#cc0a7f"/>
<circle cx="305.6" cy="644.75" r="0.81" fill="#fff" fill-opacity="0.85"/>
<circle cx="311.65" cy="645.23" r="2.7" fill="#cc0a7f"/>
<circle cx="310.89" cy="644.42" r="0.81" fill="#fff" fill-opacity="0.85"/>
<circle cx="316.94" cy="647.54" r="2.7" fill="#cc0a7f"/>
<circle cx="316.19" cy="646.73" r="0.81" fill="#fff" fill-opacity="0.85"/>
<circle cx="322.24" cy="648.53" r="2.7" fill="#cc0a7f"/>
<circle cx="321.48" cy="647.72" r="0.81" fill="#fff" fill-opacity="0.85"/>
<circle cx="327.53" cy="646.88" r="2.7" fill="#cc0a7f"/>
<circle cx="326.77" cy="646.07" r="0.81" fill="#fff" fill-opacity="0.85"/>
<circle cx="332.82" cy="647.21" r="2.7" fill="#cc0a7f"/>
<circle cx="332.07" cy="646.4" r="0.81" fill="#fff" fill-opacity="0.85"/>
<circle cx="338.12" cy="649.02" r="2.7" fill="#cc0a7f"/>
<circle cx="337.36" cy="648.22" r="0.81" fill="#fff" fill-opacity="0.85"/>
<circle cx="343.41" cy="648.53" r="2.7" fill="#cc0a7f"/>
<circle cx="342.65" cy="647.72" r="0.81" fill="#fff" fill-opacity="0.85"/>
<circle cx="348.7" cy="646.22" r="2.7" fill="#cc0a7f"/>
<circle cx="347.95" cy="645.41" r="0.81" fill="#fff" fill-opacity="0.85"/>
<circle cx="354" cy="645.56" r="2.7" fill="#cc0a7f"/>
<circle cx="353.24" cy="644.75" r="0.81" fill="#fff" fill-opacity="0.85"/>
<circle cx="359.29" cy="648.2" r="2.7" fill="#cc0a7f"/>
<circle cx="358.53" cy="647.39" r="0.81" fill="#fff" fill-opacity="0.85"/>
<circle cx="364.58" cy="650.84" r="2.7" fill="#cc0a7f"/>
<circle cx="363.83" cy="650.03" r="0.81" fill="#fff" fill-opacity="0.85"/>
<circle cx="369.88" cy="646.88" r="2.7" fill="#cc0a7f"/>
<circle cx="369.12" cy="646.07" r="0.81" fill="#fff" fill-opacity="0.85"/>
<circle cx="375.17" cy="646.22" r="2.7" fill="#cc0a7f"/>
<circle cx="374.41" cy="645.41" r="0.81" fill="#fff" fill-opacity="0.85"/>
<circle cx="380.46" cy="648.86" r="2.7" fill="#cc0a7f"/>
<circle cx="379.71" cy="648.05" r="0.81" fill="#fff" fill-opacity="0.85"/>
<circle cx="385.76" cy="650.67" r="2.7" fill="#cc0a7f"/>
<circle cx="385" cy="649.87" r="0.81" fill="#fff" fill-opacity="0.85"/>
<circle cx="391.05" cy="650.01" r="2.7" fill="#cc0a7f"/>
<circle cx="390.3" cy="649.21" r="0.81" fill="#fff" fill-opacity="0.85"/>
<circle cx="396.35" cy="652" r="2.7" fill="#cc0a7f"/>
<circle cx="395.59" cy="651.19" r="0.81" fill="#fff" fill-opacity="0.85"/>
<circle cx="401.64" cy="648.86" r="2.7" fill="#cc0a7f"/>
<circle cx="400.88" cy="648.05" r="0.81" fill="#fff" fill-opacity="0.85"/>
<circle cx="406.93" cy="647.87" r="2.7" fill="#cc0a7f"/>
<circle cx="406.18" cy="647.06" r="0.81" fill="#fff" fill-opacity="0.85"/>
<circle cx="412.23" cy="649.19" r="2.7" fill="#cc0a7f"/>
<circle cx="411.47" cy="648.38" r="0.81" fill="#fff" fill-opacity="0.85"/>
<circle cx="417.52" cy="649.19" r="2.7" fill="#cc0a7f"/>
<circle cx="416.76" cy="648.38" r="0.81" fill="#fff" fill-opacity="0.85"/>
<circle cx="422.81" cy="648.53" r="2.7" fill="#cc0a7f"/>
<circle cx="422.06" cy="647.72" r="0.81" fill="#fff" fill-opacity="0.85"/>
<circle cx="428.11" cy="649.85" r="2.7" fill="#cc0a7f"/>
<circle cx="427.35" cy="649.04" r="0.81" fill="#fff" fill-opacity="0.85"/>
<text x="375" y="616.5" font-size="7.6" text-anchor="start" fill="#222" stroke="#222" stroke-width="0.18" >0.3 C charge</text>
<text x="375" y="625.3" font-size="7.6" text-anchor="start" fill="#222" stroke="#222" stroke-width="0.18" >0.5 C discharge</text>
<text x="274" y="675.4" font-size="7.6" text-anchor="start" fill="#222" stroke="#222" stroke-width="0.18" >BiF<tspan font-size="4.71" dy="1.67">3</tspan><tspan dy="-1.67">@Al||Na</tspan><tspan font-size="4.71" dy="1.67">4</tspan><tspan dy="-1.67">Fe</tspan><tspan font-size="4.71" dy="1.67">3</tspan><tspan dy="-1.67">(PO</tspan><tspan font-size="4.71" dy="1.67">4</tspan><tspan dy="-1.67">)</tspan><tspan font-size="4.71" dy="1.67">2</tspan><tspan dy="-1.67">P</tspan><tspan font-size="4.71" dy="1.67">2</tspan><tspan dy="-1.67">O</tspan><tspan font-size="4.71" dy="1.67">7</tspan><tspan dy="-1.67"> pouch cell</tspan></text>
<text x="274" y="688.7" font-size="7.6" text-anchor="start" fill="#222" stroke="#222" stroke-width="0.18" >Cathode mass loading = 15 mg cm<tspan font-size="4.71" dy="-2.89">−2</tspan><tspan dy="2.89"></tspan></text>
<path d="M282.8,641.4 C283,637.5 279,636 273.8,636.6" fill="none" stroke="#222" stroke-width="0.8" />
<path d="M271.6,636.8 L274.29,635.86 L274.09,638.19 Z" fill="#222"/>
<path d="M422,572.9 C423.5,576 426,577.2 429.5,577" fill="none" stroke="#222" stroke-width="0.8" />
<path d="M431.9,576.9 L429.3,578.07 L429.3,575.73 Z" fill="#222"/>
<text x="472" y="558.5" font-size="16" text-anchor="start" fill="#111" font-weight="bold" >j</text>
<path d="M512.4,602.37 L514.64,603.47 L516.87,604.55 L519.11,605.64 L521.34,606.73 L523.58,607.84 L525.81,608.98 L528.13,610.17 L530.44,611.37 L532.76,612.58 L535.07,613.83 L537.39,615.15 L539.7,616.53 L542.02,617.98 L544.33,619.48 L546.65,621.05 L548.96,622.73 L551.28,624.51 L553.59,626.44 L555.21,627.87 L556.83,629.37 L558.46,630.97 L560.08,632.73 L561.7,634.67 L563.32,636.82 L564.69,638.89 L566.06,641.24 L567.42,643.86 L568.79,646.75 L570.16,649.91 L571.53,653.34 L572.39,655.81 L573.25,658.65 L574.11,661.74 L574.97,664.96 L575.83,668.18 L576.69,671.28" fill="none" stroke="#8a2be0" stroke-width="1.05" />
<path d="M512.4,599.07 L514.64,599.69 L516.87,600.3 L519.11,600.9 L521.34,601.52 L523.58,602.17 L525.81,602.84 L529.29,603.99 L532.76,605.23 L536.23,606.53 L539.7,607.84 L543.18,609.14 L546.65,610.4 L550.13,611.58 L553.62,612.71 L557.11,613.83 L560.59,614.97 L564.08,616.17 L567.56,617.47 L569.15,618.09 L570.74,618.71 L572.33,619.36 L573.91,620.07 L575.5,620.84 L577.09,621.72 L578.48,622.62 L579.87,623.65 L581.25,624.8 L582.64,626.06 L584.03,627.4 L585.42,628.8 L586.81,630.29 L588.2,631.9 L589.59,633.63 L590.98,635.5 L592.37,637.51 L593.76,639.66 L594.95,641.61 L596.14,643.7 L597.33,645.97 L598.52,648.46 L599.71,651.22 L600.9,654.29 L601.63,656.5 L602.35,659.11 L603.08,661.97 L603.81,664.95 L604.54,667.94 L605.26,670.8" fill="none" stroke="#b33db8" stroke-width="1.05" />
<path d="M512.4,595.77 L515.77,596.06 L519.15,596.34 L522.52,596.61 L525.89,596.91 L529.27,597.25 L532.64,597.65 L537.27,598.39 L541.9,599.36 L546.53,600.5 L551.16,601.73 L555.79,603.01 L560.42,604.26 L565.98,605.69 L571.53,607.1 L577.09,608.58 L582.64,610.2 L588.2,612.04 L593.76,614.17 L594.62,614.54 L595.48,614.95 L596.34,615.4 L597.2,615.89 L598.05,616.42 L598.91,617 L600.44,618.11 L601.96,619.35 L603.48,620.77 L605,622.45 L606.52,624.48 L608.04,626.91 L608.97,628.81 L609.89,631.27 L610.82,634.33 L611.75,637.98 L612.67,642.27 L613.6,647.21 L614,649.98 L614.39,653.58 L614.79,657.75 L615.19,662.19 L615.58,666.64 L615.98,670.8" fill="none" stroke="#d64f8c" stroke-width="1.05" />
<path d="M512.4,594.35 L515.71,594.65 L519.01,594.93 L522.32,595.22 L525.63,595.52 L528.94,595.85 L532.24,596.24 L536.94,596.92 L541.64,597.75 L546.33,598.69 L551.03,599.72 L555.72,600.8 L560.42,601.9 L565.98,603.26 L571.53,604.73 L577.09,606.28 L582.64,607.92 L588.2,609.61 L593.76,611.34 L595.14,611.75 L596.53,612.13 L597.92,612.53 L599.31,612.98 L600.7,613.51 L602.09,614.17 L603.41,615.03 L604.74,616.19 L606.06,617.65 L607.38,619.37 L608.7,621.37 L610.03,623.61 L611.09,625.92 L612.14,628.96 L613.2,632.54 L614.26,636.5 L615.32,640.66 L616.38,644.85 L617.3,648.68 L618.23,652.87 L619.15,657.3 L620.08,661.84 L621.01,666.38 L621.93,670.8" fill="none" stroke="#ec6c5e" stroke-width="1.05" />
<path d="M512.4,592.46 L515.71,592.77 L519.01,593.06 L522.32,593.35 L525.63,593.65 L528.94,593.98 L532.24,594.35 L537.53,595.02 L542.83,595.78 L548.12,596.62 L553.41,597.54 L558.7,598.51 L563.99,599.54 L568.95,600.61 L573.91,601.81 L578.87,603.1 L583.83,604.44 L588.79,605.78 L593.76,607.09 L596.47,607.71 L599.18,608.23 L601.89,608.75 L604.6,609.38 L607.31,610.21 L610.03,611.34 L611.09,612.02 L612.14,613.01 L613.2,614.3 L614.26,615.88 L615.32,617.73 L616.38,619.83 L617.24,622.03 L618.1,624.97 L618.96,628.6 L619.82,632.84 L620.68,637.65 L621.54,642.96 L622,646.45 L622.46,650.77 L622.92,655.64 L623.39,660.78 L623.85,665.93 L624.31,670.8" fill="none" stroke="#f99c3e" stroke-width="1.05" />
<path d="M512.4,590.1 L515.71,590.29 L519.01,590.46 L522.32,590.63 L525.63,590.81 L528.94,591.03 L532.24,591.28 L537.53,591.88 L542.83,592.7 L548.12,593.68 L553.41,594.73 L558.7,595.77 L563.99,596.71 L568.95,597.49 L573.91,598.21 L578.87,598.93 L583.83,599.67 L588.79,600.49 L593.76,601.43 L597.53,602.18 L601.3,602.96 L605.07,603.83 L608.84,604.85 L612.61,606.07 L616.38,607.56 L617.24,607.94 L618.1,608.35 L618.96,608.85 L619.82,609.48 L620.68,610.29 L621.54,611.34 L622,612.52 L622.46,614.58 L622.92,617.18 L623.39,620.01 L623.85,622.73 L624.31,625.03 L624.84,627.11 L625.37,628.97 L625.9,630.73 L626.43,632.54 L626.96,634.52 L627.49,636.82 L628.02,639.56 L628.55,642.69 L629.08,646.14 L629.61,649.83 L630.13,653.67 L630.66,657.59 L630.93,659.63 L631.19,661.78 L631.46,664.02 L631.72,666.29 L631.99,668.57 L632.25,670.8" fill="none" stroke="#f8d22a" stroke-width="1.05" />
<rect x="512.4" y="562.4" width="138.9" height="132" fill="none" stroke="#2a2a2a" stroke-width="1"/>
<line x1="512.4" y1="694.4" x2="512.4" y2="697.4" stroke="#2a2a2a" stroke-width="1" />
<text x="512.4" y="706.7" font-size="9.5" text-anchor="middle" fill="#222" stroke="#222" stroke-width="0.18" >0</text>
<line x1="532.24" y1="694.4" x2="532.24" y2="697.4" stroke="#2a2a2a" stroke-width="1" />
<text x="532.24" y="706.7" font-size="9.5" text-anchor="middle" fill="#222" stroke="#222" stroke-width="0.18" >5</text>
<line x1="552.09" y1="694.4" x2="552.09" y2="697.4" stroke="#2a2a2a" stroke-width="1" />
<text x="552.09" y="706.7" font-size="9.5" text-anchor="middle" fill="#222" stroke="#222" stroke-width="0.18" >10</text>
<line x1="571.93" y1="694.4" x2="571.93" y2="697.4" stroke="#2a2a2a" stroke-width="1" />
<text x="571.93" y="706.7" font-size="9.5" text-anchor="middle" fill="#222" stroke="#222" stroke-width="0.18" >15</text>
<line x1="591.77" y1="694.4" x2="591.77" y2="697.4" stroke="#2a2a2a" stroke-width="1" />
<text x="591.77" y="706.7" font-size="9.5" text-anchor="middle" fill="#222" stroke="#222" stroke-width="0.18" >20</text>
<line x1="611.61" y1="694.4" x2="611.61" y2="697.4" stroke="#2a2a2a" stroke-width="1" />
<text x="611.61" y="706.7" font-size="9.5" text-anchor="middle" fill="#222" stroke="#222" stroke-width="0.18" >25</text>
<line x1="631.46" y1="694.4" x2="631.46" y2="697.4" stroke="#2a2a2a" stroke-width="1" />
<text x="631.46" y="706.7" font-size="9.5" text-anchor="middle" fill="#222" stroke="#222" stroke-width="0.18" >30</text>
<line x1="651.3" y1="694.4" x2="651.3" y2="697.4" stroke="#2a2a2a" stroke-width="1" />
<text x="651.3" y="706.7" font-size="9.5" text-anchor="middle" fill="#222" stroke="#222" stroke-width="0.18" >35</text>
<line x1="522.32" y1="694.4" x2="522.32" y2="696" stroke="#2a2a2a" stroke-width="1" />
<line x1="542.16" y1="694.4" x2="542.16" y2="696" stroke="#2a2a2a" stroke-width="1" />
<line x1="562.01" y1="694.4" x2="562.01" y2="696" stroke="#2a2a2a" stroke-width="1" />
<line x1="581.85" y1="694.4" x2="581.85" y2="696" stroke="#2a2a2a" stroke-width="1" />
<line x1="601.69" y1="694.4" x2="601.69" y2="696" stroke="#2a2a2a" stroke-width="1" />
<line x1="621.54" y1="694.4" x2="621.54" y2="696" stroke="#2a2a2a" stroke-width="1" />
<line x1="641.38" y1="694.4" x2="641.38" y2="696" stroke="#2a2a2a" stroke-width="1" />
<line x1="509.4" y1="694.4" x2="512.4" y2="694.4" stroke="#2a2a2a" stroke-width="1" />
<text x="507.8" y="697.6" font-size="9.5" text-anchor="end" fill="#222" stroke="#222" stroke-width="0.18" >1.0</text>
<line x1="509.4" y1="670.8" x2="512.4" y2="670.8" stroke="#2a2a2a" stroke-width="1" />
<text x="507.8" y="674" font-size="9.5" text-anchor="end" fill="#222" stroke="#222" stroke-width="0.18" >1.5</text>
<line x1="509.4" y1="647.21" x2="512.4" y2="647.21" stroke="#2a2a2a" stroke-width="1" />
<text x="507.8" y="650.41" font-size="9.5" text-anchor="end" fill="#222" stroke="#222" stroke-width="0.18" >2.0</text>
<line x1="509.4" y1="623.61" x2="512.4" y2="623.61" stroke="#2a2a2a" stroke-width="1" />
<text x="507.8" y="626.81" font-size="9.5" text-anchor="end" fill="#222" stroke="#222" stroke-width="0.18" >2.5</text>
<line x1="509.4" y1="600.01" x2="512.4" y2="600.01" stroke="#2a2a2a" stroke-width="1" />
<text x="507.8" y="603.21" font-size="9.5" text-anchor="end" fill="#222" stroke="#222" stroke-width="0.18" >3.0</text>
<line x1="509.4" y1="576.42" x2="512.4" y2="576.42" stroke="#2a2a2a" stroke-width="1" />
<text x="507.8" y="579.62" font-size="9.5" text-anchor="end" fill="#222" stroke="#222" stroke-width="0.18" >3.5</text>
<line x1="510.8" y1="682.6" x2="512.4" y2="682.6" stroke="#2a2a2a" stroke-width="1" />
<line x1="510.8" y1="659" x2="512.4" y2="659" stroke="#2a2a2a" stroke-width="1" />
<line x1="510.8" y1="635.41" x2="512.4" y2="635.41" stroke="#2a2a2a" stroke-width="1" />
<line x1="510.8" y1="611.81" x2="512.4" y2="611.81" stroke="#2a2a2a" stroke-width="1" />
<line x1="510.8" y1="588.21" x2="512.4" y2="588.21" stroke="#2a2a2a" stroke-width="1" />
<line x1="510.8" y1="564.62" x2="512.4" y2="564.62" stroke="#2a2a2a" stroke-width="1" />
<text x="488.8" y="628.4" font-size="10" text-anchor="middle" fill="#222" stroke="#222" stroke-width="0.18" transform="rotate(-90 488.8 628.4)" >Voltage (V)</text>
<text x="580.8" y="717" font-size="10" text-anchor="middle" fill="#222" stroke="#222" stroke-width="0.18" >Capacity (mAh)</text>
<text x="515.4" y="573.8" font-size="9.0" text-anchor="start" fill="#222" stroke="#222" stroke-width="0.18" >BiF<tspan font-size="5.58" dy="1.98">3</tspan><tspan dy="-1.98">@Al||Na</tspan><tspan font-size="5.58" dy="1.98">4</tspan><tspan dy="-1.98">Fe</tspan><tspan font-size="5.58" dy="1.98">3</tspan><tspan dy="-1.98">(PO</tspan><tspan font-size="5.58" dy="1.98">4</tspan><tspan dy="-1.98">)</tspan><tspan font-size="5.58" dy="1.98">2</tspan><tspan dy="-1.98">P</tspan><tspan font-size="5.58" dy="1.98">2</tspan><tspan dy="-1.98">O</tspan><tspan font-size="5.58" dy="1.98">7</tspan><tspan dy="-1.98"></tspan></text>
<text x="644.2" y="680.4" font-size="8.75" text-anchor="end" fill="#222" stroke="#222" stroke-width="0.18" >7, 5, 3, 2, 1, 0.5 C</text>
<line x1="645.9" y1="684.3" x2="574.5" y2="684.3" stroke="#555" stroke-width="1.1" />
<path d="M571.1,684.3 L574.6,682.72 L574.6,685.88 Z" fill="#333"/>
</svg></body></html>
